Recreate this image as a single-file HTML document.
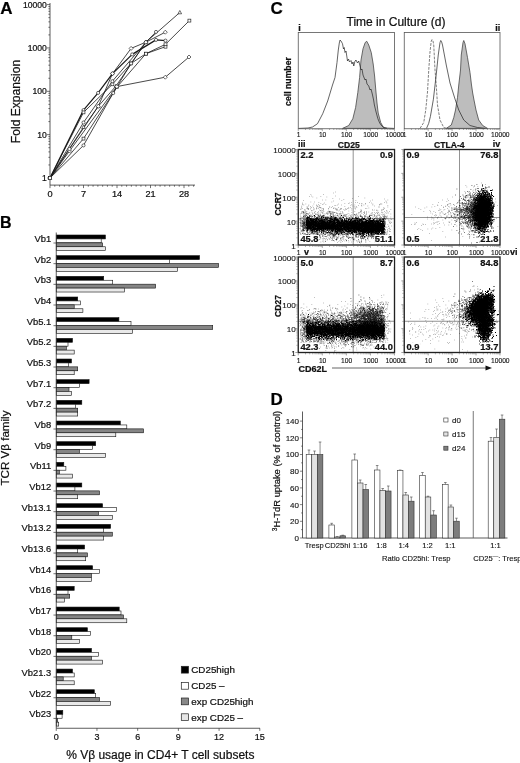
<!DOCTYPE html>
<html><head><meta charset="utf-8"><title>Figure</title>
<style>
html,body{margin:0;padding:0;background:#fff;}
body{width:520px;height:763px;overflow:hidden;font-family:"Liberation Sans",sans-serif;}
svg{display:block;font-family:"Liberation Sans",sans-serif;}
text{stroke:#111;stroke-width:0.22px;}
text.s{stroke-width:0.12px;}
#w{will-change:transform;width:520px;height:763px;}
</style></head><body><div id="w">
<svg width="520" height="763" viewBox="0 0 520 763">
<rect width="520" height="763" fill="#fff"/>
<g id="A">
<text x="0.3" y="14.4" font-size="17" font-weight="bold" fill="#000">A</text>
<line x1="50" y1="3" x2="50" y2="185.1" stroke="#333" stroke-width="0.8"/>
<line x1="50" y1="185.1" x2="195" y2="185.1" stroke="#333" stroke-width="0.8"/>
<path d="M47 178H50M48.4 164.95H50M48.4 157.32H50M48.4 151.9H50M48.4 147.7H50M48.4 144.27H50M48.4 141.36H50M48.4 138.85H50M48.4 136.63H50M47 134.65H50M48.4 121.6H50M48.4 113.97H50M48.4 108.55H50M48.4 104.35H50M48.4 100.92H50M48.4 98.01H50M48.4 95.5H50M48.4 93.28H50M47 91.3H50M48.4 78.25H50M48.4 70.62H50M48.4 65.2H50M48.4 61H50M48.4 57.57H50M48.4 54.66H50M48.4 52.15H50M48.4 49.93H50M47 47.95H50M48.4 34.9H50M48.4 27.27H50M48.4 21.85H50M48.4 17.65H50M48.4 14.22H50M48.4 11.31H50M48.4 8.8H50M48.4 6.58H50M47 4.6H50M50 185.1V188.1M54.79 185.1V186.7M59.57 185.1V186.7M64.36 185.1V186.7M69.14 185.1V186.7M73.93 185.1V186.7M78.72 185.1V186.7M83.5 185.1V188.1M88.29 185.1V186.7M93.07 185.1V186.7M97.86 185.1V186.7M102.65 185.1V186.7M107.43 185.1V186.7M112.22 185.1V186.7M117 185.1V188.1M121.79 185.1V186.7M126.58 185.1V186.7M131.36 185.1V186.7M136.15 185.1V186.7M140.93 185.1V186.7M145.72 185.1V186.7M150.51 185.1V188.1M155.29 185.1V186.7M160.08 185.1V186.7M164.86 185.1V186.7M169.65 185.1V186.7M174.44 185.1V186.7M179.22 185.1V186.7M184.01 185.1V188.1M188.79 185.1V186.7M193.58 185.1V186.7" stroke="#333" stroke-width="0.7" fill="none"/>
<text x="46.8" y="181.1" font-size="8.6" text-anchor="end" fill="#111">1</text>
<text x="46.8" y="137.75" font-size="8.6" text-anchor="end" fill="#111">10</text>
<text x="46.8" y="94.4" font-size="8.6" text-anchor="end" fill="#111">100</text>
<text x="46.8" y="51.05" font-size="8.6" text-anchor="end" fill="#111">1000</text>
<text x="46.8" y="7.7" font-size="8.6" text-anchor="end" fill="#111">10000</text>
<text x="50" y="196.9" font-size="9.2" text-anchor="middle" fill="#111">0</text>
<text x="83.5" y="196.9" font-size="9.2" text-anchor="middle" fill="#111">7</text>
<text x="117" y="196.9" font-size="9.2" text-anchor="middle" fill="#111">14</text>
<text x="150.51" y="196.9" font-size="9.2" text-anchor="middle" fill="#111">21</text>
<text x="184.01" y="196.9" font-size="9.2" text-anchor="middle" fill="#111">28</text>
<text x="20.3" y="101.5" font-size="12.1" text-anchor="middle" transform="rotate(-90 20.3 101.5)" fill="#111">Fold Expansion</text>
<path d="M50 178L83.5 110.1L98.1 92.9L112.5 73.6L132.2 54.4L156 39.9L165.5 40.6" stroke="#1a1a1a" stroke-width="1.25" fill="none" stroke-linejoin="round"/>
<path d="M50 178L83.5 112.4L112.4 84.3L131.1 63.4L145.9 53.7L165.5 46.7" stroke="#1a1a1a" stroke-width="0.8" fill="none" stroke-linejoin="round"/>
<path d="M50 178L83.5 122.5L112.4 81.2L145.9 42.2L156 31.9" stroke="#1a1a1a" stroke-width="0.8" fill="none" stroke-linejoin="round"/>
<path d="M50 178L83.5 127.2L98.3 106.3L116 86L145.9 42.2L179.8 12.5" stroke="#1a1a1a" stroke-width="0.8" fill="none" stroke-linejoin="round"/>
<path d="M50 178L83.5 138.6L117.2 86.8L145.9 53.7L165.5 44.3L189.4 20.6" stroke="#1a1a1a" stroke-width="0.8" fill="none" stroke-linejoin="round"/>
<path d="M50 178L83.5 145.4L113.2 93.1L131.1 63.4L145.9 42.2" stroke="#1a1a1a" stroke-width="0.8" fill="none" stroke-linejoin="round"/>
<path d="M50 178L69.5 151L116.8 86.6L165.3 77.2L189 57" stroke="#1a1a1a" stroke-width="0.8" fill="none" stroke-linejoin="round"/>
<path d="M50 178L69.5 149L98.3 106.3L112.5 73.6L131.1 48.4L145.9 42.2L165.3 32.2" stroke="#1a1a1a" stroke-width="0.8" fill="none" stroke-linejoin="round"/>
<circle cx="50" cy="178" r="1.55" fill="#fff" stroke="#1a1a1a" stroke-width="0.65"/>
<circle cx="83.5" cy="110.1" r="1.55" fill="#fff" stroke="#1a1a1a" stroke-width="0.65"/>
<circle cx="98.1" cy="92.9" r="1.55" fill="#fff" stroke="#1a1a1a" stroke-width="0.65"/>
<circle cx="112.5" cy="73.6" r="1.55" fill="#fff" stroke="#1a1a1a" stroke-width="0.65"/>
<circle cx="132.2" cy="54.4" r="1.55" fill="#fff" stroke="#1a1a1a" stroke-width="0.65"/>
<circle cx="156" cy="39.9" r="1.55" fill="#fff" stroke="#1a1a1a" stroke-width="0.65"/>
<circle cx="165.5" cy="40.6" r="1.55" fill="#fff" stroke="#1a1a1a" stroke-width="0.65"/>
<rect x="48.55" y="176.55" width="2.9" height="2.9" fill="#fff" stroke="#1a1a1a" stroke-width="0.65"/>
<rect x="82.05" y="110.95" width="2.9" height="2.9" fill="#fff" stroke="#1a1a1a" stroke-width="0.65"/>
<rect x="110.95" y="82.85" width="2.9" height="2.9" fill="#fff" stroke="#1a1a1a" stroke-width="0.65"/>
<rect x="129.65" y="61.95" width="2.9" height="2.9" fill="#fff" stroke="#1a1a1a" stroke-width="0.65"/>
<rect x="144.45" y="52.25" width="2.9" height="2.9" fill="#fff" stroke="#1a1a1a" stroke-width="0.65"/>
<rect x="164.05" y="45.25" width="2.9" height="2.9" fill="#fff" stroke="#1a1a1a" stroke-width="0.65"/>
<circle cx="50" cy="178" r="1.55" fill="#fff" stroke="#1a1a1a" stroke-width="0.65"/>
<circle cx="83.5" cy="122.5" r="1.55" fill="#fff" stroke="#1a1a1a" stroke-width="0.65"/>
<circle cx="112.4" cy="81.2" r="1.55" fill="#fff" stroke="#1a1a1a" stroke-width="0.65"/>
<circle cx="145.9" cy="42.2" r="1.55" fill="#fff" stroke="#1a1a1a" stroke-width="0.65"/>
<circle cx="156" cy="31.9" r="1.55" fill="#fff" stroke="#1a1a1a" stroke-width="0.65"/>
<path d="M50 176L51.8 179.3H48.2Z" fill="#fff" stroke="#1a1a1a" stroke-width="0.65"/>
<path d="M83.5 125.2L85.3 128.5H81.7Z" fill="#fff" stroke="#1a1a1a" stroke-width="0.65"/>
<path d="M98.3 104.3L100.1 107.6H96.5Z" fill="#fff" stroke="#1a1a1a" stroke-width="0.65"/>
<path d="M116 84L117.8 87.3H114.2Z" fill="#fff" stroke="#1a1a1a" stroke-width="0.65"/>
<path d="M145.9 40.2L147.7 43.5H144.1Z" fill="#fff" stroke="#1a1a1a" stroke-width="0.65"/>
<path d="M179.8 10.5L181.6 13.8H178Z" fill="#fff" stroke="#1a1a1a" stroke-width="0.65"/>
<rect x="48.55" y="176.55" width="2.9" height="2.9" fill="#fff" stroke="#1a1a1a" stroke-width="0.65"/>
<rect x="82.05" y="137.15" width="2.9" height="2.9" fill="#fff" stroke="#1a1a1a" stroke-width="0.65"/>
<rect x="115.75" y="85.35" width="2.9" height="2.9" fill="#fff" stroke="#1a1a1a" stroke-width="0.65"/>
<rect x="144.45" y="52.25" width="2.9" height="2.9" fill="#fff" stroke="#1a1a1a" stroke-width="0.65"/>
<rect x="164.05" y="42.85" width="2.9" height="2.9" fill="#fff" stroke="#1a1a1a" stroke-width="0.65"/>
<rect x="187.95" y="19.15" width="2.9" height="2.9" fill="#fff" stroke="#1a1a1a" stroke-width="0.65"/>
<circle cx="50" cy="178" r="1.55" fill="#fff" stroke="#1a1a1a" stroke-width="0.65"/>
<circle cx="83.5" cy="145.4" r="1.55" fill="#fff" stroke="#1a1a1a" stroke-width="0.65"/>
<circle cx="113.2" cy="93.1" r="1.55" fill="#fff" stroke="#1a1a1a" stroke-width="0.65"/>
<circle cx="131.1" cy="63.4" r="1.55" fill="#fff" stroke="#1a1a1a" stroke-width="0.65"/>
<circle cx="145.9" cy="42.2" r="1.55" fill="#fff" stroke="#1a1a1a" stroke-width="0.65"/>
<path d="M50 176L52 178L50 180L48 178Z" fill="#fff" stroke="#1a1a1a" stroke-width="0.65"/>
<path d="M69.5 149L71.5 151L69.5 153L67.5 151Z" fill="#fff" stroke="#1a1a1a" stroke-width="0.65"/>
<path d="M116.8 84.6L118.8 86.6L116.8 88.6L114.8 86.6Z" fill="#fff" stroke="#1a1a1a" stroke-width="0.65"/>
<path d="M165.3 75.2L167.3 77.2L165.3 79.2L163.3 77.2Z" fill="#fff" stroke="#1a1a1a" stroke-width="0.65"/>
<path d="M189 55L191 57L189 59L187 57Z" fill="#fff" stroke="#1a1a1a" stroke-width="0.65"/>
<path d="M50 176L52 178L50 180L48 178Z" fill="#fff" stroke="#1a1a1a" stroke-width="0.65"/>
<path d="M69.5 147L71.5 149L69.5 151L67.5 149Z" fill="#fff" stroke="#1a1a1a" stroke-width="0.65"/>
<path d="M98.3 104.3L100.3 106.3L98.3 108.3L96.3 106.3Z" fill="#fff" stroke="#1a1a1a" stroke-width="0.65"/>
<path d="M112.5 71.6L114.5 73.6L112.5 75.6L110.5 73.6Z" fill="#fff" stroke="#1a1a1a" stroke-width="0.65"/>
<path d="M131.1 46.4L133.1 48.4L131.1 50.4L129.1 48.4Z" fill="#fff" stroke="#1a1a1a" stroke-width="0.65"/>
<path d="M145.9 40.2L147.9 42.2L145.9 44.2L143.9 42.2Z" fill="#fff" stroke="#1a1a1a" stroke-width="0.65"/>
<path d="M165.3 30.2L167.3 32.2L165.3 34.2L163.3 32.2Z" fill="#fff" stroke="#1a1a1a" stroke-width="0.65"/>
</g>
<g id="B">
<text x="0" y="228" font-size="16" font-weight="bold" fill="#000">B</text>
<rect x="56.25" y="235" width="49.15" height="3.92" fill="#000" stroke="#111" stroke-width="0.6"/>
<rect x="56.25" y="238.92" width="44.95" height="3.92" fill="#fff" stroke="#111" stroke-width="0.6"/>
<rect x="56.25" y="242.84" width="46.35" height="3.92" fill="#858585" stroke="#111" stroke-width="0.6"/>
<rect x="56.25" y="246.76" width="49.15" height="3.92" fill="#e9e9e9" stroke="#111" stroke-width="0.6"/>
<line x1="53.45" y1="243" x2="56.25" y2="243" stroke="#333" stroke-width="0.7"/>
<text x="51.2" y="242" font-size="9.4" text-anchor="end" fill="#111">Vb1</text>
<rect x="56.25" y="255.67" width="143.25" height="3.92" fill="#000" stroke="#111" stroke-width="0.6"/>
<rect x="56.25" y="259.59" width="113.15" height="3.92" fill="#fff" stroke="#111" stroke-width="0.6"/>
<rect x="56.25" y="263.51" width="162.35" height="3.92" fill="#858585" stroke="#111" stroke-width="0.6"/>
<rect x="56.25" y="267.43" width="121.15" height="3.92" fill="#e9e9e9" stroke="#111" stroke-width="0.6"/>
<line x1="53.45" y1="263.67" x2="56.25" y2="263.67" stroke="#333" stroke-width="0.7"/>
<text x="51.2" y="262.67" font-size="9.4" text-anchor="end" fill="#111">Vb2</text>
<rect x="56.25" y="276.34" width="47.45" height="3.92" fill="#000" stroke="#111" stroke-width="0.6"/>
<rect x="56.25" y="280.26" width="56.45" height="3.92" fill="#fff" stroke="#111" stroke-width="0.6"/>
<rect x="56.25" y="284.18" width="99.35" height="3.92" fill="#858585" stroke="#111" stroke-width="0.6"/>
<rect x="56.25" y="288.1" width="68.15" height="3.92" fill="#e9e9e9" stroke="#111" stroke-width="0.6"/>
<line x1="53.45" y1="284.34" x2="56.25" y2="284.34" stroke="#333" stroke-width="0.7"/>
<text x="51.2" y="283.34" font-size="9.4" text-anchor="end" fill="#111">Vb3</text>
<rect x="56.25" y="297.01" width="21.45" height="3.92" fill="#000" stroke="#111" stroke-width="0.6"/>
<rect x="56.25" y="300.93" width="24.25" height="3.92" fill="#fff" stroke="#111" stroke-width="0.6"/>
<rect x="56.25" y="304.85" width="17.95" height="3.92" fill="#858585" stroke="#111" stroke-width="0.6"/>
<rect x="56.25" y="308.77" width="26.65" height="3.92" fill="#e9e9e9" stroke="#111" stroke-width="0.6"/>
<line x1="53.45" y1="305.01" x2="56.25" y2="305.01" stroke="#333" stroke-width="0.7"/>
<text x="51.2" y="304.01" font-size="9.4" text-anchor="end" fill="#111">Vb4</text>
<rect x="56.25" y="317.68" width="62.65" height="3.92" fill="#000" stroke="#111" stroke-width="0.6"/>
<rect x="56.25" y="321.6" width="74.75" height="3.92" fill="#fff" stroke="#111" stroke-width="0.6"/>
<rect x="56.25" y="325.52" width="156.45" height="3.92" fill="#858585" stroke="#111" stroke-width="0.6"/>
<rect x="56.25" y="329.44" width="76.15" height="3.92" fill="#e9e9e9" stroke="#111" stroke-width="0.6"/>
<line x1="53.45" y1="325.68" x2="56.25" y2="325.68" stroke="#333" stroke-width="0.7"/>
<text x="51.2" y="324.68" font-size="9.4" text-anchor="end" fill="#111">Vb5.1</text>
<rect x="56.25" y="338.35" width="16.25" height="3.92" fill="#000" stroke="#111" stroke-width="0.6"/>
<rect x="56.25" y="342.27" width="11.75" height="3.92" fill="#fff" stroke="#111" stroke-width="0.6"/>
<rect x="56.25" y="346.19" width="10.05" height="3.92" fill="#858585" stroke="#111" stroke-width="0.6"/>
<rect x="56.25" y="350.11" width="17.95" height="3.92" fill="#e9e9e9" stroke="#111" stroke-width="0.6"/>
<line x1="53.45" y1="346.35" x2="56.25" y2="346.35" stroke="#333" stroke-width="0.7"/>
<text x="51.2" y="345.35" font-size="9.4" text-anchor="end" fill="#111">Vb5.2</text>
<rect x="56.25" y="359.02" width="15.25" height="3.92" fill="#000" stroke="#111" stroke-width="0.6"/>
<rect x="56.25" y="362.94" width="12.05" height="3.92" fill="#fff" stroke="#111" stroke-width="0.6"/>
<rect x="56.25" y="366.86" width="21.45" height="3.92" fill="#858585" stroke="#111" stroke-width="0.6"/>
<rect x="56.25" y="370.78" width="17.95" height="3.92" fill="#e9e9e9" stroke="#111" stroke-width="0.6"/>
<line x1="53.45" y1="367.02" x2="56.25" y2="367.02" stroke="#333" stroke-width="0.7"/>
<text x="51.2" y="366.02" font-size="9.4" text-anchor="end" fill="#111">Vb5.3</text>
<rect x="56.25" y="379.69" width="32.85" height="3.92" fill="#000" stroke="#111" stroke-width="0.6"/>
<rect x="56.25" y="383.61" width="23.15" height="3.92" fill="#fff" stroke="#111" stroke-width="0.6"/>
<rect x="56.25" y="387.53" width="12.75" height="3.92" fill="#858585" stroke="#111" stroke-width="0.6"/>
<rect x="56.25" y="391.45" width="15.25" height="3.92" fill="#e9e9e9" stroke="#111" stroke-width="0.6"/>
<line x1="53.45" y1="387.69" x2="56.25" y2="387.69" stroke="#333" stroke-width="0.7"/>
<text x="51.2" y="386.69" font-size="9.4" text-anchor="end" fill="#111">Vb7.1</text>
<rect x="56.25" y="400.36" width="25.55" height="3.92" fill="#000" stroke="#111" stroke-width="0.6"/>
<rect x="56.25" y="404.28" width="19.05" height="3.92" fill="#fff" stroke="#111" stroke-width="0.6"/>
<rect x="56.25" y="408.2" width="21.45" height="3.92" fill="#858585" stroke="#111" stroke-width="0.6"/>
<rect x="56.25" y="412.12" width="21.45" height="3.92" fill="#e9e9e9" stroke="#111" stroke-width="0.6"/>
<line x1="53.45" y1="408.36" x2="56.25" y2="408.36" stroke="#333" stroke-width="0.7"/>
<text x="51.2" y="407.36" font-size="9.4" text-anchor="end" fill="#111">Vb7.2</text>
<rect x="56.25" y="421.03" width="64.05" height="3.92" fill="#000" stroke="#111" stroke-width="0.6"/>
<rect x="56.25" y="424.95" width="70.55" height="3.92" fill="#fff" stroke="#111" stroke-width="0.6"/>
<rect x="56.25" y="428.87" width="87.25" height="3.92" fill="#858585" stroke="#111" stroke-width="0.6"/>
<rect x="56.25" y="432.79" width="59.55" height="3.92" fill="#e9e9e9" stroke="#111" stroke-width="0.6"/>
<line x1="53.45" y1="429.03" x2="56.25" y2="429.03" stroke="#333" stroke-width="0.7"/>
<text x="51.2" y="428.03" font-size="9.4" text-anchor="end" fill="#111">Vb8</text>
<rect x="56.25" y="441.7" width="39.45" height="3.92" fill="#000" stroke="#111" stroke-width="0.6"/>
<rect x="56.25" y="445.62" width="36.35" height="3.92" fill="#fff" stroke="#111" stroke-width="0.6"/>
<rect x="56.25" y="449.54" width="23.15" height="3.92" fill="#858585" stroke="#111" stroke-width="0.6"/>
<rect x="56.25" y="453.46" width="49.15" height="3.92" fill="#e9e9e9" stroke="#111" stroke-width="0.6"/>
<line x1="53.45" y1="449.7" x2="56.25" y2="449.7" stroke="#333" stroke-width="0.7"/>
<text x="51.2" y="448.7" font-size="9.4" text-anchor="end" fill="#111">Vb9</text>
<rect x="56.25" y="462.37" width="7.55" height="3.92" fill="#000" stroke="#111" stroke-width="0.6"/>
<rect x="56.25" y="466.29" width="9.65" height="3.92" fill="#fff" stroke="#111" stroke-width="0.6"/>
<rect x="56.25" y="470.21" width="3.05" height="3.92" fill="#858585" stroke="#111" stroke-width="0.6"/>
<rect x="56.25" y="474.13" width="16.25" height="3.92" fill="#e9e9e9" stroke="#111" stroke-width="0.6"/>
<line x1="53.45" y1="470.37" x2="56.25" y2="470.37" stroke="#333" stroke-width="0.7"/>
<text x="51.2" y="469.37" font-size="9.4" text-anchor="end" fill="#111">Vb11</text>
<rect x="56.25" y="483.04" width="25.55" height="3.92" fill="#000" stroke="#111" stroke-width="0.6"/>
<rect x="56.25" y="486.96" width="18.65" height="3.92" fill="#fff" stroke="#111" stroke-width="0.6"/>
<rect x="56.25" y="490.88" width="43.25" height="3.92" fill="#858585" stroke="#111" stroke-width="0.6"/>
<rect x="56.25" y="494.8" width="21.45" height="3.92" fill="#e9e9e9" stroke="#111" stroke-width="0.6"/>
<line x1="53.45" y1="491.04" x2="56.25" y2="491.04" stroke="#333" stroke-width="0.7"/>
<text x="51.2" y="490.04" font-size="9.4" text-anchor="end" fill="#111">Vb12</text>
<rect x="56.25" y="503.71" width="46.35" height="3.92" fill="#000" stroke="#111" stroke-width="0.6"/>
<rect x="56.25" y="507.63" width="60.25" height="3.92" fill="#fff" stroke="#111" stroke-width="0.6"/>
<rect x="56.25" y="511.55" width="42.25" height="3.92" fill="#858585" stroke="#111" stroke-width="0.6"/>
<rect x="56.25" y="515.47" width="56.05" height="3.92" fill="#e9e9e9" stroke="#111" stroke-width="0.6"/>
<line x1="53.45" y1="511.71" x2="56.25" y2="511.71" stroke="#333" stroke-width="0.7"/>
<text x="51.2" y="510.71" font-size="9.4" text-anchor="end" fill="#111">Vb13.1</text>
<rect x="56.25" y="524.38" width="54.35" height="3.92" fill="#000" stroke="#111" stroke-width="0.6"/>
<rect x="56.25" y="528.3" width="47.45" height="3.92" fill="#fff" stroke="#111" stroke-width="0.6"/>
<rect x="56.25" y="532.22" width="56.05" height="3.92" fill="#858585" stroke="#111" stroke-width="0.6"/>
<rect x="56.25" y="536.14" width="47.45" height="3.92" fill="#e9e9e9" stroke="#111" stroke-width="0.6"/>
<line x1="53.45" y1="532.38" x2="56.25" y2="532.38" stroke="#333" stroke-width="0.7"/>
<text x="51.2" y="531.38" font-size="9.4" text-anchor="end" fill="#111">Vb13.2</text>
<rect x="56.25" y="545.05" width="28.35" height="3.92" fill="#000" stroke="#111" stroke-width="0.6"/>
<rect x="56.25" y="548.97" width="21.45" height="3.92" fill="#fff" stroke="#111" stroke-width="0.6"/>
<rect x="56.25" y="552.89" width="31.15" height="3.92" fill="#858585" stroke="#111" stroke-width="0.6"/>
<rect x="56.25" y="556.81" width="29.45" height="3.92" fill="#e9e9e9" stroke="#111" stroke-width="0.6"/>
<line x1="53.45" y1="553.05" x2="56.25" y2="553.05" stroke="#333" stroke-width="0.7"/>
<text x="51.2" y="552.05" font-size="9.4" text-anchor="end" fill="#111">Vb13.6</text>
<rect x="56.25" y="565.72" width="36.35" height="3.92" fill="#000" stroke="#111" stroke-width="0.6"/>
<rect x="56.25" y="569.64" width="43.25" height="3.92" fill="#fff" stroke="#111" stroke-width="0.6"/>
<rect x="56.25" y="573.56" width="35.25" height="3.92" fill="#858585" stroke="#111" stroke-width="0.6"/>
<rect x="56.25" y="577.48" width="35.25" height="3.92" fill="#e9e9e9" stroke="#111" stroke-width="0.6"/>
<line x1="53.45" y1="573.72" x2="56.25" y2="573.72" stroke="#333" stroke-width="0.7"/>
<text x="51.2" y="572.72" font-size="9.4" text-anchor="end" fill="#111">Vb14</text>
<rect x="56.25" y="586.39" width="17.95" height="3.92" fill="#000" stroke="#111" stroke-width="0.6"/>
<rect x="56.25" y="590.31" width="11.75" height="3.92" fill="#fff" stroke="#111" stroke-width="0.6"/>
<rect x="56.25" y="594.23" width="13.45" height="3.92" fill="#858585" stroke="#111" stroke-width="0.6"/>
<rect x="56.25" y="598.15" width="8.25" height="3.92" fill="#e9e9e9" stroke="#111" stroke-width="0.6"/>
<line x1="53.45" y1="594.39" x2="56.25" y2="594.39" stroke="#333" stroke-width="0.7"/>
<text x="51.2" y="593.39" font-size="9.4" text-anchor="end" fill="#111">Vb16</text>
<rect x="56.25" y="607.06" width="62.95" height="3.92" fill="#000" stroke="#111" stroke-width="0.6"/>
<rect x="56.25" y="610.98" width="64.75" height="3.92" fill="#fff" stroke="#111" stroke-width="0.6"/>
<rect x="56.25" y="614.9" width="67.15" height="3.92" fill="#858585" stroke="#111" stroke-width="0.6"/>
<rect x="56.25" y="618.82" width="70.55" height="3.92" fill="#e9e9e9" stroke="#111" stroke-width="0.6"/>
<line x1="53.45" y1="615.06" x2="56.25" y2="615.06" stroke="#333" stroke-width="0.7"/>
<text x="51.2" y="614.06" font-size="9.4" text-anchor="end" fill="#111">Vb17</text>
<rect x="56.25" y="627.73" width="31.15" height="3.92" fill="#000" stroke="#111" stroke-width="0.6"/>
<rect x="56.25" y="631.65" width="34.25" height="3.92" fill="#fff" stroke="#111" stroke-width="0.6"/>
<rect x="56.25" y="635.57" width="15.55" height="3.92" fill="#858585" stroke="#111" stroke-width="0.6"/>
<rect x="56.25" y="639.49" width="23.15" height="3.92" fill="#e9e9e9" stroke="#111" stroke-width="0.6"/>
<line x1="53.45" y1="635.73" x2="56.25" y2="635.73" stroke="#333" stroke-width="0.7"/>
<text x="51.2" y="634.73" font-size="9.4" text-anchor="end" fill="#111">Vb18</text>
<rect x="56.25" y="648.4" width="35.25" height="3.92" fill="#000" stroke="#111" stroke-width="0.6"/>
<rect x="56.25" y="652.32" width="42.25" height="3.92" fill="#fff" stroke="#111" stroke-width="0.6"/>
<rect x="56.25" y="656.24" width="35.25" height="3.92" fill="#858585" stroke="#111" stroke-width="0.6"/>
<rect x="56.25" y="660.16" width="46.35" height="3.92" fill="#e9e9e9" stroke="#111" stroke-width="0.6"/>
<line x1="53.45" y1="656.4" x2="56.25" y2="656.4" stroke="#333" stroke-width="0.7"/>
<text x="51.2" y="655.4" font-size="9.4" text-anchor="end" fill="#111">Vb20</text>
<rect x="56.25" y="669.07" width="16.25" height="3.92" fill="#000" stroke="#111" stroke-width="0.6"/>
<rect x="56.25" y="672.99" width="17.95" height="3.92" fill="#fff" stroke="#111" stroke-width="0.6"/>
<rect x="56.25" y="676.91" width="6.95" height="3.92" fill="#858585" stroke="#111" stroke-width="0.6"/>
<rect x="56.25" y="680.83" width="17.95" height="3.92" fill="#e9e9e9" stroke="#111" stroke-width="0.6"/>
<line x1="53.45" y1="677.07" x2="56.25" y2="677.07" stroke="#333" stroke-width="0.7"/>
<text x="51.2" y="676.07" font-size="9.4" text-anchor="end" fill="#111">Vb21.3</text>
<rect x="56.25" y="689.74" width="38.05" height="3.92" fill="#000" stroke="#111" stroke-width="0.6"/>
<rect x="56.25" y="693.66" width="39.45" height="3.92" fill="#fff" stroke="#111" stroke-width="0.6"/>
<rect x="56.25" y="697.58" width="43.25" height="3.92" fill="#858585" stroke="#111" stroke-width="0.6"/>
<rect x="56.25" y="701.5" width="54.35" height="3.92" fill="#e9e9e9" stroke="#111" stroke-width="0.6"/>
<line x1="53.45" y1="697.74" x2="56.25" y2="697.74" stroke="#333" stroke-width="0.7"/>
<text x="51.2" y="696.74" font-size="9.4" text-anchor="end" fill="#111">Vb22</text>
<rect x="56.25" y="710.41" width="6.55" height="3.92" fill="#000" stroke="#111" stroke-width="0.6"/>
<rect x="56.25" y="714.33" width="5.85" height="3.92" fill="#fff" stroke="#111" stroke-width="0.6"/>
<rect x="56.25" y="718.25" width="1.35" height="3.92" fill="#858585" stroke="#111" stroke-width="0.6"/>
<rect x="56.25" y="722.17" width="2.45" height="3.92" fill="#e9e9e9" stroke="#111" stroke-width="0.6"/>
<line x1="53.45" y1="718.41" x2="56.25" y2="718.41" stroke="#333" stroke-width="0.7"/>
<text x="51.2" y="717.41" font-size="9.4" text-anchor="end" fill="#111">Vb23</text>
<line x1="56.25" y1="232.5" x2="56.25" y2="728.25" stroke="#333" stroke-width="0.8"/>
<line x1="56.25" y1="728.25" x2="260" y2="728.25" stroke="#333" stroke-width="0.8"/>
<line x1="56.25" y1="728.25" x2="56.25" y2="730.85" stroke="#333" stroke-width="0.7"/>
<text x="56.25" y="740" font-size="9" text-anchor="middle" fill="#111">0</text>
<line x1="96.96" y1="728.25" x2="96.96" y2="730.85" stroke="#333" stroke-width="0.7"/>
<text x="96.96" y="740" font-size="9" text-anchor="middle" fill="#111">3</text>
<line x1="137.67" y1="728.25" x2="137.67" y2="730.85" stroke="#333" stroke-width="0.7"/>
<text x="137.67" y="740" font-size="9" text-anchor="middle" fill="#111">6</text>
<line x1="178.38" y1="728.25" x2="178.38" y2="730.85" stroke="#333" stroke-width="0.7"/>
<text x="178.38" y="740" font-size="9" text-anchor="middle" fill="#111">9</text>
<line x1="219.09" y1="728.25" x2="219.09" y2="730.85" stroke="#333" stroke-width="0.7"/>
<text x="219.09" y="740" font-size="9" text-anchor="middle" fill="#111">12</text>
<line x1="259.8" y1="728.25" x2="259.8" y2="730.85" stroke="#333" stroke-width="0.7"/>
<text x="259.8" y="740" font-size="9" text-anchor="middle" fill="#111">15</text>
<text x="160.3" y="758.7" font-size="12" text-anchor="middle" fill="#111">% Vβ usage in CD4+ T cell subsets</text>
<text x="9.2" y="448" font-size="11.6" text-anchor="middle" transform="rotate(-90 9.2 448)" fill="#111">TCR Vβ family</text>
<rect x="181.3" y="666.3" width="7.2" height="6.8" fill="#000" stroke="#222" stroke-width="0.7"/>
<text x="191.3" y="673.2" font-size="9.8" fill="#111">CD25high</text>
<rect x="181.3" y="682.4" width="7.2" height="6.8" fill="#fff" stroke="#222" stroke-width="0.7"/>
<text x="191.3" y="689.3" font-size="9.8" fill="#111">CD25 –</text>
<rect x="181.3" y="698" width="7.2" height="6.8" fill="#888" stroke="#222" stroke-width="0.7"/>
<text x="191.3" y="704.9" font-size="9.8" fill="#111">exp CD25high</text>
<rect x="181.3" y="713.8" width="7.2" height="6.8" fill="#e6e6e6" stroke="#222" stroke-width="0.7"/>
<text x="191.3" y="720.7" font-size="9.8" fill="#111">exp CD25 –</text>
</g>
<g id="C">
<text x="270.5" y="14.3" font-size="17" font-weight="bold" fill="#000">C</text>
<text x="396" y="26" font-size="12" text-anchor="middle" fill="#111">Time in Culture (d)</text>
<text x="298.2" y="31" font-size="9" font-weight="bold" fill="#111">i</text>
<text x="500.3" y="31" font-size="9" text-anchor="end" font-weight="bold" fill="#111">ii</text>
<text x="290.5" y="81.5" font-size="8.7" text-anchor="middle" font-weight="bold" transform="rotate(-90 290.5 81.5)" fill="#111">cell number</text>
<path d="M342.5 128.4L348.75 125.5L352.8 118.75L355.6 107.5L357.8 92.5L359.6 77.5L361 60L363 48.75L365.2 42.5L366.75 41.25L368.75 45L371.25 52.5L373.2 64L374.6 76L375.8 90L377 103L378.2 113L380.7 122.5L383.2 127L387 128.4Z" fill="#bdbdbd" stroke="#333" stroke-width="0.7"/>
<path d="M299 128.4L308 128L312.5 127L317.5 123.7L322.7 113.75L327.7 101L332.5 85L335 77.5L337 62.5L338.3 50L339.3 43L340 40L341 41L342.5 43.75L343.5 49L344.2 47.5L345 52.5L346 51L347.5 61L348.5 59L349.5 62L351 60.5L352 64L353 62L353.75 66L355 61L356 60L357.5 63L358.75 61L360 66L361 70L362 69L363 75L365 80L366 79L367 84L368.75 86L370 90L371 89L372.3 94L373.6 100L374.4 105L375.8 111L377.9 118.75L379.7 123L381.8 126L384.3 128L394 128.4" fill="none" stroke="#222" stroke-width="0.7"/>
<path d="M446.25 128.4L451.25 125L453.75 117.5L455.5 110L457.5 97.5L458.75 85L460.5 70L461.25 55L463 42.5L463.75 40.5L465 43.75L467.5 57.5L470 72.5L471.5 85L472.7 93L474 100L476 110L478.7 120L482.7 125.5L487.5 128.4Z" fill="#bdbdbd" stroke="#333" stroke-width="0.7"/>
<path d="M420 128.4L423.75 122.5L425.75 110L427.5 92L428.75 70L430 52L431.25 41L432 39.5L433 41L433.75 45L435 70L436.25 85L437.5 105L440 120L443.75 127.5L447 128.4" fill="none" stroke="#808080" stroke-width="1" stroke-dasharray="2.8 1.2"/>
<path d="M426.5 128.4L428.7 123.4L430.4 116.5L433.4 99.2L435.4 81.9L436.4 73L438.25 55L440 42.5L440.75 40.5L441.5 41.5L442.5 45L446.25 65L450 83L455 99L458.75 110L463.75 120L470 125.5L477.5 127.5L485 128.4" fill="none" stroke="#222" stroke-width="0.7"/>
<rect x="298.25" y="32.5" width="96.25" height="96.25" fill="none" stroke="#555" stroke-width="0.8"/>
<path d="M298.25 128.75v2.4M305.49 128.75v1.2M309.73 128.75v1.2M312.74 128.75v1.2M315.07 128.75v1.2M316.97 128.75v1.2M318.59 128.75v1.2M319.98 128.75v1.2M321.21 128.75v1.2M322.31 128.75v2.4M329.56 128.75v1.2M333.79 128.75v1.2M336.8 128.75v1.2M339.13 128.75v1.2M341.04 128.75v1.2M342.65 128.75v1.2M344.04 128.75v1.2M345.27 128.75v1.2M346.38 128.75v2.4M353.62 128.75v1.2M357.86 128.75v1.2M360.86 128.75v1.2M363.19 128.75v1.2M365.1 128.75v1.2M366.71 128.75v1.2M368.11 128.75v1.2M369.34 128.75v1.2M370.44 128.75v2.4M377.68 128.75v1.2M381.92 128.75v1.2M384.92 128.75v1.2M387.26 128.75v1.2M389.16 128.75v1.2M390.77 128.75v1.2M392.17 128.75v1.2M393.4 128.75v1.2M394.5 128.75v2.4" stroke="#555" stroke-width="0.5" fill="none"/>
<text x="298.55" y="137.4" font-size="6.7" class="s" text-anchor="middle" fill="#111">1</text>
<text x="322.61" y="137.4" font-size="6.7" class="s" text-anchor="middle" fill="#111">10</text>
<text x="346.68" y="137.4" font-size="6.7" class="s" text-anchor="middle" fill="#111">100</text>
<text x="370.74" y="137.4" font-size="6.7" class="s" text-anchor="middle" fill="#111">1000</text>
<text x="394.8" y="137.4" font-size="6.7" class="s" text-anchor="middle" fill="#111">10000</text>
<rect x="404.25" y="32.5" width="95.75" height="96.25" fill="none" stroke="#555" stroke-width="0.8"/>
<path d="M404.25 128.75v2.4M411.46 128.75v1.2M415.67 128.75v1.2M418.66 128.75v1.2M420.98 128.75v1.2M422.88 128.75v1.2M424.48 128.75v1.2M425.87 128.75v1.2M427.09 128.75v1.2M428.19 128.75v2.4M435.39 128.75v1.2M439.61 128.75v1.2M442.6 128.75v1.2M444.92 128.75v1.2M446.81 128.75v1.2M448.42 128.75v1.2M449.81 128.75v1.2M451.03 128.75v1.2M452.12 128.75v2.4M459.33 128.75v1.2M463.55 128.75v1.2M466.54 128.75v1.2M468.86 128.75v1.2M470.75 128.75v1.2M472.35 128.75v1.2M473.74 128.75v1.2M474.97 128.75v1.2M476.06 128.75v2.4M483.27 128.75v1.2M487.48 128.75v1.2M490.47 128.75v1.2M492.79 128.75v1.2M494.69 128.75v1.2M496.29 128.75v1.2M497.68 128.75v1.2M498.9 128.75v1.2M500 128.75v2.4" stroke="#555" stroke-width="0.5" fill="none"/>
<text x="404.55" y="137.4" font-size="6.7" class="s" text-anchor="middle" fill="#111">1</text>
<text x="428.49" y="137.4" font-size="6.7" class="s" text-anchor="middle" fill="#111">10</text>
<text x="452.43" y="137.4" font-size="6.7" class="s" text-anchor="middle" fill="#111">100</text>
<text x="476.36" y="137.4" font-size="6.7" class="s" text-anchor="middle" fill="#111">1000</text>
<text x="500.3" y="137.4" font-size="6.7" class="s" text-anchor="middle" fill="#111">10000</text>
<text x="298" y="147.3" font-size="9" font-weight="bold" fill="#111">iii</text>
<text x="348.8" y="147.5" font-size="8.6" text-anchor="middle" font-weight="bold" fill="#111">CD25</text>
<text x="449.3" y="147.5" font-size="8.6" text-anchor="middle" font-weight="bold" fill="#111">CTLA-4</text>
<text x="500.3" y="147.3" font-size="9" text-anchor="end" font-weight="bold" fill="#111">iv</text>
<line x1="353.2" y1="149.5" x2="353.2" y2="245" stroke="#777" stroke-width="0.8"/>
<line x1="298.25" y1="218.75" x2="394.5" y2="218.75" stroke="#777" stroke-width="0.8"/>
<line x1="459.5" y1="149.5" x2="459.5" y2="245" stroke="#777" stroke-width="0.8"/>
<line x1="404.25" y1="217.5" x2="500" y2="217.5" stroke="#777" stroke-width="0.8"/>
<line x1="353.2" y1="257" x2="353.2" y2="352.5" stroke="#777" stroke-width="0.8"/>
<line x1="298.25" y1="321.25" x2="394.5" y2="321.25" stroke="#777" stroke-width="0.8"/>
<line x1="459.5" y1="257" x2="459.5" y2="352.5" stroke="#777" stroke-width="0.8"/>
<line x1="404.25" y1="321.25" x2="500" y2="321.25" stroke="#777" stroke-width="0.8"/>
<path d="M328.5 211.5h0.7M306.5 208.5h0.7M347 217h0.7M344.5 216.5h0.7M303.5 216h0.7M308 217.5h0.7M337.5 217h0.7M319.5 215h0.7M355 208h0.7M335 215h0.7M386 202h0.7M325.5 214h0.7M312.5 213.5h0.7M372 214h0.7M316 208h0.7M333 212.5h0.7M348 216h0.7M318 218h0.7M360 212h0.7M351.5 215.5h0.7M340 214h0.7M361.5 204h0.7M321.5 209h0.7M377 214h0.7M364 213h0.7M310.5 194.5h0.7M337 219h0.7M343 214h0.7M303.5 211.5h0.7M350.5 205.5h0.7M377 213.5h0.7M352.5 206h0.7M351 202.5h0.7M383 214.5h0.7M341.5 217.5h0.7M361.5 216.5h0.7M357 202.5h0.7M325 218.5h0.7M334 218h0.7M340.5 217.5h0.7M315 216.5h0.7M367.5 217h0.7M311.5 219h0.7M376.5 210h0.7M307 208h0.7M377.5 215.5h0.7M336.5 213.5h0.7M331.5 202h0.7M313.5 204h0.7M315.5 218.5h0.7M342.5 212.5h0.7M352 219h0.7M337 218h0.7M332.5 198.5h0.7M361 210h0.7M345.5 209h0.7M305 210h0.7M379 215.5h0.7M370 201h0.7M334.5 215.5h0.7M356 216.5h0.7M305.5 213.5h0.7M314.5 216.5h0.7M330 219h0.7M313.5 219h0.7M309 217.5h0.7M377 217.5h0.7M354 215h0.7M330.5 213.5h0.7M332 206.5h0.7M387.5 207h0.7M341 215h0.7M309 218.5h0.7M330 217.5h0.7M314 202h0.7M302 208.5h0.7M313 215.5h0.7M348 208h0.7M386 217h0.7M376 216.5h0.7M332.5 212.5h0.7M314.5 217.5h0.7M368.5 208h0.7M329 216h0.7M386.5 203h0.7M375 213.5h0.7M365 203.5h0.7M320 210.5h0.7M302.5 218h0.7M302.5 217.5h0.7M361 212h0.7M384 199h0.7M387 212h0.7M384 215h0.7M320 214h0.7M317.5 215.5h0.7M379 207h0.7M374 206h0.7M370.5 217.5h0.7M307.5 208.5h0.7M369 202.5h0.7M366 213.5h0.7M369.5 218h0.7M329.5 211.5h0.7M335 196h0.7M335.5 205.5h0.7M315 214.5h0.7M311 207.5h0.7M371 203h0.7M313 207.5h0.7M358 196.5h0.7M331 214.5h0.7M301.5 217.5h0.7M385.5 212.5h0.7M382 210h0.7M338 207.5h0.7M318.5 207h0.7M322 217h0.7M351.5 212.5h0.7M323 215h0.7M380 216.5h0.7M331 207.5h0.7M379.5 216h0.7M337 210h0.7M347 214h0.7M346 209.5h0.7M316 218h0.7M300.5 217.5h0.7M341.5 213.5h0.7M364 211.5h0.7M345.5 216h0.7M349 218h0.7M349.5 215h0.7M322 216.5h0.7M344.5 203.5h0.7M349.5 218h0.7M339 199h0.7M354 208h0.7M361 218.5h0.7M340 209h0.7M383 217h0.7M361.5 203.5h0.7M323 204h0.7M349 203h0.7M312 213h0.7M310.5 215.5h0.7M321 218h0.7M306.5 211.5h0.7M379 205h0.7M313.5 216h0.7M312.5 206h0.7M377.5 213h0.7M384 217.5h0.7M335 192h0.7M373.5 217h0.7M314 209h0.7M330 214.5h0.7M317 213h0.7M301.5 206h0.7M349 217.5h0.7M329 218.5h0.7M355 215.5h0.7M386.5 218.5h0.7M369.5 215h0.7M323.5 218.5h0.7M303.5 217.5h0.7M311.5 212h0.7M337 205h0.7M323 210h0.7M313 209h0.7M361.5 213.5h0.7M308 206h0.7M337.5 214h0.7M306.5 207h0.7M370.5 214h0.7M307.5 217h0.7M340 213h0.7M381.5 209.5h0.7M323.5 211.5h0.7M321 211h0.7M309.5 217.5h0.7M318 216.5h0.7M327.5 214h0.7M325.5 204.5h0.7M344 215.5h0.7M301.5 211.5h0.7M322 204.5h0.7M348.5 217.5h0.7M316.5 198h0.7M309.5 215.5h0.7M372 209.5h0.7M373.5 214.5h0.7M334.5 205.5h0.7M330 212h0.7M356 206.5h0.7M335.5 217.5h0.7M311.5 216.5h0.7M306 218.5h0.7M314.5 212h0.7M307.5 209h0.7M359 203.5h0.7M340.5 211.5h0.7M314 212.5h0.7M384.5 216.5h0.7M385 217h0.7M327 218.5h0.7M333.5 218.5h0.7M342 213h0.7M344.5 219h0.7M300.5 218.5h0.7M320.5 218h0.7M351.5 204.5h0.7M358 216.5h0.7M363 212.5h0.7M328.5 213h0.7M386.5 210.5h0.7M356.5 207.5h0.7M304 209.5h0.7M355 202.5h0.7M364.5 217h0.7M346 214.5h0.7M344.5 210.5h0.7M372.5 205h0.7M351.5 208.5h0.7M361 210.5h0.7M320 214.5h0.7M331.5 218h0.7M309 213h0.7M355 209h0.7M355 214.5h0.7M300.5 209.5h0.7M370 219h0.7M347 208.5h0.7M358 205.5h0.7M322 213h0.7M306.5 217.5h0.7M318 204.5h0.7M365 208.5h0.7M333.5 217.5h0.7M354.5 205h0.7M356.5 214.5h0.7M322.5 216.5h0.7M365.5 215h0.7M301 208h0.7M305.5 217.5h0.7M361 205.5h0.7M359.5 216h0.7M341 208.5h0.7M341 205h0.7M317.5 206h0.7M386 217.5h0.7M340.5 218.5h0.7M323.5 217h0.7M318.5 213h0.7M351 217h0.7M312.5 197h0.7M311.5 215.5h0.7M372 200h0.7M362 218h0.7M320.5 210.5h0.7M302 213h0.7M300.5 209h0.7M326.5 218.5h0.7M312.5 214.5h0.7M374 212.5h0.7M300 219h0.7M310.5 202h0.7M381.5 214.5h0.7M325.5 200h0.7M333 193h0.7M352 198.5h0.7M331.5 212.5h0.7M304 216h0.7M309 215.5h0.7M382.5 212.5h0.7M322 218h0.7M316.5 208.5h0.7M333 201h0.7M371.5 214h0.7M355.5 200.5h0.7M348.5 208h0.7M363.5 205h0.7M339.5 214.5h0.7M366 214.5h0.7M304.5 213h0.7M381.5 212h0.7M330 211.5h0.7M326 217.5h0.7M323 194.5h0.7M357.5 215.5h0.7M334.5 208h0.7M314.5 216h0.7M379.5 214h0.7M343.5 215.5h0.7M387.5 200h0.7M339.5 215h0.7M308 214.5h0.7M330 213.5h0.7M322.5 215.5h0.7M350 207.5h0.7M336.5 209.5h0.7M336.5 210.5h0.7M305.5 215h0.7M311 196h0.7M344.5 206.5h0.7M319 206h0.7M324 219h0.7M339 210h0.7M384 208.5h0.7M302 204h0.7M303 214h0.7M341.5 200.5h0.7M351.5 210h0.7M381.5 219h0.7M372.5 204h0.7M322 200h0.7M309.5 213h0.7M360 210h0.7M383 216.5h0.7M367.5 206h0.7M340 216.5h0.7M369 218h0.7M320.5 207.5h0.7M326.5 212.5h0.7M361.5 206h0.7M310 209h0.7M351.5 214.5h0.7M334 217h0.7M301 207h0.7M326.5 197h0.7M356.5 213.5h0.7M378 212.5h0.7M321.5 218h0.7M384.5 217h0.7M302 211.5h0.7M344 214.5h0.7M322.5 210.5h0.7M358.5 213h0.7M303 216h0.7M329.5 207h0.7M317.5 212.5h0.7M370 218.5h0.7M318 208.5h0.7M320.5 203.5h0.7M319.5 218.5h0.7M384 211.5h0.7M343.5 216.5h0.7M336.5 213h0.7M358.5 214h0.7M334.5 217.5h0.7M318.5 214h0.7M304.5 218h0.7M305.5 204h0.7M378 207h0.7M364.5 198h0.7M316.5 205.5h0.7M303 213h0.7M358.5 212.5h0.7M329 213h0.7M315 211.5h0.7M331 219h0.7M384 202.5h0.7M318.5 202.5h0.7M331.5 211.5h0.7M338 204h0.7M304.5 210.5h0.7M381 217.5h0.7M317 206.5h0.7M302.5 204.5h0.7M336 213h0.7M303.5 205h0.7M303 200.5h0.7M322.5 211h0.7M366 212.5h0.7M324 214h0.7M384.5 214h0.7M363 214.5h0.7M328 219h0.7M366.5 218h0.7M380.5 204.5h0.7M302 203h0.7M320.5 196.5h0.7M384 215.5h0.7M334 219h0.7M343.5 209.5h0.7M381.5 212.5h0.7M365 204h0.7M372.5 217h0.7M329 207h0.7M328 209h0.7M307 207h0.7M317.5 219h0.7M305.5 212h0.7M303 211.5h0.7M386.5 216.5h0.7M377.5 212h0.7M307.5 218.5h0.7M308.5 205h0.7M339.5 219h0.7M320.5 208h0.7M359.5 212.5h0.7M366 211.5h0.7M310.5 208h0.7M374 216h0.7M333 208h0.7M365 217h0.7M321.5 212.5h0.7M313.5 210h0.7M328.5 211h0.7M335 208.5h0.7M320.5 218.5h0.7M309 196.5h0.7M342 211.5h0.7M380.5 203.5h0.7M303.5 218h0.7M316.5 214.5h0.7M385.5 201h0.7M333 208.5h0.7M376 212.5h0.7M368.5 217h0.7M383 209.5h0.7M354.5 211.5h0.7M319 215.5h0.7M318 215.5h0.7M322.5 208.5h0.7M318 211.5h0.7M301 212.5h0.7M316.5 207h0.7M327.5 214.5h0.7M348 203.5h0.7M305.5 211.5h0.7M348.5 213.5h0.7M356 214.5h0.7M361 216h0.7M336 217.5h0.7M327.5 211.5h0.7M336.5 215.5h0.7M376 210.5h0.7M364 218.5h0.7M379.5 218h0.7M337.5 215h0.7M377.5 210.5h0.7M340.5 218h0.7M356.5 215.5h0.7M355 217h0.7M332.5 214h0.7M325 219h0.7M346 215h0.7M343 217h0.7M371 213h0.7M311 218h0.7M383 209h0.7M304.5 217.5h0.7M381.5 204h0.7M354.5 206.5h0.7M372.5 210.5h0.7M319.5 205.5h0.7M335.5 209.5h0.7M316 205h0.7M319 210h0.7M334 212.5h0.7M311 218.5h0.7M379 204.5h0.7M303.5 213h0.7M374 210h0.7M348.5 211h0.7M355 216h0.7M337.5 213.5h0.7M338.5 211h0.7M320.5 212h0.7M367 217h0.7M316 209h0.7M341.5 215.5h0.7M338 216h0.7M308 209h0.7M303.5 215h0.7M368.5 212h0.7M345 209h0.7M333.5 215.5h0.7M383.5 207.5h0.7M387.5 205.5h0.7M364.5 216.5h0.7M386.5 213.5h0.7M343.5 199.5h0.7M314.5 213.5h0.7M369.5 216h0.7M331 217.5h0.7M366.5 208.5h0.7M324 203h0.7M372 212.5h0.7M381 210.5h0.7M318.5 218h0.7M328 208.5h0.7M303 217h0.7M382.5 214h0.7M360 214.5h0.7M369 215.5h0.7M310 206.5h0.7M331.5 216.5h0.7M377 240h0.7M377.5 235.5h0.7M309 240.5h0.7M334.5 233.5h0.7M370 234.5h0.7M331.5 233.5h0.7M315.5 239h0.7M365.5 242.5h0.7M322.5 236h0.7M356.5 240.5h0.7M358.5 233.5h0.7M327.5 234.5h0.7M313 233h0.7M354 239h0.7M379 235.5h0.7M311.5 234h0.7M302 241h0.7M300 234.5h0.7M331.5 235h0.7M319.5 239.5h0.7M318 236.5h0.7M355 236h0.7M382.5 233.5h0.7M321.5 234.5h0.7M356 235h0.7M376.5 234h0.7M323.5 238.5h0.7M301 237.5h0.7M331 238.5h0.7M364.5 237.5h0.7M322 234.5h0.7M347 234h0.7M335.5 233h0.7M368.5 235h0.7M312.5 237h0.7M317.5 238h0.7M356.5 237h0.7M371.5 235h0.7M326.5 237h0.7M304.5 240.5h0.7M363 239h0.7M300.5 238h0.7M341 240.5h0.7M365.5 237h0.7M309.5 234h0.7M320.5 238h0.7M366 234h0.7M361 238h0.7M323.5 240h0.7M348.5 242h0.7M346 237h0.7M323.5 242h0.7M377.5 237.5h0.7M321 233.5h0.7M365.5 241.5h0.7M329 236h0.7M377.5 235h0.7M380 236.5h0.7M355.5 236h0.7M386 240.5h0.7M341.5 237.5h0.7M375.5 240h0.7M338.5 234h0.7M327 240h0.7M318.5 234.5h0.7M380 234.5h0.7M312.5 235.5h0.7M381.5 233.5h0.7M330.5 234h0.7M303.5 234h0.7M361 238.5h0.7M365 239.5h0.7M306 237.5h0.7M372 236h0.7M372 234.5h0.7M376.5 234.5h0.7M380.5 235.5h0.7M318 234h0.7M310 243.5h0.7M371.5 235.5h0.7M356 236.5h0.7M325.5 240h0.7M318 238.5h0.7M328 234h0.7M322.5 233.5h0.7M325 234h0.7M328 238h0.7M354.5 233.5h0.7M302.5 238h0.7M368 236h0.7M330.5 235h0.7M319 239.5h0.7M376 241.5h0.7M315 238.5h0.7M300 236h0.7M386 242h0.7M300.5 239.5h0.7M370 233.5h0.7M316 238h0.7M373 233h0.7M323 237h0.7M319 234.5h0.7M361.5 235.5h0.7M356 233h0.7M307 235h0.7M369.5 241.5h0.7M355.5 236.5h0.7M334.5 237.5h0.7M378.5 243h0.7M302 239h0.7M333.5 236h0.7M340.5 235.5h0.7M347 233.5h0.7M357 242h0.7M330.5 234.5h0.7M374 236h0.7M358.5 233h0.7M338.5 236.5h0.7M368 235.5h0.7M340.5 234.5h0.7M378 233.5h0.7M326.5 236.5h0.7M362 235h0.7M313.5 235.5h0.7M322 236h0.7M314 239h0.7M329 238.5h0.7M309 235.5h0.7M334 233.5h0.7M386.5 235.5h0.7M338.5 241.5h0.7M317.5 234.5h0.7M318 235h0.7M334 238.5h0.7M369.5 234h0.7M361 241h0.7M341 233h0.7M312.5 237.5h0.7M365 236.5h0.7M380 239.5h0.7M366 236h0.7M337 234h0.7M377.5 241.5h0.7M368 236.5h0.7M360 243h0.7M356.5 237.5h0.7M355.5 234.5h0.7M308.5 241.5h0.7M363 237.5h0.7M355.5 233h0.7M340 239h0.7M354.5 240h0.7M382 237.5h0.7M316 238.5h0.7M334 241h0.7M343 234.5h0.7M348 233h0.7M314 235.5h0.7M309 239h0.7M363 236h0.7M345 239.5h0.7M346 241h0.7M336 236.5h0.7M360 234h0.7M334.5 233h0.7M386.5 236h0.7M331.5 237h0.7M335 234.5h0.7M301 238h0.7M361.5 236h0.7M331 233.5h0.7M365 237h0.7M382.5 237h0.7M370.5 233.5h0.7M368.5 236h0.7M371 237h0.7M349.5 237.5h0.7M320 238h0.7M356 234h0.7M372 235.5h0.7M326 238.5h0.7M348 240.5h0.7M331 240.5h0.7M375 233.5h0.7M322.5 238.5h0.7M337.5 233h0.7M363.5 233.5h0.7M324.5 233h0.7M342 237.5h0.7M337.5 238h0.7M332 239h0.7M381.5 234h0.7M373 234.5h0.7M379.5 233.5h0.7M373 236h0.7M355.5 234h0.7M384 233h0.7M357.5 233h0.7M320.5 234h0.7M313.5 238h0.7M379.5 234h0.7M378.5 236h0.7M353.5 234.5h0.7M378.5 241h0.7M369.5 235h0.7M361 236h0.7M346.5 233.5h0.7M377.5 239h0.7M349 233.5h0.7M343.5 239h0.7M312.5 235h0.7M343 240h0.7M376 233h0.7M300.5 236.5h0.7M349.5 238h0.7M358.5 236h0.7M337 237.5h0.7M384.5 240h0.7M302.5 239.5h0.7M382 238.5h0.7M329 239.5h0.7M342.5 234h0.7M379 241.5h0.7M355 235h0.7M330 236.5h0.7M342 237h0.7M346 233.5h0.7M338.5 237h0.7M337 242.5h0.7M326 236.5h0.7M373 238.5h0.7M324 236.5h0.7M344.5 241h0.7M369.5 234.5h0.7M329 235h0.7M351.5 237h0.7M356 233.5h0.7M363.5 234.5h0.7M378 234.5h0.7M326.5 233.5h0.7M300.5 237.5h0.7M358 236h0.7M354.5 239h0.7M352.5 239h0.7M360 235h0.7M340.5 241h0.7M367 236h0.7M303.5 235h0.7M368 240h0.7M332.5 237h0.7M372.5 234.5h0.7M322.5 240h0.7M338 235.5h0.7M356.5 234.5h0.7M350 233.5h0.7M303.5 240.5h0.7M350.5 240h0.7M381 234h0.7M342 239h0.7M336.5 239.5h0.7M318.5 237.5h0.7M313.5 233.5h0.7M360 233h0.7M310.5 235.5h0.7M376.5 233.5h0.7M311.5 241.5h0.7M321.5 234h0.7M364.5 233.5h0.7M368 234.5h0.7M363 238.5h0.7M307.5 240h0.7M382 239h0.7M322.5 241.5h0.7M301 235h0.7M301.5 239h0.7M307 241h0.7M327.5 233.5h0.7M376 236.5h0.7M343 238h0.7M350.5 235h0.7M338.5 234.5h0.7M370 236h0.7M332 238h0.7M337 239h0.7M334 236h0.7M385.5 235h0.7M362 235.5h0.7M353.5 237.5h0.7M386 236.5h0.7M327 239.5h0.7M337.5 237h0.7M360.5 236.5h0.7M353 241h0.7M325 239h0.7M300 233.5h0.7M351.5 238.5h0.7M372 234h0.7M373.5 234h0.7M371.5 238h0.7M324 238.5h0.7M375 236h0.7M380.5 241h0.7M330.5 239h0.7M370 236.5h0.7M317.5 233h0.7M353.5 235.5h0.7M322.5 233h0.7M340.5 242.5h0.7M307.5 236.5h0.7M320.5 242h0.7M351 242h0.7M346 240h0.7M342 236h0.7M317 235h0.7M316 234.5h0.7M335.5 236h0.7M304 233.5h0.7M387.5 235h0.7M355.5 235h0.7M369.5 237h0.7M345.5 234.5h0.7M387 233h0.7M376 240h0.7M323 233.5h0.7M367.5 239h0.7M372 237h0.7M317.5 234h0.7M304.5 235h0.7M349 237h0.7M383.5 237.5h0.7M380 240h0.7M335 236h0.7M310.5 237h0.7M349.5 234h0.7M356.5 241h0.7M334.5 235h0.7M339.5 240.5h0.7M319.5 237h0.7M331 234h0.7M379.5 241.5h0.7M304 239h0.7M369 235h0.7M386.5 240.5h0.7M305 238.5h0.7M382.5 240.5h0.7M359.5 235h0.7M366.5 240h0.7M309.5 235h0.7M311 237h0.7M342.5 235h0.7M312.5 236.5h0.7M359.5 241.5h0.7M317 233.5h0.7M303 236.5h0.7M382 234.5h0.7M376.5 235.5h0.7M339.5 235h0.7M308.5 242.5h0.7M355.5 237.5h0.7M340 238.5h0.7M342 241.5h0.7M355.5 235.5h0.7M305 236h0.7M323.5 235.5h0.7M324 234.5h0.7M374 234.5h0.7M343 236h0.7M328 235h0.7M386 234.5h0.7M305 239.5h0.7M318.5 238h0.7M342 234h0.7M317.5 237h0.7M308.5 236h0.7M364 237h0.7M371 234.5h0.7M300 235.5h0.7M373 236.5h0.7M338.5 233.5h0.7M380.5 234.5h0.7M312 240h0.7M316 234h0.7M317.5 241.5h0.7M307 239.5h0.7M343.5 237h0.7M301.5 226h0.7M306 230.5h0.7M307 221h0.7M299.5 222.5h0.7M307 219h0.7M307.5 232.5h0.7M304 235h0.7M304 225h0.7M307.5 223.5h0.7M307.5 227h0.7M302.5 226.5h0.7M305 228h0.7M304 223.5h0.7M300 222h0.7M307.5 215h0.7M302 223h0.7M306.5 219h0.7M299.5 232.5h0.7M304 215h0.7M304 218h0.7M308.5 224.5h0.7M300 227h0.7M301.5 224.5h0.7M300 223h0.7M306 224.5h0.7M305 225h0.7M305 216.5h0.7M300 222.5h0.7M304 220h0.7M300 224h0.7M303 228.5h0.7M307.5 229h0.7M300.5 216.5h0.7M300.5 220.5h0.7M307.5 228.5h0.7M303 222h0.7M307.5 219h0.7M308.5 223h0.7M307 222h0.7M302.5 227h0.7M303.5 233h0.7M308 223h0.7M307 225h0.7M304 222.5h0.7M308.5 227.5h0.7M303 222.5h0.7M305.5 220h0.7M299.5 228.5h0.7M303.5 223h0.7M300.5 224h0.7M308.5 226h0.7M305.5 212.5h0.7M307 232h0.7M305.5 223.5h0.7M301.5 231.5h0.7M304.5 230h0.7M301.5 221h0.7M304 213h0.7M302 229h0.7M302 222.5h0.7M305 222h0.7M308.5 220h0.7M303.5 223.5h0.7M304.5 225.5h0.7M300.5 226h0.7M302 220.5h0.7M301.5 226.5h0.7M300 215h0.7M305 221.5h0.7M304.5 222h0.7M306 221.5h0.7M303.5 222h0.7M302 224h0.7M304 227.5h0.7M303 223.5h0.7M302.5 223.5h0.7M307.5 224.5h0.7M304 230.5h0.7M302 228h0.7M306.5 223.5h0.7M300.5 233h0.7M303.5 228h0.7M299.5 220h0.7M306.5 227.5h0.7M300 226h0.7M306.5 236.5h0.7M300.5 221.5h0.7M306 228h0.7M305 229.5h0.7M304 216.5h0.7M304 215.5h0.7M300.5 213.5h0.7M305 224h0.7M307 229h0.7M303 219h0.7M303.5 216.5h0.7M302 226h0.7M303 219.5h0.7M307 227.5h0.7M303.5 219h0.7M301 223h0.7M305 226.5h0.7M305 233.5h0.7M302 230h0.7M307.5 230.5h0.7M301 213.5h0.7M303.5 224.5h0.7M306.5 224h0.7M304 224h0.7M306 220.5h0.7M305 227h0.7M302.5 231h0.7M304.5 221.5h0.7M300 220.5h0.7M304.5 227.5h0.7M304.5 233.5h0.7M303.5 212h0.7M302.5 212h0.7M304.5 225h0.7M302 221h0.7M309 227h0.7M300 218.5h0.7M308 220.5h0.7M308 221.5h0.7M302 225.5h0.7M304 221h0.7M301 224h0.7M305.5 220.5h0.7M309 221h0.7M305.5 229h0.7M307 225.5h0.7M302 223.5h0.7M307.5 217.5h0.7M301 220h0.7M304 220.5h0.7M305.5 222.5h0.7M304.5 230.5h0.7M303 224h0.7M300 228.5h0.7M300 231h0.7M307 229.5h0.7M305 224.5h0.7M306.5 220.5h0.7M308 226.5h0.7M305 221h0.7M303.5 221h0.7M308.5 226.5h0.7M308.5 230.5h0.7M303 223h0.7M306 225h0.7M308 228h0.7M302.5 229h0.7M302 236.5h0.7M304.5 228.5h0.7M303 228h0.7M303 226.5h0.7M307.5 225h0.7M302.5 224h0.7M302 227.5h0.7M301.5 231h0.7M302.5 225.5h0.7M300.5 223.5h0.7M301.5 222h0.7M307.5 228h0.7M307 226.5h0.7M303 227.5h0.7M300.5 229.5h0.7M306 223.5h0.7M305 234.5h0.7M301 231h0.7M304.5 228h0.7M305.5 219h0.7M301 226.5h0.7M300 219.5h0.7M304 222h0.7M301.5 225.5h0.7M300.5 223h0.7M303 220h0.7M308 225.5h0.7M307.5 214h0.7M305.5 221h0.7M305.5 228h0.7M306 224h0.7M302.5 233.5h0.7M305.5 225h0.7M308 226h0.7M300.5 225.5h0.7M301 230.5h0.7M301.5 220.5h0.7M307.5 223h0.7M301.5 223h0.7M300 225h0.7M306.5 230.5h0.7M389 229h0.7M384.5 220.5h0.7M390.5 209.5h0.7M389 234.5h0.7M389 231.5h0.7M387 216h0.7M384.5 223.5h0.7M387.5 218h0.7M390.5 235.5h0.7M384.5 235.5h0.7M389 228h0.7M388 220h0.7M391 219.5h0.7M385.5 218.5h0.7M384.5 221h0.7M385.5 232.5h0.7M386 234h0.7M388.5 235.5h0.7M385.5 226.5h0.7M387 235.5h0.7M390.5 222h0.7M390 231.5h0.7M385 219.5h0.7M389.5 223h0.7M388 226.5h0.7M388.5 221h0.7M388 213h0.7M390 229.5h0.7M385 224h0.7M385.5 233.5h0.7M384.5 225h0.7M389 231h0.7M387 231.5h0.7M387.5 230.5h0.7M386.5 227.5h0.7M384 228.5h0.7M391 226h0.7M389 222.5h0.7M391 222.5h0.7M387.5 224.5h0.7M387 229.5h0.7M384 235.5h0.7M390.5 219h0.7M390.5 217h0.7M388.5 226h0.7M385 232h0.7M386 211h0.7M385.5 216h0.7M390.5 214h0.7M385 229.5h0.7M389 211.5h0.7M386.5 232h0.7M386 239.5h0.7M390 223.5h0.7M385.5 236h0.7M388.5 228.5h0.7M389.5 221h0.7" stroke="#000" stroke-width="0.7" stroke-opacity="0.5" fill="none"/>
<path d="M343 223.5h0.8M327 226h0.8M350 234.5h0.8M315.5 229.5h0.8M339 229h0.8M305.5 224.5h0.8M338.5 229.5h0.8M302 233.5h0.8M372 233.5h0.8M337.5 218.5h0.8M325.5 222.5h0.8M337 220.5h0.8M330 218.5h0.8M370.5 230.5h0.8M377 230h0.8M339 230.5h0.8M349 224.5h0.8M309 228.5h0.8M329 211.5h0.8M377.5 231.5h0.8M374 242h0.8M353.5 224.5h0.8M369.5 235.5h0.8M352.5 230h0.8M326.5 213.5h0.8M342 220.5h0.8M355.5 225.5h0.8M375.5 232.5h0.8M304.5 228.5h0.8M339 234h0.8M309 222.5h0.8M350 222h0.8M336.5 219h0.8M335 225h0.8M311.5 230.5h0.8M347.5 237.5h0.8M311.5 228h0.8M310 222h0.8M346 226.5h0.8M348 233h0.8M321 223.5h0.8M344.5 225.5h0.8M351 232h0.8M308 228h0.8M338.5 231h0.8M361.5 222h0.8M365 240h0.8M362 238.5h0.8M310.5 228h0.8M316 220.5h0.8M381.5 219h0.8M313.5 222h0.8M366.5 231.5h0.8M333 227.5h0.8M303.5 222h0.8M327 224h0.8M360.5 216.5h0.8M353.5 232h0.8M374.5 216h0.8M374.5 223h0.8M316 225.5h0.8M365.5 222h0.8M358.5 228.5h0.8M333 223.5h0.8M363 236h0.8M305.5 222.5h0.8M352 232.5h0.8M368.5 231.5h0.8M311.5 233h0.8M323 222h0.8M318 215.5h0.8M350.5 230.5h0.8M368.5 228h0.8M317.5 221.5h0.8M359 225.5h0.8M333.5 233.5h0.8M346.5 235.5h0.8M359 232h0.8M303 212.5h0.8M330.5 230h0.8M374.5 233h0.8M368.5 231h0.8M370 228.5h0.8M358.5 222h0.8M315 229.5h0.8M372 218.5h0.8M352.5 234h0.8M308.5 223.5h0.8M376 231h0.8M351 230h0.8M332 227h0.8M341 221.5h0.8M331.5 223.5h0.8M302.5 220.5h0.8M303.5 222.5h0.8M340 228h0.8M314 225.5h0.8M357.5 226.5h0.8M343.5 231h0.8M324 219.5h0.8M381.5 225h0.8M384.5 235h0.8M366 229h0.8M374.5 229h0.8M354.5 219h0.8M332 224h0.8M374.5 237.5h0.8M380 226h0.8M365.5 223h0.8M363.5 219.5h0.8M331 225.5h0.8M347.5 225h0.8M330 227h0.8M329 232.5h0.8M332.5 225.5h0.8M322 226.5h0.8M313.5 230.5h0.8M302.5 229.5h0.8M339 222h0.8M349 225.5h0.8M307.5 228.5h0.8M327 222.5h0.8M348 235h0.8M380 221h0.8M350.5 237.5h0.8M308.5 228.5h0.8M384 234.5h0.8M331.5 227h0.8M374 222h0.8M307.5 213.5h0.8M325 227h0.8M323.5 229h0.8M324 226.5h0.8M360.5 228.5h0.8M318.5 231h0.8M352 232h0.8M318.5 219.5h0.8M363 234.5h0.8M369 231h0.8M317.5 214.5h0.8M355 224.5h0.8M378.5 229h0.8M364 232h0.8M356 220h0.8M330 231h0.8M307 224h0.8M354 228h0.8M323.5 226h0.8M340.5 239h0.8M349 228h0.8M384 235.5h0.8M362 230h0.8M329.5 229h0.8M314 227.5h0.8M365.5 236h0.8M337 232h0.8M346.5 220.5h0.8M356.5 223.5h0.8M352 222.5h0.8M323.5 234h0.8M361 228h0.8M327.5 216.5h0.8M366 233.5h0.8M325 225h0.8M345.5 229.5h0.8M303 224h0.8M341.5 221h0.8M332 218h0.8M384 229.5h0.8M309.5 234.5h0.8M304.5 226.5h0.8M343.5 228h0.8M348 232.5h0.8M332.5 238h0.8M314.5 229.5h0.8M378.5 236h0.8M315.5 235h0.8M322 227.5h0.8M383.5 220h0.8M330.5 226h0.8M368.5 222.5h0.8M377 229h0.8M311 225h0.8M355.5 225h0.8M335.5 227.5h0.8M336 238h0.8M354 220.5h0.8M320.5 225.5h0.8M338 230.5h0.8M321 228.5h0.8M355.5 236h0.8M327 230h0.8M349.5 226.5h0.8M315 233h0.8M324 217.5h0.8M364.5 229.5h0.8M329.5 222h0.8M342.5 229h0.8M358.5 225h0.8M351.5 220h0.8M375.5 230h0.8M319.5 229.5h0.8M366.5 224h0.8M373.5 232.5h0.8M384.5 238h0.8M326.5 228.5h0.8M383 228.5h0.8M303 228h0.8M363 225.5h0.8M310 229.5h0.8M309.5 232.5h0.8M330 234h0.8M375 223.5h0.8M383.5 232h0.8M367.5 228.5h0.8M359 233.5h0.8M321 227.5h0.8M337.5 227.5h0.8M384 228.5h0.8M328.5 228h0.8M342.5 224.5h0.8M313.5 222.5h0.8M359 228.5h0.8M314.5 225h0.8M311.5 219h0.8M331.5 213.5h0.8M331 226.5h0.8M320 237h0.8M362.5 225h0.8M324.5 228h0.8M307.5 229h0.8M305.5 219.5h0.8M348 226.5h0.8M332 234.5h0.8M356 227.5h0.8M347 218.5h0.8M383.5 225.5h0.8M374.5 226.5h0.8M328.5 220.5h0.8M334 225.5h0.8M336 239h0.8M302.5 241h0.8M352.5 230.5h0.8M352.5 225h0.8M333.5 226.5h0.8M311.5 229h0.8M372 230h0.8M306 213.5h0.8M359.5 223.5h0.8M347.5 234h0.8M328 226.5h0.8M364 227.5h0.8M373 220h0.8M384.5 227.5h0.8M321.5 219.5h0.8M333.5 219.5h0.8M361 222h0.8M353 231h0.8M358 223.5h0.8M347 234h0.8M320.5 222.5h0.8M377.5 225h0.8M341.5 225.5h0.8M341.5 220h0.8M320.5 234h0.8M346 236.5h0.8M345.5 216.5h0.8M322 224h0.8M316.5 228.5h0.8M355 221.5h0.8M370.5 236.5h0.8M305.5 218h0.8M333.5 231.5h0.8M312 216.5h0.8M315 225.5h0.8M331.5 229h0.8M368.5 221.5h0.8M309.5 224.5h0.8M335 235h0.8M339.5 226.5h0.8M341.5 229.5h0.8M314.5 216.5h0.8M358.5 222.5h0.8M321.5 231h0.8M333 223h0.8M303.5 230h0.8M318.5 224h0.8M317 225h0.8M361.5 226.5h0.8M322 230.5h0.8M371 234.5h0.8M373.5 232h0.8M318.5 217h0.8M353.5 231.5h0.8M333 232h0.8M332.5 228h0.8M361 225.5h0.8M356 232.5h0.8M369.5 224h0.8M350 231h0.8M379 233h0.8M361 241h0.8M308 221h0.8M365 222.5h0.8M343 231.5h0.8M377 228h0.8M351 225.5h0.8M340.5 216h0.8M336.5 229h0.8M341.5 231h0.8M343 222.5h0.8M344.5 230.5h0.8M363.5 220h0.8M335.5 234.5h0.8M348 229h0.8M366 227.5h0.8M320.5 223h0.8M308.5 226.5h0.8M309.5 223h0.8M364.5 225.5h0.8M358.5 226.5h0.8M359.5 227.5h0.8M336.5 209h0.8M370 217.5h0.8M374.5 231h0.8M345 230.5h0.8M324 225.5h0.8M328 225.5h0.8M348 238h0.8M344.5 225h0.8M327.5 227h0.8M374 231h0.8M323.5 215.5h0.8M319 232.5h0.8M333 228.5h0.8M340.5 219h0.8M332.5 226.5h0.8M348 238.5h0.8M306 222.5h0.8M336 232.5h0.8M349 225h0.8M368 231.5h0.8M326 223.5h0.8M351 217h0.8M339.5 232h0.8M375 225.5h0.8M307 218h0.8M306 228.5h0.8M373.5 234.5h0.8M317 229h0.8M378.5 218.5h0.8M343.5 223h0.8M358 225h0.8M319.5 221.5h0.8M371.5 235h0.8M319 235.5h0.8M310.5 233.5h0.8M381 233.5h0.8M336.5 224h0.8M377 224h0.8M359 228h0.8M359.5 228.5h0.8M305.5 227.5h0.8M321.5 222h0.8M350.5 224h0.8M315 232h0.8M377.5 223h0.8M314.5 235h0.8M368.5 233h0.8M304.5 224.5h0.8M333.5 223.5h0.8M347.5 223.5h0.8M310 216.5h0.8M337.5 228.5h0.8M358.5 235h0.8M312 232.5h0.8M378.5 241h0.8M345.5 226.5h0.8M326 220.5h0.8M343 234h0.8M373.5 231h0.8M351.5 224.5h0.8M313.5 225h0.8M324.5 234.5h0.8M321 219h0.8M378.5 235.5h0.8M382.5 229.5h0.8M330.5 234h0.8M363.5 228.5h0.8M317 226.5h0.8M308 220.5h0.8M348.5 232.5h0.8M367.5 231.5h0.8M351.5 225.5h0.8M344.5 227h0.8M310 223.5h0.8M350 224.5h0.8M331.5 220.5h0.8M315.5 231.5h0.8M316 230.5h0.8M372 226h0.8M374.5 224.5h0.8M310 225.5h0.8M375 232.5h0.8M346.5 231h0.8M312 222h0.8M346.5 227.5h0.8M344 224h0.8M335.5 229h0.8M319 228.5h0.8M374.5 230.5h0.8M343.5 227.5h0.8M380.5 227.5h0.8M342.5 228.5h0.8M359 220h0.8M321 226h0.8M324 222.5h0.8M304.5 220h0.8M326 230h0.8M376 234h0.8M321.5 229.5h0.8M351.5 228.5h0.8M307 216.5h0.8M322.5 213h0.8M305.5 216h0.8M353.5 223.5h0.8M330.5 216.5h0.8M369.5 215.5h0.8M380 223h0.8M309.5 228.5h0.8M322.5 225h0.8M314.5 217h0.8M330.5 228.5h0.8M320 228.5h0.8M367.5 224.5h0.8M342 217h0.8M377.5 228h0.8M364.5 225h0.8M354 224h0.8M372 228h0.8M361.5 225h0.8M331 233.5h0.8M358 239.5h0.8M364 234.5h0.8M380 236h0.8M377 227.5h0.8M368.5 217h0.8M367 231.5h0.8M374.5 223.5h0.8M346 240.5h0.8M380.5 239h0.8M367.5 237h0.8M323 228h0.8M318.5 222h0.8M340 227h0.8M377.5 234.5h0.8M359 226h0.8M367 222h0.8M368 222h0.8M370.5 215.5h0.8M335.5 233h0.8M371.5 232h0.8M330 217.5h0.8M368 221.5h0.8M302.5 224h0.8M311 225.5h0.8M369.5 221h0.8M340 230h0.8M330 227.5h0.8M372 232.5h0.8M353.5 226.5h0.8M360 219.5h0.8M369 230.5h0.8M312 225h0.8M370.5 226h0.8M317.5 223.5h0.8M332 240h0.8M320.5 231.5h0.8M376 223h0.8M334.5 212.5h0.8M344 226.5h0.8M384 232h0.8M315.5 235.5h0.8M346 230h0.8M380.5 228h0.8M339.5 228h0.8M331 222h0.8M310.5 215h0.8M344.5 223h0.8M333.5 237h0.8M357.5 222h0.8M308.5 221h0.8M381.5 223.5h0.8M332 222h0.8M333 219.5h0.8M345.5 221h0.8M343.5 215.5h0.8M332 228h0.8M371.5 227.5h0.8M358.5 221.5h0.8M376 226.5h0.8M305 216h0.8M329 235h0.8M376 238h0.8M314 219h0.8M306 221.5h0.8M334.5 226h0.8M325.5 218h0.8M365.5 225.5h0.8M337 233h0.8M383 222h0.8M358 219h0.8M333.5 235h0.8M359.5 225h0.8M325 230h0.8M370.5 234h0.8M368 225.5h0.8M345 229h0.8M316 233.5h0.8M328 230.5h0.8M334 228h0.8M382.5 231.5h0.8M327.5 225h0.8M380.5 229.5h0.8M334 232h0.8M382 227.5h0.8M339.5 230.5h0.8M366.5 220.5h0.8M328 231.5h0.8M341 234h0.8M348.5 222.5h0.8M325 217.5h0.8M332 232h0.8M326 222.5h0.8M354.5 226.5h0.8M305.5 235h0.8M370.5 223h0.8M324 226h0.8M347.5 229h0.8M369 222.5h0.8M311 222.5h0.8M382.5 235.5h0.8M354.5 223.5h0.8M334.5 217h0.8M380 227.5h0.8M334.5 221h0.8M369 225.5h0.8M346 218.5h0.8M377 226.5h0.8M313 224.5h0.8M336.5 228h0.8M343.5 231.5h0.8M350 220h0.8M335.5 222.5h0.8M372 225.5h0.8M367.5 229h0.8M357.5 224.5h0.8M364.5 215.5h0.8M376.5 227.5h0.8M363.5 231h0.8M375 220.5h0.8M313 223h0.8M353 218.5h0.8M325 233h0.8M324.5 227h0.8M310 229h0.8M358 237h0.8M332 224.5h0.8M360 237h0.8M329 230.5h0.8M302.5 223h0.8M325 223.5h0.8M307 218.5h0.8M369 230h0.8M305.5 226.5h0.8M320.5 223.5h0.8M354 224.5h0.8M349 231h0.8M320 227h0.8M371.5 224h0.8M369 226h0.8M366.5 227h0.8M304.5 219.5h0.8M307 225h0.8M354.5 226h0.8M335 219h0.8M374 225.5h0.8M384.5 233h0.8M329.5 212.5h0.8M384 234h0.8M313 228h0.8M339.5 223h0.8M339.5 218.5h0.8M330.5 228h0.8M325.5 231h0.8M318 225h0.8M338.5 219.5h0.8M318.5 224.5h0.8M348.5 222h0.8M364 213h0.8M380.5 236h0.8M361.5 223h0.8M307 225.5h0.8M373.5 228.5h0.8M362 224h0.8M331.5 223h0.8M315.5 214h0.8M327.5 213h0.8M376.5 232.5h0.8M369 225h0.8M311 226h0.8M315 226.5h0.8M384 222h0.8M377.5 229.5h0.8M370 221.5h0.8M312.5 231h0.8M344 231h0.8M319.5 225.5h0.8M377.5 229h0.8M361 242h0.8M338.5 221h0.8M363 219.5h0.8M372 234.5h0.8M313 229.5h0.8M350.5 227h0.8M333.5 236.5h0.8M367 228h0.8M340.5 238h0.8M346.5 230h0.8M308 222h0.8M375.5 234.5h0.8M342 224h0.8M322 223h0.8M377 226h0.8M351 228.5h0.8M312.5 227.5h0.8M350.5 232.5h0.8M355 225.5h0.8M307.5 219.5h0.8M362 233h0.8M335 228.5h0.8M358 226h0.8M356 223h0.8M359.5 224h0.8M377.5 228.5h0.8M351.5 230.5h0.8M321 218h0.8M370.5 233.5h0.8M354.5 227h0.8M310 224h0.8M306 223.5h0.8M322 229.5h0.8M358 225.5h0.8M379 220h0.8M324 216h0.8M310.5 226.5h0.8M383 227h0.8M369 224h0.8M315.5 223h0.8M367.5 227h0.8M376 228h0.8M372.5 227.5h0.8M348 229.5h0.8M353.5 221h0.8M351.5 227.5h0.8M306.5 223h0.8M347.5 225.5h0.8M302.5 230.5h0.8M364 237.5h0.8M369.5 229h0.8M340 232.5h0.8M319 231.5h0.8M337.5 238h0.8M347.5 236.5h0.8M331.5 233.5h0.8M372.5 232.5h0.8M372.5 232h0.8M327 229h0.8M365.5 232h0.8M383 234h0.8M366 229.5h0.8M311.5 225.5h0.8M359.5 221.5h0.8M340 222.5h0.8M336 220h0.8M378 222.5h0.8M363 231h0.8M371.5 215.5h0.8M361.5 235.5h0.8M372.5 229h0.8M338 229h0.8M380 225.5h0.8M338.5 225h0.8M327 222h0.8M331 225h0.8M339 228.5h0.8M383.5 220.5h0.8M365.5 216.5h0.8M371.5 237h0.8M325 225.5h0.8M321 226.5h0.8M375.5 232h0.8M366 225h0.8M366.5 235h0.8M346 220.5h0.8M310.5 227.5h0.8M354 222.5h0.8M332.5 212h0.8M315.5 222h0.8M346 222.5h0.8M380 222.5h0.8M336 233.5h0.8M382.5 223.5h0.8M309.5 226.5h0.8M377 232.5h0.8M303 224.5h0.8M384 237h0.8M316.5 217.5h0.8M359.5 230.5h0.8M323.5 221.5h0.8M304.5 224h0.8M323.5 222.5h0.8M382 223.5h0.8M356.5 221h0.8M351.5 225h0.8M307.5 221h0.8M307.5 230.5h0.8M314 226h0.8M311.5 210.5h0.8M359 227.5h0.8M324.5 226.5h0.8M310.5 222h0.8M327 219h0.8M339 231h0.8M362.5 238h0.8M330.5 233.5h0.8M371 238h0.8M321 228h0.8M373 230.5h0.8M325 218h0.8M303 229.5h0.8M315 237h0.8M356.5 220h0.8M317 221.5h0.8M314 238.5h0.8M334 235.5h0.8M356 223.5h0.8M307.5 223.5h0.8M303 227h0.8M382 225.5h0.8M332 225.5h0.8M323 221.5h0.8M322.5 227h0.8M333.5 222h0.8M365.5 228h0.8M320 229.5h0.8M334 221h0.8M341 232.5h0.8M374 235.5h0.8M371.5 230h0.8M321.5 231.5h0.8M311.5 226.5h0.8M340 226h0.8M312 223h0.8M342 228.5h0.8M338.5 230h0.8M312 230.5h0.8M341 228.5h0.8M379.5 226h0.8M320.5 225h0.8M364 217h0.8M373 238h0.8M345.5 235h0.8M322 231h0.8M319.5 235.5h0.8M309 224h0.8M362.5 233h0.8M328.5 229h0.8M319 223h0.8M312 221h0.8M383.5 224.5h0.8M303 225.5h0.8M356 226h0.8M341 226.5h0.8M363.5 223.5h0.8M343.5 225.5h0.8M352 225h0.8M368.5 225h0.8M380.5 227h0.8M332.5 215h0.8M377 229.5h0.8M377 231h0.8M305 227h0.8M338.5 228.5h0.8M364 230h0.8M350.5 232h0.8M303 229h0.8M341.5 225h0.8M344.5 233h0.8M384.5 226h0.8M353.5 229h0.8M319 236h0.8M385 224h0.8M382 229h0.8M328.5 222h0.8M357.5 230h0.8M304 223h0.8M370.5 230h0.8M302 221.5h0.8M339.5 223.5h0.8M348.5 226h0.8M312 228.5h0.8M313.5 224.5h0.8M306.5 219.5h0.8M339.5 233h0.8M373.5 222.5h0.8M381.5 226.5h0.8M336 239.5h0.8M306.5 227.5h0.8M303.5 224h0.8M337 215.5h0.8M356 224.5h0.8M322 225.5h0.8M356.5 218.5h0.8M376.5 222.5h0.8M382 228.5h0.8M376.5 230h0.8M349.5 230.5h0.8M323 233.5h0.8M321.5 221h0.8M358 232h0.8M308 225h0.8M341 218.5h0.8M358 227.5h0.8M341.5 226h0.8M317 218h0.8M381.5 229h0.8M337.5 222.5h0.8M381.5 229.5h0.8M382 233.5h0.8M376.5 229h0.8M332 235h0.8M357 227.5h0.8M320 225.5h0.8M313.5 227h0.8M335.5 224.5h0.8M350.5 228h0.8M380 223.5h0.8M360.5 224.5h0.8M303.5 231h0.8M358 230h0.8M382 232.5h0.8M365.5 231.5h0.8M354.5 220h0.8M360.5 231h0.8M365.5 226.5h0.8M327 225.5h0.8M352 237.5h0.8M372.5 233h0.8M318.5 220.5h0.8M303 216.5h0.8M324.5 224h0.8M308 228.5h0.8M360 227.5h0.8M302.5 225.5h0.8M361 231.5h0.8M384 231h0.8M379.5 228h0.8M382.5 231h0.8M345.5 230.5h0.8M306.5 228h0.8M309.5 227h0.8M354 225.5h0.8M367.5 223.5h0.8M362.5 223.5h0.8M317.5 231h0.8M379 226h0.8M315 225h0.8M359.5 220.5h0.8M321 231.5h0.8M368 228.5h0.8M350.5 224.5h0.8M318 223h0.8M367.5 217.5h0.8M321 232.5h0.8M349 231.5h0.8M313.5 228h0.8M311 232.5h0.8M337 230.5h0.8M346.5 226.5h0.8M362 226h0.8M359.5 235h0.8M353 230h0.8M328 224h0.8M357 227h0.8M321 229h0.8M366 231.5h0.8M381.5 220h0.8M362 232h0.8M306.5 223.5h0.8M344.5 234h0.8M375 238.5h0.8M340.5 227.5h0.8M344 229.5h0.8M346 233.5h0.8M366.5 229h0.8M334 227.5h0.8M342 226.5h0.8M328.5 217.5h0.8M366 228.5h0.8M333 214h0.8M379.5 232h0.8M355 231h0.8M325 241.5h0.8M312.5 218h0.8M327 227.5h0.8M307.5 225.5h0.8M338.5 217h0.8M309 223.5h0.8M382 229.5h0.8M313 235h0.8M311 228.5h0.8M346 228h0.8M371 229.5h0.8M365.5 230.5h0.8M337.5 225h0.8M322 228h0.8M363.5 230h0.8M376 233h0.8M381.5 224.5h0.8M352 225.5h0.8M361.5 233.5h0.8M363 230h0.8M381.5 230.5h0.8M311 227.5h0.8M322.5 221h0.8M323 209h0.8M314.5 229h0.8M373 226h0.8M364 230.5h0.8M370 233h0.8M373.5 227h0.8M365.5 227h0.8M352.5 238h0.8M329 218h0.8M372.5 229.5h0.8M332.5 222h0.8M311 230h0.8M321 230.5h0.8M355 224h0.8M375.5 228h0.8M378.5 223.5h0.8M368.5 236.5h0.8M364.5 227h0.8M369.5 227.5h0.8M333.5 234.5h0.8M330 231.5h0.8M372.5 236.5h0.8M375 236h0.8M374 226h0.8M347.5 222h0.8M367 229h0.8M367 230h0.8M330.5 223.5h0.8M322.5 230h0.8M304 228h0.8M368 228h0.8M307.5 227.5h0.8M363.5 229.5h0.8M335.5 232h0.8M368.5 232h0.8M354.5 225.5h0.8M376.5 216h0.8M363 229.5h0.8M328 231h0.8M311 220h0.8M336.5 232.5h0.8M319.5 220h0.8M332 217h0.8M360 238h0.8M312.5 226.5h0.8M351 226h0.8M338 225h0.8M309.5 219.5h0.8M345.5 231h0.8M331.5 217h0.8M320 215.5h0.8M375.5 233.5h0.8M333.5 226h0.8M361 230.5h0.8M327 224.5h0.8M329.5 225.5h0.8M347.5 223h0.8M343.5 225h0.8M385 219h0.8M317 222h0.8M377.5 219h0.8M374 224.5h0.8M332 229.5h0.8M304 223.5h0.8M343.5 236.5h0.8M381.5 221h0.8M314 222.5h0.8M354.5 229h0.8M352 221.5h0.8M323.5 225h0.8M344.5 232.5h0.8M341 227h0.8M330 226.5h0.8M361.5 227h0.8M345 230h0.8M377 234.5h0.8M319 218h0.8M364 222.5h0.8M361 226h0.8M371.5 223.5h0.8M379 240.5h0.8M309 234.5h0.8M358 231.5h0.8M314 218h0.8M385 230h0.8M318.5 221.5h0.8M315.5 219h0.8M315.5 226h0.8M318 228h0.8M328 222.5h0.8M338.5 233h0.8M341 229h0.8M314 232.5h0.8M382.5 232h0.8M331 231h0.8M359.5 224.5h0.8M373.5 229.5h0.8M349.5 237.5h0.8M362.5 227.5h0.8M331.5 217.5h0.8M335.5 217h0.8M338 224h0.8M357 234h0.8M363 230.5h0.8M332.5 225h0.8M358 220h0.8M330 232.5h0.8M335.5 224h0.8M317 234.5h0.8M368.5 235.5h0.8M304 222.5h0.8M343 232.5h0.8M332 230.5h0.8M346 223.5h0.8M379 224h0.8M329.5 221h0.8M334 218.5h0.8M323.5 219.5h0.8M333 222h0.8M378 231.5h0.8M346.5 226h0.8M370 232.5h0.8M315.5 225h0.8M318 224.5h0.8M307 226.5h0.8M321 223h0.8M307 224.5h0.8M362 236.5h0.8M378.5 225.5h0.8M309.5 230.5h0.8M364 231h0.8M309.5 221h0.8M374.5 228h0.8M383 220.5h0.8M305 228h0.8M304 226h0.8M315.5 223.5h0.8M317 219h0.8M382.5 222.5h0.8M334.5 225.5h0.8M323 227.5h0.8M384.5 243h0.8M360.5 229h0.8M314.5 228.5h0.8M331 226h0.8M346 224.5h0.8M358.5 233h0.8M350 216h0.8M352 230.5h0.8M330 215.5h0.8M373.5 236h0.8M378 225h0.8M316.5 224.5h0.8M334 226h0.8M368.5 227h0.8M367 227h0.8M368 227.5h0.8M336.5 223h0.8M362.5 221h0.8M336 240h0.8M379 224.5h0.8M353 224.5h0.8M324.5 231h0.8M377 230.5h0.8M370 218h0.8M384 226h0.8M365 223h0.8M324 223.5h0.8M373 225.5h0.8M309 238h0.8M379 228h0.8M365 224h0.8M349.5 233h0.8M379.5 236h0.8M310.5 230.5h0.8M325 234.5h0.8M338.5 234h0.8M362.5 227h0.8M356 236h0.8M320 226h0.8M356.5 226h0.8M378.5 233h0.8M380.5 234h0.8M369 228h0.8M373.5 221.5h0.8M335.5 232.5h0.8M312 223.5h0.8M364 232.5h0.8M306.5 232h0.8M384 219h0.8M369.5 230.5h0.8M305 223h0.8M372.5 228h0.8M341 228h0.8M379.5 223h0.8M317.5 232.5h0.8M312 233h0.8M317.5 220.5h0.8M315.5 225.5h0.8M379 218h0.8M377.5 230h0.8M353 239h0.8M382.5 229h0.8M346 219h0.8M373 225h0.8M378 228.5h0.8M369 223.5h0.8M321.5 217.5h0.8M340.5 233h0.8M378.5 215h0.8M315.5 222.5h0.8M335.5 220h0.8M316 229.5h0.8M324 221h0.8M365 232.5h0.8M351 233h0.8M332.5 236h0.8M381.5 231h0.8M350.5 226.5h0.8M382 222.5h0.8M304.5 226h0.8M325.5 228.5h0.8M354 214.5h0.8M359 222h0.8M332 233.5h0.8M347 224h0.8M373.5 225h0.8M352 222h0.8M382.5 227h0.8M307.5 232.5h0.8M319 226h0.8M344 234.5h0.8M357.5 234.5h0.8M359 242.5h0.8M358.5 219.5h0.8M361 229h0.8M337.5 226.5h0.8M382.5 225h0.8M302.5 232h0.8M303 226h0.8M371 231h0.8M310.5 229.5h0.8M375 226h0.8M345 220h0.8M335.5 239.5h0.8M383.5 232.5h0.8M314.5 221h0.8M332 219h0.8M384.5 216.5h0.8M384.5 222h0.8M315.5 220h0.8M362.5 222h0.8M376.5 226h0.8M314.5 228h0.8M351 228h0.8M343.5 223.5h0.8M349.5 221.5h0.8M347 224.5h0.8M303.5 230.5h0.8M321.5 228h0.8M365 228h0.8M322 236h0.8M309.5 220h0.8M365.5 229h0.8M371.5 236h0.8M339.5 213.5h0.8M352 226.5h0.8M317 227.5h0.8M329.5 227h0.8M309.5 222h0.8M327.5 221.5h0.8M315 224h0.8M327.5 220.5h0.8M360.5 238h0.8M337.5 227h0.8M312 227h0.8M372.5 225.5h0.8M307 220h0.8M310.5 225h0.8M363.5 226h0.8M316 219h0.8M357.5 219.5h0.8M377 232h0.8M335 226.5h0.8M318.5 233h0.8M384.5 232.5h0.8M330 225h0.8M315 220h0.8M308 209h0.8M310.5 219h0.8M318 225.5h0.8M357.5 217h0.8M326 226h0.8M379.5 230.5h0.8M313.5 219.5h0.8M342 232.5h0.8M360 233.5h0.8M350 228.5h0.8M306.5 228.5h0.8M350.5 226h0.8M359.5 222h0.8M383 223.5h0.8M338.5 229h0.8M374.5 225h0.8M361.5 231.5h0.8M357.5 230.5h0.8M302.5 230h0.8M384.5 223h0.8M367 238.5h0.8M374 215h0.8M355.5 219h0.8M380.5 224.5h0.8M345 225h0.8M342 223.5h0.8M344.5 231h0.8M351 227.5h0.8M344 219.5h0.8M317.5 229.5h0.8M346 225h0.8M360.5 236.5h0.8M367 223h0.8M379 227.5h0.8M344.5 223.5h0.8M335.5 229.5h0.8M361 230h0.8M362.5 221.5h0.8M319.5 220.5h0.8M327.5 227.5h0.8M332 226.5h0.8M319 216.5h0.8M321.5 227.5h0.8M307 221h0.8M357.5 237h0.8M363 233.5h0.8M342.5 223.5h0.8M342.5 230h0.8M361 236h0.8M374 221h0.8M338.5 222h0.8M383 230.5h0.8M317 228h0.8M378.5 231.5h0.8M373 222.5h0.8M376 237.5h0.8M337.5 230h0.8M333 235h0.8M335 223h0.8M351.5 227h0.8M334.5 227.5h0.8M365 227.5h0.8M329.5 222.5h0.8M317.5 218.5h0.8M303.5 221.5h0.8M326.5 219h0.8M321.5 216h0.8M350.5 222.5h0.8M329 221.5h0.8M344.5 220.5h0.8M312 226.5h0.8M336.5 231h0.8M332 228.5h0.8M384 226.5h0.8M322 228.5h0.8M350.5 223.5h0.8M333.5 236h0.8M369.5 230h0.8M384 221.5h0.8M306.5 222.5h0.8M354 229.5h0.8M334 220.5h0.8M364.5 230h0.8M340.5 226.5h0.8M319.5 228h0.8M309.5 225.5h0.8M332.5 220h0.8M326 228.5h0.8M360.5 211.5h0.8M316 224h0.8M344.5 221h0.8M373.5 228h0.8M330 222.5h0.8M353 222.5h0.8M381.5 226h0.8M356.5 229h0.8M372 232h0.8M330 214h0.8M332 233h0.8M335.5 230.5h0.8M339 223h0.8M367.5 229.5h0.8M340 229h0.8M363 222.5h0.8M304.5 228h0.8M358.5 241h0.8M358 221h0.8M318.5 226h0.8M316.5 220.5h0.8M323.5 219h0.8M355.5 232h0.8M316 231.5h0.8M344.5 224h0.8M313 232h0.8M342 224.5h0.8M327.5 224h0.8M366.5 225h0.8M349.5 228h0.8M371 233.5h0.8M349 227h0.8M339 221h0.8M311 218h0.8M353 239.5h0.8M382.5 230.5h0.8M362.5 226h0.8M316.5 236.5h0.8M370.5 226.5h0.8M376 227.5h0.8M338.5 230.5h0.8M330 237.5h0.8M304 224h0.8M308 227h0.8M326.5 228h0.8M325 236.5h0.8M325.5 229.5h0.8M379 231h0.8M321 217.5h0.8M309.5 231.5h0.8M353 223.5h0.8M373.5 233h0.8M340.5 233.5h0.8M367 224h0.8M325.5 225.5h0.8M322.5 215.5h0.8M320 228h0.8M381 223.5h0.8M304 225.5h0.8M374.5 218.5h0.8M331.5 227.5h0.8M363 232.5h0.8M356.5 221.5h0.8M378 221.5h0.8M318.5 225h0.8M369.5 222.5h0.8M342 234.5h0.8M333.5 222.5h0.8M338.5 224.5h0.8M302 226.5h0.8M371 223.5h0.8M348 220.5h0.8M312.5 221h0.8M366.5 224.5h0.8M367.5 238h0.8M358.5 229.5h0.8M358 221.5h0.8M381 229h0.8M336 228.5h0.8M344.5 229h0.8M334 228.5h0.8M350 229.5h0.8M318 219h0.8M338.5 227.5h0.8M344 227h0.8M379 227h0.8M318.5 235h0.8M349.5 229h0.8M346.5 228.5h0.8M327.5 235.5h0.8M362.5 228h0.8M356 234.5h0.8M333 224h0.8M355.5 227.5h0.8M359.5 231h0.8M363 233h0.8M310.5 231.5h0.8M306 215.5h0.8M322.5 229.5h0.8M309 227.5h0.8M342.5 226.5h0.8M340.5 231h0.8M311.5 216.5h0.8M320.5 230.5h0.8M360 230.5h0.8M319.5 207.5h0.8M305 225.5h0.8M379.5 222h0.8M380.5 230h0.8M371 224h0.8M335.5 227h0.8M376 221h0.8M348.5 231.5h0.8M340.5 222.5h0.8M348.5 225h0.8M374 232.5h0.8M375 230.5h0.8M383 236h0.8M354.5 227.5h0.8M372 224.5h0.8M327 226.5h0.8M361 226.5h0.8M355.5 223h0.8M356.5 226.5h0.8M338.5 225.5h0.8M329 222h0.8M312.5 222.5h0.8M357.5 225h0.8M347.5 227.5h0.8M362.5 224.5h0.8M307.5 226.5h0.8M362 227h0.8M332.5 228.5h0.8M327 230.5h0.8M321 230h0.8M382.5 224.5h0.8M371 235h0.8M334.5 226.5h0.8M311 221h0.8M305.5 214.5h0.8M319 229.5h0.8M338.5 227h0.8M345 215h0.8M376.5 233.5h0.8M322 220.5h0.8M361 239h0.8M311 230.5h0.8M333 225h0.8M312.5 224.5h0.8M314.5 225.5h0.8M320.5 228h0.8M318 227h0.8M345 233.5h0.8M336.5 234h0.8M323 226.5h0.8M306 236h0.8M363.5 238.5h0.8M336 234h0.8M359.5 219.5h0.8M325 221h0.8M343 229h0.8M325.5 231.5h0.8M350.5 225.5h0.8M355.5 231.5h0.8M321 219.5h0.8M333 216h0.8M324.5 232h0.8M383.5 241.5h0.8M380.5 217.5h0.8M319 218.5h0.8M385 222h0.8M348.5 218.5h0.8M308.5 227.5h0.8M323.5 223h0.8M353 229h0.8M361 233h0.8M341.5 224.5h0.8M356 226.5h0.8M318 224h0.8M333 230h0.8M360 226.5h0.8M335.5 218h0.8M349.5 223h0.8M381 227.5h0.8M382 231h0.8M340.5 209h0.8M371.5 228h0.8M361.5 236.5h0.8M380 233.5h0.8M367.5 222.5h0.8M332.5 227h0.8M368.5 233.5h0.8M357.5 218h0.8M319.5 231.5h0.8M330 228.5h0.8M361.5 229h0.8M320.5 228.5h0.8M372.5 223.5h0.8M303 230.5h0.8M338 225.5h0.8M333 240.5h0.8M323 228.5h0.8M361 227.5h0.8M382.5 216h0.8M375.5 240h0.8M312.5 226h0.8" stroke="#000" stroke-width="0.8" stroke-opacity="0.8" fill="none"/>
<path d="M318 224.5h1.0M321 228h1.0M350.5 223h1.0M377.5 224h1.0M350 228.5h1.0M314 223h1.0M360.5 223.5h1.0M378.5 223.5h1.0M340.5 225.5h1.0M314.5 222h1.0M368.5 224h1.0M379.5 227h1.0M340.5 224h1.0M364 229.5h1.0M307.5 226h1.0M338 220h1.0M366.5 229.5h1.0M324.5 222h1.0M356 226.5h1.0M331 227.5h1.0M368 227.5h1.0M339 226h1.0M360 228.5h1.0M358 224.5h1.0M372.5 224h1.0M344 225h1.0M314 226h1.0M315 220.5h1.0M373.5 227h1.0M374 226h1.0M327.5 228h1.0M325 219h1.0M335.5 225.5h1.0M331.5 221h1.0M378 230.5h1.0M362 222.5h1.0M362.5 227.5h1.0M354.5 223.5h1.0M307 225h1.0M366 223h1.0M324.5 220.5h1.0M323.5 220.5h1.0M331 224.5h1.0M380 229.5h1.0M346 225h1.0M333 227h1.0M366 230h1.0M307.5 217h1.0M318.5 225h1.0M337 226.5h1.0M366.5 228.5h1.0M360.5 228.5h1.0M315.5 223h1.0M369.5 226.5h1.0M323 225.5h1.0M306 222h1.0M369.5 221.5h1.0M355 229h1.0M370.5 226.5h1.0M330.5 222.5h1.0M350 220.5h1.0M325.5 229h1.0M375 231.5h1.0M360 230.5h1.0M365.5 230.5h1.0M313.5 225h1.0M358 228.5h1.0M373 231.5h1.0M313 227h1.0M312.5 221h1.0M337.5 220h1.0M308.5 224.5h1.0M361.5 232h1.0M347 228h1.0M328.5 227.5h1.0M363.5 225.5h1.0M373 229h1.0M343 232h1.0M341 222h1.0M373 226.5h1.0M345 227h1.0M318 228.5h1.0M335.5 225h1.0M375 230h1.0M363.5 229.5h1.0M357 223.5h1.0M376.5 230h1.0M363.5 230.5h1.0M373.5 224.5h1.0M377.5 222h1.0M335 226.5h1.0M342.5 231h1.0M321 224.5h1.0M382 226h1.0M335 219.5h1.0M379 224h1.0M378 228.5h1.0M351 229h1.0M333 225h1.0M319.5 221.5h1.0M339 223.5h1.0M330.5 217h1.0M349.5 229h1.0M359 231h1.0M375 227.5h1.0M347.5 222.5h1.0M361 222h1.0M335.5 226.5h1.0M311 222h1.0M356.5 229.5h1.0M308.5 225.5h1.0M354.5 224h1.0M370 228h1.0M361.5 223h1.0M368.5 225h1.0M360.5 231h1.0M347.5 225h1.0M314 225.5h1.0M307 230.5h1.0M373.5 226.5h1.0M324 222.5h1.0M329 222h1.0M350.5 230.5h1.0M382.5 227.5h1.0M368 223.5h1.0M365.5 225.5h1.0M322 220h1.0M363.5 226.5h1.0M361.5 226h1.0M365 231h1.0M340.5 224.5h1.0M347.5 224h1.0M365 229h1.0M313.5 224h1.0M319.5 220.5h1.0M315 225.5h1.0M325.5 226h1.0M327 227.5h1.0M364 225.5h1.0M349.5 233.5h1.0M307 222h1.0M350.5 229h1.0M308 224h1.0M375.5 227.5h1.0M365 227.5h1.0M320 222h1.0M329.5 223.5h1.0M366 222.5h1.0M367.5 232.5h1.0M343 230h1.0M382 233h1.0M308.5 221.5h1.0M324.5 226.5h1.0M344.5 223h1.0M321 217h1.0M320.5 229h1.0M309 225.5h1.0M371.5 227h1.0M354.5 224.5h1.0M316 225h1.0M378 223.5h1.0M337 221h1.0M375 233.5h1.0M348.5 230.5h1.0M366 230.5h1.0M372 226.5h1.0M366.5 224.5h1.0M338 230h1.0M309.5 220h1.0M342.5 229.5h1.0M329.5 228.5h1.0M312 225h1.0M358.5 234h1.0M364.5 225h1.0M354 229h1.0M352 224.5h1.0M374.5 225.5h1.0M383 227h1.0M378.5 224h1.0M349.5 230h1.0M306.5 234.5h1.0M314 228.5h1.0M371 231.5h1.0M344 227h1.0M317.5 225h1.0M374 225.5h1.0M326.5 220.5h1.0M350 227h1.0M345.5 228h1.0M307.5 224h1.0M366 227h1.0M377.5 230.5h1.0M362.5 223h1.0M329.5 226h1.0M352 230h1.0M319 227.5h1.0M353.5 226.5h1.0M362 228h1.0M356 222h1.0M377.5 226.5h1.0M357 221h1.0M368.5 223.5h1.0M339.5 227h1.0M334 222.5h1.0M372 232h1.0M336.5 226h1.0M352 226h1.0M373.5 227.5h1.0M328 224.5h1.0M375 228h1.0M324.5 223h1.0M342.5 220.5h1.0M324 229h1.0M315 220h1.0M382.5 225.5h1.0M310.5 225h1.0M311.5 222.5h1.0M375 224h1.0M360 224.5h1.0M325.5 225h1.0M323.5 223.5h1.0M350.5 220.5h1.0M320 227h1.0M331.5 228h1.0M365.5 223h1.0M355.5 228.5h1.0M363 225.5h1.0M329.5 228h1.0M325.5 223h1.0M327.5 226.5h1.0M340 227.5h1.0M372 228.5h1.0M331.5 225.5h1.0M343 222.5h1.0M366 220h1.0M325.5 228h1.0M346.5 224h1.0M316.5 226.5h1.0M334 221.5h1.0M370.5 224.5h1.0M379.5 226.5h1.0M311.5 221h1.0M322.5 222h1.0M325.5 224h1.0M360 221h1.0M373 227.5h1.0M326 227h1.0M339.5 222h1.0M382 226.5h1.0M382 228h1.0M363 224h1.0M375 228.5h1.0M368.5 228h1.0M356 225.5h1.0M312.5 227h1.0M309.5 223h1.0M340 227h1.0M359 223h1.0M371 225.5h1.0M319.5 221h1.0M349 225.5h1.0M375.5 232.5h1.0M317 225h1.0M329 223.5h1.0M362 221h1.0M363.5 224h1.0M364 227.5h1.0M336 222.5h1.0M365 223h1.0M373 233h1.0M365.5 227.5h1.0M313.5 223h1.0M376.5 225.5h1.0M367.5 221h1.0M369 222h1.0M335 228.5h1.0M341.5 230.5h1.0M332.5 220h1.0M374.5 226.5h1.0M359.5 229.5h1.0M349 222h1.0M327 226h1.0M360.5 227h1.0M369 226.5h1.0M349 222.5h1.0M313 226.5h1.0M368.5 227.5h1.0M307 224h1.0M353 225h1.0M318 229h1.0M337 222.5h1.0M327.5 226h1.0M329.5 220.5h1.0M343.5 221.5h1.0M349.5 218h1.0M306.5 223h1.0M361.5 227.5h1.0M332 224h1.0M370 231h1.0M367.5 230h1.0M331 227h1.0M382.5 224h1.0M349.5 224.5h1.0M333 229.5h1.0M380 227.5h1.0M315.5 223.5h1.0M316 230.5h1.0M380.5 226.5h1.0M367.5 227.5h1.0M347 224h1.0M352.5 222.5h1.0M342 222h1.0M309 223h1.0M372.5 225.5h1.0M372 225h1.0M327 225h1.0M376.5 227h1.0M333 230h1.0M332 229h1.0M331.5 229h1.0M351.5 233.5h1.0M311 223.5h1.0M342.5 217.5h1.0M347.5 234h1.0M374.5 226h1.0M349.5 219.5h1.0M379.5 223.5h1.0M326 228h1.0M379 227.5h1.0M334.5 225.5h1.0M360 225.5h1.0M341.5 225.5h1.0M327.5 223.5h1.0M382 224h1.0M369.5 226h1.0M347.5 230h1.0M337.5 222.5h1.0M363 226h1.0M326 223.5h1.0M373 227h1.0M364.5 227h1.0M362 227.5h1.0M351.5 226.5h1.0M371.5 227.5h1.0M382.5 230.5h1.0M330.5 227h1.0M360.5 229h1.0M378 229.5h1.0M341 229.5h1.0M358 229.5h1.0M342.5 222h1.0M353 227.5h1.0M348.5 229h1.0M383 226h1.0M355 228h1.0M325 228h1.0M379 227h1.0M356.5 227h1.0M376 225.5h1.0M363.5 230h1.0M378 228h1.0M309 224.5h1.0M308 223h1.0M372.5 225h1.0M380.5 224h1.0M326.5 222.5h1.0M306.5 221.5h1.0M329 220.5h1.0M314.5 221h1.0M336.5 222.5h1.0M383 229h1.0M377 226.5h1.0M308.5 222.5h1.0M358 225.5h1.0M377.5 229.5h1.0M307.5 223.5h1.0M364 227h1.0M352.5 231h1.0M370.5 230h1.0M324 227h1.0M306 226h1.0M338 227h1.0M382.5 223h1.0M378 231.5h1.0M323.5 227.5h1.0M332.5 228.5h1.0M316 226h1.0M344.5 220.5h1.0M332 224.5h1.0M363.5 228.5h1.0M371.5 225h1.0M350.5 225h1.0M365 221.5h1.0M353.5 225h1.0M354 220.5h1.0M350 225.5h1.0M373 228.5h1.0M367 230.5h1.0M310.5 221h1.0M376.5 226h1.0M355.5 227h1.0M306 221.5h1.0M378.5 227.5h1.0M306.5 222.5h1.0M306 225.5h1.0M325 222.5h1.0M372.5 229.5h1.0M341.5 232.5h1.0M369.5 229.5h1.0M375.5 225h1.0M358 230h1.0M354 226.5h1.0M371 227h1.0M368.5 224.5h1.0M333 229h1.0M370.5 222h1.0M378.5 223h1.0M324 223h1.0M314 225h1.0M355.5 229.5h1.0M322.5 220.5h1.0M319 225.5h1.0M333 226.5h1.0M370.5 231h1.0M369 224.5h1.0M351.5 222h1.0M336.5 232h1.0M348 231h1.0M347.5 225.5h1.0M355.5 231.5h1.0M323 224h1.0M340 226h1.0M361 224h1.0M339 224h1.0M383.5 218h1.0M326.5 217.5h1.0M340.5 226h1.0M308 221.5h1.0M314 224h1.0M360 227.5h1.0M345 224.5h1.0M307.5 225.5h1.0M381 225.5h1.0M334.5 219h1.0M340 231h1.0M380.5 222h1.0M358.5 230h1.0M365 226.5h1.0M356 223h1.0M377 226h1.0M323.5 231.5h1.0M343.5 227.5h1.0M372 222h1.0M361 229h1.0M315 221h1.0M342.5 230h1.0M343 228h1.0M359.5 223h1.0M314.5 225h1.0M377.5 222.5h1.0M372.5 226.5h1.0M371.5 225.5h1.0M356 226h1.0M341.5 229h1.0M347.5 229.5h1.0M370.5 235h1.0M311.5 220h1.0M341 225.5h1.0M316.5 218h1.0M341.5 226h1.0M363 235.5h1.0M307 228.5h1.0M339 228.5h1.0M323.5 225h1.0M371 220.5h1.0M333.5 230.5h1.0M308.5 223h1.0M351 225.5h1.0M331.5 224.5h1.0M363.5 226h1.0M381 231.5h1.0M372 221.5h1.0M342.5 224.5h1.0M360 234.5h1.0M326.5 225.5h1.0M373 220.5h1.0M353.5 226h1.0M368 232h1.0M348.5 230h1.0M324.5 224h1.0M372.5 223h1.0M382.5 229h1.0M320 223h1.0M377 224h1.0M352.5 226h1.0M342 225h1.0M323.5 222h1.0M376 227h1.0M371.5 229.5h1.0M332 221.5h1.0M357.5 230.5h1.0M359 228h1.0M372 224h1.0M377 224.5h1.0M342 225.5h1.0M364.5 228h1.0M354.5 219h1.0M352 227h1.0M351.5 228h1.0M382 232h1.0M362.5 219.5h1.0M342 224.5h1.0M377.5 223.5h1.0M347 223h1.0M354 229.5h1.0M320 227.5h1.0M317.5 229h1.0M356 227.5h1.0M375.5 224h1.0M378.5 231.5h1.0M319.5 227h1.0M348 223h1.0M357.5 226.5h1.0M341.5 221h1.0M375 222.5h1.0M311 225h1.0M381.5 227.5h1.0M312.5 222h1.0M373.5 231.5h1.0M354 227.5h1.0M357.5 228h1.0M316 229h1.0M344 225.5h1.0M366.5 227.5h1.0M368.5 222.5h1.0M326.5 222h1.0M348 227h1.0M338 223.5h1.0M312 223h1.0M348.5 222.5h1.0M311.5 223h1.0M344.5 222h1.0M323.5 221h1.0M376 233h1.0M327.5 227.5h1.0M312 226.5h1.0M380 225.5h1.0M373.5 230.5h1.0M311.5 219.5h1.0M356 222.5h1.0M375 225h1.0M342.5 227h1.0M311 228.5h1.0M369.5 218.5h1.0M370 231.5h1.0M348.5 224h1.0M368.5 225.5h1.0M332 223.5h1.0M372.5 224.5h1.0M331 232h1.0M334 229h1.0M341.5 223h1.0M368 233.5h1.0M316.5 227.5h1.0M309.5 226h1.0M338.5 227.5h1.0M339.5 222.5h1.0M328 227.5h1.0M364 224h1.0M378 224.5h1.0M347.5 227h1.0M361.5 225h1.0M369.5 227.5h1.0M317 226.5h1.0M351 227.5h1.0M339 221h1.0M357 228.5h1.0M379.5 228.5h1.0M370.5 220.5h1.0M335 223h1.0M367.5 225h1.0M380 223.5h1.0M374 227h1.0M316 224h1.0M361.5 224h1.0M315.5 224h1.0M327.5 229h1.0M322 222h1.0M312 223.5h1.0M346.5 226.5h1.0M329.5 227h1.0M324 226h1.0M361 226.5h1.0M314.5 227.5h1.0M349 225h1.0M333 228h1.0M371 233.5h1.0M352.5 226.5h1.0M370 226h1.0M367.5 224h1.0M383 223.5h1.0M378 226h1.0M373 223.5h1.0M323 228.5h1.0M323 227h1.0M326.5 232.5h1.0M358.5 227.5h1.0M336.5 222h1.0M356.5 226.5h1.0M307 223.5h1.0M313.5 230h1.0M378 227h1.0M338 220.5h1.0M360.5 219.5h1.0M365 225.5h1.0M313 225.5h1.0M374 229h1.0M368.5 231.5h1.0M362.5 229.5h1.0M362.5 224.5h1.0M336.5 231.5h1.0M323.5 224h1.0M357.5 223.5h1.0M380.5 231h1.0M311 228h1.0M382.5 226.5h1.0M319.5 228.5h1.0M376 227.5h1.0M314.5 229h1.0M360.5 225.5h1.0M361.5 224.5h1.0M311 219h1.0M328 228h1.0M363.5 223.5h1.0M327.5 222.5h1.0M347 228.5h1.0M319 226h1.0M372 229h1.0M334.5 233h1.0M362.5 228.5h1.0M312.5 226.5h1.0M333 217h1.0M369 232.5h1.0M350 222.5h1.0M319 225h1.0M353.5 228h1.0M365.5 227h1.0M355 225h1.0M362 223.5h1.0M317 224.5h1.0M355 225.5h1.0M369.5 224h1.0M351.5 226h1.0M322 227h1.0M374 225h1.0M327 232.5h1.0M369 223h1.0M358 226h1.0M376.5 232h1.0M374.5 229.5h1.0M361 227h1.0M371 226h1.0M368 220h1.0M345.5 225.5h1.0M371.5 233h1.0M359.5 222h1.0M306.5 222h1.0M381 226h1.0M326 225.5h1.0M308.5 226h1.0M326 219h1.0M335 229h1.0M364.5 229h1.0M314 224.5h1.0M361 224.5h1.0M376 222h1.0M351 225h1.0M331 226.5h1.0M368.5 230h1.0M363.5 227h1.0M368 221h1.0M330.5 229.5h1.0M336 225h1.0M326 224h1.0M330.5 228h1.0M374.5 231h1.0M362 235h1.0M355 223h1.0M327 226.5h1.0M337 221.5h1.0M375 226h1.0M381.5 231h1.0M373 229.5h1.0M311 224.5h1.0M368 230h1.0M381 230.5h1.0M374 221h1.0M323 225h1.0M313.5 223.5h1.0M317.5 223.5h1.0M343 223.5h1.0M373.5 225h1.0M310.5 220.5h1.0M366.5 223.5h1.0M364.5 224.5h1.0M327.5 225h1.0M346.5 226h1.0M362 222h1.0M345.5 228.5h1.0M367 224h1.0M344 228.5h1.0M383.5 224h1.0M378 221.5h1.0M342 231h1.0M355.5 226h1.0M321.5 225h1.0M319.5 228h1.0M338 229h1.0M359 232h1.0M364.5 227.5h1.0M329 224.5h1.0M365 226h1.0M381.5 229h1.0M320 220h1.0M309 226h1.0M319.5 225.5h1.0M367 228.5h1.0M370.5 223h1.0M368 228h1.0M362 227h1.0M372 229.5h1.0M309 228.5h1.0M354.5 223h1.0M306.5 220.5h1.0M375.5 222.5h1.0M348.5 226h1.0M332 225.5h1.0M364 229h1.0M341.5 228.5h1.0M363.5 229h1.0M380 226h1.0M337.5 228h1.0M357.5 221.5h1.0M316.5 222.5h1.0M351 226.5h1.0M360.5 227.5h1.0M357.5 221h1.0M355.5 226.5h1.0M313 229h1.0M369 222.5h1.0M374.5 221.5h1.0M315 224h1.0M323 226.5h1.0M361 219h1.0M339 222.5h1.0M378.5 230.5h1.0M376.5 224h1.0M369 227h1.0M348.5 227h1.0M381.5 225h1.0M340 224h1.0M335.5 228h1.0M345 227.5h1.0M335.5 220.5h1.0M321.5 227h1.0M319.5 225h1.0M379.5 222.5h1.0M379 223h1.0M370.5 222.5h1.0M377.5 229h1.0M353 228h1.0M381 231h1.0M369.5 225h1.0M338.5 222.5h1.0M375.5 230h1.0M330 229h1.0M309.5 222.5h1.0M348 228.5h1.0M383 235h1.0M347 223.5h1.0M321.5 219.5h1.0M377.5 227.5h1.0M316.5 224.5h1.0M310.5 224.5h1.0M307 221h1.0M332 228.5h1.0M332.5 227.5h1.0M344 220.5h1.0M368 227h1.0M344 232.5h1.0M337.5 223.5h1.0M314 222.5h1.0M367.5 228h1.0M332 231h1.0M307.5 222h1.0M314 230h1.0M374.5 227h1.0M343.5 224.5h1.0M316 220.5h1.0M380.5 223.5h1.0M322 226.5h1.0M366 224.5h1.0M380.5 225.5h1.0M364 226.5h1.0M371 230.5h1.0M352 225h1.0M368 232.5h1.0M378.5 231h1.0M364 225h1.0M367.5 223h1.0M315.5 224.5h1.0M374 229.5h1.0M364 223.5h1.0M366.5 225h1.0M331.5 220h1.0M361.5 227h1.0M317 218.5h1.0M339.5 223h1.0M310.5 223.5h1.0M336.5 220.5h1.0M379.5 227.5h1.0M346.5 225.5h1.0M347.5 221h1.0M359 220.5h1.0M315 221.5h1.0M367.5 233h1.0M364.5 221h1.0M350 223.5h1.0M363 230h1.0M359 223.5h1.0M343.5 228.5h1.0M327 221.5h1.0M318 227.5h1.0M345 225h1.0M336 226h1.0M313 221.5h1.0M308 222.5h1.0M332 227h1.0M327 228.5h1.0M359.5 226.5h1.0M312.5 220h1.0M372 225.5h1.0M372.5 223.5h1.0M341 224h1.0M359.5 228h1.0M310 226.5h1.0M328.5 224h1.0M335 227h1.0M358.5 227h1.0M374 228.5h1.0M316.5 221.5h1.0M338.5 228.5h1.0M374.5 230h1.0M379.5 224h1.0M366.5 226h1.0M363 226.5h1.0M354 223.5h1.0M381 232h1.0M323 222h1.0M330 226.5h1.0M382 229h1.0M338.5 223h1.0M377 221.5h1.0M347 229.5h1.0M368.5 229.5h1.0M358 230.5h1.0M343 227h1.0M343 222h1.0M363 223.5h1.0M335 230h1.0M335 230.5h1.0M335.5 223.5h1.0M339.5 229.5h1.0M383.5 224.5h1.0M372 227.5h1.0M334 225.5h1.0M341.5 219.5h1.0M350.5 226.5h1.0M352.5 223h1.0M363.5 225h1.0M366.5 224h1.0M375.5 227h1.0M356 228.5h1.0M382.5 225h1.0M334.5 228h1.0M338 234.5h1.0M335.5 219h1.0M323 227.5h1.0M340.5 222h1.0M360.5 229.5h1.0M320.5 223.5h1.0M351 219.5h1.0M354 231.5h1.0M357.5 224h1.0M350.5 223.5h1.0M316 223.5h1.0M379 226.5h1.0M355.5 229h1.0M379.5 228h1.0M381 228.5h1.0M363 229h1.0M364.5 223h1.0M357 224.5h1.0M337 224.5h1.0M358.5 229.5h1.0M332.5 223.5h1.0M333.5 226.5h1.0M320.5 224h1.0M379.5 225h1.0M375 229.5h1.0M367.5 224.5h1.0M329.5 231h1.0M310 218.5h1.0M362 226h1.0M326.5 224h1.0M378.5 226.5h1.0M344 229h1.0M342.5 228.5h1.0M338 227.5h1.0M325.5 219.5h1.0M348 231.5h1.0M369.5 229h1.0M354.5 229h1.0M318.5 225.5h1.0M371.5 228h1.0M348 225.5h1.0M347 226h1.0M373.5 229.5h1.0M374 231h1.0M311.5 228.5h1.0M364.5 219.5h1.0M375.5 223.5h1.0M372 228h1.0M369.5 228.5h1.0M378 222h1.0M359.5 233h1.0M338.5 233h1.0M367 225.5h1.0M339.5 231.5h1.0M349 228.5h1.0M359.5 225h1.0M362 221.5h1.0M378.5 228.5h1.0M314 215.5h1.0M363 231.5h1.0M375 223h1.0M368 222.5h1.0M354.5 231.5h1.0M383.5 229.5h1.0M329.5 229h1.0M327.5 217.5h1.0M329.5 225h1.0M362 232.5h1.0M364 224.5h1.0M309.5 223.5h1.0M356 225h1.0M336 228h1.0M340.5 221h1.0M382.5 226h1.0M365.5 230h1.0M356.5 220h1.0M382 221.5h1.0M378.5 228h1.0M312.5 223.5h1.0M319 222h1.0M317 229h1.0M322.5 228h1.0M314.5 223h1.0M351 227h1.0M354 223h1.0M310 230h1.0M346 227.5h1.0M328.5 226.5h1.0M370 227h1.0M321.5 227.5h1.0M346.5 227h1.0M345 230h1.0M368 226h1.0M364 236.5h1.0M337.5 229h1.0M342 223.5h1.0M319.5 217h1.0M308 217.5h1.0M342 226.5h1.0M352.5 225h1.0M349.5 228h1.0M359.5 225.5h1.0M351 233h1.0M374.5 224.5h1.0M351.5 228.5h1.0M338.5 226.5h1.0M378.5 227h1.0M336.5 221h1.0M312.5 223h1.0M352 223h1.0M370.5 221h1.0M381 232.5h1.0M327.5 224.5h1.0M346.5 231h1.0M337.5 221.5h1.0M340.5 228.5h1.0M321 225.5h1.0M363.5 233h1.0M361 228h1.0M333.5 225.5h1.0M364 230h1.0M310.5 222.5h1.0M336 224.5h1.0M370.5 226h1.0M357.5 225h1.0M337.5 227.5h1.0M364.5 223.5h1.0M331 219h1.0M318.5 222h1.0M359.5 221h1.0M314.5 225.5h1.0M327 227h1.0M361 225.5h1.0M368.5 227h1.0M361.5 225.5h1.0M341.5 227h1.0M357.5 223h1.0M317.5 224.5h1.0M342 228.5h1.0M319.5 224h1.0M334 228h1.0M357 224h1.0M366 229h1.0M311.5 226h1.0M309 223.5h1.0M338.5 224h1.0M326.5 223h1.0M336.5 228.5h1.0M377.5 230h1.0M373 226h1.0M348 224h1.0M377 231h1.0M332.5 224h1.0M378 229h1.0M357.5 228.5h1.0M365 222.5h1.0M366 235.5h1.0M371 221h1.0M376 232h1.0M339.5 232h1.0M370.5 228.5h1.0M342 229h1.0M325.5 225.5h1.0M333.5 228h1.0M362.5 228h1.0M368 225h1.0M367.5 226h1.0M308.5 226.5h1.0M327.5 227h1.0M308 219h1.0M370 224.5h1.0M333.5 223.5h1.0M358 226.5h1.0M316 223h1.0M352.5 224h1.0M360.5 220h1.0M340 229.5h1.0M374.5 225h1.0M363 231h1.0M361.5 231.5h1.0M345.5 230.5h1.0M317 223h1.0M365 230h1.0M344 226h1.0M381 225h1.0M328 225.5h1.0M327 230h1.0M342.5 229h1.0M349 229h1.0M380.5 226h1.0M361.5 222h1.0M377.5 220.5h1.0M363.5 224.5h1.0M369 227.5h1.0M382 230.5h1.0M348 223.5h1.0M338.5 229.5h1.0M349 221.5h1.0M362 224.5h1.0M307 226.5h1.0M309 216h1.0M332.5 225.5h1.0M362 223h1.0M351 222.5h1.0M378 227.5h1.0M352 232h1.0M330 225h1.0M355 226.5h1.0M334.5 220.5h1.0M362.5 230.5h1.0M322.5 222.5h1.0M359.5 224.5h1.0M358.5 233h1.0M339.5 224h1.0M383 228h1.0M374.5 227.5h1.0M307.5 229.5h1.0M337.5 225.5h1.0M378.5 229h1.0M329 223h1.0M334.5 227.5h1.0M369.5 227h1.0M316 225.5h1.0M348.5 225.5h1.0M353 224h1.0M317 227h1.0M365 231.5h1.0M341 228.5h1.0M334.5 229h1.0M364.5 221.5h1.0M313.5 226h1.0M358 221h1.0M330 228h1.0M326 224.5h1.0M316 222.5h1.0M327 224h1.0M333.5 218.5h1.0M323 222.5h1.0M353 224.5h1.0M363.5 227.5h1.0M348.5 221h1.0M353 221.5h1.0M315 228.5h1.0M370 225h1.0M367.5 219h1.0M366 228.5h1.0M308 226.5h1.0M346 226h1.0M361.5 229h1.0M336.5 224.5h1.0M350 230.5h1.0M376.5 226.5h1.0M313 219h1.0M313 228.5h1.0M381.5 228.5h1.0M377 233.5h1.0M327.5 223h1.0M377 223h1.0M350.5 229.5h1.0M375.5 224.5h1.0M364.5 230h1.0M380.5 220h1.0M378.5 222.5h1.0M369.5 232h1.0M371 229h1.0M321 224h1.0M366 226.5h1.0M348 230.5h1.0M369 219.5h1.0M381.5 224h1.0M348 229.5h1.0M354 230.5h1.0M313.5 219.5h1.0M331.5 221.5h1.0M380 224.5h1.0M356.5 225h1.0M358.5 222.5h1.0M333.5 228.5h1.0M329 227.5h1.0M338.5 221.5h1.0M337 225h1.0M369 223.5h1.0M320.5 224.5h1.0M313 227.5h1.0M370.5 227h1.0M354.5 222.5h1.0M367.5 229.5h1.0M326.5 228h1.0M334.5 234.5h1.0M315 226.5h1.0M360 228h1.0M358.5 229h1.0M312.5 224h1.0M306.5 219.5h1.0M313.5 220h1.0M306 220.5h1.0M363 228.5h1.0M351.5 222.5h1.0M383.5 218.5h1.0M339.5 221.5h1.0M374.5 230.5h1.0M377.5 228h1.0M337 220h1.0M373.5 233h1.0M366 229.5h1.0M378 225h1.0M361.5 229.5h1.0M351 226h1.0M373 228h1.0M329 226.5h1.0M376 230h1.0M345.5 225h1.0M333 235h1.0M376.5 225h1.0M357 220h1.0M368 229.5h1.0M334 226.5h1.0M374 236h1.0M369.5 220.5h1.0M364 223h1.0M366.5 227h1.0M344 223.5h1.0M307 224.5h1.0M363.5 222.5h1.0M347 227h1.0M312.5 225h1.0M359.5 227h1.0M366.5 230h1.0M332.5 224.5h1.0M355.5 232h1.0M372 222.5h1.0M365.5 231.5h1.0M350 224h1.0M359 222.5h1.0M356.5 229h1.0M349 226h1.0M327.5 225.5h1.0M352 221.5h1.0M333.5 224.5h1.0M354.5 225h1.0M324.5 228.5h1.0M352.5 224.5h1.0M322.5 226.5h1.0M382.5 220.5h1.0M362 231h1.0M337 227.5h1.0M312 226h1.0M348 224.5h1.0M362 229h1.0M340 228h1.0M375 222h1.0M347 225h1.0M306.5 224h1.0M360 224h1.0M325 226.5h1.0M347 231.5h1.0M357.5 227h1.0M364 226h1.0M313 223.5h1.0M346 231h1.0M320.5 222h1.0M369 229.5h1.0M318 230h1.0M331.5 222.5h1.0M348 227.5h1.0M369 225.5h1.0M344.5 230h1.0M325 224.5h1.0M327.5 219h1.0M368.5 228.5h1.0M376 228h1.0M320.5 226.5h1.0M374.5 228h1.0M314.5 231.5h1.0M322 225h1.0M366.5 231h1.0M381.5 224.5h1.0M368 224h1.0M352.5 225.5h1.0M330 221.5h1.0M337 232.5h1.0M339.5 224.5h1.0M367 226h1.0M337.5 224h1.0M309 227.5h1.0M375 231h1.0M363 225h1.0M349.5 228.5h1.0M323 226h1.0M336.5 225.5h1.0M377 229.5h1.0M339.5 225.5h1.0M328.5 223h1.0M317 224h1.0M339 223h1.0M335 217.5h1.0M343.5 226h1.0M344.5 227.5h1.0M312 221.5h1.0M327 229.5h1.0M345.5 231h1.0M320 225h1.0M382 223h1.0M367 222.5h1.0M326 226.5h1.0M371.5 226h1.0M324.5 229h1.0M368 231h1.0M342 230.5h1.0M311 222.5h1.0M333 227.5h1.0M373.5 221h1.0M368 225.5h1.0M365.5 224.5h1.0M367 228h1.0M358.5 225h1.0M341 222.5h1.0M363.5 222h1.0M363 227h1.0M310 228h1.0M354 224h1.0M355.5 231h1.0M351 231h1.0M314.5 228.5h1.0M357.5 230h1.0M336 219.5h1.0M340 225.5h1.0M321.5 223h1.0M321 222.5h1.0M317 228h1.0M372.5 236h1.0M373.5 230h1.0M350 222h1.0M361.5 228.5h1.0M375.5 226.5h1.0M340.5 225h1.0M325 221h1.0M329 219h1.0M355 220.5h1.0M321 232.5h1.0M324.5 227h1.0M321 229.5h1.0M365 224.5h1.0M380 226.5h1.0M377 232h1.0M335.5 227.5h1.0M363 232h1.0M374 228h1.0M381.5 226.5h1.0M308.5 228h1.0M366.5 233h1.0M322.5 224.5h1.0M320.5 221h1.0M369 228h1.0M370 223.5h1.0M334 225h1.0M332 223h1.0M326 229h1.0M328 224h1.0M351.5 227.5h1.0M358 231.5h1.0M368.5 226.5h1.0M326 226h1.0M359 229.5h1.0M357.5 227.5h1.0M358.5 223.5h1.0M371 222h1.0M314.5 223.5h1.0M370 230.5h1.0M375.5 228.5h1.0M351 232h1.0M315 226h1.0M315 224.5h1.0M350 231h1.0M383.5 225h1.0M343.5 228h1.0M348.5 222h1.0M372 230.5h1.0M346.5 228.5h1.0M373.5 223.5h1.0M321.5 224h1.0M354.5 230h1.0M310.5 223h1.0M307.5 220.5h1.0M360 229h1.0M372.5 231h1.0M365 228.5h1.0M361 226h1.0M350.5 226h1.0M340.5 226.5h1.0M359.5 224h1.0M377 227h1.0M337.5 231.5h1.0M329.5 227.5h1.0M367.5 226.5h1.0M355.5 233h1.0M329 228.5h1.0M340 220h1.0M370 220h1.0M372.5 228h1.0M357 225h1.0M361 231.5h1.0M331 228h1.0M318.5 227h1.0M383.5 226h1.0M363 219.5h1.0M322 226h1.0M323.5 226.5h1.0M324.5 225h1.0M306.5 224.5h1.0M310 227.5h1.0M329.5 222.5h1.0M339 227h1.0M317 225.5h1.0M345.5 220.5h1.0M366.5 226.5h1.0M365 223.5h1.0M323.5 223h1.0M324.5 228h1.0M362 230h1.0M324.5 224.5h1.0M379 221h1.0M334 218h1.0M353.5 225.5h1.0M321 228.5h1.0M346.5 222.5h1.0M374.5 223.5h1.0M348.5 229.5h1.0M314.5 227h1.0M312 222h1.0M327 223h1.0M324 221.5h1.0M327.5 229.5h1.0M318 219.5h1.0M357 229.5h1.0M377 229h1.0M350.5 227h1.0M375.5 229h1.0M307 229.5h1.0M380 228h1.0M358.5 228.5h1.0M359 227h1.0M325.5 217h1.0M356 232.5h1.0M329 233h1.0M364.5 222.5h1.0M332 227.5h1.0M352 228h1.0M360.5 226.5h1.0M384 226.5h1.0M365 225h1.0M376.5 229h1.0M348 229h1.0M311.5 224.5h1.0M319 229h1.0M321.5 226h1.0M371 226.5h1.0M321.5 223.5h1.0M322 225.5h1.0M339 225.5h1.0M319 228h1.0M372.5 226h1.0M377 228.5h1.0M369 225h1.0M357 222.5h1.0M367.5 231.5h1.0M320.5 226h1.0M344 228h1.0M338.5 231h1.0M328.5 221h1.0M307 227h1.0M374 230h1.0M370.5 225h1.0M347 224.5h1.0M307 220h1.0M343.5 221h1.0M310 222h1.0M323 230h1.0M361 230.5h1.0M319 224.5h1.0M341.5 233h1.0M356 231h1.0M330.5 220.5h1.0M330.5 227.5h1.0M307.5 234h1.0M313.5 233.5h1.0M379 225.5h1.0M344.5 226h1.0M322 223h1.0M334 227h1.0M380.5 234h1.0M330.5 224h1.0M361 220h1.0M371 228.5h1.0M319.5 229h1.0M312 227h1.0M326.5 221.5h1.0M349.5 227.5h1.0M359.5 229h1.0M321 217.5h1.0M308.5 223.5h1.0M333 224.5h1.0M310 223.5h1.0M353 226.5h1.0M342 224h1.0M371.5 231h1.0M316 228.5h1.0M365.5 224h1.0M376.5 223.5h1.0M359.5 223.5h1.0M314.5 226h1.0M323 233h1.0M361 225h1.0M383 229.5h1.0M369.5 223.5h1.0M326 227.5h1.0M308 224.5h1.0M336 220h1.0M365.5 226h1.0M364.5 226h1.0M322.5 232h1.0M328 221h1.0M311.5 224h1.0M365.5 222.5h1.0M367 232.5h1.0M312 219h1.0M355.5 217.5h1.0M316 228h1.0M355.5 223.5h1.0M369 228.5h1.0M369 216.5h1.0M335.5 231.5h1.0M324.5 222.5h1.0M367 225h1.0M342.5 223h1.0M352 218.5h1.0M351.5 225h1.0M329 225h1.0M339 229.5h1.0M373 220h1.0M346.5 221h1.0M333 223.5h1.0M340.5 223.5h1.0M354.5 228h1.0M321 220.5h1.0M357.5 225.5h1.0M378 226.5h1.0M341 215.5h1.0M373 232h1.0M366 233h1.0M306.5 225.5h1.0M324.5 226h1.0M332 231.5h1.0M361.5 223.5h1.0M326.5 223.5h1.0M314 222h1.0M306.5 229.5h1.0M330.5 223h1.0M374.5 232.5h1.0M332.5 228h1.0M308.5 221h1.0M321 222h1.0M371.5 232.5h1.0M369.5 225.5h1.0M353 225.5h1.0M309 226.5h1.0M374 224.5h1.0M342.5 223.5h1.0M363 219h1.0M365.5 231h1.0M360 223.5h1.0M368 228.5h1.0M365.5 226.5h1.0M365.5 234h1.0M371 223h1.0M351 230h1.0M320 229.5h1.0M337 228.5h1.0M379.5 226h1.0M371 227.5h1.0M365.5 221.5h1.0M379 226h1.0M318 223h1.0M307.5 218h1.0M343 224h1.0M365 224h1.0M357 220.5h1.0M350 226h1.0M362 237h1.0M323 216h1.0M360 227h1.0M326 228.5h1.0M330.5 229h1.0M329.5 225.5h1.0M361 223.5h1.0M307.5 227.5h1.0M372 223.5h1.0M364.5 224h1.0M322.5 221.5h1.0M383.5 222.5h1.0M347 221.5h1.0M379 225h1.0M347.5 226.5h1.0M365.5 221h1.0M358 225h1.0M318 227h1.0M337 223.5h1.0M318.5 221h1.0M349.5 222.5h1.0M333.5 221.5h1.0M371.5 230h1.0M369.5 224.5h1.0M329 224h1.0M327 224.5h1.0M368 226.5h1.0M349 231.5h1.0M362.5 234.5h1.0M311.5 225h1.0M370.5 227.5h1.0M326.5 219h1.0M352 229h1.0M311 223h1.0M369.5 228h1.0M349.5 225h1.0M368.5 231h1.0M323.5 219.5h1.0M352 222h1.0M350.5 222h1.0M320.5 225.5h1.0M351.5 219h1.0M310.5 226.5h1.0M318.5 224h1.0M311.5 227h1.0M367 230h1.0M356 223.5h1.0M370.5 228h1.0M359 230.5h1.0M356.5 225.5h1.0M338 225h1.0M350.5 220h1.0M342 219.5h1.0M329 230h1.0M362.5 225.5h1.0M372.5 227.5h1.0M366.5 231.5h1.0M339 226.5h1.0M315 223.5h1.0M318.5 224.5h1.0M349.5 224h1.0M349 224h1.0M359 228.5h1.0M350.5 225.5h1.0M351.5 225.5h1.0M321.5 228.5h1.0M329 227h1.0M348 225h1.0M344.5 224.5h1.0M383.5 230h1.0M358 228h1.0M344 224.5h1.0M370.5 232h1.0M366.5 222h1.0M366.5 223h1.0M307 227.5h1.0M361 223h1.0M369 229h1.0M360.5 222.5h1.0M357 226h1.0M364.5 230.5h1.0M314.5 229.5h1.0M333 225.5h1.0M369.5 222.5h1.0M313 222.5h1.0M364 228h1.0M382.5 227h1.0M325.5 227h1.0M369 232h1.0M355.5 227.5h1.0M306.5 226h1.0M379.5 230.5h1.0M354 226h1.0M329 226h1.0M324.5 225.5h1.0M362.5 226h1.0M355 231h1.0M370.5 230.5h1.0M330 226h1.0M362 229.5h1.0M329.5 224.5h1.0M339.5 229h1.0M360 231.5h1.0M362.5 229h1.0M381 223.5h1.0M359 219h1.0M329 221h1.0M376 231.5h1.0M383 225.5h1.0M307.5 227h1.0M333.5 220.5h1.0M373.5 228h1.0M317.5 228h1.0M360 226h1.0M335.5 223h1.0M361 229.5h1.0M352 224h1.0M346.5 225h1.0M350.5 222.5h1.0M366 223.5h1.0M311.5 229.5h1.0M355 227.5h1.0M369.5 222h1.0M354 225.5h1.0M330.5 226.5h1.0M361.5 226.5h1.0M328 226.5h1.0M336 230h1.0M334 223.5h1.0M365.5 225h1.0M318 225h1.0M330 220.5h1.0M322 222.5h1.0M340 222.5h1.0M316 218.5h1.0M352.5 221.5h1.0M381 227.5h1.0M308.5 227.5h1.0M309 228h1.0M317.5 226h1.0M371.5 228.5h1.0M378.5 230h1.0M307.5 229h1.0M330.5 218.5h1.0M357 222h1.0M380.5 227h1.0M366.5 225.5h1.0M342 220.5h1.0M379 224.5h1.0M333.5 222h1.0M317 226h1.0M358 227h1.0M322 224h1.0M379 232.5h1.0M375 226.5h1.0M310 227h1.0M333.5 230h1.0M380.5 228.5h1.0M383 233h1.0M381.5 233h1.0M370 226.5h1.0M356.5 232h1.0M359 226.5h1.0M341 232h1.0M366 226h1.0M368 221.5h1.0M374 230.5h1.0M364 228.5h1.0M357.5 229.5h1.0M311.5 230.5h1.0M324 228h1.0M347.5 228h1.0M326.5 228.5h1.0M334.5 218.5h1.0M331.5 225h1.0M306.5 225h1.0M372.5 222.5h1.0M337.5 230h1.0M337.5 233h1.0M339 230h1.0M327.5 232.5h1.0M342.5 225h1.0M358 229h1.0M352 227.5h1.0M343 217.5h1.0M316.5 229.5h1.0M370 221h1.0M332 230.5h1.0M376 226.5h1.0M358.5 226h1.0M355.5 230h1.0M357.5 222h1.0M380.5 230h1.0M317.5 226.5h1.0M354.5 221.5h1.0M313.5 220.5h1.0M365 227h1.0M313.5 227.5h1.0M352 232.5h1.0M325.5 232h1.0M317.5 227.5h1.0M321 223h1.0M328.5 224.5h1.0M371 229.5h1.0M341.5 220h1.0M380 227h1.0M313 229.5h1.0M346.5 227.5h1.0M338.5 223.5h1.0M380.5 228h1.0M383.5 227h1.0M379 229h1.0M323 223h1.0M322.5 223h1.0M314.5 221.5h1.0M373.5 229h1.0M374 221.5h1.0M306 223.5h1.0M348 219.5h1.0M323.5 220h1.0M340 223.5h1.0M365 228h1.0M320.5 228.5h1.0M331.5 230h1.0M357.5 232h1.0M376.5 227.5h1.0M349 227h1.0M347.5 226h1.0M376.5 228.5h1.0M339.5 228.5h1.0M381.5 221.5h1.0M335.5 226h1.0M378.5 220h1.0M340.5 228h1.0M348 230h1.0M322.5 230.5h1.0M344 223h1.0M371 230h1.0M343.5 226.5h1.0M308 223.5h1.0M347.5 222h1.0M365 222h1.0M312 229.5h1.0M329.5 232.5h1.0M317.5 224h1.0M308 227h1.0M345 221.5h1.0M380 219h1.0M373 222h1.0M345 224h1.0M368.5 226h1.0M380 230h1.0M325 228.5h1.0M364.5 226.5h1.0M341 221h1.0M353.5 224.5h1.0M376.5 222h1.0M380 230.5h1.0M338.5 231.5h1.0M363 222h1.0M310.5 219.5h1.0M325.5 226.5h1.0M350.5 228h1.0M315 225h1.0M318.5 223.5h1.0M355 228.5h1.0M339 224.5h1.0M333 220.5h1.0M344 219.5h1.0M375 223.5h1.0M319 224h1.0M309.5 220.5h1.0M363 224.5h1.0M325 223.5h1.0M315 227h1.0M308.5 227h1.0M346 218h1.0M337 231h1.0M345.5 230h1.0M307 218.5h1.0M321.5 225.5h1.0M367 223.5h1.0M327 222.5h1.0M336.5 225h1.0M341 226.5h1.0M362 225h1.0M316.5 225.5h1.0M353 229.5h1.0M339.5 226.5h1.0M334 223h1.0M378.5 232.5h1.0M311 221.5h1.0M341.5 231h1.0M306 218h1.0M308.5 229h1.0M376 225h1.0M349.5 226h1.0M346 223h1.0M367.5 229h1.0M381.5 234h1.0M378 223h1.0M334 226h1.0M352 225.5h1.0M308 222h1.0M330 219h1.0M352.5 230h1.0M370 225.5h1.0M328.5 228h1.0M331 225h1.0M370.5 233h1.0M316 230h1.0M307.5 228.5h1.0M381.5 229.5h1.0M334.5 226h1.0M311 225.5h1.0M353.5 223.5h1.0M320 219h1.0M321.5 219h1.0M354.5 227.5h1.0M382.5 230h1.0M322.5 227.5h1.0M349 223.5h1.0M321 225h1.0M348.5 220h1.0M364.5 225.5h1.0M382 231.5h1.0M335 228h1.0M346.5 224.5h1.0M334.5 224h1.0M311 220.5h1.0M362.5 225h1.0M306.5 223.5h1.0M362.5 224h1.0M372 231.5h1.0M308.5 222h1.0M375 227h1.0M345.5 229.5h1.0M355 223.5h1.0M345.5 224.5h1.0M347.5 227.5h1.0M358.5 230.5h1.0M349.5 223.5h1.0M321 229h1.0M373 224.5h1.0M306 222.5h1.0M316.5 223h1.0M331 216.5h1.0M357 228h1.0M377 227.5h1.0M370.5 229h1.0M351.5 221.5h1.0M331 221.5h1.0M338.5 225.5h1.0M307 225.5h1.0M334.5 227h1.0M346 225.5h1.0M351 228.5h1.0M321 226.5h1.0M371.5 224h1.0M370 228.5h1.0M341 229h1.0M364.5 231h1.0M363.5 228h1.0M361.5 231h1.0M320.5 225h1.0M315.5 221.5h1.0M359 229h1.0M345.5 224h1.0M372.5 227h1.0M370 229.5h1.0M320.5 227.5h1.0M367 226.5h1.0M354 232.5h1.0M372 226h1.0M373 219.5h1.0M361.5 230h1.0M368.5 232h1.0M321.5 221h1.0M333 222h1.0M379 230h1.0M350 230h1.0M364 222h1.0M340.5 229h1.0M358 218h1.0M351 223.5h1.0M357.5 224.5h1.0M381 228h1.0M382.5 228.5h1.0M357.5 226h1.0M334 224h1.0M344.5 223.5h1.0M349 224.5h1.0M337.5 227h1.0M317 232h1.0M364 218.5h1.0M378 225.5h1.0M315.5 222h1.0M315.5 231h1.0M375 225.5h1.0M362 230.5h1.0M335.5 229h1.0M356 229.5h1.0M313 219.5h1.0M310 220.5h1.0M365 229.5h1.0M346 220h1.0M339 229h1.0M375.5 229.5h1.0M306 228h1.0M307.5 223h1.0M318 222h1.0M307 231h1.0M324.5 223.5h1.0M309.5 221.5h1.0M314.5 226.5h1.0M352 228.5h1.0M381.5 225.5h1.0M375.5 228h1.0M373.5 224h1.0M327 229h1.0M354.5 226.5h1.0M313.5 228h1.0M339.5 217.5h1.0M371.5 223.5h1.0M343.5 225h1.0M332.5 227h1.0M326.5 233h1.0M336 229.5h1.0M335 223.5h1.0M375.5 225.5h1.0M374.5 229h1.0M319 223.5h1.0M306 224h1.0M339.5 223.5h1.0M331.5 230.5h1.0M361.5 220.5h1.0M309.5 227h1.0M330.5 223.5h1.0M351.5 224h1.0M332 219.5h1.0M354.5 228.5h1.0M314.5 228h1.0M379 230.5h1.0M318.5 228.5h1.0M366 221.5h1.0M353 226h1.0M334.5 222h1.0M378 232h1.0M319 223h1.0M310 226h1.0M349 232h1.0M380 221h1.0M342.5 226.5h1.0M339.5 227.5h1.0M344 222h1.0M338 228h1.0M343.5 229h1.0M318.5 228h1.0M382 219h1.0M347.5 228.5h1.0M357.5 229h1.0M357 227h1.0M365.5 229.5h1.0M324 225.5h1.0M332.5 226.5h1.0M339.5 225h1.0M316 222h1.0M380 224h1.0M319.5 222h1.0M346 224h1.0M359 226h1.0M322 224.5h1.0M365.5 228h1.0M340 225h1.0M370.5 229.5h1.0M308.5 224h1.0M383.5 232h1.0M335 229.5h1.0M353.5 223h1.0M339.5 218.5h1.0M379.5 231.5h1.0M337 226h1.0M379 229.5h1.0M314 229.5h1.0M338.5 228h1.0M371.5 224.5h1.0M315.5 225h1.0M354.5 230.5h1.0M377.5 224.5h1.0M373.5 222.5h1.0M348.5 223.5h1.0M343.5 227h1.0M308 221h1.0M328.5 229.5h1.0M318 222.5h1.0M319 230.5h1.0M347.5 230.5h1.0M365.5 229h1.0M323 221.5h1.0M374.5 221h1.0M362 224h1.0M340 229h1.0M351.5 233h1.0M383.5 233h1.0M343.5 225.5h1.0M313.5 222h1.0M382.5 232.5h1.0M317 229.5h1.0M356.5 228h1.0M340.5 222.5h1.0M329 225.5h1.0M342.5 224h1.0M354.5 232.5h1.0M338 226h1.0M375 224.5h1.0M363 230.5h1.0M367.5 222.5h1.0M308 226h1.0M374 226.5h1.0M316.5 217.5h1.0M309.5 227.5h1.0M308.5 228.5h1.0M312.5 230.5h1.0M355 230h1.0M379 220h1.0M382 227h1.0M310 228.5h1.0M356 227h1.0M353.5 230.5h1.0M349 223h1.0M372 223h1.0M322.5 223.5h1.0M371.5 229h1.0M308 225.5h1.0M321.5 216.5h1.0M360.5 221h1.0M349.5 225.5h1.0M307 229h1.0M382.5 231.5h1.0M345 229h1.0M363.5 218.5h1.0M318.5 220.5h1.0M366 224h1.0M366.5 228h1.0M331.5 223h1.0M309 227h1.0M342 221.5h1.0M308 225h1.0M351.5 221h1.0M381 226.5h1.0M382 225h1.0M373.5 226h1.0M364.5 229.5h1.0M367 229h1.0M328.5 223.5h1.0M350.5 227.5h1.0M374 219h1.0M316 219.5h1.0M377.5 227h1.0M341.5 225h1.0M353.5 227h1.0M368 230.5h1.0M326.5 219.5h1.0M374.5 224h1.0M378.5 234.5h1.0M378.5 220.5h1.0M340.5 230.5h1.0M339.5 230h1.0M310.5 228h1.0M364 231h1.0M370.5 225.5h1.0M351 223h1.0M321.5 222h1.0M336 231.5h1.0M379 231h1.0M314 219.5h1.0M366 228h1.0M334 224.5h1.0M352 218h1.0M337 224h1.0M367.5 222h1.0M377 230h1.0M355.5 220.5h1.0M342 226h1.0M344.5 227h1.0M346.5 234.5h1.0M332 225h1.0M380.5 225h1.0M357 227.5h1.0M311 221h1.0M344.5 222.5h1.0M324 219.5h1.0M323.5 226h1.0M354 221h1.0M356.5 230.5h1.0M311 231h1.0M314 231h1.0M380 228.5h1.0M316 226.5h1.0M373 225.5h1.0M334 228.5h1.0M353.5 222h1.0M309.5 224.5h1.0M335.5 220h1.0M315 228h1.0M346.5 229h1.0M347.5 223.5h1.0M372 220.5h1.0M365.5 222h1.0M323.5 231h1.0M369.5 230h1.0M336 221h1.0M338 225.5h1.0M358.5 223h1.0M351.5 223.5h1.0M369.5 221h1.0M313.5 227h1.0M341.5 224h1.0M315 222.5h1.0M346 221.5h1.0M351.5 229h1.0M348 226h1.0M374 233h1.0M349.5 223h1.0M364 230.5h1.0M321 227h1.0M348.5 228h1.0M334.5 221.5h1.0M330.5 225.5h1.0M323.5 225.5h1.0M307 226h1.0M311 224h1.0M313 224.5h1.0M378.5 225.5h1.0M364.5 228.5h1.0M346.5 223.5h1.0M316.5 226h1.0M357.5 231h1.0M341.5 221.5h1.0M328.5 228.5h1.0M328 225h1.0M359 227.5h1.0M356.5 224.5h1.0M347 222h1.0M359 225.5h1.0M354.5 225.5h1.0M351 224h1.0M347 227.5h1.0M356 228h1.0M359 224h1.0M370 220.5h1.0M320.5 227h1.0M382 224.5h1.0M368 229h1.0M320 223.5h1.0M309.5 229.5h1.0M359 224.5h1.0M381 224.5h1.0M372.5 220h1.0M320.5 223h1.0M345 223h1.0M382 230h1.0M312 230h1.0M368.5 229h1.0M378 231h1.0M363 229.5h1.0M307 217.5h1.0M333 222.5h1.0M312 232h1.0M328 223h1.0M346.5 232h1.0M331 230h1.0M341 233.5h1.0M337 230h1.0M348.5 227.5h1.0M345 226.5h1.0M373 225h1.0M380.5 231.5h1.0M377.5 225h1.0M315 229.5h1.0M350.5 230h1.0M379 228h1.0M309 221.5h1.0M307 222.5h1.0M373.5 228.5h1.0M368 234.5h1.0M328.5 227h1.0M382 232.5h1.0M337 229h1.0M371 232h1.0M356.5 227.5h1.0M370 224h1.0M356 224h1.0M346 230h1.0M309.5 225.5h1.0M328 220.5h1.0M330 222.5h1.0M343 225.5h1.0M358.5 224h1.0M383 231h1.0M329.5 221.5h1.0M323 224.5h1.0M380 233.5h1.0M378 233h1.0M383.5 229h1.0M371 223.5h1.0M331 222h1.0M356 229h1.0M370.5 224h1.0M317.5 225.5h1.0M368.5 223h1.0M368.5 222h1.0M317 234h1.0M360 219.5h1.0M362.5 222.5h1.0M334.5 226.5h1.0M376.5 224.5h1.0M344 227.5h1.0M355.5 218h1.0M383 228.5h1.0M361 222.5h1.0M383 221.5h1.0M347 229h1.0M322.5 221h1.0M312 227.5h1.0M356 218.5h1.0M357 226.5h1.0M353 229h1.0M355.5 225h1.0M363.5 223h1.0M366 225.5h1.0M322.5 228.5h1.0M313 220.5h1.0M376 226h1.0M360.5 230h1.0M345.5 226h1.0M371 224.5h1.0M365 219.5h1.0M335.5 221h1.0M344.5 221h1.0M330.5 225h1.0M321.5 230.5h1.0M336 218h1.0M317 228.5h1.0M351.5 224.5h1.0M361.5 219.5h1.0M311.5 226.5h1.0M354 222h1.0M377.5 223h1.0M326.5 227h1.0M346 227h1.0M379 231.5h1.0M348 221h1.0M373 222.5h1.0M313.5 221h1.0M350 221.5h1.0M326.5 225h1.0M359.5 228.5h1.0M344.5 225h1.0M313.5 221.5h1.0M362 225.5h1.0M372.5 230h1.0M336.5 233.5h1.0M306.5 218.5h1.0M341.5 224.5h1.0M359.5 233.5h1.0M325.5 228.5h1.0M328 226h1.0M330 221h1.0M315.5 220h1.0M355.5 230.5h1.0M341 227.5h1.0M331.5 219h1.0M366 220.5h1.0M322 221.5h1.0M314 221.5h1.0M376.5 229.5h1.0M320 228h1.0M336.5 227h1.0M346 229h1.0M319 228.5h1.0M330 227.5h1.0M318 226h1.0M373.5 221.5h1.0M380 229h1.0M353 223.5h1.0M353.5 228.5h1.0M325.5 224.5h1.0M365 221h1.0M353.5 221.5h1.0M337.5 220.5h1.0M323.5 230.5h1.0M350.5 224.5h1.0M310 222.5h1.0M377 225.5h1.0M318.5 229h1.0M328 228.5h1.0M317 221.5h1.0M328.5 225h1.0M341 221.5h1.0M367.5 227h1.0M333.5 224h1.0M310 224.5h1.0M376.5 230.5h1.0M336.5 229h1.0M372.5 229h1.0M323 223.5h1.0M378 230h1.0M359.5 227.5h1.0M355 221h1.0M325 227.5h1.0M383.5 231.5h1.0M315.5 226h1.0M324 224.5h1.0M337 219.5h1.0M312 220.5h1.0M333 226h1.0M343 224.5h1.0M373 230h1.0M367.5 231h1.0M372 221h1.0M364 232.5h1.0M314 229h1.0M327 228h1.0M330.5 222h1.0M355.5 228h1.0M308.5 219h1.0M360 225h1.0M331.5 224h1.0M378 233.5h1.0M382.5 229.5h1.0M369.5 223h1.0M353 231.5h1.0M372 231h1.0M353 221h1.0M312.5 231.5h1.0M351.5 223h1.0M315.5 221h1.0M344 229.5h1.0M370 221.5h1.0M351 222h1.0M357 218.5h1.0M324 222h1.0M376 221.5h1.0M347 226.5h1.0M328.5 222.5h1.0M329 229h1.0M307.5 219.5h1.0M334 220.5h1.0M351 220h1.0M322 227.5h1.0M334 219.5h1.0M361 228.5h1.0M332.5 222.5h1.0M366 225h1.0M353.5 229.5h1.0M349.5 222h1.0M333.5 222.5h1.0M369 220h1.0M309 222.5h1.0M321.5 222.5h1.0M376.5 221h1.0M311.5 227.5h1.0M338.5 230.5h1.0M379.5 219.5h1.0M358.5 221h1.0M370 218.5h1.0M324 225h1.0M346 221h1.0M340.5 231.5h1.0M338 223h1.0M355 226h1.0M334 221h1.0M383.5 228.5h1.0M330.5 228.5h1.0M341 220.5h1.0M310.5 222h1.0M312.5 220.5h1.0M331.5 223.5h1.0M372.5 228.5h1.0M314.5 222.5h1.0M364.5 231.5h1.0M309 222h1.0M323 228h1.0M348 226.5h1.0M345.5 227.5h1.0M378 224h1.0M369 221h1.0M323 229.5h1.0M306 231h1.0M345 228h1.0M319 230h1.0M328 232h1.0M338 221.5h1.0M355.5 224.5h1.0M323 229h1.0M342 221h1.0M347.5 220h1.0M307 223h1.0M344 224h1.0M357.5 222.5h1.0M360.5 230.5h1.0M352 222.5h1.0M323.5 227h1.0M324.5 227.5h1.0M377.5 233.5h1.0M319 227h1.0M362.5 232.5h1.0M367 227.5h1.0M318.5 223h1.0M358 227.5h1.0M368.5 230.5h1.0M306 224.5h1.0M315.5 227h1.0M337 230.5h1.0M349 227.5h1.0M313.5 224.5h1.0M339.5 226h1.0M320 226h1.0M309 219h1.0M370.5 232.5h1.0M356 224.5h1.0M376.5 220.5h1.0M381 221.5h1.0M377 223.5h1.0M335 227.5h1.0M331 230.5h1.0M313.5 225.5h1.0M325 222h1.0M338.5 230h1.0M312 231h1.0M317.5 230h1.0M358.5 225.5h1.0M376.5 231.5h1.0M381.5 226h1.0M329 228h1.0M325 223h1.0M359.5 220h1.0M366 227.5h1.0M337.5 226.5h1.0M319 221.5h1.0M376 229.5h1.0M317.5 219.5h1.0M311.5 233h1.0M360.5 225h1.0M316 232h1.0M310 219.5h1.0M342 230h1.0M355 222.5h1.0M380.5 220.5h1.0M318.5 220h1.0M330.5 220h1.0M378.5 225h1.0M353.5 219h1.0M330 224h1.0M376 228.5h1.0M317 220h1.0M377 225h1.0M354 228.5h1.0M312.5 219.5h1.0M319.5 223h1.0M309.5 224h1.0M338.5 226h1.0M344 219h1.0M344.5 221.5h1.0M357.5 234h1.0M381 224h1.0M314.5 231h1.0M374.5 236.5h1.0M371.5 231.5h1.0M359 220h1.0M354.5 226h1.0M308 220.5h1.0M331.5 229.5h1.0M330.5 219.5h1.0M380.5 224.5h1.0M379.5 229h1.0M320 226.5h1.0M369 226h1.0M345.5 226.5h1.0M310.5 220h1.0M358.5 221.5h1.0M376.5 219h1.0M320 220.5h1.0M311.5 230h1.0M317.5 229.5h1.0M336 229h1.0M352.5 227.5h1.0M337 225.5h1.0M353.5 231h1.0M361 227.5h1.0M371.5 226.5h1.0M345.5 223h1.0M359 234h1.0M338.5 229h1.0M317 230.5h1.0M345.5 227h1.0M349.5 227h1.0M325 225.5h1.0M317.5 221h1.0M367 229.5h1.0M362 233.5h1.0M341.5 228h1.0M341 223.5h1.0M382.5 224.5h1.0M345 223.5h1.0M338.5 224.5h1.0M309 224h1.0M355 218h1.0M375.5 218h1.0M307.5 224.5h1.0M346.5 222h1.0M348 228h1.0M365.5 232.5h1.0M366.5 222.5h1.0M378 234h1.0M361.5 222.5h1.0M325.5 227.5h1.0M322 220.5h1.0M313 224h1.0M337.5 223h1.0M339 230.5h1.0M325 229.5h1.0M356.5 228.5h1.0M333 221h1.0M323 231h1.0M317.5 217h1.0M370.5 221.5h1.0M354.5 232h1.0M309 217h1.0M376 221h1.0M317.5 227h1.0M307.5 221h1.0M371 232.5h1.0M317 222h1.0M375.5 226h1.0M369 231.5h1.0M361 231h1.0M367 220.5h1.0M378.5 224.5h1.0M350 228h1.0M329.5 219h1.0M376 224h1.0M327.5 228.5h1.0M384 225.5h1.0M382 222h1.0M353.5 232h1.0M371.5 223h1.0M375.5 231.5h1.0M364 231.5h1.0M344 222.5h1.0M373.5 222h1.0M367.5 225.5h1.0M375.5 221h1.0M361 221h1.0M382 227.5h1.0M342.5 222.5h1.0M360.5 228h1.0M352.5 222h1.0M363 233h1.0M345.5 231.5h1.0M316.5 218.5h1.0M342 223h1.0M315.5 218.5h1.0M329.5 224h1.0M372 224.5h1.0M352.5 223.5h1.0M338 222h1.0M317 227.5h1.0M352.5 234.5h1.0M367 224.5h1.0M381 227h1.0M345.5 221.5h1.0M335 218.5h1.0M350 231.5h1.0M337.5 229.5h1.0M332.5 225h1.0M376.5 228h1.0M344 220h1.0M353 228.5h1.0M362.5 226.5h1.0M376.5 220h1.0M321.5 218h1.0M334.5 229.5h1.0M332.5 229.5h1.0M361.5 230.5h1.0M319.5 224.5h1.0M362.5 218.5h1.0M341.5 230h1.0M355.5 219.5h1.0M354 228h1.0M339.5 220h1.0M322 228.5h1.0M322 221h1.0M335 231.5h1.0M366.5 233.5h1.0M313 225h1.0M371.5 222.5h1.0M370 223h1.0M311.5 222h1.0M315 219h1.0M312 229h1.0M360.5 234.5h1.0M330 225.5h1.0M331 228.5h1.0M355 221.5h1.0M380 221.5h1.0M311 230h1.0M355 224h1.0M334.5 232h1.0M309 218h1.0M344.5 224h1.0M346 230.5h1.0M356.5 224h1.0M332.5 221h1.0M327.5 220.5h1.0M376.5 231h1.0M342 227h1.0M336 226.5h1.0M376 223.5h1.0M333 223h1.0M325 218h1.0M306.5 227.5h1.0M340.5 227h1.0M373.5 234.5h1.0M375 230.5h1.0M322.5 226h1.0M382.5 219.5h1.0M310 225.5h1.0M334.5 224.5h1.0M310.5 225.5h1.0M363.5 219h1.0M327.5 218h1.0M352.5 220.5h1.0M347 232h1.0M321.5 221.5h1.0M360.5 220.5h1.0M383 230h1.0M380.5 229.5h1.0M366 231h1.0M312.5 222.5h1.0M375.5 221.5h1.0M352 226.5h1.0M381.5 230.5h1.0M374 224h1.0M350.5 224h1.0M380.5 229h1.0M351 224.5h1.0M348.5 219.5h1.0M362.5 221h1.0M332 226.5h1.0M341 226h1.0M356.5 234.5h1.0M315.5 226.5h1.0M344 226.5h1.0M316.5 222h1.0M372.5 230.5h1.0M382 222.5h1.0M365 232.5h1.0M377 222.5h1.0M355 227h1.0M334.5 231h1.0M346 228h1.0M335.5 227h1.0M316.5 223.5h1.0M352 231h1.0M310.5 227h1.0M351 232.5h1.0M360.5 233h1.0M344.5 228.5h1.0M371 231h1.0M313 220h1.0M310 220h1.0M362 231.5h1.0M318 226.5h1.0M330.5 219h1.0M315.5 225.5h1.0M319 220h1.0M336 233.5h1.0M346.5 228h1.0M352 234h1.0M330.5 226h1.0M377.5 228.5h1.0M336.5 230h1.0M320.5 221.5h1.0M346.5 221.5h1.0M328 227h1.0M383.5 223.5h1.0M349 230.5h1.0M335.5 222.5h1.0M318 223.5h1.0M326 222h1.0M336.5 229.5h1.0M378.5 222h1.0M335.5 228.5h1.0M335 224h1.0M329 222.5h1.0M336.5 228h1.0M383 219.5h1.0M346.5 223h1.0M363 234h1.0M325 224h1.0M311.5 223.5h1.0M326.5 230.5h1.0M371 234h1.0M380.5 235.5h1.0M319 226.5h1.0M337.5 228.5h1.0M335.5 229.5h1.0M308.5 225h1.0M318 224h1.0M367.5 228.5h1.0M374.5 222.5h1.0M356.5 221h1.0M360 232h1.0M331 225.5h1.0M381.5 227h1.0M352 223.5h1.0M370 230h1.0M371 225h1.0M322.5 224h1.0M313 228h1.0M356.5 226h1.0M370 222h1.0M360 216h1.0M361.5 233.5h1.0M324.5 229.5h1.0M352.5 228.5h1.0M358 224h1.0M373 223h1.0M307.5 225h1.0M373.5 225.5h1.0M364 234h1.0M371 221.5h1.0M340 230h1.0M338 224h1.0M343.5 223.5h1.0M322.5 229.5h1.0M343 227.5h1.0M312 224.5h1.0M375.5 230.5h1.0M362 218h1.0M353 222h1.0M322 223.5h1.0M324 228.5h1.0M346 222.5h1.0M358.5 222h1.0M373 230.5h1.0M345 229.5h1.0M363 222.5h1.0M325 229h1.0M383 227.5h1.0M371 233h1.0M368.5 218.5h1.0M323 217.5h1.0M380 225h1.0M335 225.5h1.0M336.5 227.5h1.0M345 226h1.0M361.5 217h1.0M354 225h1.0M343 226h1.0M320 225.5h1.0" stroke="#000" stroke-width="1.0" fill="none"/>
<path d="M328.5 318h0.7M383.5 312.5h0.7M340 318.5h0.7M382.5 309h0.7M320.5 315h0.7M355.5 303.5h0.7M309.5 313h0.7M360 308h0.7M354.5 312.5h0.7M329.5 319h0.7M320.5 320h0.7M323 317.5h0.7M315.5 314.5h0.7M303.5 308.5h0.7M304 321h0.7M325.5 315h0.7M314.5 319h0.7M337.5 318h0.7M356 310.5h0.7M312 322h0.7M303.5 321.5h0.7M316.5 320h0.7M384 306h0.7M362 315h0.7M350 311.5h0.7M378 313.5h0.7M323 303h0.7M337.5 304.5h0.7M353 310h0.7M381 302h0.7M302 310.5h0.7M332.5 307.5h0.7M320 321.5h0.7M350 304.5h0.7M333.5 318.5h0.7M322 316h0.7M343.5 311h0.7M352.5 315.5h0.7M366 305h0.7M315 318h0.7M373 314h0.7M353 312h0.7M309.5 316.5h0.7M363 305h0.7M329 319h0.7M320 317h0.7M355.5 317.5h0.7M367.5 307h0.7M378 315h0.7M364 310.5h0.7M383.5 312h0.7M347 317h0.7M341.5 314h0.7M375 315h0.7M341.5 307h0.7M341.5 313h0.7M347 315h0.7M313 312h0.7M347 308h0.7M362.5 316h0.7M381 303h0.7M313 313h0.7M339 318h0.7M300 314.5h0.7M352 317.5h0.7M315 320.5h0.7M320 320h0.7M365.5 309.5h0.7M353.5 313h0.7M340.5 316h0.7M330.5 315h0.7M365.5 312h0.7M349 310h0.7M368.5 313h0.7M341.5 317h0.7M359.5 312.5h0.7M320 318h0.7M361 300.5h0.7M356.5 315.5h0.7M326 312h0.7M319 319h0.7M302.5 319h0.7M358.5 314h0.7M355.5 313h0.7M377.5 313h0.7M367 313.5h0.7M348 316h0.7M331 319.5h0.7M307 319.5h0.7M339.5 312.5h0.7M330.5 319.5h0.7M350.5 301.5h0.7M340.5 317h0.7M354 309h0.7M322.5 310.5h0.7M311 318h0.7M352 311h0.7M361.5 311.5h0.7M381.5 297.5h0.7M373 310h0.7M314 319.5h0.7M346.5 308h0.7M339.5 315h0.7M335.5 315.5h0.7M318 318h0.7M385.5 304.5h0.7M345 301.5h0.7M308.5 317.5h0.7M337 308.5h0.7M367 316.5h0.7M335.5 313.5h0.7M352.5 318.5h0.7M302.5 317.5h0.7M315 311.5h0.7M327 310.5h0.7M340 312h0.7M321 316h0.7M303.5 304h0.7M373 309h0.7M354 313h0.7M343.5 314.5h0.7M387 304.5h0.7M341.5 312h0.7M365.5 308h0.7M383.5 295h0.7M359 305.5h0.7M301 314h0.7M321.5 311h0.7M324.5 312h0.7M361 306.5h0.7M345 312.5h0.7M370.5 310.5h0.7M320.5 315.5h0.7M330 308h0.7M300.5 308h0.7M355 316.5h0.7M333 316.5h0.7M337.5 320h0.7M360.5 312h0.7M304.5 318h0.7M312.5 316.5h0.7M346.5 316h0.7M324.5 316.5h0.7M368 308.5h0.7M361.5 310h0.7M372 310.5h0.7M345 309.5h0.7M329.5 318h0.7M309 321h0.7M309 309.5h0.7M382.5 304.5h0.7M360 313h0.7M348.5 317h0.7M329.5 306h0.7M314 317h0.7M345 316.5h0.7M330.5 319h0.7M344.5 306h0.7M301 319.5h0.7M368 314.5h0.7M371.5 309.5h0.7M303 318h0.7M365.5 316h0.7M364.5 313.5h0.7M313.5 309h0.7M313.5 318h0.7M382 307.5h0.7M324.5 312.5h0.7M375 312h0.7M318 319.5h0.7M383 310.5h0.7M365.5 310h0.7M351.5 319h0.7M331.5 313.5h0.7M305.5 313h0.7M309 310h0.7M314 297.5h0.7M337.5 313h0.7M360.5 313.5h0.7M364 314.5h0.7M385.5 309h0.7M357 316h0.7M349.5 313h0.7M301.5 317.5h0.7M357.5 312.5h0.7M349 314h0.7M362.5 314.5h0.7M318 315h0.7M380.5 309h0.7M303 319.5h0.7M344 319h0.7M308 318h0.7M355 308.5h0.7M305 316h0.7M347.5 314.5h0.7M381.5 312.5h0.7M374 314h0.7M331 311h0.7M310 320h0.7M378.5 312.5h0.7M365 304h0.7M347 311.5h0.7M360.5 301h0.7M324 316h0.7M332.5 314.5h0.7M358.5 312.5h0.7M323.5 314h0.7M371.5 309h0.7M323 314.5h0.7M368 316h0.7M337.5 309.5h0.7M353 311h0.7M364.5 315h0.7M371 313.5h0.7M345 319h0.7M367 316h0.7M330 309.5h0.7M346.5 316.5h0.7M358.5 316.5h0.7M302.5 314h0.7M343 319h0.7M374.5 313h0.7M342 310h0.7M359.5 314.5h0.7M338.5 315.5h0.7M314.5 314.5h0.7M350 316h0.7M377.5 308h0.7M304.5 318.5h0.7M341.5 313.5h0.7M361 310.5h0.7M347.5 318h0.7M365 302h0.7M318 316.5h0.7M308 316h0.7M351 309.5h0.7M360 315h0.7M328 318.5h0.7M302.5 320.5h0.7M366 310h0.7M330.5 316h0.7M312 314.5h0.7M356 314h0.7M387 309h0.7M341 301.5h0.7M337 316.5h0.7M350 317.5h0.7M362.5 303.5h0.7M381 295.5h0.7M349.5 310.5h0.7M328.5 315h0.7M363.5 308.5h0.7M335.5 318h0.7M366.5 307h0.7M383.5 307.5h0.7M359.5 317.5h0.7M364 311h0.7M376.5 313h0.7M381.5 308.5h0.7M334 314.5h0.7M341 316.5h0.7M374 302.5h0.7M375 306.5h0.7M306.5 307h0.7M319.5 311.5h0.7M370.5 311.5h0.7M315 312h0.7M378 309h0.7M302.5 316h0.7M317 315.5h0.7M382.5 312h0.7M317.5 320.5h0.7M359 310h0.7M300.5 315.5h0.7M326 316h0.7M357 315h0.7M307 317h0.7M357 306h0.7M386 303h0.7M319.5 320.5h0.7M366.5 314h0.7M317 311.5h0.7M372 315h0.7M333.5 314h0.7M327.5 320.5h0.7M369 313.5h0.7M343.5 312.5h0.7M334 317.5h0.7M331.5 317.5h0.7M323.5 321h0.7M342 319.5h0.7M340.5 319h0.7M340 318h0.7M377.5 314.5h0.7M317 319.5h0.7M338.5 313h0.7M368 313h0.7M358.5 302h0.7M377.5 300h0.7M319 317h0.7M383 303h0.7M342.5 314.5h0.7M352 314.5h0.7M359 309h0.7M318 313.5h0.7M308.5 320.5h0.7M316 316.5h0.7M340 313.5h0.7M382 307h0.7M354 312h0.7M369.5 306h0.7M341.5 318.5h0.7M308 322h0.7M325.5 319h0.7M317 315h0.7M350.5 311h0.7M301 320.5h0.7M311.5 304.5h0.7M333.5 320h0.7M366 311h0.7M370.5 315h0.7M340 317.5h0.7M301 318.5h0.7M327 306.5h0.7M336 316.5h0.7M310 321h0.7M369.5 310.5h0.7M354.5 317h0.7M318 309h0.7M301.5 317h0.7M322.5 313h0.7M337 315.5h0.7M355 311h0.7M338 315.5h0.7M388 302.5h0.7M336.5 320h0.7M335 308h0.7M316 319.5h0.7M358 315h0.7M345.5 318h0.7M351.5 314h0.7M336.5 320.5h0.7M327 320.5h0.7M310.5 317h0.7M322 319.5h0.7M308 320.5h0.7M361 303.5h0.7M332.5 319h0.7M384 307h0.7M370 309.5h0.7M349 319h0.7M376 313.5h0.7M382 310.5h0.7M352 305.5h0.7M313 322h0.7M351.5 311.5h0.7M336 310h0.7M343.5 319.5h0.7M331.5 313h0.7M361 311.5h0.7M361 304.5h0.7M376.5 312.5h0.7M304.5 321h0.7M376.5 309.5h0.7M313.5 315.5h0.7M304 315.5h0.7M360.5 314h0.7M320 319h0.7M319 321.5h0.7M302.5 312.5h0.7M357.5 312h0.7M322 319h0.7M310 315.5h0.7M309.5 320.5h0.7M385 302h0.7M376 311h0.7M341.5 319.5h0.7M369.5 302h0.7M337 312h0.7M334 312.5h0.7M383 304.5h0.7M373 312.5h0.7M311 315h0.7M328.5 318.5h0.7M308 317.5h0.7M300.5 321h0.7M380.5 313h0.7M353.5 317.5h0.7M377 307.5h0.7M312 313.5h0.7M347 317.5h0.7M374.5 315.5h0.7M314.5 312.5h0.7M343.5 316.5h0.7M348.5 317.5h0.7M365 315.5h0.7M356.5 317.5h0.7M373.5 314.5h0.7M366 315h0.7M302 320h0.7M306 314h0.7M330 320.5h0.7M332 308.5h0.7M300 322h0.7M325.5 321h0.7M313.5 313.5h0.7M309 319h0.7M302 313.5h0.7M331.5 312.5h0.7M382 314h0.7M386 308.5h0.7M378 314h0.7M304 318h0.7M367 310.5h0.7M333 314h0.7M341 313h0.7M343 309h0.7M337 316h0.7M312.5 319.5h0.7M355.5 310.5h0.7M375 310h0.7M361 308.5h0.7M301.5 311h0.7M337.5 318.5h0.7M373.5 314h0.7M356.5 310.5h0.7M329 305.5h0.7M372.5 314h0.7M381 306.5h0.7M315 321h0.7M377 303.5h0.7M351 317h0.7M363 313.5h0.7M345.5 319.5h0.7M323 320.5h0.7M329.5 305h0.7M328 315.5h0.7M361.5 308h0.7M354.5 315h0.7M357.5 316.5h0.7M346 319h0.7M327 310h0.7M341 319h0.7M351.5 301h0.7M362 312.5h0.7M356 315h0.7M306.5 320.5h0.7M355 315.5h0.7M323.5 315.5h0.7M322 318h0.7M327 319h0.7M386.5 302h0.7M352.5 307.5h0.7M365.5 315h0.7M325.5 314.5h0.7M324 310h0.7M317 313.5h0.7M339.5 318h0.7M382 304.5h0.7M380 302.5h0.7M381.5 309h0.7M302 312.5h0.7M303 316h0.7M301.5 307.5h0.7M324.5 313h0.7M387.5 304h0.7M341 312.5h0.7M311.5 313h0.7M342.5 316h0.7M303 322h0.7M382 302h0.7M359.5 309h0.7M355 308h0.7M332 316h0.7M370 315h0.7M307 317.5h0.7M312.5 313.5h0.7M387 307h0.7M304 319.5h0.7M361 312.5h0.7M349 318h0.7M342 317h0.7M332 313.5h0.7M350 312.5h0.7M333.5 319h0.7M322.5 317.5h0.7M347.5 304h0.7M330 310.5h0.7M387.5 305h0.7M303.5 314.5h0.7M303 319h0.7M311.5 320.5h0.7M345.5 341h0.7M333.5 340.5h0.7M354 343h0.7M366.5 343h0.7M330.5 338.5h0.7M356 348h0.7M311.5 338.5h0.7M369.5 340h0.7M360.5 341.5h0.7M322 341.5h0.7M382 344h0.7M326.5 339h0.7M309.5 342.5h0.7M382 342h0.7M333.5 345h0.7M302.5 340h0.7M304.5 339.5h0.7M313 341.5h0.7M350 340.5h0.7M331 339.5h0.7M301 339.5h0.7M369.5 339.5h0.7M306.5 349.5h0.7M375 342.5h0.7M345 346.5h0.7M305.5 338h0.7M320 347h0.7M368 344.5h0.7M300 339.5h0.7M310.5 348.5h0.7M374.5 340.5h0.7M364.5 349h0.7M317 341.5h0.7M357 342.5h0.7M336 338.5h0.7M367 340.5h0.7M381 348.5h0.7M325.5 348h0.7M346 339.5h0.7M305 340.5h0.7M313.5 342h0.7M357.5 339h0.7M385 338.5h0.7M345.5 342.5h0.7M357.5 338h0.7M344.5 344h0.7M312.5 339h0.7M357.5 341h0.7M381 347h0.7M351 343h0.7M336 347h0.7M370 339h0.7M346.5 341.5h0.7M315.5 340h0.7M347 341h0.7M306.5 341h0.7M353 339h0.7M302 340.5h0.7M331.5 343h0.7M344.5 340.5h0.7M339 340.5h0.7M363 347.5h0.7M334.5 346.5h0.7M356 342.5h0.7M311.5 339.5h0.7M325.5 338h0.7M383 341h0.7M350.5 339.5h0.7M354 339h0.7M360 346h0.7M324.5 338h0.7M324 340.5h0.7M328.5 340.5h0.7M358.5 339.5h0.7M371 343h0.7M318.5 339.5h0.7M370 340h0.7M329 341h0.7M370.5 341h0.7M306 338.5h0.7M377 348.5h0.7M346.5 339.5h0.7M305 341h0.7M353 346.5h0.7M342.5 340h0.7M323 343h0.7M327.5 343.5h0.7M317.5 342.5h0.7M330.5 340h0.7M344 341.5h0.7M313.5 343.5h0.7M371.5 339.5h0.7M312 339.5h0.7M327 348.5h0.7M305.5 338.5h0.7M304.5 346.5h0.7M327.5 342h0.7M342.5 342h0.7M361.5 339.5h0.7M384.5 338.5h0.7M332 343.5h0.7M310 338h0.7M375.5 338h0.7M351.5 347h0.7M338.5 340h0.7M342.5 347.5h0.7M386.5 338h0.7M369 342.5h0.7M374 339h0.7M339.5 342.5h0.7M322 338.5h0.7M366 340.5h0.7M319 344h0.7M319 339.5h0.7M352.5 347h0.7M367.5 345h0.7M343.5 341h0.7M349.5 341h0.7M320.5 343.5h0.7M378.5 342.5h0.7M308 339.5h0.7M369 339h0.7M346.5 340h0.7M360 340.5h0.7M367 339.5h0.7M332 340h0.7M331.5 340.5h0.7M341.5 340h0.7M344.5 345.5h0.7M361.5 345.5h0.7M305 343.5h0.7M376.5 339.5h0.7M321.5 343h0.7M308 344.5h0.7M365 347.5h0.7M341 348.5h0.7M367.5 345.5h0.7M304 345h0.7M328 346h0.7M333 339.5h0.7M331 339h0.7M383.5 338.5h0.7M332.5 343h0.7M374.5 339.5h0.7M367 342.5h0.7M351.5 339h0.7M342 342h0.7M338.5 341.5h0.7M310.5 342.5h0.7M311 339.5h0.7M356 344h0.7M341 342h0.7M328.5 338h0.7M370 341h0.7M356.5 339h0.7M352 345h0.7M300.5 338h0.7M307.5 345.5h0.7M323 342h0.7M357.5 340.5h0.7M347 338.5h0.7M373.5 338h0.7M330 343.5h0.7M331.5 342h0.7M305 338h0.7M351 341h0.7M355.5 339h0.7M350.5 338h0.7M320 343h0.7M303 342h0.7M385.5 342.5h0.7M338 343.5h0.7M365.5 341.5h0.7M341.5 345h0.7M312.5 343h0.7M320.5 343h0.7M343.5 348h0.7M318.5 338.5h0.7M383 346h0.7M356.5 350h0.7M350.5 339h0.7M336 339.5h0.7M349.5 349.5h0.7M387 339h0.7M348.5 340.5h0.7M362 341h0.7M379 338.5h0.7M317.5 341h0.7M337.5 341.5h0.7M316 340h0.7M379 341h0.7M334 348.5h0.7M359 341h0.7M350 339h0.7M306 338h0.7M318 341h0.7M346 345h0.7M314 341.5h0.7M369 338.5h0.7M335 343.5h0.7M347 338h0.7M351.5 339.5h0.7M380 338.5h0.7M380.5 344.5h0.7M364.5 344h0.7M340.5 338.5h0.7M306.5 343h0.7M372 338.5h0.7M345.5 342h0.7M359 341.5h0.7M362.5 348h0.7M350 343.5h0.7M385 342.5h0.7M343.5 343h0.7M379.5 341h0.7M363 344.5h0.7M306.5 338.5h0.7M324 343h0.7M301 344h0.7M301 343.5h0.7M304 344h0.7M361.5 343h0.7M361 342h0.7M326.5 338.5h0.7M343.5 341.5h0.7M347 342.5h0.7M369.5 342h0.7M348 340h0.7M336 340h0.7M353 340h0.7M370.5 339.5h0.7M380 340.5h0.7M318.5 341h0.7M355 341h0.7M386 338h0.7M335.5 350.5h0.7M368.5 343.5h0.7M373.5 340.5h0.7M375 340h0.7M358 344.5h0.7M309 342h0.7M343.5 339.5h0.7M345 341.5h0.7M332 340.5h0.7M383.5 340.5h0.7M374.5 338.5h0.7M340.5 339h0.7M323.5 343.5h0.7M336 344.5h0.7M375.5 343h0.7M325.5 350.5h0.7M300 342.5h0.7M341 340.5h0.7M308.5 343h0.7M382 341.5h0.7M311 338.5h0.7M341.5 338h0.7M358 342h0.7M365.5 340h0.7M382.5 343h0.7M314.5 343.5h0.7M307 340h0.7M387.5 338.5h0.7M381 345h0.7M300 338.5h0.7M384 344.5h0.7M365 338.5h0.7M375.5 339h0.7M333 341.5h0.7M354.5 339.5h0.7M382 339.5h0.7M318.5 340h0.7M364.5 340.5h0.7M382 346.5h0.7M366 341h0.7M318.5 339h0.7M347.5 340h0.7M362.5 340.5h0.7M314 345h0.7M306.5 345h0.7M331 346.5h0.7M372.5 341h0.7M306.5 339h0.7M358.5 339h0.7M323.5 345h0.7M367.5 341.5h0.7M340 344h0.7M301 340.5h0.7M379.5 342h0.7M354.5 342h0.7M351.5 338.5h0.7M368.5 343h0.7M343.5 338.5h0.7M369 346h0.7M352 342.5h0.7M353.5 347h0.7M332.5 342h0.7M360.5 340h0.7M313 338.5h0.7M347 340h0.7M344.5 341h0.7M338.5 346h0.7M376.5 338.5h0.7M346.5 342h0.7M360 343.5h0.7M321 341h0.7M380 341.5h0.7M332.5 338.5h0.7M364 343h0.7M308.5 339.5h0.7M332.5 346h0.7M319.5 342.5h0.7M321 339h0.7M357.5 343h0.7M312 344h0.7M332 342h0.7M338.5 341h0.7M362.5 339h0.7M388 345h0.7M366.5 344.5h0.7M366.5 348.5h0.7M351 344.5h0.7M358.5 340.5h0.7M380 345.5h0.7M313.5 343h0.7M370 340.5h0.7M301.5 341.5h0.7M302.5 341h0.7M349.5 338.5h0.7M370.5 349h0.7M318.5 350h0.7M385 345h0.7M332 347.5h0.7M327 343.5h0.7M334 348h0.7M306 339h0.7M351.5 343h0.7M317 339h0.7M339.5 340h0.7M364 339.5h0.7M342.5 341h0.7M357 341.5h0.7M318.5 341.5h0.7M305 342h0.7M322.5 340h0.7M320.5 339h0.7M315.5 341.5h0.7M332.5 340h0.7M365 341.5h0.7M314 338.5h0.7M323.5 341.5h0.7M368 341h0.7M300.5 343h0.7M343 341.5h0.7M333 338h0.7M360 341.5h0.7M348.5 338h0.7M308 350.5h0.7M309.5 342h0.7M325.5 342h0.7M309.5 341h0.7M383 342.5h0.7M374.5 339h0.7M310.5 340h0.7M369 339.5h0.7M331.5 348h0.7M327.5 347h0.7M315.5 339h0.7M303 338h0.7M352 341.5h0.7M328.5 339h0.7M352.5 344.5h0.7M358.5 344h0.7M305.5 342h0.7M340 343.5h0.7M354 343.5h0.7M370.5 340h0.7M380 342.5h0.7M329 348h0.7M372 340h0.7M356 341h0.7M315 349.5h0.7M386.5 339h0.7M348 338h0.7M316 340.5h0.7M347 343.5h0.7M324 345.5h0.7M361 345h0.7M373.5 347h0.7M344 342.5h0.7M356.5 340.5h0.7M313.5 344h0.7M340 343h0.7M300 324.5h0.7M308.5 334h0.7M307.5 329.5h0.7M308.5 328.5h0.7M306 335.5h0.7M308 330.5h0.7M303 324.5h0.7M308.5 327h0.7M302.5 333.5h0.7M307.5 325.5h0.7M307 325h0.7M304.5 323.5h0.7M302.5 328h0.7M301 330.5h0.7M305 331h0.7M305 318.5h0.7M303 327h0.7M304 327h0.7M308 331.5h0.7M306 321.5h0.7M308.5 325h0.7M301 342.5h0.7M305 327.5h0.7M307 327h0.7M300 332h0.7M305.5 332.5h0.7M308.5 327.5h0.7M303.5 327.5h0.7M306.5 337h0.7M304 332h0.7M305.5 323h0.7M300.5 334.5h0.7M300 334h0.7M308 332.5h0.7M309 329.5h0.7M307 334h0.7M309 335h0.7M302.5 326h0.7M307.5 328h0.7M300.5 333.5h0.7M301.5 335h0.7M309 331h0.7M301.5 337.5h0.7M301.5 320h0.7M302.5 336h0.7M300.5 330.5h0.7M302.5 341.5h0.7M306 337.5h0.7M306.5 318.5h0.7M300 315h0.7M303.5 324h0.7M305.5 327.5h0.7M302 323h0.7M306.5 324.5h0.7M304.5 328.5h0.7M300 321.5h0.7M301.5 336h0.7M301.5 323h0.7M309 327.5h0.7M307.5 326h0.7M303 320.5h0.7M302 326h0.7M300.5 325h0.7M305.5 345h0.7M300.5 319.5h0.7M308.5 322h0.7M301 328.5h0.7M300 315.5h0.7M304 327.5h0.7M304.5 317h0.7M306 326h0.7M304.5 329.5h0.7M307.5 331h0.7M305.5 321h0.7M306.5 329h0.7M301 319h0.7M308 328.5h0.7M305.5 332h0.7M307 321.5h0.7M306 335h0.7M304 320.5h0.7M303.5 323h0.7M303.5 325h0.7M306 332h0.7M300.5 325.5h0.7M301 327h0.7M305 326h0.7M300.5 329h0.7M306.5 323.5h0.7M302.5 321.5h0.7M302 334.5h0.7M300.5 331.5h0.7M304 328h0.7M301 343h0.7M308.5 323h0.7M301.5 321h0.7M306 322h0.7M303 333.5h0.7M307 335.5h0.7M301.5 325h0.7M304 334h0.7M304 317h0.7M308.5 338h0.7M299.5 323.5h0.7M301.5 333h0.7M307.5 340.5h0.7M304 333.5h0.7M302 335.5h0.7M307.5 330.5h0.7M301.5 315h0.7M308.5 333h0.7M307 330h0.7M300.5 318h0.7M309 337h0.7M300.5 323h0.7M306.5 331.5h0.7M305 336h0.7M302.5 324.5h0.7M299.5 319.5h0.7M302 319h0.7M304.5 338.5h0.7M307 331h0.7M300.5 335.5h0.7M305 333h0.7M300 330h0.7M301 332.5h0.7M306 327.5h0.7M306.5 326.5h0.7M304 337.5h0.7M308.5 332.5h0.7M304 333h0.7M306 330.5h0.7M306.5 335.5h0.7M304 329.5h0.7M303.5 330.5h0.7M304 328.5h0.7M300 329.5h0.7M304.5 333h0.7M304 332.5h0.7M305.5 326.5h0.7M306 320.5h0.7M301.5 323.5h0.7M301 330h0.7M309 330h0.7M301.5 329.5h0.7M308 329h0.7M306.5 341.5h0.7M304 331h0.7M301.5 335.5h0.7M302.5 323h0.7M302.5 330.5h0.7M303.5 325.5h0.7M306.5 336.5h0.7M304.5 329h0.7M305.5 335.5h0.7M303.5 319.5h0.7M299.5 326h0.7M300 330.5h0.7M300.5 334h0.7M305 335h0.7M307.5 327.5h0.7M307 329.5h0.7M299.5 339h0.7M307.5 318h0.7M305.5 322h0.7M308 321.5h0.7M304.5 322h0.7M303.5 328h0.7M305.5 329.5h0.7M308.5 330.5h0.7M304 334.5h0.7M300.5 319h0.7M307.5 324h0.7M303 332h0.7M304 326h0.7M303.5 328.5h0.7M306 341.5h0.7M300.5 336.5h0.7M306.5 328.5h0.7M306 322.5h0.7M305 327h0.7M306.5 333.5h0.7M306 340h0.7M302.5 319.5h0.7M307.5 326.5h0.7M307.5 327h0.7M308.5 336h0.7M306.5 330.5h0.7M308.5 332h0.7M305 330h0.7M301.5 342.5h0.7M303.5 323.5h0.7M303.5 343.5h0.7M307.5 315.5h0.7M300.5 322.5h0.7M300.5 332.5h0.7M305 328.5h0.7M305 326.5h0.7M300 325h0.7M385.5 323.5h0.7M388.5 329h0.7M387.5 333h0.7M386.5 325h0.7M385 334.5h0.7M389.5 321h0.7M384 338h0.7M387.5 314.5h0.7M385.5 304h0.7M385.5 312.5h0.7M387.5 340.5h0.7M384 323.5h0.7M385 319h0.7M386 328h0.7M388 323.5h0.7M389.5 313.5h0.7M385 327h0.7M388.5 329.5h0.7M390.5 329h0.7M387.5 333.5h0.7M385 330h0.7M389 321h0.7M385 335h0.7M387 326h0.7M387 319h0.7M387.5 323.5h0.7M388 333h0.7M390 332h0.7M387 325.5h0.7M388.5 325.5h0.7M384.5 312.5h0.7M387.5 342.5h0.7M386 327.5h0.7M387 316.5h0.7M385.5 325.5h0.7M387.5 330.5h0.7M387 317h0.7M388 326h0.7M386 331h0.7M386 336h0.7M384 317h0.7M386.5 321.5h0.7M385 341h0.7M385 309.5h0.7M389.5 331h0.7M390 323h0.7M389 313.5h0.7M386.5 327.5h0.7M386.5 317.5h0.7M386 310h0.7M385 312.5h0.7M385.5 326.5h0.7M384.5 333h0.7M388.5 328.5h0.7M388.5 331.5h0.7M385 323.5h0.7M388.5 320.5h0.7M384 321h0.7M388 316h0.7M386 324.5h0.7" stroke="#000" stroke-width="0.7" stroke-opacity="0.5" fill="none"/>
<path d="M348.5 319.5h0.8M312.5 324h0.8M342 330h0.8M359.5 325h0.8M382.5 333h0.8M364.5 330.5h0.8M347 316h0.8M327.5 325.5h0.8M348 344.5h0.8M333 319h0.8M341.5 335h0.8M360 334h0.8M312 325.5h0.8M354.5 319h0.8M336.5 336.5h0.8M366.5 338h0.8M359.5 327h0.8M376 325h0.8M359 331h0.8M377 328h0.8M334 340h0.8M354.5 331h0.8M305 325h0.8M381 336h0.8M326 348h0.8M315.5 332h0.8M369 336h0.8M353 331.5h0.8M350.5 334h0.8M326 328h0.8M348 333.5h0.8M360 338.5h0.8M334.5 327.5h0.8M344 334.5h0.8M339 332.5h0.8M366.5 330h0.8M381 332h0.8M339 335.5h0.8M334 328.5h0.8M384 328.5h0.8M384.5 319.5h0.8M342.5 323h0.8M320 331h0.8M304.5 325h0.8M381 328.5h0.8M367.5 326h0.8M328 327h0.8M374.5 325h0.8M338.5 320.5h0.8M306.5 325.5h0.8M342.5 325.5h0.8M353.5 328h0.8M341.5 330.5h0.8M348.5 324h0.8M332 328.5h0.8M338.5 332.5h0.8M313.5 331.5h0.8M365 340.5h0.8M377 330.5h0.8M307 321.5h0.8M307.5 321h0.8M371.5 312.5h0.8M331.5 335.5h0.8M373 330h0.8M366 338.5h0.8M345 332.5h0.8M322.5 318.5h0.8M357 328h0.8M324 318.5h0.8M307 317.5h0.8M364.5 331.5h0.8M378.5 332h0.8M328 321h0.8M346 333h0.8M318 324.5h0.8M376 339h0.8M383 325h0.8M369 320.5h0.8M347.5 322h0.8M374.5 327.5h0.8M360 340.5h0.8M336 331h0.8M375 329h0.8M360.5 333.5h0.8M329 321.5h0.8M337 324.5h0.8M329 332h0.8M336.5 330.5h0.8M377 331.5h0.8M374 333.5h0.8M344.5 330h0.8M337.5 330.5h0.8M328 320.5h0.8M351.5 326h0.8M310 319h0.8M384 325h0.8M332 331.5h0.8M312 333.5h0.8M317 343.5h0.8M377.5 330h0.8M377.5 323.5h0.8M307.5 310.5h0.8M327.5 338h0.8M372.5 318.5h0.8M379.5 325.5h0.8M369.5 329h0.8M333.5 339h0.8M353.5 330h0.8M322 323h0.8M314.5 341.5h0.8M371.5 345h0.8M314.5 331h0.8M355 330.5h0.8M365.5 323h0.8M324.5 328h0.8M321.5 326.5h0.8M374.5 328h0.8M366 316h0.8M376 338h0.8M348.5 337h0.8M328 330.5h0.8M368 317.5h0.8M321 323h0.8M323 329h0.8M346.5 335h0.8M340 338.5h0.8M354 326.5h0.8M325.5 328.5h0.8M352 327h0.8M384 339h0.8M324.5 337.5h0.8M330 323.5h0.8M379.5 333h0.8M339.5 326.5h0.8M379.5 330.5h0.8M344.5 333.5h0.8M329.5 328h0.8M348 338.5h0.8M371 320h0.8M307.5 320h0.8M363 329h0.8M316 319h0.8M302.5 334h0.8M339.5 314h0.8M384.5 333h0.8M364 317h0.8M361 320h0.8M309 326h0.8M317 328.5h0.8M365 331.5h0.8M360 327h0.8M364 338.5h0.8M363 326h0.8M352.5 331.5h0.8M336.5 328h0.8M331 345h0.8M327.5 326.5h0.8M316.5 323.5h0.8M383 326.5h0.8M360 329.5h0.8M346.5 322h0.8M350 327.5h0.8M336 320h0.8M317.5 330h0.8M356.5 340h0.8M353.5 331.5h0.8M373 326h0.8M332 315.5h0.8M331.5 341h0.8M323 339.5h0.8M341 325.5h0.8M355.5 333h0.8M346 332h0.8M366.5 344h0.8M373.5 320h0.8M373 324h0.8M311.5 320h0.8M356.5 332.5h0.8M312 322.5h0.8M319 339.5h0.8M326 320h0.8M316.5 327.5h0.8M325 321.5h0.8M377 334.5h0.8M382 336.5h0.8M310.5 326h0.8M353 327h0.8M308.5 320h0.8M365.5 325.5h0.8M334.5 338.5h0.8M355.5 339.5h0.8M357.5 312.5h0.8M347 328.5h0.8M322 317.5h0.8M341 330.5h0.8M338 326h0.8M332.5 333.5h0.8M331 325.5h0.8M302.5 319.5h0.8M331.5 339.5h0.8M324 328.5h0.8M372.5 322.5h0.8M367.5 320h0.8M351 327.5h0.8M308 316.5h0.8M358.5 331.5h0.8M333.5 324h0.8M373.5 333h0.8M343.5 326.5h0.8M342.5 324.5h0.8M334 326h0.8M373 329.5h0.8M382.5 342.5h0.8M308.5 333h0.8M341.5 338h0.8M324.5 328.5h0.8M350.5 327.5h0.8M380 324.5h0.8M340.5 334.5h0.8M344 336.5h0.8M326 329.5h0.8M325.5 327.5h0.8M352.5 329.5h0.8M365 330h0.8M314 331h0.8M337.5 335h0.8M342 339h0.8M303 334h0.8M355 325h0.8M323.5 325h0.8M378.5 328h0.8M311 323h0.8M365.5 331.5h0.8M359.5 331.5h0.8M349.5 327.5h0.8M330 325.5h0.8M383.5 326.5h0.8M328.5 322h0.8M310 329h0.8M324 338h0.8M360.5 328h0.8M305.5 329h0.8M304.5 322.5h0.8M348 317h0.8M366 324.5h0.8M321 327h0.8M332.5 316.5h0.8M371.5 323.5h0.8M335 331h0.8M350.5 323h0.8M359 325h0.8M360.5 318h0.8M323 335.5h0.8M371.5 319.5h0.8M325 323.5h0.8M372 332.5h0.8M345.5 319h0.8M332.5 318h0.8M345.5 322.5h0.8M344.5 329h0.8M351 336.5h0.8M331.5 333h0.8M318.5 322h0.8M359 316.5h0.8M371.5 331.5h0.8M321 335h0.8M308 326.5h0.8M371.5 325h0.8M344 315.5h0.8M328.5 333.5h0.8M374.5 326h0.8M369.5 318.5h0.8M344 321h0.8M316.5 336.5h0.8M362.5 341h0.8M380 338.5h0.8M326.5 323h0.8M381 337.5h0.8M342 320.5h0.8M311 331h0.8M373 321.5h0.8M371 319.5h0.8M312.5 325.5h0.8M316.5 339h0.8M348 322.5h0.8M308.5 328h0.8M349.5 337.5h0.8M374 336h0.8M313.5 323h0.8M351.5 321h0.8M327 329h0.8M366 345h0.8M310.5 330h0.8M338 335h0.8M312.5 337h0.8M328 322h0.8M334.5 331h0.8M322.5 333h0.8M375.5 326h0.8M376.5 328h0.8M328.5 340h0.8M364 331h0.8M368 339.5h0.8M316 338.5h0.8M354 339.5h0.8M356 318.5h0.8M350 327h0.8M378.5 328.5h0.8M364.5 321.5h0.8M358.5 328h0.8M349.5 339h0.8M316.5 320.5h0.8M345 325h0.8M370 324h0.8M316 314.5h0.8M374 329h0.8M337.5 328h0.8M375 325.5h0.8M307 344.5h0.8M370 338h0.8M344 327.5h0.8M346.5 324h0.8M362.5 332.5h0.8M335.5 326.5h0.8M384.5 327h0.8M382.5 326.5h0.8M347.5 340h0.8M366 333h0.8M341 341h0.8M353 327.5h0.8M344.5 327h0.8M362 332.5h0.8M346 334.5h0.8M318.5 329.5h0.8M341 323h0.8M348.5 335h0.8M302 339h0.8M315 330h0.8M361.5 318.5h0.8M376 324.5h0.8M319 316.5h0.8M380.5 327h0.8M368 322h0.8M313.5 318.5h0.8M375 327.5h0.8M368 321h0.8M341.5 330h0.8M308.5 327.5h0.8M359 320h0.8M328.5 328.5h0.8M358 336.5h0.8M366.5 328h0.8M335.5 320h0.8M371.5 330h0.8M330.5 340h0.8M375 332h0.8M379.5 326h0.8M308 332h0.8M323 323h0.8M337.5 326.5h0.8M359.5 322h0.8M315.5 330h0.8M371.5 337h0.8M378 321h0.8M344.5 335.5h0.8M368.5 311.5h0.8M348 326h0.8M312 331.5h0.8M306 327.5h0.8M332.5 323h0.8M309.5 320.5h0.8M353.5 325.5h0.8M351 318h0.8M330 331.5h0.8M313 330h0.8M341.5 323h0.8M358 321.5h0.8M331 332h0.8M370.5 337h0.8M333 337h0.8M311 341.5h0.8M356.5 322.5h0.8M376 333h0.8M319.5 334.5h0.8M371.5 314h0.8M384 329h0.8M328.5 325.5h0.8M309.5 326.5h0.8M336 336h0.8M377 339h0.8M345.5 325.5h0.8M374 330.5h0.8M375.5 329.5h0.8M346 335h0.8M347.5 320.5h0.8M333.5 328h0.8M346 311.5h0.8M321.5 323.5h0.8M371 332h0.8M330 322h0.8M378 323h0.8M328.5 318.5h0.8M381 321.5h0.8M306 330h0.8M359 322.5h0.8M312.5 320.5h0.8M339.5 327h0.8M304.5 329h0.8M345.5 336.5h0.8M320.5 335h0.8M368.5 325.5h0.8M331.5 334.5h0.8M362.5 317h0.8M328 320h0.8M377 331h0.8M370.5 342h0.8M360.5 329h0.8M329.5 331.5h0.8M339.5 333.5h0.8M358.5 327.5h0.8M338 346h0.8M321.5 339h0.8M311.5 330h0.8M352.5 330h0.8M303 328h0.8M327 323.5h0.8M372 336h0.8M383.5 338h0.8M370.5 327.5h0.8M371.5 332.5h0.8M308 322h0.8M370 335.5h0.8M351 322.5h0.8M360.5 328.5h0.8M362.5 331.5h0.8M365.5 321.5h0.8M334.5 334h0.8M306 336.5h0.8M314.5 335h0.8M380.5 328.5h0.8M382 321.5h0.8M379 341h0.8M369 326.5h0.8M358.5 336h0.8M361 335h0.8M362 324.5h0.8M307 332h0.8M361.5 324h0.8M303.5 322h0.8M342.5 333h0.8M345 342h0.8M333.5 327.5h0.8M361 341h0.8M346 328h0.8M341.5 324h0.8M340.5 324.5h0.8M312 335.5h0.8M349.5 323h0.8M367 321.5h0.8M372.5 323.5h0.8M332.5 322.5h0.8M330.5 331h0.8M314 327.5h0.8M333.5 332.5h0.8M382 338h0.8M358.5 320.5h0.8M343.5 327h0.8M319.5 322.5h0.8M318 337.5h0.8M358.5 330h0.8M317.5 321.5h0.8M313.5 325h0.8M313 330.5h0.8M326.5 313h0.8M351 320.5h0.8M345.5 331.5h0.8M316 333h0.8M345 321.5h0.8M328 322.5h0.8M355 314h0.8M370.5 331h0.8M363 336h0.8M365.5 326h0.8M356 331h0.8M376.5 330h0.8M380 326.5h0.8M319.5 330h0.8M370.5 321h0.8M360.5 337h0.8M326 332.5h0.8M324 331h0.8M322 318h0.8M324 329.5h0.8M368.5 327.5h0.8M337.5 328.5h0.8M304.5 328h0.8M381 320.5h0.8M306 329.5h0.8M375 318.5h0.8M332.5 338h0.8M375 316.5h0.8M307 330.5h0.8M374.5 315h0.8M362 332h0.8M314 336h0.8M304 319.5h0.8M374.5 324h0.8M308 333h0.8M363.5 321.5h0.8M325.5 317.5h0.8M330 329.5h0.8M308 338.5h0.8M384.5 320h0.8M309.5 327.5h0.8M365.5 322h0.8M316.5 343h0.8M369.5 309.5h0.8M366.5 340.5h0.8M372 326h0.8M362 326.5h0.8M320 327.5h0.8M307.5 336h0.8M304.5 330h0.8M360 344.5h0.8M366 334.5h0.8M336.5 326h0.8M382 325h0.8M350.5 328h0.8M324 331.5h0.8M322.5 324.5h0.8M326.5 323.5h0.8M336 321.5h0.8M366 314h0.8M313.5 331h0.8M305 327h0.8M361 325h0.8M366 330.5h0.8M314 340h0.8M345 321h0.8M308.5 330h0.8M361.5 316h0.8M305 337h0.8M327 333.5h0.8M312 322h0.8M374.5 334h0.8M345 335.5h0.8M346 328.5h0.8M342 333.5h0.8M306.5 322.5h0.8M366.5 325h0.8M381 322.5h0.8M364 323.5h0.8M313.5 328h0.8M364 326h0.8M303 314.5h0.8M356 326.5h0.8M333.5 329h0.8M379 331.5h0.8M351 343h0.8M363.5 318h0.8M339.5 337.5h0.8M318.5 323h0.8M338 320.5h0.8M322.5 325h0.8M366 325.5h0.8M314 328h0.8M353 320.5h0.8M374 321h0.8M352.5 333.5h0.8M374.5 346.5h0.8M376 325.5h0.8M356 325.5h0.8M333 326.5h0.8M319 329h0.8M333 336.5h0.8M308.5 322.5h0.8M354.5 336.5h0.8M354 324h0.8M380.5 321.5h0.8M379.5 329.5h0.8M366 322h0.8M315.5 329h0.8M360 333.5h0.8M368.5 323.5h0.8M380 330.5h0.8M318 340h0.8M381 325h0.8M325 329.5h0.8M326.5 336.5h0.8M309.5 328h0.8M322 329.5h0.8M319.5 319h0.8M329 324.5h0.8M315.5 317.5h0.8M371.5 327h0.8M333.5 336h0.8M370.5 326.5h0.8M340 337h0.8M345 324h0.8M339 315.5h0.8M316.5 334h0.8M328.5 326h0.8M330 324h0.8M311.5 323h0.8M323.5 332.5h0.8M302 338h0.8M351 335h0.8M376.5 343.5h0.8M367.5 339.5h0.8M331 322.5h0.8M350.5 333h0.8M331.5 332h0.8M343 315h0.8M327 327h0.8M367.5 325h0.8M359.5 319.5h0.8M373.5 331.5h0.8M307.5 319.5h0.8M310 330h0.8M317 329.5h0.8M334.5 320.5h0.8M358.5 320h0.8M373.5 337.5h0.8M315 326.5h0.8M372.5 321.5h0.8M334 337.5h0.8M383 334.5h0.8M357.5 338h0.8M371 326h0.8M345 345h0.8M309 333h0.8M310.5 315h0.8M359.5 333.5h0.8M368 321.5h0.8M313 326.5h0.8M375.5 321.5h0.8M322.5 334.5h0.8M323 328.5h0.8M339 324.5h0.8M356 322.5h0.8M379 340h0.8M375 324.5h0.8M381.5 333.5h0.8M332 330h0.8M351.5 322h0.8M374 319.5h0.8M364.5 324h0.8M351.5 328h0.8M318.5 333.5h0.8M365.5 316.5h0.8M305.5 331h0.8M383.5 332h0.8M373 334h0.8M351 319h0.8M364.5 313.5h0.8M359.5 333h0.8M334.5 329h0.8M342 338h0.8M325 338h0.8M380.5 340h0.8M329 331.5h0.8M355.5 328.5h0.8M353.5 317h0.8M358 334.5h0.8M357.5 322h0.8M338.5 329h0.8M308 334h0.8M382 330h0.8M370.5 320.5h0.8M383 339.5h0.8M335 328.5h0.8M341 332.5h0.8M361.5 332h0.8M368 336h0.8M341 331h0.8M321 339.5h0.8M347.5 329h0.8M373.5 336h0.8M318 324h0.8M320 331.5h0.8M322 329h0.8M322 327.5h0.8M310.5 334h0.8M328 314h0.8M335.5 322.5h0.8M314.5 331.5h0.8M321 332h0.8M367.5 335.5h0.8M326 323h0.8M333 326h0.8M367 328.5h0.8M331 328.5h0.8M349 313.5h0.8M323 333h0.8M346 326.5h0.8M353 340h0.8M327 322.5h0.8M302.5 321.5h0.8M321.5 335h0.8M357 329h0.8M338.5 334.5h0.8M333.5 326.5h0.8M360 330h0.8M375.5 335.5h0.8M354.5 315.5h0.8M361 328.5h0.8M346.5 327h0.8M343.5 325.5h0.8M327.5 324.5h0.8M309.5 328.5h0.8M353.5 331h0.8M315.5 337.5h0.8M303 328.5h0.8M364.5 317h0.8M348 339.5h0.8M332 330.5h0.8M345 329h0.8M309.5 322.5h0.8M348 333h0.8M352 337.5h0.8M350.5 329h0.8M340.5 332.5h0.8M370 345h0.8M360.5 336h0.8M371 331.5h0.8M319 321.5h0.8M308 321.5h0.8M375.5 321h0.8M350 328h0.8M333 341.5h0.8M377.5 335h0.8M331 319.5h0.8M360 342.5h0.8M317 334.5h0.8M346.5 324.5h0.8M333.5 325.5h0.8M328 329.5h0.8M347 320h0.8M320.5 334.5h0.8M344.5 328h0.8M326 340.5h0.8M368.5 322h0.8M377 333h0.8M307.5 330.5h0.8M312 328h0.8M311.5 319h0.8M372 328.5h0.8M344.5 332h0.8M302.5 332.5h0.8M332.5 322h0.8M329.5 324.5h0.8M343 336.5h0.8M346 320h0.8M338.5 337h0.8M308.5 321h0.8M317.5 335h0.8M355 325.5h0.8M343 344h0.8M381 331.5h0.8M320.5 324.5h0.8M367 333h0.8M326.5 335h0.8M330 317h0.8M320.5 314.5h0.8M309 320.5h0.8M321.5 328.5h0.8M383.5 329.5h0.8M370.5 333.5h0.8M314.5 328h0.8M305 323.5h0.8M319.5 322h0.8M319.5 340h0.8M344 344h0.8M353.5 332.5h0.8M319 348.5h0.8M348 328.5h0.8M367 332h0.8M351.5 328.5h0.8M345.5 344.5h0.8M382 330.5h0.8M331.5 326h0.8M357 336.5h0.8M372.5 332.5h0.8M334.5 330.5h0.8M319 328.5h0.8M327 322h0.8M328.5 321.5h0.8M362 345.5h0.8M340.5 337.5h0.8M320 329.5h0.8M368.5 328.5h0.8M372.5 324h0.8M317 327.5h0.8M356.5 324h0.8M316 324h0.8M317.5 327h0.8M337 325.5h0.8M364.5 327.5h0.8M303 317.5h0.8M330.5 320.5h0.8M309 334h0.8M351 346.5h0.8M338.5 326h0.8M337 331h0.8M334 322.5h0.8M366 337.5h0.8M302 335.5h0.8M369.5 323h0.8M363.5 329h0.8M312.5 325h0.8M344.5 328.5h0.8M367.5 332h0.8M312.5 345.5h0.8M381 328h0.8M346.5 322.5h0.8M345.5 320h0.8M361 337h0.8M365.5 321h0.8M308 340.5h0.8M329.5 322.5h0.8M309.5 323h0.8M365.5 332h0.8M318 319.5h0.8M369.5 324h0.8M345 316h0.8M343.5 318.5h0.8M329 331h0.8M316 325h0.8M318 329h0.8M368.5 341.5h0.8M358.5 330.5h0.8M317 320h0.8M314 336.5h0.8M319 318h0.8M382 322h0.8M365.5 318h0.8M329.5 324h0.8M315.5 331.5h0.8M349.5 319.5h0.8M328 338h0.8M311 336.5h0.8M383 330.5h0.8M375.5 322h0.8M304 318.5h0.8M366.5 324.5h0.8M304.5 326h0.8M359 336h0.8M304.5 332h0.8M354.5 345.5h0.8M365.5 332.5h0.8M306.5 346h0.8M370.5 329.5h0.8M367 316h0.8M363.5 330h0.8M370.5 328h0.8M341 331.5h0.8M351 336h0.8M320.5 324h0.8M304.5 336.5h0.8M302.5 343.5h0.8M356 336h0.8M374 325.5h0.8M353.5 323h0.8M307 332.5h0.8M319.5 338.5h0.8M302 326.5h0.8M352 329.5h0.8M328.5 325h0.8M378 326h0.8M338 315h0.8M306 320h0.8M317 328h0.8M310.5 322h0.8M307 338h0.8M339 326h0.8M311 326.5h0.8M383.5 329h0.8M383.5 325h0.8M339 333h0.8M334.5 342h0.8M321.5 310h0.8M322.5 326h0.8M351.5 327h0.8M310.5 328h0.8M327.5 329h0.8M310 317.5h0.8M344 324.5h0.8M349.5 324.5h0.8M359.5 326h0.8M348.5 333h0.8M313 325h0.8M347 322.5h0.8M358.5 334h0.8M311 337h0.8M359.5 331h0.8M351 325h0.8M313.5 327.5h0.8M330 325h0.8M326 316h0.8M358.5 321h0.8M344.5 335h0.8M319.5 329h0.8M323.5 322h0.8M334.5 316h0.8M366 329.5h0.8M352 339h0.8M346 329.5h0.8M334.5 325.5h0.8M361.5 327h0.8M333 325.5h0.8M304.5 326.5h0.8M378 328.5h0.8M354 330h0.8M315 321h0.8M371 334h0.8M383 321.5h0.8M371 339h0.8M307.5 340.5h0.8M351.5 322.5h0.8M309.5 333h0.8M347 330.5h0.8M321.5 320h0.8M362 340.5h0.8M378.5 333.5h0.8M316 325.5h0.8M349.5 330h0.8M333 324.5h0.8M308.5 331h0.8M339 323h0.8M361 335.5h0.8M330 331h0.8M375.5 338h0.8M347.5 333h0.8M322 337.5h0.8M330.5 315h0.8M383 318.5h0.8M336 324h0.8M320 338.5h0.8M340 331h0.8M340 315.5h0.8M317.5 331.5h0.8M372.5 322h0.8M334.5 328.5h0.8M322 326.5h0.8M340.5 322.5h0.8M335 325h0.8M345 317.5h0.8M325.5 329.5h0.8M367 331h0.8M332.5 340.5h0.8M323 338h0.8M313 318h0.8M340 317h0.8M311 328h0.8M368.5 335h0.8M369.5 328.5h0.8M369 327.5h0.8M329 342.5h0.8M348 323.5h0.8M321 322h0.8M334 351h0.8M362.5 325.5h0.8M349 336h0.8M308.5 324h0.8M362 321.5h0.8M327.5 332.5h0.8M374.5 330h0.8M328 323.5h0.8M323.5 329.5h0.8M357.5 327.5h0.8M381.5 322.5h0.8M330.5 339.5h0.8M329.5 326.5h0.8M303 336.5h0.8M376.5 318.5h0.8M329 326.5h0.8M384.5 328h0.8M372.5 340h0.8M324.5 333.5h0.8M373 318.5h0.8M318 311.5h0.8M377 324h0.8M327.5 330h0.8M321.5 329h0.8M327 313.5h0.8M352.5 314h0.8M322 331.5h0.8M354 321h0.8M367 318.5h0.8M368 335h0.8M321 334.5h0.8M340.5 339.5h0.8M327 336h0.8M352 324.5h0.8M349.5 317.5h0.8M312.5 324.5h0.8M353 342.5h0.8M381.5 319.5h0.8M308 332.5h0.8M307.5 322.5h0.8M315.5 309h0.8M318.5 325h0.8M328.5 329.5h0.8M383 320h0.8M325.5 324.5h0.8M338.5 315h0.8M339.5 332h0.8M364 334h0.8M370 314.5h0.8M368 334.5h0.8M367 324.5h0.8M362 333.5h0.8M314.5 333h0.8M371 333.5h0.8M352.5 328h0.8M303 322h0.8M355.5 328h0.8M337 331.5h0.8M328 333h0.8M379 325.5h0.8M307 317h0.8M320.5 339h0.8M371.5 338h0.8M361 329h0.8M306 339.5h0.8M357 318h0.8M341.5 326.5h0.8M332.5 321.5h0.8M304 321h0.8M349.5 335h0.8M306 322.5h0.8M384.5 335.5h0.8M365.5 329.5h0.8M384.5 316.5h0.8M372 332h0.8M349.5 328h0.8M378.5 322.5h0.8M306 325.5h0.8M379 327.5h0.8M375 321.5h0.8M337.5 318h0.8M302.5 330h0.8M309 322h0.8M366.5 329h0.8M376.5 339h0.8M374.5 331h0.8M325.5 319h0.8M383.5 330h0.8M354 318h0.8M305.5 331.5h0.8M316.5 328h0.8M323.5 335h0.8M318.5 314.5h0.8M313.5 343h0.8M328 318.5h0.8M312.5 320h0.8M329.5 326h0.8M381.5 320.5h0.8M362 321h0.8M340 329h0.8M349 319.5h0.8M311 328.5h0.8M344 339h0.8M326 329h0.8M345.5 318.5h0.8M350 333h0.8M349 336.5h0.8M353 332.5h0.8M341.5 316h0.8M320.5 322.5h0.8M307.5 344h0.8M335.5 323.5h0.8M323 324h0.8M318 322.5h0.8M341.5 339h0.8M310.5 323.5h0.8M313 317h0.8M342 328h0.8M322.5 318h0.8M313 340h0.8M329.5 333h0.8M345.5 327h0.8M361 330.5h0.8M309.5 323.5h0.8M344 332.5h0.8M345.5 332h0.8M315 331h0.8M317 313.5h0.8M365 330.5h0.8M324 322.5h0.8M353 333h0.8M308 329h0.8M380 325.5h0.8M330.5 339h0.8M313.5 322.5h0.8M303.5 322.5h0.8M331.5 329h0.8M315 333h0.8M384.5 324h0.8M313.5 326.5h0.8M350 338h0.8M369 336.5h0.8M372 335.5h0.8M325.5 330h0.8M317.5 332.5h0.8M363.5 317h0.8M303 329h0.8M350.5 335.5h0.8M370.5 336h0.8M340.5 318h0.8M354 325.5h0.8M366 333.5h0.8M322.5 329.5h0.8M338 324h0.8M325 332h0.8M309 337h0.8M312 330h0.8M377 333.5h0.8M376 343.5h0.8M362.5 334h0.8M384 331h0.8M363 321.5h0.8M370.5 321.5h0.8M384 330h0.8M343.5 336.5h0.8M347.5 321h0.8M384.5 336.5h0.8M302.5 322.5h0.8M307 327h0.8M346 341h0.8M339.5 321h0.8M319.5 331.5h0.8M356 324h0.8M320.5 332.5h0.8M330 324.5h0.8M345.5 323.5h0.8M380.5 322.5h0.8M373 322h0.8M340.5 332h0.8M375.5 322.5h0.8M331 341.5h0.8M326 325.5h0.8M349.5 325h0.8M317.5 317.5h0.8M305.5 327h0.8M331 328h0.8M361 341.5h0.8M324 327h0.8M306.5 326.5h0.8M359 322h0.8M322.5 329h0.8M350 333.5h0.8M311 326h0.8M354 333h0.8M307 331h0.8M308.5 328.5h0.8M378.5 324h0.8M326.5 322h0.8M363.5 337.5h0.8M365 328.5h0.8M316 339h0.8M369 334.5h0.8M383.5 331.5h0.8M363.5 317.5h0.8M382 323.5h0.8M356 335h0.8M321.5 343h0.8M383.5 333.5h0.8M310 341h0.8M315 329.5h0.8M304.5 335h0.8M315 324h0.8M309 325h0.8M317 333.5h0.8M350 322h0.8M332 326.5h0.8M327.5 327h0.8M320 314h0.8M306.5 334h0.8M326 346.5h0.8M313.5 330h0.8M325.5 334.5h0.8M351.5 318.5h0.8M368 338h0.8M338 331.5h0.8M382.5 338.5h0.8M342 334.5h0.8M355.5 334.5h0.8M328.5 337h0.8M367 335.5h0.8M349 327h0.8M315 319.5h0.8M334.5 333.5h0.8M303.5 331h0.8M384 327h0.8M312 336h0.8M304 343h0.8M330 343.5h0.8M326 340h0.8M382.5 324h0.8M324 325h0.8M311.5 328.5h0.8M378 339h0.8M352 333h0.8M353 326h0.8M352 327.5h0.8M326.5 333.5h0.8M303.5 323h0.8M379 321h0.8M310.5 321.5h0.8M343.5 336h0.8M346.5 336h0.8M346.5 327.5h0.8M361 336.5h0.8M374.5 338h0.8M324 322h0.8M304 332h0.8M331 323h0.8M367 327h0.8M349 323.5h0.8M351 313h0.8M326 334.5h0.8M355 332h0.8M346 327h0.8M335.5 308.5h0.8M358.5 335.5h0.8M317.5 342h0.8M309 324h0.8M384.5 335h0.8M343 319h0.8M357.5 327h0.8M383.5 317.5h0.8M315.5 341h0.8M379 326h0.8M345 334.5h0.8M355 307h0.8M328.5 319.5h0.8M309 338.5h0.8M333.5 326h0.8M321 330h0.8M356.5 322h0.8M338.5 326.5h0.8M355.5 330h0.8M372.5 334h0.8M313 333.5h0.8M379.5 332h0.8M355 324h0.8M336 331.5h0.8M361 331h0.8M318.5 327h0.8M339 332h0.8M332.5 324h0.8M314 332.5h0.8M327.5 337.5h0.8M332.5 333h0.8M353 330h0.8M381.5 323.5h0.8M376.5 323h0.8M329.5 330h0.8M345 327h0.8M334 334h0.8M368 328.5h0.8M317.5 343h0.8M378 320.5h0.8M340.5 327.5h0.8M364.5 328h0.8M352.5 332.5h0.8M376.5 322h0.8M366.5 321.5h0.8M327 340.5h0.8M336 330h0.8M304 336h0.8M347.5 329.5h0.8M360 331h0.8M349 324h0.8M374 327.5h0.8M303.5 334.5h0.8M322.5 332.5h0.8M335.5 343h0.8M320.5 320h0.8M319.5 325.5h0.8M310 333.5h0.8M359.5 334.5h0.8M311 332.5h0.8M371 326.5h0.8M362 331.5h0.8M320 327h0.8M325 335h0.8M342 332h0.8M351 333h0.8M339 336h0.8M357 334.5h0.8M354.5 321h0.8M329 332.5h0.8M376.5 318h0.8M359 331.5h0.8M361.5 334.5h0.8M380.5 329h0.8M322 324h0.8M357 327.5h0.8M373 334.5h0.8M383 336h0.8M346.5 319.5h0.8M349 332.5h0.8M318.5 334h0.8M343.5 324h0.8M381 324h0.8M305.5 318.5h0.8M378.5 327h0.8M339 329h0.8M384 321.5h0.8M337.5 334h0.8M382.5 329.5h0.8M321 320h0.8M318.5 326h0.8M328.5 343.5h0.8M366.5 336h0.8M342.5 321.5h0.8M369 338h0.8M360.5 324h0.8M370.5 335h0.8M365.5 330h0.8M369 328.5h0.8M365 334h0.8M339 331h0.8M369.5 316.5h0.8M314 330.5h0.8M367 334.5h0.8M310 331h0.8M319 327h0.8M330.5 334h0.8M319.5 327h0.8M316 327.5h0.8M313 327h0.8M380 324h0.8M362.5 322.5h0.8M376.5 340.5h0.8M307.5 333.5h0.8M377.5 313h0.8M384.5 321h0.8M333 332.5h0.8M357 331.5h0.8M368 332.5h0.8M307 328.5h0.8M341.5 316.5h0.8M337 324h0.8M313 318.5h0.8M370 312h0.8M347.5 336h0.8M333.5 318h0.8M326.5 339h0.8M346.5 325.5h0.8M357.5 339.5h0.8M348.5 331.5h0.8M366 332.5h0.8M317.5 335.5h0.8M367.5 330h0.8M319 332.5h0.8M340.5 328.5h0.8M377 335h0.8M330 332h0.8M378.5 329h0.8M303 330h0.8M351.5 330.5h0.8M362.5 329h0.8M331.5 323h0.8M382.5 327h0.8M305.5 319h0.8M331 329h0.8M311.5 331h0.8M349 333.5h0.8M310 329.5h0.8M356.5 314.5h0.8M348 324.5h0.8M358 341.5h0.8M373.5 323.5h0.8M360 321h0.8M319.5 312h0.8M364.5 323h0.8M309 319.5h0.8M333 317h0.8M361.5 344.5h0.8M319 321h0.8M351.5 334h0.8M320.5 319h0.8M372 328h0.8M339 331.5h0.8M370.5 326h0.8M339.5 323.5h0.8M363 322h0.8M314.5 319h0.8M311 327h0.8M343.5 328.5h0.8M376 326.5h0.8M363 345.5h0.8M312.5 335h0.8M313.5 341h0.8M342 318h0.8M328.5 326.5h0.8M369 333.5h0.8M332.5 320h0.8M356 340h0.8M358 322.5h0.8M381.5 325h0.8M315 317.5h0.8M302.5 340h0.8M360 316.5h0.8M380 331.5h0.8M310 335.5h0.8M352 340.5h0.8M324 330h0.8M362 336h0.8M338 337.5h0.8M356 326h0.8M374.5 316.5h0.8M376 320h0.8M339.5 312.5h0.8M347 339h0.8M318.5 335.5h0.8M362 328h0.8M330 338h0.8M310 318h0.8M304.5 317.5h0.8M370 319.5h0.8M331.5 329.5h0.8M364.5 325.5h0.8M312 327h0.8M351 334.5h0.8M306.5 331.5h0.8M323.5 312h0.8M345.5 336h0.8M322.5 319h0.8M368.5 336h0.8M375.5 333.5h0.8M306 333h0.8M381.5 341.5h0.8M354.5 330h0.8M382.5 337h0.8M321 332.5h0.8M355 328h0.8M304.5 329.5h0.8M306.5 325h0.8M318 328.5h0.8M354 328.5h0.8M338.5 321.5h0.8M307.5 316.5h0.8M346.5 337h0.8M324.5 312h0.8M323.5 334.5h0.8M342.5 326.5h0.8M310.5 338h0.8M334.5 334.5h0.8M310 338.5h0.8M323.5 334h0.8M332 321h0.8M319 331h0.8M329.5 342.5h0.8M336 340h0.8M325 322h0.8M374 322h0.8M346.5 323.5h0.8M309.5 330h0.8M342 324.5h0.8M359 314.5h0.8M381.5 326h0.8M365 333h0.8M329.5 342h0.8M304 328.5h0.8M375 328h0.8M356.5 328.5h0.8M326 333h0.8M372 323h0.8M350 316h0.8M377 326.5h0.8M352 342.5h0.8M324 337h0.8M347 326.5h0.8M383.5 328h0.8M310 337.5h0.8M356.5 320.5h0.8M372 326.5h0.8M337 327h0.8M348 318.5h0.8M380 321.5h0.8M364.5 330h0.8M314.5 308.5h0.8M302 327.5h0.8M341.5 333h0.8M304.5 323.5h0.8M323 327.5h0.8M333 324h0.8M357 321h0.8M320.5 326.5h0.8M326 337.5h0.8M303 322.5h0.8M378 332.5h0.8M315.5 325h0.8M349 332h0.8M356 321.5h0.8M336.5 316.5h0.8M342.5 337.5h0.8M333 322h0.8M347.5 316h0.8M304 321.5h0.8M342.5 320h0.8M325.5 331h0.8M344 322h0.8M321.5 325h0.8M324.5 332.5h0.8M354 318.5h0.8M323 325h0.8M337.5 324h0.8M334.5 328h0.8M360 338h0.8M322.5 327.5h0.8M343 328h0.8M329.5 338.5h0.8M316 318.5h0.8M356.5 329.5h0.8M374.5 329h0.8M356 328h0.8M365.5 331h0.8M364 330h0.8M315 325.5h0.8M381 318.5h0.8M362.5 330.5h0.8M381 333h0.8M326 345.5h0.8M368 339h0.8M321.5 332h0.8M368.5 316h0.8M337.5 327h0.8M319.5 331h0.8M338 336h0.8M384 336h0.8M320 310.5h0.8M308.5 316.5h0.8M369 337h0.8M337.5 322.5h0.8M380.5 337.5h0.8M303 342h0.8M307.5 324.5h0.8M359 327.5h0.8M331 333.5h0.8M351 326h0.8M335 321.5h0.8M361 327.5h0.8M329.5 335h0.8M304 330h0.8M327.5 333h0.8M326.5 318h0.8M336.5 325h0.8M355 331h0.8M379 318h0.8M372.5 342.5h0.8M336.5 331.5h0.8M305 336h0.8M368.5 329.5h0.8M336 327h0.8M319 338.5h0.8M311 339.5h0.8M309 336.5h0.8M304.5 321h0.8M313.5 317.5h0.8M309.5 331h0.8M306.5 332h0.8M382.5 329h0.8M367.5 329.5h0.8M326.5 317h0.8M315 333.5h0.8M306 325h0.8M346 340h0.8M334.5 319.5h0.8M329 340h0.8M348 329h0.8M362 328.5h0.8M320 332.5h0.8M377.5 333.5h0.8M383.5 327h0.8M360 322.5h0.8M352.5 322h0.8M349.5 334h0.8M315.5 335h0.8M381.5 330.5h0.8M307.5 329.5h0.8M384 325.5h0.8M353.5 324.5h0.8M320 321.5h0.8M316.5 325h0.8M335.5 319h0.8M334 313.5h0.8M347.5 341h0.8M362 327h0.8M370 325.5h0.8M340.5 331h0.8M323.5 324.5h0.8M327 325h0.8M357.5 337.5h0.8M354 338h0.8M361 321.5h0.8M316 327h0.8M353.5 335h0.8M317 335h0.8M317 317h0.8M378.5 337h0.8M315.5 323h0.8M318 321.5h0.8M323.5 339.5h0.8M324 332.5h0.8M354.5 337.5h0.8M379.5 334h0.8M308 327h0.8M355.5 327.5h0.8M359.5 330.5h0.8M333 330.5h0.8M359.5 325.5h0.8M303.5 319.5h0.8M334 333.5h0.8M374 324.5h0.8M375.5 319h0.8M381.5 311h0.8M367 322.5h0.8M375 314.5h0.8M381 327h0.8M376 320.5h0.8M362 307h0.8M380.5 314h0.8M365.5 316h0.8M371.5 323h0.8M375 312h0.8M361 337.5h0.8M371 313h0.8M381.5 312.5h0.8M368.5 326.5h0.8M376 330.5h0.8M365 318.5h0.8M383.5 322h0.8M371 312.5h0.8M379 332h0.8M374.5 329.5h0.8M375.5 314h0.8M377 315.5h0.8M373.5 327.5h0.8M372.5 320h0.8M361 315.5h0.8M371.5 309.5h0.8M378 324h0.8M373 314.5h0.8M362.5 313.5h0.8M372.5 316.5h0.8M359 319h0.8M364 310.5h0.8M369 318.5h0.8M375 309h0.8M371 323h0.8M364.5 318.5h0.8M370.5 322.5h0.8M357 315.5h0.8M371 321h0.8M377.5 306.5h0.8M369 315h0.8M368 313h0.8M373.5 324h0.8M367 322h0.8M380.5 319h0.8M383.5 323.5h0.8M364.5 320.5h0.8M364 320h0.8M380.5 311h0.8M378 306h0.8M363.5 323h0.8M368 330h0.8M373 308.5h0.8M366 315h0.8M361 317.5h0.8M374.5 313h0.8M370 307h0.8M360.5 321.5h0.8M363 323h0.8M368 316h0.8M381.5 310.5h0.8M363.5 328h0.8M377 322.5h0.8M367 314.5h0.8M366 320h0.8M358.5 332h0.8M371.5 318.5h0.8M369 316h0.8M376.5 314h0.8M375.5 316h0.8M379 333.5h0.8M370.5 316h0.8M371.5 310.5h0.8M373 316.5h0.8M383 304h0.8M374.5 315.5h0.8M372.5 333.5h0.8M362.5 320.5h0.8M356.5 320h0.8M376 314h0.8M378.5 324.5h0.8M371 320.5h0.8M373.5 318h0.8M357 322.5h0.8M371.5 311h0.8M357.5 315.5h0.8M360.5 297h0.8M373.5 317.5h0.8M375.5 325h0.8M369.5 325h0.8M357.5 309h0.8M379.5 309.5h0.8M371.5 313.5h0.8M370 329.5h0.8M370 311h0.8M369 331h0.8M379.5 310.5h0.8M376.5 310.5h0.8M359.5 319h0.8M360.5 319h0.8M366 319.5h0.8M364.5 312h0.8M380.5 316h0.8M363.5 309.5h0.8M357 322h0.8M380 312h0.8M370.5 325.5h0.8M374 323h0.8M360.5 313.5h0.8M372 312h0.8M365 328h0.8M361 313h0.8M381.5 317h0.8M361.5 323.5h0.8M380 311.5h0.8M364 313h0.8M382.5 307.5h0.8M360.5 320h0.8M364.5 321h0.8M380.5 315.5h0.8M383.5 324h0.8M350.5 315.5h0.8M356.5 315h0.8M377 314h0.8M355.5 315.5h0.8M363 308h0.8M377 312.5h0.8M375.5 316.5h0.8M374.5 322h0.8M354 322h0.8M372 325.5h0.8M376 332h0.8M366.5 315.5h0.8M377.5 318h0.8M376.5 316.5h0.8M378.5 325h0.8M377 315h0.8M379 322.5h0.8M376 316h0.8M382 314h0.8M377 323.5h0.8M376 327h0.8M380.5 320.5h0.8M378.5 320.5h0.8M367 315h0.8M366.5 332h0.8M368.5 319h0.8M367.5 313h0.8M376.5 338.5h0.8M360 323h0.8M351 317.5h0.8M372.5 319.5h0.8M366.5 316h0.8M366 313h0.8M377.5 330.5h0.8M362.5 310.5h0.8M380 313.5h0.8M380 312.5h0.8M363.5 313h0.8M367.5 306.5h0.8M363 314h0.8M368.5 319.5h0.8M376 318h0.8M371.5 313h0.8M366 314.5h0.8M374.5 322.5h0.8M363 314.5h0.8M372.5 323h0.8M381 316.5h0.8M379 311h0.8M373.5 323h0.8M370 321.5h0.8M366.5 308h0.8M365 321h0.8M366.5 311.5h0.8M376.5 331.5h0.8M364 312h0.8M369.5 327h0.8M369 317h0.8M380.5 324.5h0.8M367.5 323.5h0.8M370.5 317.5h0.8M377 324.5h0.8M375.5 312h0.8M369.5 324.5h0.8M382.5 318h0.8M375 317.5h0.8M369.5 321h0.8M380 321h0.8M359.5 313h0.8M377 329.5h0.8M370.5 311.5h0.8M375.5 330h0.8M366.5 318.5h0.8M363 309.5h0.8M363 321h0.8M372 315h0.8M367.5 316h0.8M375.5 317.5h0.8M370 321h0.8M365 324h0.8M372.5 317.5h0.8M376.5 315.5h0.8M373 312.5h0.8M374 313h0.8M374 317.5h0.8M353.5 319h0.8M364 317.5h0.8M370.5 324.5h0.8M376 315.5h0.8M379.5 307h0.8M361.5 314.5h0.8M369.5 327.5h0.8M373.5 313.5h0.8M370 320h0.8M362 326h0.8M372 319h0.8M360.5 324.5h0.8M381.5 329h0.8M368 333h0.8M373 325.5h0.8M370 320.5h0.8M374.5 325.5h0.8M376.5 326h0.8M376.5 309.5h0.8M379 314h0.8M359 320.5h0.8M378 325h0.8M374.5 314.5h0.8M375 309.5h0.8M374.5 321h0.8M366.5 322h0.8M371 304.5h0.8M381.5 315.5h0.8M373.5 316.5h0.8M374.5 318.5h0.8M379.5 318.5h0.8M382.5 316.5h0.8M373.5 311h0.8M372 308.5h0.8M364 308.5h0.8M375.5 323h0.8M370 316.5h0.8M376.5 329h0.8M378.5 315h0.8M369 315.5h0.8M354.5 311h0.8M359 314h0.8M370 330h0.8M372.5 326h0.8M367.5 325.5h0.8M350.5 325h0.8M369 313.5h0.8M369 329h0.8M373 326.5h0.8M361 319.5h0.8M368.5 308.5h0.8M359.5 323.5h0.8M359 301.5h0.8M363.5 307h0.8M374.5 318h0.8M378 314.5h0.8M363.5 308.5h0.8M361.5 315.5h0.8M368.5 306h0.8M364.5 311h0.8M376 319.5h0.8M375.5 317h0.8M355.5 323h0.8M373 319h0.8M372 316h0.8M361.5 309h0.8M368.5 318.5h0.8M369 324h0.8M375.5 327h0.8M373.5 319h0.8M380.5 323h0.8M360.5 327h0.8M369.5 313h0.8M367.5 313.5h0.8M370.5 313h0.8M362.5 315.5h0.8M378 319.5h0.8M372 322h0.8M374.5 317h0.8M354 315h0.8M371.5 328.5h0.8M374.5 305h0.8M373.5 321h0.8M372 319.5h0.8M358.5 311.5h0.8M373.5 308.5h0.8M357.5 314.5h0.8M356 321h0.8M368 319.5h0.8M356.5 338h0.8M360 319h0.8M378 317h0.8M361.5 329h0.8M379 308h0.8M369 309.5h0.8M368 320h0.8M360.5 309.5h0.8M361.5 322h0.8M368 315h0.8M376.5 313h0.8M369.5 317.5h0.8M372 330.5h0.8M361.5 318h0.8M377 337.5h0.8M374.5 327h0.8M376 317.5h0.8M372 311.5h0.8M362.5 313h0.8M380.5 314.5h0.8M356 311.5h0.8M355.5 313h0.8M360 325h0.8M372 325h0.8M368.5 318h0.8M363.5 298h0.8M372 321.5h0.8M361 323.5h0.8M380.5 320h0.8M365.5 313h0.8M365.5 312.5h0.8M360 311h0.8M358.5 314h0.8M370 318.5h0.8M360.5 325.5h0.8M377.5 311h0.8M372.5 313.5h0.8M384 318h0.8M380 316h0.8M364.5 322h0.8M367 309.5h0.8M370 333.5h0.8M373.5 313h0.8M370 317.5h0.8M356.5 321h0.8M364.5 318h0.8M372 310h0.8M359.5 318h0.8M367.5 331.5h0.8M370 323.5h0.8M374.5 323h0.8M369.5 315.5h0.8M377.5 321h0.8M366.5 327h0.8M373.5 309.5h0.8M375.5 329h0.8M365 324.5h0.8M362.5 316h0.8M381 318h0.8M363.5 315.5h0.8M377 325h0.8M379.5 303h0.8M358.5 315h0.8M379 312.5h0.8M358.5 295h0.8M357.5 325.5h0.8M377.5 323h0.8M369.5 317h0.8M372.5 309h0.8M378 315.5h0.8M375.5 326.5h0.8M371 322h0.8M367.5 312.5h0.8M364 319h0.8M376 321.5h0.8M376.5 324h0.8M362 323h0.8M373 310.5h0.8M365.5 319.5h0.8M364.5 312.5h0.8M380 323h0.8M369.5 318h0.8M375 318h0.8M363.5 324.5h0.8M374 307.5h0.8M354 309.5h0.8M361 322.5h0.8M369 320h0.8M368.5 306.5h0.8M361.5 317h0.8M377 310h0.8M374 308.5h0.8M357.5 315h0.8M375.5 314.5h0.8M363.5 312.5h0.8M364.5 310.5h0.8M374 319h0.8M364 321.5h0.8M376 321h0.8M372.5 338h0.8M360 328.5h0.8M367 312.5h0.8M370 310h0.8M369 322h0.8M354.5 322h0.8M367.5 317.5h0.8M375 313.5h0.8M359 333h0.8M358 321h0.8M372 317h0.8M363.5 316h0.8M378 319h0.8M378.5 327.5h0.8M371.5 315h0.8M350.5 298.5h0.8M380 333h0.8M375 327h0.8M380 319h0.8M371 330h0.8M374 323.5h0.8M356 319.5h0.8M367.5 321h0.8M376 312h0.8M360 324h0.8M356.5 325.5h0.8M376.5 327.5h0.8M368.5 320h0.8M364 327h0.8M362 316h0.8M355.5 317h0.8M365 319h0.8M356.5 317h0.8M370 312.5h0.8M367 320h0.8M367 324h0.8M361 316.5h0.8M356.5 321.5h0.8M367.5 318.5h0.8M371.5 318h0.8M374.5 317.5h0.8M378 322.5h0.8M370.5 306h0.8M359 313h0.8M377 321.5h0.8M370.5 309.5h0.8M373.5 322.5h0.8M373 316h0.8M371.5 300.5h0.8M377 323h0.8M372.5 313h0.8M372.5 316h0.8M371.5 325.5h0.8M375.5 318.5h0.8M375.5 315.5h0.8M371.5 321.5h0.8M369.5 320h0.8M364.5 319.5h0.8M372.5 327h0.8M363.5 327h0.8M374.5 314h0.8M371 317.5h0.8M381 320h0.8M374.5 312h0.8M380.5 318h0.8M379.5 316h0.8M366.5 323.5h0.8M376 319h0.8M359 325.5h0.8M377.5 309h0.8M359 317.5h0.8M375 320h0.8M360 320.5h0.8M369.5 314.5h0.8M364.5 324.5h0.8M373 319.5h0.8M360.5 326h0.8M377.5 315.5h0.8M376 314.5h0.8M374 316h0.8M361 324h0.8M369.5 330.5h0.8M346 313h0.8M364.5 311.5h0.8M364.5 314.5h0.8M370 304h0.8M353.5 315.5h0.8M379 322h0.8M366.5 315h0.8M368.5 316.5h0.8M382 327h0.8M369.5 307.5h0.8M368 311h0.8M360 315h0.8M370.5 319h0.8M381 323h0.8M373.5 318.5h0.8M360 308h0.8M376.5 324.5h0.8M372 302h0.8M365 317h0.8M363.5 318.5h0.8M372.5 333h0.8M371 310.5h0.8M374 322.5h0.8M380 320h0.8M378 326.5h0.8M372.5 328h0.8M378.5 317h0.8M369 323.5h0.8M365 312h0.8M368 314.5h0.8M363 317.5h0.8M367.5 320.5h0.8M376.5 319.5h0.8M379.5 322h0.8M375 317h0.8M378 321.5h0.8M355.5 317.5h0.8M370 325h0.8M368.5 310h0.8M374 327h0.8M367.5 323h0.8M370 322h0.8M363.5 314.5h0.8M373.5 314h0.8M372 317.5h0.8M362 312h0.8M372.5 320.5h0.8M357.5 317h0.8M372 324.5h0.8M378.5 311h0.8M369 302.5h0.8M382 319.5h0.8M374.5 321.5h0.8M374 335.5h0.8M371.5 314.5h0.8M369.5 308.5h0.8M381.5 310h0.8M366.5 310h0.8M358.5 313.5h0.8M353.5 314.5h0.8M378 320h0.8M377.5 315h0.8M379 325h0.8M363 319.5h0.8M379.5 324.5h0.8M381.5 319h0.8M382 312.5h0.8M357 324h0.8M369 328h0.8M381 326h0.8M369 308.5h0.8M382.5 328.5h0.8M373 320h0.8M381.5 320h0.8M355.5 318.5h0.8M376.5 313.5h0.8M377 325.5h0.8M368.5 303.5h0.8M365.5 319h0.8M376.5 316h0.8M369.5 336.5h0.8M376 324h0.8M375 322.5h0.8M372 314.5h0.8M356 333.5h0.8M379 318.5h0.8M373.5 330.5h0.8M359.5 316h0.8M357.5 304h0.8M370.5 320h0.8M362 316.5h0.8M370 315h0.8M371.5 319h0.8M377 304.5h0.8M364.5 323.5h0.8M365 325h0.8M372.5 337h0.8M379 315h0.8M374 321.5h0.8M372.5 308.5h0.8M378.5 316h0.8M369 307h0.8M374 315.5h0.8M357.5 320.5h0.8M377 327.5h0.8M372.5 325h0.8M365 314.5h0.8M354.5 327.5h0.8M354.5 316.5h0.8M359 319.5h0.8M369.5 319h0.8M364.5 326.5h0.8M378 327.5h0.8M353.5 312h0.8M376 311h0.8M366.5 319h0.8M373 310h0.8M381 322h0.8M371.5 315.5h0.8M360 310.5h0.8M367 327.5h0.8M364.5 308h0.8M362.5 326.5h0.8M382 315.5h0.8M372 320h0.8M354 314h0.8M374 320.5h0.8M355 323.5h0.8M375 311.5h0.8M370 322.5h0.8M360.5 322.5h0.8M380 332h0.8M383 315.5h0.8M362.5 318.5h0.8M367 315.5h0.8M382.5 320.5h0.8M371 322.5h0.8M370 326.5h0.8M362.5 315h0.8M367.5 318h0.8M373 317.5h0.8M367 314h0.8M383 320.5h0.8M361 318h0.8M368 317h0.8M375.5 328h0.8M357.5 336h0.8M363 318.5h0.8M373.5 315.5h0.8M365.5 322.5h0.8M380.5 313h0.8M381.5 312h0.8M381 325.5h0.8M380 317.5h0.8M354 316.5h0.8M382.5 313h0.8M376.5 312.5h0.8M376 323h0.8M375.5 313.5h0.8M362 310.5h0.8M367 323.5h0.8M366 318.5h0.8M360.5 320.5h0.8M373.5 326.5h0.8M365 315.5h0.8M356.5 325h0.8M351 319.5h0.8M363 316h0.8M375.5 327.5h0.8M363 309h0.8M369 323h0.8M352.5 317.5h0.8M381 308h0.8M360.5 307.5h0.8M364 337h0.8M356 315h0.8M379.5 327.5h0.8M375.5 309.5h0.8M362.5 321h0.8M361.5 316.5h0.8M355.5 308h0.8M368 327.5h0.8M372 323.5h0.8M362.5 309h0.8M362.5 316.5h0.8M357.5 312h0.8M379 324h0.8M377.5 324.5h0.8M380.5 319.5h0.8M382.5 308h0.8M378.5 322h0.8M380 304.5h0.8M367.5 316.5h0.8M383.5 319h0.8M382 318h0.8M355.5 316h0.8M377.5 324h0.8M365 320h0.8M378.5 317.5h0.8M379.5 328h0.8M364 321h0.8M359 308.5h0.8M380 310.5h0.8M350.5 313h0.8M377.5 322h0.8M372.5 314.5h0.8M377 305h0.8M383 309h0.8M374 318.5h0.8M383 318h0.8M347.5 326.5h0.8M367 328h0.8M377.5 320h0.8M373 311.5h0.8M367.5 315h0.8M381 321h0.8M379.5 317h0.8M372 321h0.8M373.5 304.5h0.8M378 309h0.8M369.5 313.5h0.8M369.5 299h0.8M375.5 320.5h0.8M377 328.5h0.8M356.5 316.5h0.8M377 322h0.8M362 318h0.8M377 308.5h0.8M368.5 321.5h0.8M379.5 315.5h0.8M369.5 326h0.8M365.5 313.5h0.8M380 332.5h0.8M373.5 325.5h0.8M363.5 320.5h0.8M379.5 314h0.8M350 319.5h0.8M375 323.5h0.8M366.5 319.5h0.8M371 328.5h0.8M377 317h0.8M376.5 321.5h0.8M372.5 311.5h0.8M376 328.5h0.8M373.5 316h0.8M377 312h0.8M380.5 311.5h0.8M377.5 320.5h0.8M364 322h0.8M376 310h0.8M354.5 317.5h0.8M374.5 320h0.8M371 325.5h0.8M376.5 320h0.8M356.5 331h0.8M372 327.5h0.8M351.5 312.5h0.8M375 311h0.8M377 313.5h0.8M359 321.5h0.8M377.5 306h0.8M357.5 322.5h0.8M379.5 321.5h0.8M378 329h0.8M378.5 323h0.8M366 323.5h0.8M374.5 320.5h0.8M375.5 319.5h0.8M372 309.5h0.8M369 313h0.8M371 313.5h0.8M384 316h0.8M364 324h0.8M377.5 319.5h0.8M380.5 322h0.8M381.5 328.5h0.8M371.5 334h0.8M369 309h0.8M362 309h0.8M372.5 314h0.8M370.5 323h0.8M360.5 306h0.8M366.5 306h0.8M357.5 317.5h0.8M370.5 319.5h0.8M371 316h0.8M369.5 325.5h0.8M371.5 308h0.8M353.5 313.5h0.8M357 320.5h0.8M370.5 315h0.8M359.5 320.5h0.8M378 316.5h0.8M375 321h0.8M371.5 322.5h0.8M384 311h0.8M382.5 312.5h0.8M368 325h0.8M381 310.5h0.8M356 316.5h0.8M382 311.5h0.8M374.5 330.5h0.8M365 312.5h0.8M359.5 317.5h0.8M368 329.5h0.8M350.5 326h0.8M375.5 325.5h0.8M378.5 314h0.8M367 316.5h0.8M369.5 312h0.8M360.5 312.5h0.8M362.5 323h0.8M377 306.5h0.8M368.5 313.5h0.8M369.5 304.5h0.8M367 312h0.8M358 310.5h0.8M360.5 299.5h0.8M364 315.5h0.8M374 312h0.8M364.5 320h0.8M376 323.5h0.8M369 321h0.8M358 325.5h0.8M367 303.5h0.8M371.5 321h0.8M368 326h0.8M364.5 317.5h0.8M365 323h0.8M381.5 318.5h0.8M366.5 311h0.8M364 310h0.8M381 319.5h0.8M374 324h0.8M366 321.5h0.8M352 310h0.8M363 315.5h0.8M372 307h0.8M373 327.5h0.8M369 314h0.8M358 327h0.8M368 312h0.8M354.5 313.5h0.8M370 315.5h0.8M379.5 328.5h0.8M363.5 322.5h0.8M376.5 320.5h0.8M365 316h0.8M381.5 318h0.8M370.5 317h0.8M360.5 314.5h0.8M363.5 333h0.8M370 316h0.8M377 311.5h0.8M360.5 312h0.8M380 315.5h0.8M370.5 314h0.8M373.5 315h0.8M370.5 310h0.8M371.5 322h0.8M380.5 317h0.8M371.5 317.5h0.8M372.5 310.5h0.8M370 323h0.8M365.5 304h0.8M379 311.5h0.8M370 328h0.8M377 321h0.8M369.5 328h0.8M379 320h0.8M380 309h0.8M364 316h0.8M373 315h0.8M375 333h0.8M366 316.5h0.8M363 323.5h0.8M360.5 325h0.8M376.5 312h0.8M368.5 317.5h0.8M366.5 320h0.8M377.5 329h0.8M377.5 312h0.8M358 322h0.8M376 332.5h0.8M372 324h0.8M363 307.5h0.8M369 314.5h0.8M359 321h0.8M375 320.5h0.8M378.5 311.5h0.8M368 332h0.8M369.5 314h0.8M357.5 332h0.8M357.5 313.5h0.8M355.5 325h0.8M370 319h0.8M363.5 324h0.8M381 315.5h0.8M356 315.5h0.8M379.5 321h0.8M360.5 332h0.8M375.5 311.5h0.8M374.5 316h0.8M360 311.5h0.8M362 311h0.8M367.5 312h0.8M366.5 326h0.8M383.5 315.5h0.8M376.5 325.5h0.8M373 322.5h0.8M381 316h0.8M362.5 320h0.8M363.5 326h0.8M369.5 319.5h0.8M367.5 324.5h0.8M363 317h0.8M371 324.5h0.8M375.5 331.5h0.8M369.5 321.5h0.8M381.5 307h0.8M356.5 314h0.8M363 308.5h0.8M374.5 319h0.8M368 308.5h0.8M383 308.5h0.8M377.5 318.5h0.8M367 317.5h0.8M368 319h0.8M365.5 320.5h0.8M364.5 310h0.8M379 312h0.8M373 330.5h0.8M368.5 331h0.8M364 318.5h0.8M369 311.5h0.8M366.5 320.5h0.8M377.5 308h0.8M360.5 308.5h0.8M378.5 326.5h0.8M368 318.5h0.8M370.5 318.5h0.8M369.5 329.5h0.8M372.5 326.5h0.8M362.5 319.5h0.8M370.5 313.5h0.8M358 318h0.8M369.5 308h0.8M361.5 307.5h0.8M364.5 301h0.8M355 318h0.8M380 308h0.8M361 318.5h0.8M370.5 310.5h0.8M372.5 332h0.8M360.5 314h0.8M363 311h0.8M364 319.5h0.8M350.5 315h0.8M383 316h0.8M379 313h0.8M351 315h0.8M364 313.5h0.8M369.5 311h0.8M366.5 327.5h0.8M365 315h0.8M367.5 327h0.8M374 307h0.8M369.5 330h0.8M360.5 318.5h0.8M357 317.5h0.8M372 330h0.8M367.5 310h0.8M360 325.5h0.8M377.5 316.5h0.8M371.5 333.5h0.8M360 318h0.8M363.5 316.5h0.8M361 329.5h0.8M367.5 321.5h0.8M374 335h0.8M369 325.5h0.8M378 334.5h0.8M360.5 336.5h0.8M378.5 306h0.8M368 314h0.8M368.5 331.5h0.8M357 305.5h0.8M379 321.5h0.8M358 317h0.8M373.5 327h0.8M364 333.5h0.8M368.5 312h0.8M367.5 307h0.8M362 315h0.8M369.5 320.5h0.8M358.5 310h0.8M377 313h0.8M373.5 328h0.8M373 313h0.8M377.5 312.5h0.8M375 323h0.8M364 314.5h0.8M372.5 310h0.8M365 319.5h0.8M380 325h0.8M361 312h0.8M373.5 312h0.8M360 312.5h0.8M369 297.5h0.8M359 329.5h0.8M359 330h0.8M359.5 316.5h0.8M379.5 318h0.8M382.5 319h0.8" stroke="#000" stroke-width="0.8" stroke-opacity="0.8" fill="none"/>
<path d="M373.5 328.5h1.0M372.5 327h1.0M341 333h1.0M375.5 336h1.0M351.5 331h1.0M353.5 337h1.0M374.5 324h1.0M365.5 332h1.0M380 326h1.0M361 332h1.0M355.5 329.5h1.0M357 329h1.0M346 335.5h1.0M341 323.5h1.0M337 332h1.0M326.5 326h1.0M380 333.5h1.0M356.5 332.5h1.0M364.5 330h1.0M368.5 330h1.0M359 328.5h1.0M349.5 330h1.0M350 329.5h1.0M383 333.5h1.0M360 330h1.0M332.5 338h1.0M372 331.5h1.0M315 327h1.0M337.5 328h1.0M378 331.5h1.0M363.5 326h1.0M357 331.5h1.0M376 333h1.0M359 327h1.0M369 334.5h1.0M364.5 335h1.0M330.5 330.5h1.0M381 325.5h1.0M357 330.5h1.0M363 332h1.0M375.5 334h1.0M378 335.5h1.0M308.5 328.5h1.0M315.5 328.5h1.0M368.5 336.5h1.0M345.5 328h1.0M348.5 320h1.0M318.5 327.5h1.0M308.5 333.5h1.0M372 324h1.0M316 330.5h1.0M361.5 332.5h1.0M320 334.5h1.0M362.5 329h1.0M364.5 337h1.0M367.5 334h1.0M342.5 339h1.0M370 335.5h1.0M327 331h1.0M375 333.5h1.0M370.5 331.5h1.0M307 334.5h1.0M323.5 330.5h1.0M314.5 325.5h1.0M329 330.5h1.0M365 331.5h1.0M348 327h1.0M374 326.5h1.0M338 329.5h1.0M369 330h1.0M330 330.5h1.0M360 326h1.0M316.5 332h1.0M363 334.5h1.0M324.5 327.5h1.0M332.5 332.5h1.0M355 335h1.0M378 329h1.0M343.5 328.5h1.0M344 334.5h1.0M341 325h1.0M364 326.5h1.0M311 335h1.0M372.5 326.5h1.0M346.5 324.5h1.0M316.5 326.5h1.0M376.5 326h1.0M378.5 333h1.0M324 335h1.0M320 327h1.0M371 325.5h1.0M359.5 327.5h1.0M370.5 329h1.0M369.5 325.5h1.0M369 329h1.0M367.5 332h1.0M312.5 329.5h1.0M313 324h1.0M331 330.5h1.0M322 330.5h1.0M362 333h1.0M314 328h1.0M309.5 339h1.0M350.5 328.5h1.0M382.5 335h1.0M329.5 328.5h1.0M321 334h1.0M356.5 330.5h1.0M309 331.5h1.0M362 330.5h1.0M373.5 326h1.0M320.5 332.5h1.0M375.5 338h1.0M336 335h1.0M378.5 331.5h1.0M367.5 325.5h1.0M333.5 331h1.0M347 334.5h1.0M359.5 328.5h1.0M357.5 326h1.0M353.5 333h1.0M323.5 336.5h1.0M328 334h1.0M378 326.5h1.0M331.5 331.5h1.0M366 329.5h1.0M329.5 332.5h1.0M359.5 321h1.0M325 330h1.0M312.5 328.5h1.0M373.5 331.5h1.0M326 326h1.0M315.5 333h1.0M356.5 332h1.0M324 324.5h1.0M371 334h1.0M358.5 333.5h1.0M368 326.5h1.0M342.5 330h1.0M324 327h1.0M348.5 332.5h1.0M343 337h1.0M345 334.5h1.0M369.5 333h1.0M329.5 326h1.0M369 331.5h1.0M312 329h1.0M380.5 330.5h1.0M354.5 331h1.0M356 336h1.0M363.5 334h1.0M327.5 329h1.0M371.5 327.5h1.0M339.5 333h1.0M330 333.5h1.0M332.5 326.5h1.0M323 339h1.0M370 326h1.0M337 330h1.0M340.5 333h1.0M370 328h1.0M319.5 333h1.0M308 329h1.0M330 327.5h1.0M321 326h1.0M347.5 322.5h1.0M313 325.5h1.0M367 326.5h1.0M352 338h1.0M379 334h1.0M332 334h1.0M329 337h1.0M343.5 331.5h1.0M369.5 327h1.0M308 328.5h1.0M374.5 331.5h1.0M380.5 328.5h1.0M334 326h1.0M380.5 323h1.0M323 335h1.0M310.5 336h1.0M378.5 332h1.0M330 331.5h1.0M362.5 324.5h1.0M360.5 327.5h1.0M326.5 330.5h1.0M366.5 326h1.0M376.5 330.5h1.0M360 334h1.0M324 335.5h1.0M344 329.5h1.0M375 334h1.0M349.5 334.5h1.0M327 329.5h1.0M345.5 332.5h1.0M311.5 330.5h1.0M327.5 327.5h1.0M348 332h1.0M360 328.5h1.0M354 326h1.0M381.5 330h1.0M345.5 336.5h1.0M373 325h1.0M359 329.5h1.0M380 330h1.0M348 328.5h1.0M338.5 329h1.0M353.5 329h1.0M362 331.5h1.0M347 329.5h1.0M350 332h1.0M383 330h1.0M354.5 330h1.0M373 334h1.0M310 330h1.0M332 331.5h1.0M319 334h1.0M344 338.5h1.0M370 330h1.0M313 333.5h1.0M324.5 327h1.0M344.5 338h1.0M346 331h1.0M354.5 335.5h1.0M308.5 329h1.0M318 333h1.0M373 329h1.0M325.5 329h1.0M370.5 330.5h1.0M365.5 338.5h1.0M310 329h1.0M360.5 331.5h1.0M313 326.5h1.0M325 329h1.0M377 328.5h1.0M362 331h1.0M370.5 326h1.0M378.5 328h1.0M374 329.5h1.0M361.5 332h1.0M366.5 332.5h1.0M347 328.5h1.0M351.5 332h1.0M366 325.5h1.0M319 327.5h1.0M374 324.5h1.0M374.5 325.5h1.0M375.5 327.5h1.0M313.5 327h1.0M337 329.5h1.0M332 332h1.0M355 330h1.0M358 331.5h1.0M341.5 329h1.0M378 334.5h1.0M376 332h1.0M324.5 331h1.0M369.5 324.5h1.0M315 338h1.0M365 323.5h1.0M311 326.5h1.0M339.5 335.5h1.0M317.5 330.5h1.0M314 333h1.0M369 328h1.0M323.5 331.5h1.0M357.5 328h1.0M315 329h1.0M367 332.5h1.0M337.5 332.5h1.0M366.5 328h1.0M349 330h1.0M317.5 333.5h1.0M345 327.5h1.0M364.5 330.5h1.0M370 335h1.0M366.5 330h1.0M368.5 331h1.0M352.5 330h1.0M372.5 326h1.0M355.5 336h1.0M323.5 334.5h1.0M376 332.5h1.0M364 329.5h1.0M358.5 328.5h1.0M338.5 320h1.0M358.5 329h1.0M310 325h1.0M357 333.5h1.0M367 333.5h1.0M341 328h1.0M338 326h1.0M329 330h1.0M321 329h1.0M356.5 325h1.0M361 337h1.0M367 329.5h1.0M365.5 330h1.0M343 330.5h1.0M331.5 327h1.0M372.5 332.5h1.0M371 328h1.0M362.5 332.5h1.0M330.5 324h1.0M359.5 327h1.0M348 340h1.0M357.5 331h1.0M354 328.5h1.0M325.5 331.5h1.0M331 329h1.0M326 330.5h1.0M349 328h1.0M373.5 336h1.0M307 332h1.0M371.5 334h1.0M313 327h1.0M344 330h1.0M333.5 329h1.0M344 330.5h1.0M356 328.5h1.0M337.5 333h1.0M356.5 329h1.0M361.5 328.5h1.0M371.5 330h1.0M355 335.5h1.0M319 330h1.0M335.5 324.5h1.0M374 335h1.0M372 333.5h1.0M379 332.5h1.0M336.5 330.5h1.0M306.5 325.5h1.0M319.5 329.5h1.0M380.5 332h1.0M310.5 334.5h1.0M316.5 332.5h1.0M371 325h1.0M371.5 337h1.0M328 334.5h1.0M315.5 329h1.0M351.5 331.5h1.0M382 328h1.0M315 332.5h1.0M334 331h1.0M314 331.5h1.0M310.5 327h1.0M372 329.5h1.0M356.5 327h1.0M363.5 330h1.0M368.5 334.5h1.0M341.5 331.5h1.0M343.5 324h1.0M312 328h1.0M334.5 325.5h1.0M364.5 328h1.0M377 325.5h1.0M361.5 324.5h1.0M344 329h1.0M352 332h1.0M356 323.5h1.0M355.5 327.5h1.0M350 330.5h1.0M350 334h1.0M343.5 328h1.0M318.5 335.5h1.0M382 331h1.0M309.5 331.5h1.0M363 328.5h1.0M306 328h1.0M347 331h1.0M337 335h1.0M378 331h1.0M370 328.5h1.0M327 331.5h1.0M343.5 320.5h1.0M382 333.5h1.0M346.5 334.5h1.0M378.5 332.5h1.0M380 328h1.0M371 335.5h1.0M365.5 324.5h1.0M380.5 330h1.0M369.5 331.5h1.0M308 326h1.0M359.5 329h1.0M371.5 326h1.0M362 328h1.0M366 327.5h1.0M333 334h1.0M323.5 325h1.0M375 331h1.0M333 329h1.0M310 333.5h1.0M377 331.5h1.0M352 321.5h1.0M375 329.5h1.0M377.5 333.5h1.0M337.5 335.5h1.0M381.5 333h1.0M366.5 322.5h1.0M337 326h1.0M318.5 326h1.0M349 331.5h1.0M343.5 326.5h1.0M375 330h1.0M378.5 328.5h1.0M360.5 328h1.0M372 326h1.0M353.5 332h1.0M319.5 328h1.0M372 336h1.0M308.5 330h1.0M343 328.5h1.0M306.5 328.5h1.0M368 336h1.0M382 333h1.0M371.5 328h1.0M350.5 330.5h1.0M375 324h1.0M379 318.5h1.0M321 333.5h1.0M332.5 327.5h1.0M374.5 342.5h1.0M318 324.5h1.0M373.5 323.5h1.0M357.5 325.5h1.0M330.5 329.5h1.0M343 327h1.0M363 335h1.0M366 333.5h1.0M333 330.5h1.0M374 339h1.0M363.5 331h1.0M337 333h1.0M342.5 332h1.0M322 328h1.0M361.5 331h1.0M327 328h1.0M362.5 334h1.0M370 329h1.0M368 329h1.0M345 328.5h1.0M346.5 329.5h1.0M362 335.5h1.0M358 336h1.0M330.5 332h1.0M372.5 334.5h1.0M320.5 334h1.0M365 334h1.0M345 340.5h1.0M366.5 331.5h1.0M352.5 326.5h1.0M379 328h1.0M356.5 330h1.0M381 332h1.0M316 330h1.0M370.5 324.5h1.0M354 335h1.0M374 327h1.0M339.5 329h1.0M328 333.5h1.0M314 329h1.0M366.5 330.5h1.0M381.5 322.5h1.0M347.5 331h1.0M347 326.5h1.0M359 336.5h1.0M309 327h1.0M312.5 331.5h1.0M348.5 336.5h1.0M339.5 332h1.0M338.5 328.5h1.0M352.5 332h1.0M380 335.5h1.0M332 319h1.0M380 325h1.0M364.5 331h1.0M369.5 324h1.0M335 332h1.0M362 329h1.0M348.5 330h1.0M309.5 333h1.0M309.5 334h1.0M347.5 328h1.0M319 329.5h1.0M361 326h1.0M346 326.5h1.0M335 329h1.0M338.5 330h1.0M356.5 328.5h1.0M363.5 336h1.0M319.5 327.5h1.0M383 328h1.0M375.5 333h1.0M359 331h1.0M347 332h1.0M353 327.5h1.0M332 332.5h1.0M333.5 322h1.0M360 335h1.0M369 333h1.0M349.5 328h1.0M373 335h1.0M342.5 334h1.0M307 333h1.0M365 329h1.0M339 333h1.0M346 327h1.0M366 334.5h1.0M355.5 329h1.0M337 328.5h1.0M376 339.5h1.0M372.5 334h1.0M335 331h1.0M330.5 328.5h1.0M345 329h1.0M374.5 324.5h1.0M361 326.5h1.0M366 336h1.0M354.5 329h1.0M354 330h1.0M382.5 327h1.0M332 330.5h1.0M362.5 328h1.0M363.5 330.5h1.0M335 334h1.0M308 333.5h1.0M323 328h1.0M381 333h1.0M330 328h1.0M352.5 333.5h1.0M344.5 326.5h1.0M342.5 332.5h1.0M345.5 328.5h1.0M377.5 328h1.0M345 325h1.0M380 335h1.0M339 333.5h1.0M369 332.5h1.0M308 330h1.0M350 325h1.0M372.5 333h1.0M368 329.5h1.0M354 331.5h1.0M356.5 328h1.0M368 333h1.0M365 328h1.0M381.5 334.5h1.0M346.5 329h1.0M383 335.5h1.0M353.5 324.5h1.0M356 330.5h1.0M358.5 332h1.0M365.5 330.5h1.0M354 325h1.0M313.5 331h1.0M342 335h1.0M374.5 330.5h1.0M313.5 336.5h1.0M380.5 326h1.0M332.5 333h1.0M352 336.5h1.0M372 324.5h1.0M371.5 335.5h1.0M335 326.5h1.0M364.5 323h1.0M323.5 333h1.0M379 323.5h1.0M310.5 329.5h1.0M368.5 322.5h1.0M326.5 331.5h1.0M348.5 331h1.0M313 328h1.0M377 333.5h1.0M326.5 329.5h1.0M341 332.5h1.0M311 331h1.0M333.5 326h1.0M363 326.5h1.0M339.5 334h1.0M328.5 328.5h1.0M356 330h1.0M357.5 327h1.0M314.5 332.5h1.0M318 332h1.0M342 326h1.0M365.5 329.5h1.0M315.5 332.5h1.0M367.5 327.5h1.0M377.5 325.5h1.0M334.5 320.5h1.0M327 333h1.0M364 334h1.0M377.5 332.5h1.0M339.5 326.5h1.0M381 331.5h1.0M321.5 335.5h1.0M326.5 328.5h1.0M342 328.5h1.0M369.5 334h1.0M319.5 327h1.0M350.5 321.5h1.0M310.5 326.5h1.0M306.5 332.5h1.0M307 323.5h1.0M318 327.5h1.0M336.5 332.5h1.0M380 326.5h1.0M379.5 337.5h1.0M366.5 334h1.0M346 332.5h1.0M357.5 329h1.0M356.5 335h1.0M306.5 326h1.0M372 332.5h1.0M356 332h1.0M337 326.5h1.0M368 333.5h1.0M332 329.5h1.0M308 327h1.0M371 338.5h1.0M375.5 329h1.0M374 328.5h1.0M335.5 329.5h1.0M328.5 322h1.0M312 332h1.0M335 335h1.0M381 336.5h1.0M309.5 326.5h1.0M349.5 322h1.0M377.5 315h1.0M327.5 339h1.0M383 332h1.0M359 332.5h1.0M349.5 329h1.0M333.5 333h1.0M356.5 337.5h1.0M368 334h1.0M335 326h1.0M372 334.5h1.0M378.5 325h1.0M360.5 331h1.0M369.5 329h1.0M307.5 339h1.0M358 331h1.0M377.5 330.5h1.0M383 327h1.0M357 330h1.0M367 335h1.0M334.5 326h1.0M383.5 333.5h1.0M361 331h1.0M367.5 326.5h1.0M379.5 320h1.0M335.5 330h1.0M355.5 331h1.0M314.5 326.5h1.0M312 325h1.0M355.5 328.5h1.0M306.5 321.5h1.0M352.5 335h1.0M372.5 332h1.0M317.5 326h1.0M364.5 328.5h1.0M351 334h1.0M341.5 327h1.0M370 333h1.0M380 337.5h1.0M354 329.5h1.0M329 327h1.0M336 329h1.0M349 329.5h1.0M358 334.5h1.0M347.5 336h1.0M368.5 327.5h1.0M319 337h1.0M328.5 334h1.0M316 329.5h1.0M367.5 329.5h1.0M306.5 330.5h1.0M367.5 337.5h1.0M322 334h1.0M361.5 327.5h1.0M369.5 335h1.0M355 324.5h1.0M375.5 332.5h1.0M353 334.5h1.0M373.5 329.5h1.0M371.5 333h1.0M375 332.5h1.0M340 325h1.0M340.5 328.5h1.0M342.5 329h1.0M323.5 329h1.0M358.5 331.5h1.0M374 331h1.0M359.5 334.5h1.0M374 332.5h1.0M382 326.5h1.0M375.5 335h1.0M328.5 325h1.0M324.5 334h1.0M329.5 327.5h1.0M379 337.5h1.0M357 332h1.0M359 327.5h1.0M375.5 331h1.0M370.5 329.5h1.0M306.5 328h1.0M371.5 334.5h1.0M382 327.5h1.0M338 327.5h1.0M378.5 337h1.0M376.5 334h1.0M365 325h1.0M358 328.5h1.0M373.5 334h1.0M347.5 337h1.0M317 331h1.0M361.5 334h1.0M374 333h1.0M345.5 333h1.0M349 334.5h1.0M346.5 327h1.0M356.5 324.5h1.0M377 332h1.0M368.5 328h1.0M357 334h1.0M352 329.5h1.0M336 328.5h1.0M365.5 331.5h1.0M381 331h1.0M361 333.5h1.0M322.5 324.5h1.0M332 325h1.0M359 325.5h1.0M343 329.5h1.0M350 329h1.0M317.5 327h1.0M359.5 333.5h1.0M371.5 336.5h1.0M359 329h1.0M336.5 326h1.0M379 327.5h1.0M382.5 328.5h1.0M337.5 329.5h1.0M330.5 331.5h1.0M326.5 327.5h1.0M369 338.5h1.0M353 333.5h1.0M336 325h1.0M309.5 339.5h1.0M313.5 329.5h1.0M362.5 333h1.0M367.5 322.5h1.0M352 339.5h1.0M321.5 327.5h1.0M318.5 331h1.0M331 334h1.0M312 328.5h1.0M376.5 327h1.0M373.5 325.5h1.0M365 330.5h1.0M344.5 330h1.0M341.5 328h1.0M353 332h1.0M377.5 326.5h1.0M355.5 328h1.0M360.5 329h1.0M379 338h1.0M376 334.5h1.0M368.5 337h1.0M360.5 328.5h1.0M363 330h1.0M368.5 326.5h1.0M354 333h1.0M349 323.5h1.0M365.5 321.5h1.0M370.5 328h1.0M358.5 335.5h1.0M367.5 327h1.0M379.5 335h1.0M363 323.5h1.0M345 335.5h1.0M311.5 324h1.0M327.5 325.5h1.0M314 327h1.0M367.5 335h1.0M362.5 325.5h1.0M350.5 333.5h1.0M338.5 329.5h1.0M335 330h1.0M362.5 327h1.0M347.5 327.5h1.0M353 331.5h1.0M320 334h1.0M367 329h1.0M341 334h1.0M311 333h1.0M322.5 329.5h1.0M363 329.5h1.0M349.5 338.5h1.0M339.5 329.5h1.0M326.5 332.5h1.0M332.5 324.5h1.0M339 327h1.0M354.5 326h1.0M359 331.5h1.0M309 325h1.0M353.5 330h1.0M353 321.5h1.0M369.5 332.5h1.0M336 331h1.0M353.5 328.5h1.0M377 331h1.0M338 324.5h1.0M319 339.5h1.0M354 327.5h1.0M317.5 334.5h1.0M309.5 328h1.0M326 335.5h1.0M326 328h1.0M379 337h1.0M377 330.5h1.0M336.5 320.5h1.0M383 329.5h1.0M335.5 327.5h1.0M347.5 334h1.0M314 325h1.0M381 329h1.0M359 337h1.0M360.5 333h1.0M370.5 333h1.0M350 336.5h1.0M339 328h1.0M334.5 327.5h1.0M320.5 330.5h1.0M329.5 335h1.0M332.5 330.5h1.0M383.5 322.5h1.0M313.5 332h1.0M361.5 335h1.0M332 331h1.0M350 333.5h1.0M340.5 334h1.0M366 331h1.0M339.5 330h1.0M360 332.5h1.0M358.5 331h1.0M367 331h1.0M378 329.5h1.0M310.5 328.5h1.0M362.5 330h1.0M315.5 331.5h1.0M345.5 334.5h1.0M378 332.5h1.0M363.5 334.5h1.0M381 329.5h1.0M333.5 327.5h1.0M355.5 332.5h1.0M367.5 331.5h1.0M381.5 327h1.0M311.5 334h1.0M306.5 329.5h1.0M372.5 325h1.0M341.5 336.5h1.0M326 331.5h1.0M316 335h1.0M352.5 329.5h1.0M340.5 322.5h1.0M379 334.5h1.0M370 324.5h1.0M317.5 341h1.0M365 330h1.0M366.5 323h1.0M358 328h1.0M353.5 327h1.0M374 328h1.0M358 325h1.0M373.5 324.5h1.0M317.5 331.5h1.0M349.5 323h1.0M345.5 329.5h1.0M342 333h1.0M341 335h1.0M332.5 331.5h1.0M380 336h1.0M359 324.5h1.0M351 338.5h1.0M371 324h1.0M362 340h1.0M362.5 331.5h1.0M383.5 331h1.0M377.5 335.5h1.0M317 329h1.0M348.5 323.5h1.0M370 332.5h1.0M380.5 335h1.0M367 330h1.0M311 332h1.0M361.5 333h1.0M377 332.5h1.0M336 324h1.0M361 335h1.0M349 330.5h1.0M333.5 326.5h1.0M337.5 336.5h1.0M326 329.5h1.0M382.5 333.5h1.0M328 330.5h1.0M354.5 329.5h1.0M383.5 328h1.0M364.5 331.5h1.0M309 326h1.0M331.5 335h1.0M331.5 330.5h1.0M379 331.5h1.0M307 329h1.0M315.5 327.5h1.0M341.5 332h1.0M376.5 334.5h1.0M350 326h1.0M361.5 326.5h1.0M319.5 336.5h1.0M348 328h1.0M328 338h1.0M333.5 334h1.0M346.5 330.5h1.0M320 330.5h1.0M376 325h1.0M351.5 333h1.0M326.5 333h1.0M364 324h1.0M357.5 336h1.0M372 328.5h1.0M313.5 319.5h1.0M380.5 335.5h1.0M362 332h1.0M344.5 329.5h1.0M362 330h1.0M334.5 329h1.0M379.5 330h1.0M362 327.5h1.0M336.5 331.5h1.0M348 325h1.0M348.5 328h1.0M345.5 334h1.0M372.5 330.5h1.0M371 328.5h1.0M337.5 325.5h1.0M364 328.5h1.0M363 330.5h1.0M316.5 331h1.0M341.5 330h1.0M329.5 333h1.0M362.5 327.5h1.0M340 330.5h1.0M319 325h1.0M355 330.5h1.0M363 333.5h1.0M314 326h1.0M327.5 328h1.0M312 333.5h1.0M365.5 335h1.0M355.5 335h1.0M306.5 331.5h1.0M341.5 328.5h1.0M306 332h1.0M308 331.5h1.0M376.5 331h1.0M354 327h1.0M380.5 328h1.0M346 321h1.0M355 332h1.0M333.5 331.5h1.0M379.5 327h1.0M348.5 334h1.0M354.5 330.5h1.0M361.5 331.5h1.0M354.5 333h1.0M306.5 333h1.0M313 332.5h1.0M309 328.5h1.0M349.5 325h1.0M384 330h1.0M377.5 333h1.0M357.5 329.5h1.0M351.5 326h1.0M364 335h1.0M318 329.5h1.0M351.5 329.5h1.0M375.5 329.5h1.0M336 330.5h1.0M317.5 328.5h1.0M355.5 333h1.0M319.5 326h1.0M317.5 327.5h1.0M358.5 330h1.0M309 331h1.0M363.5 326.5h1.0M356 329.5h1.0M371 333.5h1.0M368 332h1.0M357 327.5h1.0M350 324.5h1.0M373 335.5h1.0M340 328.5h1.0M348.5 329h1.0M353 326h1.0M383 326h1.0M350.5 331h1.0M382 329.5h1.0M360.5 323.5h1.0M334 327.5h1.0M369.5 330h1.0M380 328.5h1.0M313 332h1.0M359 326h1.0M341 335.5h1.0M353.5 333.5h1.0M354 324h1.0M359 328h1.0M358.5 328h1.0M353 332.5h1.0M382.5 336.5h1.0M364 330h1.0M378.5 335h1.0M377.5 329.5h1.0M321.5 330h1.0M372.5 329h1.0M375 335h1.0M342.5 324h1.0M362 328.5h1.0M335 328.5h1.0M360.5 327h1.0M368.5 327h1.0M368 324.5h1.0M310.5 331h1.0M307.5 335h1.0M368.5 329h1.0M324 326.5h1.0M340 325.5h1.0M313.5 328h1.0M356 329h1.0M321.5 320.5h1.0M308.5 332h1.0M377 327h1.0M372.5 322.5h1.0M342 327.5h1.0M346 330h1.0M370 329.5h1.0M343.5 332h1.0M319.5 330.5h1.0M345.5 330.5h1.0M323 329.5h1.0M380 332.5h1.0M313.5 336h1.0M351.5 328h1.0M348.5 333h1.0M380 329.5h1.0M379 324h1.0M372.5 331.5h1.0M355 328h1.0M344 328.5h1.0M375.5 323.5h1.0M367.5 322h1.0M346.5 325.5h1.0M311.5 328h1.0M382 332h1.0M365 322.5h1.0M328.5 330.5h1.0M327.5 329.5h1.0M323 331h1.0M338.5 328h1.0M367 336h1.0M372 327.5h1.0M377.5 323h1.0M358 327.5h1.0M327.5 327h1.0M306.5 332h1.0M371.5 330.5h1.0M372.5 328.5h1.0M308 328h1.0M332 327h1.0M371.5 335h1.0M361 327h1.0M346.5 334h1.0M364.5 332h1.0M368 331.5h1.0M380 334h1.0M363 331h1.0M344 332.5h1.0M309.5 329.5h1.0M327 324.5h1.0M361 328h1.0M352 326h1.0M376 331.5h1.0M349.5 327h1.0M358.5 329.5h1.0M328.5 327.5h1.0M354.5 323h1.0M346 327.5h1.0M379.5 324h1.0M362 325.5h1.0M352.5 331.5h1.0M332 330h1.0M337.5 324.5h1.0M343.5 339.5h1.0M366 327h1.0M380.5 326.5h1.0M326.5 335h1.0M344 337.5h1.0M357 331h1.0M367 331.5h1.0M377.5 329h1.0M373 331h1.0M346 334.5h1.0M353 329.5h1.0M363.5 329h1.0M313.5 329h1.0M322 326h1.0M315.5 327h1.0M375.5 332h1.0M364 330.5h1.0M353 330h1.0M322 329h1.0M351.5 323.5h1.0M346 328.5h1.0M366 326h1.0M311 323.5h1.0M332.5 334h1.0M321.5 331.5h1.0M315 331.5h1.0M320.5 329.5h1.0M374.5 327.5h1.0M336 332h1.0M379.5 329.5h1.0M372 326.5h1.0M338.5 335h1.0M345.5 335h1.0M357.5 333.5h1.0M321 329.5h1.0M353.5 331h1.0M379.5 333.5h1.0M383.5 332h1.0M332 333.5h1.0M360.5 332h1.0M371.5 329h1.0M364.5 326.5h1.0M369.5 331h1.0M352 333h1.0M374 326h1.0M364 331h1.0M379.5 331h1.0M370.5 332h1.0M357 328h1.0M356 332.5h1.0M308.5 330.5h1.0M360 336h1.0M315 328h1.0M320 332h1.0M335.5 327h1.0M322 331.5h1.0M311.5 331.5h1.0M380 327.5h1.0M310 332.5h1.0M350.5 327h1.0M308.5 331h1.0M347 323h1.0M366 332.5h1.0M322 324h1.0M361.5 330.5h1.0M323.5 328.5h1.0M335.5 326.5h1.0M333 328.5h1.0M375.5 326h1.0M337.5 331h1.0M338.5 325.5h1.0M324 328.5h1.0M379 335.5h1.0M329.5 334h1.0M369 329.5h1.0M313.5 334h1.0M375 323h1.0M348.5 336h1.0M367.5 333h1.0M343 335.5h1.0M367 337h1.0M323 332.5h1.0M373 334.5h1.0M363 326h1.0M372.5 330h1.0M383 335h1.0M367.5 328.5h1.0M357 335h1.0M365.5 329h1.0M330 329h1.0M333.5 336h1.0M330 330h1.0M340.5 326h1.0M370.5 330h1.0M328 330h1.0M330.5 327h1.0M372 330h1.0M323.5 323.5h1.0M371.5 324h1.0M331.5 334.5h1.0M373.5 333.5h1.0M348.5 330.5h1.0M374 335.5h1.0M375.5 327h1.0M309.5 332h1.0M361.5 323h1.0M371 333h1.0M317 324h1.0M367.5 330h1.0M383 332.5h1.0M352 334.5h1.0M381 330.5h1.0M353 327h1.0M355 323.5h1.0M316.5 321h1.0M377.5 327.5h1.0M370 338h1.0M340 326.5h1.0M306.5 334h1.0M325.5 328.5h1.0M372.5 337.5h1.0M370.5 326.5h1.0M360 332h1.0M378 328.5h1.0M309.5 325h1.0M343.5 333.5h1.0M309 333h1.0M343.5 335h1.0M347.5 329.5h1.0M325 326.5h1.0M333.5 328h1.0M334 325h1.0M344.5 332h1.0M336.5 334h1.0M342.5 331h1.0M369 326h1.0M359.5 332h1.0M329 328.5h1.0M331 332h1.0M362 337h1.0M358.5 335h1.0M308.5 333h1.0M367 332h1.0M308 314.5h1.0M349.5 331.5h1.0M330.5 334h1.0M354 323.5h1.0M317.5 323.5h1.0M355 332.5h1.0M341 328.5h1.0M314.5 327h1.0M366.5 331h1.0M345 333h1.0M362 324h1.0M345.5 333.5h1.0M321.5 330.5h1.0M378.5 330.5h1.0M314 323h1.0M359.5 336h1.0M348.5 332h1.0M375.5 331.5h1.0M340.5 334.5h1.0M378 334h1.0M372.5 331h1.0M371.5 325.5h1.0M380.5 333.5h1.0M339.5 327.5h1.0M328.5 338.5h1.0M353 324.5h1.0M351 334.5h1.0M360.5 330h1.0M361.5 326h1.0M364.5 325.5h1.0M345 332h1.0M334 328h1.0M321 327.5h1.0M334.5 334h1.0M349.5 332h1.0M317 332h1.0M376.5 331.5h1.0M373 330.5h1.0M359.5 328h1.0M369.5 327.5h1.0M308 329.5h1.0M317 320h1.0M371 335h1.0M373.5 332h1.0M343 332.5h1.0M308.5 325.5h1.0M307.5 327h1.0M329.5 330.5h1.0M335 330.5h1.0M312.5 336.5h1.0M334 332h1.0M352.5 323.5h1.0M309.5 328.5h1.0M376.5 332.5h1.0M373.5 333h1.0M326.5 336h1.0M376 333.5h1.0M375 328.5h1.0M316 332.5h1.0M350 331h1.0M363.5 327.5h1.0M379.5 329h1.0M315.5 331h1.0M381 336h1.0M373.5 339.5h1.0M369 330.5h1.0M360 338h1.0M363 328h1.0M312 331h1.0M365.5 328.5h1.0M376 342h1.0M369 337h1.0M372.5 333.5h1.0M343 333.5h1.0M359 330.5h1.0M368.5 331.5h1.0M307 329.5h1.0M331.5 329h1.0M326.5 339.5h1.0M327.5 321.5h1.0M368 327.5h1.0M364 327.5h1.0M377 329.5h1.0M334.5 327h1.0M369.5 329.5h1.0M361 331.5h1.0M360 336.5h1.0M328.5 335h1.0M336 339.5h1.0M335 328h1.0M356.5 331.5h1.0M314.5 336h1.0M343.5 325.5h1.0M338.5 337h1.0M360 333.5h1.0M347.5 324h1.0M323 339.5h1.0M379 329h1.0M382.5 332.5h1.0M365.5 332.5h1.0M364.5 332.5h1.0M378.5 335.5h1.0M357.5 332h1.0M370 330.5h1.0M364.5 327h1.0M324 334h1.0M329 332.5h1.0M364.5 329.5h1.0M338.5 332h1.0M363.5 331.5h1.0M356 334h1.0M314.5 335h1.0M351 330h1.0M320.5 335.5h1.0M314.5 325h1.0M380.5 332.5h1.0M368.5 328.5h1.0M377 329h1.0M316 327h1.0M357.5 337.5h1.0M343 333h1.0M318 326h1.0M382 329h1.0M365 323h1.0M334.5 331.5h1.0M315 329.5h1.0M316 332h1.0M341.5 335.5h1.0M353 323h1.0M361.5 329.5h1.0M351.5 330h1.0M332.5 321.5h1.0M326.5 328h1.0M307 327.5h1.0M311 328h1.0M372 333h1.0M371 322h1.0M322.5 332h1.0M356 325.5h1.0M369 323h1.0M380.5 327h1.0M368 330h1.0M351.5 325.5h1.0M338 333h1.0M340.5 335.5h1.0M374 334.5h1.0M355.5 334.5h1.0M315 334h1.0M371 329.5h1.0M323.5 334h1.0M375 329h1.0M336.5 329.5h1.0M372 328h1.0M367 328h1.0M338 328.5h1.0M331 335h1.0M377.5 327h1.0M334.5 325h1.0M364 333.5h1.0M383 338h1.0M345 327h1.0M347.5 333h1.0M323.5 326h1.0M345.5 331.5h1.0M358 329.5h1.0M329 328h1.0M350 337.5h1.0M330 333h1.0M365 333h1.0M347.5 334.5h1.0M330 332.5h1.0M376 324.5h1.0M340 329h1.0M327 338.5h1.0M361 330.5h1.0M342 333.5h1.0M378 335h1.0M325 329.5h1.0M311.5 334.5h1.0M328 336.5h1.0M325.5 330h1.0M367 324.5h1.0M323.5 329.5h1.0M311.5 329h1.0M366 325h1.0M335 323h1.0M320 324h1.0M321 337h1.0M339 328.5h1.0M367 321h1.0M361.5 335.5h1.0M376.5 337.5h1.0M331 338h1.0M359.5 334h1.0M334.5 335.5h1.0M377.5 331h1.0M321 336.5h1.0M360 329.5h1.0M357 336h1.0M345 324h1.0M343.5 330.5h1.0M349 329h1.0M376 329.5h1.0M322 329.5h1.0M320 327.5h1.0M381 334h1.0M316.5 330h1.0M365.5 331h1.0M342 334h1.0M379 333h1.0M342 325.5h1.0M358.5 326h1.0M335 333h1.0M366.5 328.5h1.0M384 325h1.0M380.5 325.5h1.0M329 331h1.0M354.5 326.5h1.0M314.5 331.5h1.0M382.5 328h1.0M366 330h1.0M353 329h1.0M381.5 333.5h1.0M375 335.5h1.0M311 324h1.0M322.5 336h1.0M344 326.5h1.0M375 328h1.0M347 333.5h1.0M319.5 325h1.0M372 329h1.0M372.5 327.5h1.0M320.5 328.5h1.0M362 329.5h1.0M366 335.5h1.0M376.5 328.5h1.0M318.5 328.5h1.0M316.5 327.5h1.0M357 337.5h1.0M309 327.5h1.0M347 335.5h1.0M359 332h1.0M329 333.5h1.0M379 331h1.0M306.5 335.5h1.0M373 329.5h1.0M312.5 333.5h1.0M314.5 327.5h1.0M310.5 326h1.0M355.5 327h1.0M367.5 338h1.0M379.5 325h1.0M342 332h1.0M382.5 326.5h1.0M369 327h1.0M316.5 323h1.0M375 332h1.0M342 329.5h1.0M351.5 335h1.0M316 333.5h1.0M319 331.5h1.0M324.5 324h1.0M322.5 334h1.0M337 323h1.0M320.5 341h1.0M366.5 327.5h1.0M359.5 336.5h1.0M357.5 333h1.0M356.5 327.5h1.0M320.5 331.5h1.0M379 338.5h1.0M362.5 322h1.0M376 328.5h1.0M317 335.5h1.0M327 335h1.0M319.5 329h1.0M343 330h1.0M321 334.5h1.0M317 334h1.0M325.5 334.5h1.0M372 335.5h1.0M365 331h1.0M366 331.5h1.0M332.5 332h1.0M310.5 327.5h1.0M327 332.5h1.0M366.5 329h1.0M347.5 331.5h1.0M311.5 332.5h1.0M343.5 333h1.0M375 330.5h1.0M342.5 333.5h1.0M308.5 334h1.0M345 333.5h1.0M340.5 331.5h1.0M319.5 333.5h1.0M325 338h1.0M314.5 328.5h1.0M365.5 333h1.0M335.5 329h1.0M360 326.5h1.0M379 330h1.0M380 331.5h1.0M367 326h1.0M342 337h1.0M338 332.5h1.0M336 327.5h1.0M381.5 335h1.0M345.5 332h1.0M354.5 331.5h1.0M377.5 323.5h1.0M355 321.5h1.0M307 328.5h1.0M339 332h1.0M352 332.5h1.0M361.5 328h1.0M369.5 334.5h1.0M320 336.5h1.0M357 334.5h1.0M360 328h1.0M344.5 331.5h1.0M358 332.5h1.0M335.5 335.5h1.0M332.5 337.5h1.0M331 326.5h1.0M376 334h1.0M346 333.5h1.0M320.5 333h1.0M320 325h1.0M383 326.5h1.0M372 331h1.0M333 331h1.0M319.5 328.5h1.0M365 332.5h1.0M351.5 329h1.0M368 338h1.0M373 326h1.0M367.5 335.5h1.0M372.5 336.5h1.0M334 330h1.0M340 338.5h1.0M379.5 328h1.0M314.5 329.5h1.0M329.5 325h1.0M348 332.5h1.0M358 327h1.0M328.5 327h1.0M316 328.5h1.0M346.5 328.5h1.0M342.5 330.5h1.0M381.5 320h1.0M314.5 332h1.0M344.5 327.5h1.0M360 329h1.0M308 335.5h1.0M376.5 329h1.0M331.5 334h1.0M322.5 327.5h1.0M333.5 333.5h1.0M318.5 322.5h1.0M364 333h1.0M369.5 335.5h1.0M379.5 330.5h1.0M314 334h1.0M383 333h1.0M325 334.5h1.0M383 329h1.0M335.5 333.5h1.0M341 329.5h1.0M337 327h1.0M311 329h1.0M322.5 332.5h1.0M345 335h1.0M316.5 329h1.0M310 331.5h1.0M355 329.5h1.0M372.5 335h1.0M346.5 320.5h1.0M374 323h1.0M374.5 326.5h1.0M323 335.5h1.0M346 322h1.0M328 332h1.0M364 324.5h1.0M379.5 338h1.0M338 330.5h1.0M338.5 333h1.0M375.5 325h1.0M363.5 328h1.0M378 332h1.0M353.5 338h1.0M312.5 332.5h1.0M372.5 335.5h1.0M311.5 331h1.0M311 329.5h1.0M332 326h1.0M312.5 336h1.0M355.5 321h1.0M370.5 327.5h1.0M308 323h1.0M377 327.5h1.0M371 336h1.0M363.5 332.5h1.0M340.5 332h1.0M307 335.5h1.0M364.5 334.5h1.0M337.5 327.5h1.0M331.5 328.5h1.0M368 325.5h1.0M376.5 333.5h1.0M347 324h1.0M314 331h1.0M326 336.5h1.0M382.5 329h1.0M352 328h1.0M368.5 335h1.0M375.5 326.5h1.0M383 337h1.0M355.5 335.5h1.0M358.5 330.5h1.0M360 333h1.0M315 331h1.0M327 328.5h1.0M368.5 324h1.0M335 333.5h1.0M342.5 338h1.0M327.5 334h1.0M363.5 324h1.0M310.5 332.5h1.0M367.5 328h1.0M333.5 327h1.0M379.5 332h1.0M330.5 335.5h1.0M310 330.5h1.0M367.5 336.5h1.0M369.5 332h1.0M362 332.5h1.0M309.5 337.5h1.0M365.5 326h1.0M346 320h1.0M355 336.5h1.0M308 324h1.0M363.5 332h1.0M379 335h1.0M314 333.5h1.0M317 333.5h1.0M344 332h1.0M374.5 319.5h1.0M379.5 336h1.0M363 329h1.0M371 329h1.0M313.5 338.5h1.0M346 339h1.0M328.5 331.5h1.0M348.5 325.5h1.0M337 334h1.0M337 325.5h1.0M321.5 327h1.0M316.5 328h1.0M317.5 332.5h1.0M315 324.5h1.0M358.5 333h1.0M376.5 332h1.0M314.5 331h1.0M312 325.5h1.0M360.5 333.5h1.0M329.5 322h1.0M380.5 331h1.0M364 335.5h1.0M364.5 334h1.0M358 330h1.0M349 335h1.0M346 334h1.0M310.5 334h1.0M374.5 331h1.0M382 338.5h1.0M327 330.5h1.0M376.5 328h1.0M344.5 337h1.0M381.5 324h1.0M373 330h1.0M332.5 323h1.0M350 327.5h1.0M374.5 330h1.0M330 326h1.0M379 330.5h1.0M306.5 324.5h1.0M331 337.5h1.0M375.5 328h1.0M335 331.5h1.0M377.5 330h1.0M336.5 327h1.0M358 334h1.0M319 328.5h1.0M314 332.5h1.0M328 331.5h1.0M354.5 327h1.0M373 332h1.0M373 333h1.0M317 326.5h1.0M345 336h1.0M349.5 331h1.0M381.5 328h1.0M374.5 336.5h1.0M323 331.5h1.0M350 331.5h1.0M383.5 334.5h1.0M364.5 337.5h1.0M320.5 330h1.0M357.5 331.5h1.0M342.5 334.5h1.0M331.5 333h1.0M360 324h1.0M383 324h1.0M333 333.5h1.0M359.5 330.5h1.0M357 328.5h1.0M367 333h1.0M380 331h1.0M351 329.5h1.0M325.5 328h1.0M326.5 326.5h1.0M374.5 334h1.0M339 329.5h1.0M321.5 338h1.0M332.5 335.5h1.0M344.5 323.5h1.0M382 322h1.0M355 331h1.0M383 327.5h1.0M322 331h1.0M353.5 328h1.0M362.5 332h1.0M365 328.5h1.0M375 336.5h1.0M312.5 329h1.0M308 326.5h1.0M373.5 335.5h1.0M382.5 334.5h1.0M345.5 320.5h1.0M359 322h1.0M329 327.5h1.0M371.5 338h1.0M311 334.5h1.0M316 331.5h1.0M312.5 330.5h1.0M382.5 331h1.0M383.5 336.5h1.0M366 322h1.0M318 326.5h1.0M357.5 332.5h1.0M344.5 328h1.0M367 336.5h1.0M376.5 336h1.0M371 326.5h1.0M382.5 339h1.0M347 331.5h1.0M366 333h1.0M313.5 330h1.0M310.5 329h1.0M320.5 327h1.0M365.5 327.5h1.0M363.5 324.5h1.0M352 326.5h1.0M336 334.5h1.0M306.5 325h1.0M353 338h1.0M373.5 327h1.0M372 322.5h1.0M348 331h1.0M356 333h1.0M335.5 337h1.0M330.5 330h1.0M363 336.5h1.0M359 340.5h1.0M325.5 336h1.0M380 332h1.0M352.5 335.5h1.0M332.5 331h1.0M342.5 335h1.0M353 331h1.0M336.5 321.5h1.0M363.5 328.5h1.0M351.5 326.5h1.0M317.5 337.5h1.0M358 326.5h1.0M340 330h1.0M331 329.5h1.0M329.5 333.5h1.0M325.5 327.5h1.0M341 331h1.0M315.5 326h1.0M365.5 336.5h1.0M360.5 322.5h1.0M375 327.5h1.0M337.5 323.5h1.0M381 326.5h1.0M345.5 326h1.0M366.5 333h1.0M363 335.5h1.0M345.5 325h1.0M351 333h1.0M383 324.5h1.0M318.5 327h1.0M375.5 333.5h1.0M365 332h1.0M323.5 328h1.0M361 337.5h1.0M373.5 337.5h1.0M338.5 330.5h1.0M380 323.5h1.0M371.5 331h1.0M329.5 329h1.0M311.5 325.5h1.0M373 333.5h1.0M358 335h1.0M317.5 329.5h1.0M367 325h1.0M323.5 332.5h1.0M312.5 327h1.0M377.5 339.5h1.0M347.5 329h1.0M356.5 326h1.0M352 331.5h1.0M336.5 333.5h1.0M324.5 332.5h1.0M362.5 330.5h1.0M354 328h1.0M306.5 329h1.0M371 331.5h1.0M328 323.5h1.0M384 331h1.0M373.5 323h1.0M329.5 328h1.0M334.5 329.5h1.0M363 333h1.0M352 330h1.0M363.5 325.5h1.0M338 325h1.0M342 330h1.0M312 335h1.0M364 322h1.0M373.5 325h1.0M324 326h1.0M353.5 325h1.0M308.5 328h1.0M336 329.5h1.0M364.5 327.5h1.0M369 336.5h1.0M342 329h1.0M364.5 336h1.0M321 332.5h1.0M371.5 332.5h1.0M343.5 330h1.0M377.5 326h1.0M311 333.5h1.0M316.5 322h1.0M322 332h1.0M323 329h1.0M345 326.5h1.0M340 332h1.0M362.5 324h1.0M313.5 325.5h1.0M361 332.5h1.0M366.5 338.5h1.0M368.5 324.5h1.0M383.5 330h1.0M307 334h1.0M358 333h1.0M345 336.5h1.0M374.5 329h1.0M347 329h1.0M357.5 330.5h1.0M360.5 321h1.0M347.5 333.5h1.0M370 331h1.0M353.5 332.5h1.0M317.5 331h1.0M337 332.5h1.0M375.5 328.5h1.0M369.5 337.5h1.0M333 325.5h1.0M375 327h1.0M367 328.5h1.0M356.5 325.5h1.0M369 325.5h1.0M338 335h1.0M381 333.5h1.0M363 325.5h1.0M316.5 333.5h1.0M351 328h1.0M374 330h1.0M378.5 334h1.0M347 327h1.0M320 319h1.0M332 326.5h1.0M324 327.5h1.0M359 335h1.0M333 331.5h1.0M318 322h1.0M343.5 324.5h1.0M366 332h1.0M340.5 330.5h1.0M319 324.5h1.0M338.5 333.5h1.0M361.5 330h1.0M378 321h1.0M318 330.5h1.0M383 330.5h1.0M340 328h1.0M383 331.5h1.0M380.5 329h1.0M365 324h1.0M329 329h1.0M343.5 329h1.0M354 334.5h1.0M376.5 335h1.0M344.5 327h1.0M378 330.5h1.0M360 330.5h1.0M357.5 328.5h1.0M375 331.5h1.0M309.5 338h1.0M372.5 336h1.0M375.5 338.5h1.0M366.5 335.5h1.0M371 327h1.0M366 328.5h1.0M332.5 326h1.0M354 325.5h1.0M362.5 334.5h1.0M317 329.5h1.0M360 331.5h1.0M377.5 331.5h1.0M325 333.5h1.0M313 330.5h1.0M381 335.5h1.0M336 337.5h1.0M328.5 336.5h1.0M379.5 333h1.0M380 324.5h1.0M325 328.5h1.0M338.5 332.5h1.0M321.5 332.5h1.0M335 327.5h1.0M369 331h1.0M355 327.5h1.0M331 328.5h1.0M327.5 333h1.0M337.5 328.5h1.0M311.5 329.5h1.0M310 323.5h1.0M314.5 328h1.0M338 333.5h1.0M311 337.5h1.0M383 328.5h1.0M351 331h1.0M307 326.5h1.0M337 336.5h1.0M378 333h1.0M342.5 329.5h1.0M373.5 330.5h1.0M367 330.5h1.0M373 321h1.0M324 331h1.0M360.5 325.5h1.0M363.5 323h1.0M318 328h1.0M339 325h1.0M342.5 325.5h1.0M311.5 332h1.0M368.5 323.5h1.0M367.5 332.5h1.0M333.5 328.5h1.0M324.5 329h1.0M373.5 330h1.0M368.5 329.5h1.0M322.5 327h1.0M310.5 323h1.0M339 323.5h1.0M324 329.5h1.0M325 333h1.0M314 336.5h1.0M312 323h1.0M331 325.5h1.0M368 325h1.0M373.5 328h1.0M369 334h1.0M348 330.5h1.0M316 322.5h1.0M363.5 333h1.0M364.5 333h1.0M348.5 324.5h1.0M377.5 318.5h1.0M318 328.5h1.0M336 336h1.0M333 325h1.0M321.5 334h1.0M369 327.5h1.0M331 315.5h1.0M367.5 329h1.0M333 327h1.0M368 334.5h1.0M355.5 338h1.0M328.5 329.5h1.0M325 335.5h1.0M307 322.5h1.0M362 334h1.0M374 334h1.0M315 326h1.0M344.5 331h1.0M330.5 332.5h1.0M364 332.5h1.0M362.5 331h1.0M333 328h1.0M330.5 331h1.0M326.5 337h1.0M337.5 325h1.0M341.5 327.5h1.0M370 327h1.0M370.5 331h1.0M338.5 324.5h1.0M326 335h1.0M380.5 323.5h1.0M323 328.5h1.0M314 327.5h1.0M379.5 327.5h1.0M364 329h1.0M346 333h1.0M326.5 322.5h1.0M370.5 316.5h1.0M352 325h1.0M351 329h1.0M347 330h1.0M373.5 320h1.0M310 326h1.0M376 330.5h1.0M324.5 322.5h1.0M347 327.5h1.0M379.5 326h1.0M383 325h1.0M335.5 323.5h1.0M368.5 332.5h1.0M316 337.5h1.0M382.5 325.5h1.0M324.5 335.5h1.0M312.5 325.5h1.0M383 325.5h1.0M345 329.5h1.0M337 325h1.0M332 335h1.0M324.5 325h1.0M358 326h1.0M372 325.5h1.0M334 329h1.0M350.5 329h1.0M306.5 330h1.0M354.5 332h1.0M324.5 335h1.0M348.5 326h1.0M347 328h1.0M322 328.5h1.0M340.5 336h1.0M361.5 327h1.0M371 323h1.0M311 327.5h1.0M338 327h1.0M367.5 331h1.0M322.5 331h1.0M309 324.5h1.0M328.5 324h1.0M339 332.5h1.0M375.5 330h1.0M349 336.5h1.0M359.5 335h1.0M371 331h1.0M334 339h1.0M359 330h1.0M363 327h1.0M317 331.5h1.0M324 333.5h1.0M361 330h1.0M314 328.5h1.0M362 333.5h1.0M326.5 330h1.0M317.5 329h1.0M342.5 327h1.0M381.5 329.5h1.0M320.5 333.5h1.0M352 328.5h1.0M354.5 333.5h1.0M324.5 333.5h1.0M369.5 328.5h1.0M318.5 332.5h1.0M307.5 332h1.0M375 333h1.0M314 335h1.0M315.5 330.5h1.0M354 330.5h1.0M342 335.5h1.0M374.5 329.5h1.0M321.5 333.5h1.0M320.5 327.5h1.0M313 333h1.0M352.5 333h1.0M341 336.5h1.0M359.5 332.5h1.0M374 332h1.0M319.5 332h1.0M310 325.5h1.0M367 322.5h1.0M376 327.5h1.0M358 332h1.0M368 330.5h1.0M368.5 333.5h1.0M321 332h1.0M380.5 331.5h1.0M376 336.5h1.0M314 332h1.0M331.5 330h1.0M321.5 329h1.0M343 326.5h1.0M333.5 332.5h1.0M338 337h1.0M348 334.5h1.0M374 338.5h1.0M378.5 323h1.0M358.5 325h1.0M361.5 337.5h1.0M325 327.5h1.0M334.5 333.5h1.0M356 328h1.0M366.5 327h1.0M372.5 317h1.0M353 336h1.0M322.5 330h1.0M380.5 333h1.0M360.5 326h1.0M346 332h1.0M361 333h1.0M371 330.5h1.0M360.5 340h1.0M318 333.5h1.0M380 333h1.0M355 331.5h1.0M347 325h1.0M341 331.5h1.0M328.5 332h1.0M342 323.5h1.0M322.5 328.5h1.0M345 331h1.0M324 331.5h1.0M318 337.5h1.0M346 335h1.0M338.5 327.5h1.0M362 335h1.0M343.5 323h1.0M362.5 337.5h1.0M312 324h1.0M358 342h1.0M329 332h1.0M377 335.5h1.0M366 330.5h1.0M381 327.5h1.0M316 335.5h1.0M354.5 336h1.0M321 335.5h1.0M366.5 332h1.0M349.5 335h1.0M331.5 331h1.0M315.5 335h1.0M375 322.5h1.0M379.5 331.5h1.0M326 329h1.0M347 335h1.0M317 327h1.0M374.5 335h1.0M316 323h1.0M369.5 322h1.0M317 328.5h1.0M350.5 331.5h1.0M370.5 333.5h1.0M322.5 326.5h1.0M366 329h1.0M353 337.5h1.0M329.5 329.5h1.0M336 333h1.0M339 329h1.0M320 329h1.0M341.5 331h1.0M357 329.5h1.0M339.5 331h1.0M380.5 334h1.0M338.5 335.5h1.0M307.5 334h1.0M374 325.5h1.0M362 334.5h1.0M324 328h1.0M384 328.5h1.0M337.5 331.5h1.0M365.5 326.5h1.0M363 327.5h1.0M312.5 325h1.0M346 330.5h1.0M357.5 326.5h1.0M316.5 331.5h1.0M331.5 335.5h1.0M316.5 329.5h1.0M343.5 332.5h1.0M307.5 330.5h1.0M344.5 325.5h1.0M355 337h1.0M382.5 324h1.0M353.5 331.5h1.0M376.5 336.5h1.0M376 325.5h1.0M315 333.5h1.0M319 326.5h1.0M308 327.5h1.0M374 321.5h1.0M373 326.5h1.0M315.5 329.5h1.0M365.5 335.5h1.0M310 328.5h1.0M369.5 323h1.0M360.5 321.5h1.0M355.5 322.5h1.0M312.5 334h1.0M328.5 329h1.0M357 325h1.0M310 323h1.0M375 326.5h1.0M373 331.5h1.0M378 336.5h1.0M335 332.5h1.0M372.5 325.5h1.0M353 333h1.0M359.5 330h1.0M352.5 336.5h1.0M350 328.5h1.0M368.5 339h1.0M355.5 332h1.0M310 331h1.0M321 327h1.0M325.5 322.5h1.0M322 325.5h1.0M310 334.5h1.0M329.5 325.5h1.0M362.5 318.5h1.0M317.5 332h1.0M375 325.5h1.0M365 327h1.0M382.5 325h1.0M327.5 332h1.0M324.5 331.5h1.0M362 327h1.0M326.5 332h1.0M342 325h1.0M370 342h1.0M370.5 332.5h1.0M312.5 327.5h1.0M310.5 335.5h1.0M343.5 334h1.0M353 336.5h1.0M318.5 334h1.0M312 330h1.0M330 338.5h1.0M334 333h1.0M341 327h1.0M366.5 336h1.0M328 324.5h1.0M368 331h1.0M342.5 323h1.0M359.5 331h1.0M323 334.5h1.0M349.5 336h1.0M360.5 332.5h1.0M364 332h1.0M333.5 335h1.0M365.5 333.5h1.0M382.5 330.5h1.0M342 328h1.0M363 332.5h1.0M322.5 321h1.0M378.5 326.5h1.0M314 330.5h1.0M315 322.5h1.0M328 328h1.0M320 333h1.0M350.5 332h1.0M324.5 339h1.0M345.5 329h1.0M349.5 324.5h1.0M368 328h1.0M332.5 336h1.0M350.5 337.5h1.0M341.5 333h1.0M366.5 325h1.0M340 329.5h1.0M320 326.5h1.0M316 329h1.0M349.5 329.5h1.0M373 327.5h1.0M383.5 324.5h1.0M346 322.5h1.0M366 324h1.0M336.5 329h1.0M359 326.5h1.0M376 330h1.0M355 333h1.0M374 330.5h1.0M332.5 335h1.0M340.5 327h1.0M372 337h1.0M328.5 334.5h1.0M309.5 335h1.0M331.5 333.5h1.0M351 324.5h1.0M336.5 324h1.0M310.5 328h1.0M333 335h1.0M323.5 330h1.0M339 324h1.0M316.5 335h1.0M349.5 326h1.0M342.5 326h1.0M316.5 322.5h1.0M382 335.5h1.0M366.5 329.5h1.0M365.5 338h1.0M377.5 334.5h1.0M381.5 326h1.0M347.5 324.5h1.0M329 333h1.0M379.5 328.5h1.0M355 333.5h1.0M381.5 329h1.0M366 338.5h1.0M350 339.5h1.0M328.5 326h1.0M377 328h1.0M318.5 338.5h1.0M324.5 328h1.0M338 330h1.0M355.5 326.5h1.0M366.5 326.5h1.0M356 326h1.0M367 335.5h1.0M314 329.5h1.0M331 327.5h1.0M333.5 330h1.0M376 328h1.0M356.5 334.5h1.0M347.5 332.5h1.0M372.5 329.5h1.0M372.5 328h1.0M362.5 329.5h1.0M318.5 326.5h1.0M310.5 330.5h1.0M338 323h1.0M374 324h1.0M324 325.5h1.0M322 324.5h1.0M334.5 330.5h1.0M382.5 320h1.0M349.5 332.5h1.0M331 333h1.0M325 331.5h1.0M329.5 331h1.0M352.5 323h1.0M365 326h1.0M352 330.5h1.0M343 332h1.0M356 335.5h1.0M361 329.5h1.0M320 332.5h1.0M350.5 329.5h1.0M354 336h1.0M334 334.5h1.0M323 336.5h1.0M353.5 335.5h1.0M318.5 329h1.0M358.5 323.5h1.0M315 327.5h1.0M352.5 332.5h1.0M328.5 328h1.0M315 328.5h1.0M350.5 333h1.0M335.5 322h1.0M374.5 339.5h1.0M355.5 330h1.0M353 328.5h1.0M312.5 322h1.0M349 327.5h1.0M368.5 332h1.0M342 331.5h1.0M320 333.5h1.0M336.5 333h1.0M324.5 330h1.0M352.5 327h1.0M315.5 323.5h1.0M381.5 326.5h1.0M320.5 328h1.0M337 330.5h1.0M376.5 329.5h1.0M350 336h1.0M362.5 326.5h1.0M355 338h1.0M312 329.5h1.0M329.5 332h1.0M330.5 334.5h1.0M318 323h1.0M377 334h1.0M321.5 337.5h1.0M372.5 338.5h1.0M342 331h1.0M321.5 334.5h1.0M370.5 336.5h1.0M365 335.5h1.0M328.5 325.5h1.0M377 334.5h1.0M334.5 328h1.0M325 326h1.0M367.5 334.5h1.0M347.5 335.5h1.0M380 330.5h1.0M319.5 332.5h1.0M382.5 335.5h1.0M316 327.5h1.0M354.5 332.5h1.0M338.5 324h1.0M322.5 330.5h1.0M308 338h1.0M381 338h1.0M322.5 333.5h1.0M338 326.5h1.0M371.5 322h1.0M327.5 331h1.0M370 321.5h1.0M340 337h1.0M349 333h1.0M359 334.5h1.0M326 328.5h1.0M318.5 336.5h1.0M325 328h1.0M338 332h1.0M359.5 337.5h1.0M326 327h1.0M356.5 334h1.0M310 327.5h1.0M370 331.5h1.0M341 322h1.0M359 334h1.0M329 329.5h1.0M314.5 319h1.0M313.5 330.5h1.0M344 328h1.0M376 337h1.0M342.5 323.5h1.0M378 330h1.0M362.5 326h1.0M367 334.5h1.0M363.5 327h1.0M322 337h1.0M330 331h1.0M307 337.5h1.0M315 330h1.0M325.5 334h1.0M380.5 329.5h1.0M381.5 330.5h1.0M339.5 333.5h1.0M348 329h1.0M318 330h1.0M355 325.5h1.0M365.5 327h1.0M376.5 330h1.0M307.5 328h1.0M335 323.5h1.0M306 326h1.0M307 338h1.0M310 335.5h1.0M320 328.5h1.0M313 327.5h1.0M369 328.5h1.0M333 332.5h1.0M327 324h1.0M307.5 326h1.0M306.5 327h1.0M351 325.5h1.0M341 321h1.0M346.5 333.5h1.0M358.5 327h1.0M307.5 320.5h1.0M327 325.5h1.0M370 327.5h1.0M367.5 326h1.0M349.5 334h1.0M383.5 325.5h1.0M322.5 335h1.0M373 338h1.0M362 337.5h1.0M348 326.5h1.0M366 326.5h1.0M365.5 325.5h1.0M316 333h1.0M360.5 330.5h1.0M346.5 330h1.0M334.5 330h1.0M336 325.5h1.0M370.5 325.5h1.0M366.5 325.5h1.0M307 330.5h1.0M349 323h1.0M315.5 326.5h1.0M336 326.5h1.0M351.5 322.5h1.0M344.5 335h1.0M321.5 331h1.0M369 333.5h1.0M371.5 323.5h1.0M359.5 338h1.0M338 334.5h1.0M353.5 330.5h1.0M374 337.5h1.0M343 325h1.0M377.5 332h1.0M308 332h1.0M317.5 328h1.0M345.5 331h1.0M352.5 327.5h1.0M312.5 328h1.0M337 334.5h1.0M321 330h1.0M325.5 337.5h1.0M378 327h1.0M337.5 330h1.0M313.5 323h1.0M318 331.5h1.0M351.5 328.5h1.0M348 326h1.0M307.5 337.5h1.0M383.5 337h1.0M326 331h1.0M316 328h1.0M341 330h1.0M319 330.5h1.0M361.5 333.5h1.0M357 336.5h1.0M343.5 331h1.0M378.5 336h1.0M357.5 323.5h1.0M364.5 329h1.0M314.5 334h1.0M344.5 328.5h1.0M357.5 330h1.0M327.5 336h1.0M381 337h1.0M382 330.5h1.0M340 327.5h1.0M356 327h1.0M363 339.5h1.0M330 325.5h1.0M340.5 330h1.0M325.5 335h1.0M328 331h1.0M327.5 330h1.0M380.5 324h1.0M364 326h1.0M308.5 335h1.0M368 324h1.0M365.5 328h1.0M375.5 336.5h1.0M319 331h1.0M309 332.5h1.0M332 329h1.0M321.5 333h1.0M328.5 333h1.0M368 328.5h1.0M343 331h1.0M384 328h1.0M361.5 339h1.0M381.5 332.5h1.0M377 326.5h1.0M332.5 333.5h1.0M374.5 334.5h1.0M383.5 336h1.0M319.5 331h1.0M369.5 326h1.0M330.5 327.5h1.0M364.5 326h1.0M307.5 331h1.0M328.5 332.5h1.0M350 327h1.0M340 332.5h1.0M332.5 329.5h1.0M326 338h1.0M318 338.5h1.0M314 334.5h1.0M370.5 335h1.0M336.5 325h1.0M330 336h1.0M362 326h1.0M311 330h1.0M341 330.5h1.0M350 335h1.0M378.5 331h1.0M351 332h1.0M354.5 327.5h1.0M309.5 332.5h1.0M376.5 327.5h1.0M361.5 329h1.0M361 324h1.0M306 330h1.0M347 338h1.0M317 332.5h1.0M342 327h1.0M381.5 332h1.0M366.5 324h1.0M307.5 331.5h1.0M336 336.5h1.0M327 334h1.0M327.5 334.5h1.0M378.5 329.5h1.0M361 334.5h1.0M315 324h1.0M377 330h1.0M348.5 337h1.0M352 333.5h1.0M374.5 332h1.0M332.5 336.5h1.0M333.5 329.5h1.0M358.5 332.5h1.0M349.5 325.5h1.0M371 337h1.0M346 328h1.0M369 323.5h1.0M306 336.5h1.0M345 330h1.0M342.5 324.5h1.0M345 332.5h1.0M337 329h1.0M330.5 333h1.0M365 329.5h1.0M328 329.5h1.0M322.5 329h1.0M341.5 323.5h1.0M367 323.5h1.0M362.5 339h1.0M339.5 328.5h1.0M321 328.5h1.0M359.5 324.5h1.0M321 323.5h1.0M377 325h1.0M338.5 331h1.0M370.5 334.5h1.0M363.5 325h1.0M368 326h1.0M348 333.5h1.0M342.5 331.5h1.0M357.5 324.5h1.0M329.5 336h1.0M337.5 329h1.0M330 332h1.0M312 332.5h1.0M347 325.5h1.0M319 327h1.0M346 329.5h1.0M324.5 336h1.0M362.5 340h1.0M378.5 330h1.0M369.5 333.5h1.0M367.5 330.5h1.0M327 330h1.0M333.5 323h1.0M318.5 328h1.0M324.5 330.5h1.0M322 326.5h1.0M341.5 330.5h1.0M324 324h1.0M323.5 336h1.0M339.5 335h1.0M326.5 334h1.0M307 331.5h1.0M352.5 328.5h1.0M381 332.5h1.0M308 323.5h1.0M349.5 328.5h1.0M341.5 337h1.0M359.5 329.5h1.0M373 328h1.0M335 334.5h1.0M355 334h1.0M321.5 322.5h1.0M355 327h1.0M306 327h1.0M371 330h1.0M351.5 337h1.0M347.5 339.5h1.0M335.5 328h1.0M352.5 328h1.0M371.5 332h1.0M375.5 337.5h1.0M374 338h1.0M373.5 327.5h1.0M367.5 333.5h1.0M373 337h1.0M338.5 326h1.0M332.5 325h1.0M365 337h1.0M322 327h1.0M325.5 321h1.0M338 325.5h1.0M321 328h1.0M318.5 330.5h1.0M341.5 334h1.0M319 337.5h1.0M345 331.5h1.0M328.5 333.5h1.0M366.5 333.5h1.0M313.5 333h1.0M309 329.5h1.0M309 334h1.0M378 336h1.0M382.5 331.5h1.0M375.5 337h1.0M339 330h1.0M373 327h1.0M352.5 322h1.0M334 327h1.0M330.5 325h1.0M336.5 330h1.0M317.5 334h1.0M311 331.5h1.0M362.5 340.5h1.0M368 327h1.0M373.5 332.5h1.0M333 326.5h1.0M337 333.5h1.0M309 325.5h1.0M329 335.5h1.0M310 329.5h1.0M307 324.5h1.0M369.5 326.5h1.0M325.5 332h1.0M333.5 324.5h1.0M361 325.5h1.0M322 333h1.0M332.5 323.5h1.0M360 327h1.0M373.5 321.5h1.0M352 320h1.0M357.5 325h1.0M324.5 333h1.0M312 326h1.0M330 321h1.0M338 334h1.0M346.5 326h1.0M306 328.5h1.0M342.5 327.5h1.0M369.5 330.5h1.0M313 325h1.0M358.5 334.5h1.0M373.5 334.5h1.0M365 339.5h1.0M320 331.5h1.0M352.5 330.5h1.0M336 331.5h1.0M320 328h1.0M352 325.5h1.0M327.5 332.5h1.0M334 323h1.0M367 327h1.0M332.5 337h1.0M374 337h1.0M331.5 338h1.0M346.5 326.5h1.0M312 330.5h1.0M357.5 335.5h1.0M377 333h1.0M338.5 327h1.0M324 332h1.0M333 321.5h1.0M351.5 333.5h1.0M318 338h1.0M380.5 319.5h1.0M319 333h1.0M383.5 338h1.0M338.5 334h1.0M336 324.5h1.0M358 320h1.0M335.5 338h1.0M348 335.5h1.0M335 329.5h1.0M353 334h1.0M355.5 325.5h1.0M339.5 326h1.0M360.5 329.5h1.0M336 326h1.0M335.5 333h1.0M336.5 334.5h1.0M339 326h1.0M320.5 332h1.0M362 321.5h1.0M381 326h1.0M310 336h1.0M349.5 327.5h1.0M374.5 327h1.0M326 327.5h1.0M362.5 325h1.0M383.5 325h1.0M373.5 329h1.0M307.5 330h1.0M379.5 339.5h1.0M341 333.5h1.0M375.5 339.5h1.0M351 327h1.0M352.5 337.5h1.0M312.5 324h1.0M339 334h1.0M357 332.5h1.0M364 327h1.0M375.5 330.5h1.0M333 334.5h1.0M312 326.5h1.0M376 322.5h1.0M340 333.5h1.0M320.5 329h1.0M310.5 336.5h1.0M381.5 325.5h1.0M354 331h1.0M356 324h1.0M349 334h1.0M320.5 334.5h1.0M359.5 325h1.0M353.5 329.5h1.0M346.5 335.5h1.0M375 339h1.0M358 335.5h1.0M370 332h1.0M370 326.5h1.0M335 327h1.0M308 336.5h1.0M356.5 326.5h1.0M325.5 325h1.0M324.5 325.5h1.0M341.5 333.5h1.0M311 334h1.0M360 327.5h1.0M373 332.5h1.0M340.5 326.5h1.0M383.5 326h1.0M344.5 329h1.0M346.5 327.5h1.0M374 331.5h1.0M380.5 327.5h1.0M312 336.5h1.0M343.5 326h1.0M370.5 334h1.0M382 334.5h1.0M371.5 337.5h1.0M373 336.5h1.0M319 328h1.0M363.5 322.5h1.0M309 334.5h1.0M353.5 321h1.0M309.5 325.5h1.0M314.5 329h1.0M318.5 333.5h1.0M326 332.5h1.0M334.5 328.5h1.0M356.5 333.5h1.0M315.5 333.5h1.0M323.5 335h1.0M330.5 321h1.0M325 330.5h1.0M312 331.5h1.0M377.5 334h1.0M352.5 336h1.0M376 338.5h1.0M343 336h1.0M382 331.5h1.0M309.5 330.5h1.0M306.5 335h1.0M313 336.5h1.0M377.5 328.5h1.0M307 332.5h1.0M370.5 335.5h1.0M319 336h1.0M333.5 330.5h1.0M340.5 331h1.0M373 328.5h1.0M349 333.5h1.0M352.5 329h1.0M342 332.5h1.0M337.5 336h1.0M381.5 334h1.0M323 326.5h1.0M349 322h1.0M327.5 326h1.0" stroke="#000" stroke-width="1.0" fill="none"/>
<path d="M448.5 204h0.7M447 212.5h0.7M429.5 210.5h0.7M457 212.5h0.7M438 217h0.7M457 203h0.7M456.5 203.5h0.7M448.5 214.5h0.7M466 219.5h0.7M467.5 217.5h0.7M454.5 217.5h0.7M447 199h0.7M465 203.5h0.7M438 210.5h0.7M460.5 219h0.7M450.5 213h0.7M458 212h0.7M465 208h0.7M468 209.5h0.7M457.5 219.5h0.7M455 212h0.7M451 208.5h0.7M451.5 215.5h0.7M469 210h0.7M449 211.5h0.7M461 223.5h0.7M439.5 215h0.7M460.5 224h0.7M467 211h0.7M459 229.5h0.7M440.5 209.5h0.7M460.5 213h0.7M466 210.5h0.7M470 214.5h0.7M462 219h0.7M451.5 217h0.7M461 210.5h0.7M461.5 207.5h0.7M468.5 215h0.7M451 207.5h0.7M453 204.5h0.7M455.5 218h0.7M437.5 205.5h0.7M448 206.5h0.7M464.5 197h0.7M463.5 211.5h0.7M441.5 212h0.7M431 217h0.7M467 209.5h0.7M462.5 212h0.7M420.5 209.5h0.7M465 212h0.7M463 214.5h0.7M464 219h0.7M464.5 207h0.7M464 212.5h0.7M431 219h0.7M464.5 205.5h0.7M453.5 204.5h0.7M468 208h0.7M459.5 217h0.7M447 208.5h0.7M458 209.5h0.7M463 196h0.7M453 217h0.7M469 207h0.7M456.5 207h0.7M439.5 213h0.7M455.5 214h0.7M459.5 219.5h0.7M447.5 204.5h0.7M469.5 214h0.7M427 217h0.7M430.5 213h0.7M456 210h0.7M458 211.5h0.7M454.5 207.5h0.7M462 221h0.7M463 210.5h0.7M463 204h0.7M468 221h0.7M463.5 204h0.7M468.5 209h0.7M456.5 215.5h0.7M465.5 211h0.7M433.5 220h0.7M464.5 208.5h0.7M467.5 205h0.7M437 205h0.7M444.5 214.5h0.7M460 210.5h0.7M460 203.5h0.7M463 215h0.7M436 215.5h0.7M466.5 211.5h0.7M441 205.5h0.7M435 216h0.7M426.5 207h0.7M468.5 220.5h0.7M446.5 216.5h0.7M422.5 224h0.7M462 213h0.7M461 211.5h0.7M433.5 211.5h0.7M459.5 231.5h0.7M443.5 214h0.7M467 208.5h0.7M463.5 209h0.7M448.5 210h0.7M437 222h0.7M460 215h0.7M452 217.5h0.7M454.5 211.5h0.7M457.5 211h0.7M459 199.5h0.7M463.5 213h0.7M448.5 225h0.7M443 207h0.7M467.5 209.5h0.7M458 214.5h0.7M444.5 209.5h0.7M463 203.5h0.7M445 206.5h0.7M450 203.5h0.7M456 209h0.7M467.5 207h0.7M458.5 209.5h0.7M462 206.5h0.7M441.5 211.5h0.7M450 212.5h0.7M466.5 212.5h0.7M434.5 206.5h0.7M449.5 218h0.7M460 212.5h0.7M462 216h0.7M448 213h0.7M444 214.5h0.7M445 214h0.7M451 215.5h0.7M448 200.5h0.7M468 211.5h0.7M445.5 213.5h0.7M461.5 209.5h0.7M448.5 222h0.7M442.5 213h0.7M470 207h0.7M468 220.5h0.7M468 213.5h0.7M455 222.5h0.7M468.5 218.5h0.7M434 215.5h0.7M449.5 222h0.7M468 218.5h0.7M435 212.5h0.7M446.5 216h0.7M445 219h0.7M459.5 206.5h0.7M456.5 209h0.7M465.5 216h0.7M431.5 207h0.7M454 205.5h0.7M451 224h0.7M455.5 214.5h0.7M437 218.5h0.7M459.5 218.5h0.7M453.5 208h0.7M461.5 212h0.7M439 209h0.7M466 212.5h0.7M463.5 217h0.7M438.5 221.5h0.7M464 213h0.7M432 218h0.7M459.5 219h0.7M457 211h0.7M462 209h0.7M450.5 205h0.7M462.5 207h0.7M444 225h0.7M435.5 214.5h0.7M468 205h0.7M454.5 215.5h0.7M465 222h0.7M464 210h0.7M442 200h0.7M452 208h0.7M470 225.5h0.7M457 214.5h0.7M445.5 206h0.7M450.5 214h0.7M440 213h0.7M443 223h0.7M467.5 217h0.7M463.5 210.5h0.7M415 207h0.7M452.5 209h0.7M467 214.5h0.7M433.5 218.5h0.7M462.5 207.5h0.7M447.5 216h0.7M457.5 215h0.7M443.5 210h0.7M461.5 219.5h0.7M449 211h0.7M456.5 219h0.7M464 208.5h0.7M438 202.5h0.7M424.5 208h0.7M469 204h0.7M462 204.5h0.7M460 207.5h0.7M432.5 204.5h0.7M440.5 216h0.7M430 211.5h0.7M441 217h0.7M464.5 220h0.7M465.5 208h0.7M460 211.5h0.7M457.5 218.5h0.7M418.5 208.5h0.7M449.5 217.5h0.7M451.5 209.5h0.7M456 208h0.7M446.5 201.5h0.7M449.5 203.5h0.7M458.5 215.5h0.7M411.5 214.5h0.7M462 200h0.7M448 212h0.7M458.5 213h0.7M467.5 213.5h0.7M443 207.5h0.7M464.5 213.5h0.7M448.5 218h0.7M466 215h0.7M466 215.5h0.7M456 212.5h0.7M449 207h0.7M439.5 210.5h0.7M456.5 216.5h0.7M467.5 218h0.7M459.5 222h0.7M452.5 212.5h0.7M461.5 204h0.7M452 197h0.7M423.5 211.5h0.7M459 213.5h0.7M431 229h0.7M469 238.5h0.7M425 224.5h0.7M439.5 227.5h0.7M429 233.5h0.7M462.5 228.5h0.7M414 235h0.7M415 224h0.7M446 218h0.7M439 223.5h0.7M468 233.5h0.7M435.5 222.5h0.7M420.5 229.5h0.7M433 224h0.7M469 221.5h0.7M431 224h0.7M470 222h0.7M445 237h0.7M436.5 222h0.7M459 220h0.7M467 234.5h0.7M431 240.5h0.7M433.5 222.5h0.7M418.5 228.5h0.7M422 230.5h0.7M470 228h0.7M421 225.5h0.7M432.5 228h0.7M467.5 227.5h0.7M435.5 228.5h0.7M471.5 218h0.7M464 218h0.7M459 228h0.7M467.5 227h0.7M417 229.5h0.7M416 222.5h0.7M453 214h0.7M471.5 234.5h0.7M414.5 223h0.7M411 224.5h0.7M434 223.5h0.7M464.5 221h0.7M449 222.5h0.7M427.5 229h0.7M442.5 220h0.7M442.5 231.5h0.7M471 223h0.7M463 231h0.7M451.5 230h0.7M451.5 220h0.7M463 227h0.7M468.5 234.5h0.7M457.5 221h0.7M450.5 216h0.7M414 224.5h0.7M462.5 236.5h0.7M432 214h0.7M437 217.5h0.7M437.5 224.5h0.7M470.5 231h0.7M456.5 226h0.7M444 218.5h0.7M427 219h0.7M468.5 231h0.7M419 237h0.7M423 224.5h0.7M480.5 203h0.7M481 183h0.7M480 211.5h0.7M479.5 217h0.7M485 211h0.7M482.5 225h0.7M494 221h0.7M490 199.5h0.7M471 226h0.7M491 231.5h0.7M487 187.5h0.7M485 217.5h0.7M475.5 196.5h0.7M494 206h0.7M480 203.5h0.7M483.5 224h0.7M474.5 207.5h0.7M466.5 187h0.7M490.5 230.5h0.7M472 216.5h0.7M479 214h0.7M477.5 210.5h0.7M474 215.5h0.7M479 228.5h0.7M490.5 212.5h0.7M474 203h0.7M482.5 222h0.7M489.5 206.5h0.7M480.5 222.5h0.7M482.5 209.5h0.7M487 223h0.7M484.5 242.5h0.7M470 218.5h0.7M480.5 231h0.7M473.5 213h0.7M475 217h0.7M485 194.5h0.7M474.5 215h0.7M484 216h0.7M485.5 207h0.7M476 211h0.7M486.5 215.5h0.7M475 205h0.7M480 197.5h0.7M483.5 208.5h0.7M479 235h0.7M476 221.5h0.7M472.5 191h0.7M477.5 211h0.7M472 222h0.7M490 210h0.7M474.5 225h0.7M479 217.5h0.7M481.5 200.5h0.7M479.5 194.5h0.7M476.5 198.5h0.7M484.5 212.5h0.7M480.5 219.5h0.7M484.5 199.5h0.7M477.5 211.5h0.7M477.5 229h0.7M472.5 203.5h0.7M473 187h0.7M491 218h0.7M481.5 222h0.7M476 207h0.7M470 197h0.7M486.5 216h0.7M497.5 226.5h0.7M479 207.5h0.7M476.5 221h0.7M486.5 205h0.7M488 211.5h0.7M481.5 201h0.7M469 218.5h0.7M477 227h0.7M488 206h0.7M487.5 192h0.7M476.5 212h0.7M493 222h0.7M483 209h0.7M483.5 234.5h0.7M473.5 223.5h0.7M486 205h0.7M477.5 204.5h0.7M476.5 194.5h0.7M468.5 222h0.7M477.5 212h0.7M473 192.5h0.7M476 219.5h0.7M490.5 203h0.7M481.5 224h0.7M464.5 191.5h0.7M491.5 214h0.7M495.5 202h0.7M488.5 207.5h0.7M493.5 196.5h0.7M468.5 228h0.7M484.5 217h0.7M482.5 213h0.7M474 207.5h0.7M474 214.5h0.7M479 228h0.7M477 206.5h0.7M491 224.5h0.7M480 208.5h0.7M473.5 215h0.7M489.5 217.5h0.7M484.5 237h0.7M483.5 205.5h0.7M491 197.5h0.7M483 191.5h0.7M480 198.5h0.7M478.5 226h0.7M484.5 236.5h0.7M472.5 232h0.7M492 202h0.7M473.5 212h0.7M478 207.5h0.7M486.5 218h0.7M486 204.5h0.7M483 213.5h0.7M465.5 185.5h0.7M485.5 227.5h0.7M474 209h0.7M477.5 221.5h0.7M487 190h0.7M493 214.5h0.7M485 208.5h0.7M486.5 225h0.7M482 211.5h0.7M487.5 201.5h0.7M480 207.5h0.7M485 220.5h0.7M482.5 204h0.7M478.5 209.5h0.7M487 219h0.7M484.5 212h0.7M465 212.5h0.7M486 217.5h0.7M485 204.5h0.7M481 207h0.7M479.5 225.5h0.7M487.5 211h0.7M485.5 224h0.7M480 219h0.7M490 210.5h0.7M478.5 208.5h0.7M474.5 218.5h0.7M480.5 214.5h0.7M480 216.5h0.7M496 218.5h0.7M481.5 212.5h0.7M477 212h0.7M477 200h0.7M484.5 213h0.7M477 213.5h0.7M473 216h0.7M475 219h0.7M493 211h0.7M480.5 215.5h0.7M486.5 212.5h0.7M480.5 197h0.7M469.5 236h0.7M494.5 219h0.7M466 222h0.7M476.5 211.5h0.7M484 201h0.7M476 206.5h0.7M497 205.5h0.7M472.5 197.5h0.7M489 207.5h0.7M486 198.5h0.7M482.5 202h0.7M489.5 219.5h0.7M473.5 190h0.7M477 207h0.7M484.5 205h0.7M475.5 222.5h0.7M488.5 199.5h0.7M475 212h0.7M490 221h0.7M478 199.5h0.7M470.5 224h0.7M477.5 186.5h0.7M476 201h0.7M473.5 218.5h0.7M485.5 208.5h0.7M479.5 220h0.7M484 190.5h0.7M489.5 213.5h0.7M488.5 200.5h0.7M479 208h0.7M483.5 206h0.7M478.5 207h0.7M485 218h0.7M485 211.5h0.7M489.5 217h0.7M482.5 217h0.7M485 203.5h0.7M484.5 202.5h0.7M476.5 199.5h0.7M478.5 204.5h0.7M491 200.5h0.7M483 223h0.7M486 208.5h0.7M481 208h0.7M495 199h0.7M490.5 215.5h0.7M479 201.5h0.7M485 238.5h0.7M485 184.5h0.7M492 226.5h0.7M481 235.5h0.7M470.5 213h0.7M474 194h0.7M481.5 210.5h0.7M487.5 211.5h0.7M486.5 218.5h0.7M478.5 205.5h0.7M480.5 219h0.7M469 191.5h0.7M486.5 200.5h0.7M493 216.5h0.7M473.5 216h0.7M481.5 224.5h0.7M486 210.5h0.7M484.5 203.5h0.7M475.5 219h0.7M490 197.5h0.7M491.5 220h0.7M478.5 200h0.7" stroke="#000" stroke-width="0.7" stroke-opacity="0.5" fill="none"/>
<path d="M484.5 207.5h0.8M477.5 208.5h0.8M470.5 207h0.8M479.5 214.5h0.8M485.5 212h0.8M476.5 209h0.8M484.5 210.5h0.8M478.5 207.5h0.8M476 198h0.8M484 194.5h0.8M485.5 212.5h0.8M471 212h0.8M481.5 202h0.8M483 204h0.8M479.5 204.5h0.8M478.5 211.5h0.8M470.5 204h0.8M478.5 222h0.8M472.5 215.5h0.8M475 206h0.8M479 211h0.8M483.5 204h0.8M479 205h0.8M475 211h0.8M479.5 211.5h0.8M473 218h0.8M475 214h0.8M466.5 209.5h0.8M473 204h0.8M481.5 194h0.8M481.5 216.5h0.8M481 201h0.8M472.5 206h0.8M479.5 205h0.8M468 221h0.8M484 207h0.8M470 222h0.8M480 193.5h0.8M486 213.5h0.8M484.5 213h0.8M486 221.5h0.8M479 207h0.8M485 208h0.8M484 229h0.8M483.5 219.5h0.8M483 209h0.8M484.5 211h0.8M485 222h0.8M484.5 214.5h0.8M481.5 218h0.8M483 223.5h0.8M482 223h0.8M469.5 198h0.8M481 214h0.8M471 216h0.8M481 209.5h0.8M456.5 220h0.8M478.5 215.5h0.8M481 215h0.8M467.5 209h0.8M469 208.5h0.8M479.5 228h0.8M485 213h0.8M470.5 212h0.8M469.5 217.5h0.8M479 211.5h0.8M464 217h0.8M471 211h0.8M478.5 216.5h0.8M465.5 195.5h0.8M469.5 211h0.8M483 212.5h0.8M477 210.5h0.8M480.5 206h0.8M470.5 204.5h0.8M481 212.5h0.8M466.5 223.5h0.8M480 209.5h0.8M466 206h0.8M479 213h0.8M474 222.5h0.8M466.5 208.5h0.8M471 226h0.8M480.5 228.5h0.8M483 215.5h0.8M478 209h0.8M471.5 206.5h0.8M477 217.5h0.8M481.5 209.5h0.8M466 209.5h0.8M463 214h0.8M480 213h0.8M475 204h0.8M481.5 207h0.8M484 199h0.8M486 205.5h0.8M478 222h0.8M465 209h0.8M476 208.5h0.8M471 209h0.8M483.5 218.5h0.8M477 195h0.8M475 220.5h0.8M475.5 217.5h0.8M481 224.5h0.8M472 225h0.8M469 201.5h0.8M482.5 214h0.8M483 218h0.8M474 214h0.8M479.5 203h0.8M482.5 214.5h0.8M471 214.5h0.8M478 207.5h0.8M485 221h0.8M480 191h0.8M481.5 200.5h0.8M477 209h0.8M482.5 218.5h0.8M480.5 219h0.8M473.5 210h0.8M483 217h0.8M479 208.5h0.8M480 208h0.8M468 209h0.8M454 214.5h0.8M483.5 211h0.8M484.5 212h0.8M485 218.5h0.8M481 213h0.8M459.5 206h0.8M461 216.5h0.8M483.5 208h0.8M471.5 221h0.8M475.5 211.5h0.8M484 223.5h0.8M478 220.5h0.8M484 202.5h0.8M471 203.5h0.8M470.5 216.5h0.8M470.5 209h0.8M480 212h0.8M467 211h0.8M455.5 211.5h0.8M485.5 222h0.8M481 225.5h0.8M470 204.5h0.8M477.5 224.5h0.8M458.5 218.5h0.8M484.5 202.5h0.8M469.5 212h0.8M478.5 214.5h0.8M465.5 203.5h0.8M467.5 216.5h0.8M483 211.5h0.8M482.5 215.5h0.8M486 211.5h0.8M484 221.5h0.8M480 213.5h0.8M470.5 214h0.8M468 203.5h0.8M485.5 209h0.8M473 204.5h0.8M472.5 216h0.8M478.5 214h0.8M473 211h0.8M481.5 208h0.8M479 218.5h0.8M473.5 209.5h0.8M477.5 211.5h0.8M472 213h0.8M479.5 217.5h0.8M477 211h0.8M484.5 214h0.8M476 230.5h0.8M472 205h0.8M482.5 202.5h0.8M481 204.5h0.8M463 207.5h0.8M463 218h0.8M474.5 226.5h0.8M475 218h0.8M483 227.5h0.8M485.5 203.5h0.8M485 211h0.8M471.5 209h0.8M482 209h0.8M468.5 206h0.8M467.5 212.5h0.8M481 226h0.8M480 219h0.8M485.5 220.5h0.8M471.5 209.5h0.8M463 209.5h0.8M482 206.5h0.8M464.5 223h0.8M470.5 227h0.8M464.5 219h0.8M477 193.5h0.8M481 203h0.8M472 222.5h0.8M477 196.5h0.8M468.5 211h0.8M464.5 217.5h0.8M485 206.5h0.8M475 213h0.8M477.5 209.5h0.8M480 205.5h0.8M479 212.5h0.8M478 210.5h0.8M477 208.5h0.8M481 220h0.8M478.5 208.5h0.8M476.5 195.5h0.8M483.5 203h0.8M469 211.5h0.8M480.5 195.5h0.8M477.5 206.5h0.8M480.5 194.5h0.8M474.5 231h0.8M469.5 208h0.8M464.5 213.5h0.8M480 208.5h0.8M478.5 197h0.8M470.5 208.5h0.8M477.5 213h0.8M476.5 205.5h0.8M484.5 216h0.8M461.5 212.5h0.8M480 204h0.8M482 207.5h0.8M466.5 209h0.8M478.5 213h0.8M484.5 211.5h0.8M474.5 210h0.8M484 201h0.8M483.5 222.5h0.8M482.5 210.5h0.8M478.5 200.5h0.8M481.5 213.5h0.8M482 223.5h0.8M473 203h0.8M480.5 213h0.8M484.5 204.5h0.8M481 210.5h0.8M468.5 192h0.8M482 228.5h0.8M454.5 216.5h0.8M474 207h0.8M480.5 216.5h0.8M485.5 222.5h0.8M472 208.5h0.8M472 207h0.8M483 214.5h0.8M473 214h0.8M483 191.5h0.8M485 216h0.8M484.5 203h0.8M478 233.5h0.8M474 205h0.8M476.5 219h0.8M467 206.5h0.8M477.5 216h0.8M481.5 228h0.8M484.5 206.5h0.8M483.5 217.5h0.8M481.5 214h0.8M485.5 214.5h0.8M474 221.5h0.8M483.5 215.5h0.8M478 203.5h0.8M476.5 216.5h0.8M486 204.5h0.8M482 217h0.8M479 214.5h0.8M478 212h0.8M477.5 224h0.8M479 219.5h0.8M471.5 204h0.8M483 193h0.8M478.5 217h0.8M482 202h0.8M480 207h0.8M460 210h0.8M478.5 212.5h0.8M477 223h0.8M472.5 204.5h0.8M484 213h0.8M461.5 210.5h0.8M483.5 206.5h0.8M448.5 211h0.8M482.5 223h0.8M478 217h0.8M469.5 218h0.8M481.5 224.5h0.8M482 218.5h0.8M461 214h0.8M485.5 202h0.8M485 214.5h0.8M475.5 217h0.8M479 207.5h0.8M482.5 213.5h0.8M482.5 205.5h0.8M478.5 222.5h0.8M480.5 212h0.8M485.5 216.5h0.8M484 203.5h0.8M479.5 212.5h0.8M483.5 214h0.8M483 209.5h0.8M475 208h0.8M482.5 200.5h0.8M481.5 200h0.8M482 206h0.8M480 225.5h0.8M483.5 217h0.8M471 201.5h0.8M471 211.5h0.8M453.5 218.5h0.8M481 214.5h0.8M476.5 215.5h0.8M481.5 205.5h0.8M479 199h0.8M475.5 219.5h0.8M473 208h0.8M471.5 211h0.8M477.5 223h0.8M482 203h0.8M481.5 211.5h0.8M484 217h0.8M485.5 195h0.8M460 209h0.8M473.5 213h0.8M479.5 226.5h0.8M480 211.5h0.8M460.5 208.5h0.8M474.5 201.5h0.8M470 209.5h0.8M484.5 217h0.8M469 206h0.8M478 208h0.8M475 213.5h0.8M483 207.5h0.8M483 213.5h0.8M485 204.5h0.8M478 206.5h0.8M454.5 224.5h0.8M470 210.5h0.8M483.5 203.5h0.8M481 213.5h0.8M474 201h0.8M473 220h0.8M475 210.5h0.8M485.5 211h0.8M482.5 201h0.8M481.5 199.5h0.8M472.5 230.5h0.8M482.5 216h0.8M471.5 208.5h0.8M483 195.5h0.8M479.5 209h0.8M467 224h0.8M465.5 224h0.8M484.5 224.5h0.8M479.5 213.5h0.8M486 223h0.8M460 196.5h0.8M474.5 212h0.8M466.5 226.5h0.8M465.5 210h0.8M474.5 211h0.8M484.5 218h0.8M483 232h0.8M475.5 210.5h0.8M477.5 210h0.8M466 204h0.8M470 203h0.8M465.5 210.5h0.8M485.5 237h0.8M470.5 217h0.8M476.5 220h0.8M476 211h0.8M484.5 205.5h0.8M482 205h0.8M480.5 205h0.8M484.5 207h0.8M460.5 224h0.8M470 219h0.8M476.5 213.5h0.8M478.5 203.5h0.8M475 210h0.8M475 222.5h0.8M485.5 199h0.8M476 211.5h0.8M477 220.5h0.8M476 199h0.8M469.5 210h0.8M484 204h0.8M460 217h0.8M479 194h0.8M484 210h0.8M471 231h0.8M467 209.5h0.8M475 211.5h0.8M478 204h0.8M471 215h0.8M479.5 200.5h0.8M483.5 207.5h0.8M473.5 211.5h0.8M481.5 210.5h0.8M484.5 190.5h0.8M480 204.5h0.8M477.5 208h0.8M476.5 210.5h0.8M485.5 207h0.8M466 214h0.8M482 224.5h0.8M481 208.5h0.8M483.5 208.5h0.8M480 216h0.8M484 215.5h0.8M468 213.5h0.8M473.5 215.5h0.8M480.5 208h0.8M467 211.5h0.8M469.5 210.5h0.8M478.5 206.5h0.8M478 215h0.8M473 206.5h0.8M484 212h0.8M473 213.5h0.8M482.5 207h0.8M467.5 204h0.8M472.5 223.5h0.8M485 192.5h0.8M473 203.5h0.8M470.5 205.5h0.8M473.5 208.5h0.8M485 210.5h0.8M485 193.5h0.8M470 216.5h0.8M472 216.5h0.8M472.5 210h0.8M478.5 204h0.8M477.5 213.5h0.8M468 226h0.8M485 212.5h0.8M476 215h0.8M484 196.5h0.8M473 218.5h0.8M464 216.5h0.8M484 200h0.8M475 201.5h0.8M456.5 189h0.8M478.5 202.5h0.8M480 199h0.8M485 215.5h0.8M480.5 201.5h0.8M464.5 205.5h0.8M481.5 219.5h0.8M484.5 199h0.8M475 230.5h0.8M473.5 196.5h0.8M478.5 200h0.8M480.5 211.5h0.8M468 216.5h0.8M485.5 193h0.8M482 211.5h0.8M478 225h0.8M482.5 215h0.8M464 211h0.8M481 216.5h0.8M473.5 197h0.8M475 223h0.8M479 200.5h0.8M481 203.5h0.8M479 203h0.8M461 211h0.8M470.5 221h0.8M485 213.5h0.8M474 213h0.8M476.5 192.5h0.8M474 220h0.8M483.5 205h0.8M455.5 208h0.8M479.5 199h0.8M486 193h0.8M472.5 209.5h0.8M481.5 223.5h0.8M479.5 218.5h0.8M480.5 224.5h0.8M476 202h0.8M469 214h0.8M468.5 212.5h0.8M476 200.5h0.8M482.5 207.5h0.8M479 222h0.8M478 219h0.8M464 212.5h0.8M473.5 222h0.8M485.5 213h0.8M478.5 216h0.8M475.5 218h0.8M484.5 200.5h0.8M475 207.5h0.8M453.5 209.5h0.8M484 208h0.8M470.5 195.5h0.8M475 206.5h0.8M482.5 203h0.8M478.5 211h0.8M485.5 209.5h0.8M477 227h0.8M471 199.5h0.8M465.5 209h0.8M469 216h0.8M477.5 211h0.8M485.5 219h0.8M467 208.5h0.8M462 219h0.8M473.5 207.5h0.8M457.5 211.5h0.8M475 193.5h0.8M475 203h0.8M474 223.5h0.8M481 208h0.8M463.5 209h0.8M472.5 217h0.8M476 213.5h0.8M482 214.5h0.8M473.5 223h0.8M478 205h0.8M459.5 222.5h0.8M484.5 223.5h0.8M485.5 194.5h0.8M484.5 204h0.8M478.5 210.5h0.8M479 206.5h0.8M486 212h0.8M471.5 220h0.8M460.5 216h0.8M476.5 205h0.8M471 215.5h0.8M472 205.5h0.8M481 228h0.8M477.5 214h0.8M474.5 217.5h0.8M469.5 222.5h0.8M471 219.5h0.8M486 209h0.8M468.5 216h0.8M479 218h0.8M481 218h0.8M485 224.5h0.8M471.5 214.5h0.8M480 220.5h0.8M477 205.5h0.8M482 219h0.8M461.5 216.5h0.8M486 202.5h0.8M464 216h0.8M485 226.5h0.8M483 202.5h0.8M480 219.5h0.8M484 209.5h0.8M476.5 206h0.8M468.5 202.5h0.8M484.5 203.5h0.8M475.5 219h0.8M468.5 210.5h0.8M467 226.5h0.8M456 211h0.8M481 226.5h0.8M484 205h0.8M461 198.5h0.8M485.5 206.5h0.8M478.5 208h0.8M455 195h0.8M459 213h0.8M484 223h0.8M485 216.5h0.8M451.5 210.5h0.8M482 212h0.8M473.5 221.5h0.8M473.5 202h0.8M476 224.5h0.8M480 220h0.8M482.5 210h0.8M475 205h0.8M467.5 208h0.8M484 206h0.8M473.5 234.5h0.8M479 242h0.8M480.5 214.5h0.8M472 221.5h0.8M474 221h0.8M481.5 210h0.8M476 209h0.8M474 219.5h0.8M472.5 218h0.8M477.5 201.5h0.8M474 204.5h0.8M470.5 205h0.8M486 217h0.8M473 199h0.8M481 202.5h0.8M479.5 211h0.8M472.5 216.5h0.8M480.5 191.5h0.8M474.5 210.5h0.8M478.5 201h0.8M480 215h0.8M475.5 212h0.8M479 205.5h0.8M471 203h0.8M469 217.5h0.8M481 211.5h0.8M481.5 201h0.8M480 215.5h0.8M476.5 217.5h0.8M479.5 226h0.8M480.5 205.5h0.8M472.5 221.5h0.8M476 220.5h0.8M484 217.5h0.8M473 212.5h0.8M484.5 219h0.8M480.5 204h0.8M480.5 194h0.8M470.5 207.5h0.8M473 205h0.8M482.5 209h0.8M466 215.5h0.8M486 215h0.8M463.5 197h0.8M479.5 213h0.8M483.5 192.5h0.8M451 216.5h0.8M484 204.5h0.8M472 217h0.8M481 219h0.8M484.5 220.5h0.8M482.5 205h0.8M467 213h0.8M467.5 210.5h0.8M485 208.5h0.8M471 228h0.8M472.5 207.5h0.8M483 202h0.8M482 230h0.8M486 200.5h0.8M476.5 229h0.8M484 215h0.8M468 204.5h0.8M477 218h0.8M466.5 207h0.8M471 197.5h0.8M464 232.5h0.8M469.5 217h0.8M480 202h0.8M478 214h0.8M477 220h0.8M476.5 217h0.8M453.5 213.5h0.8M458.5 207.5h0.8M475 198h0.8M484.5 213.5h0.8M475.5 208.5h0.8M474 224.5h0.8M475.5 209.5h0.8M485 207h0.8M475 190h0.8M479 208h0.8M482.5 197.5h0.8M468.5 215.5h0.8M465 208.5h0.8M484.5 209h0.8M465.5 204h0.8M456 206.5h0.8M477.5 195.5h0.8M476 221.5h0.8M468.5 219.5h0.8M480.5 207.5h0.8M472 217.5h0.8M471.5 212h0.8M483.5 210.5h0.8M478 208.5h0.8M485.5 218h0.8M484.5 220h0.8M479.5 206h0.8M483 216.5h0.8M472.5 218.5h0.8M476 212.5h0.8M461.5 209.5h0.8M478 230h0.8M471 221.5h0.8M478.5 218h0.8M480.5 210.5h0.8M483 222h0.8M468.5 208.5h0.8M483.5 220.5h0.8M470 212.5h0.8M470 221h0.8M472 210.5h0.8M485 223h0.8M472.5 214.5h0.8M484.5 210h0.8M482 198h0.8M473.5 225h0.8M476.5 194.5h0.8M467.5 211.5h0.8M465 215.5h0.8M482.5 206.5h0.8M482.5 213h0.8M481.5 206.5h0.8M485 218h0.8M482.5 220.5h0.8M479 217.5h0.8M486 217.5h0.8M483 207h0.8M484 218.5h0.8M478.5 199.5h0.8M479.5 208.5h0.8M474 217.5h0.8M480.5 212.5h0.8M484.5 221.5h0.8M479.5 199.5h0.8M484.5 221h0.8M486 211h0.8M486 201.5h0.8M472.5 214h0.8M483.5 206h0.8M482.5 209.5h0.8M468.5 225h0.8M474 205.5h0.8M476.5 207h0.8M470.5 202.5h0.8M485.5 207.5h0.8M479.5 201.5h0.8M485.5 202.5h0.8M479.5 210h0.8M484.5 205h0.8M476.5 200.5h0.8M474 208h0.8M476 206.5h0.8M481.5 212h0.8M472.5 220.5h0.8M454.5 209.5h0.8M485.5 205.5h0.8M465.5 196.5h0.8M474 227h0.8M477.5 207h0.8M467.5 218.5h0.8M478.5 229h0.8M478 219.5h0.8M447 205h0.8M472.5 199.5h0.8M469.5 223h0.8M465 214h0.8M470 216h0.8M457 210h0.8M458.5 209h0.8M463.5 229h0.8M478.5 207h0.8M480 222h0.8M484 231.5h0.8M459.5 200.5h0.8M485 204h0.8M466 210.5h0.8M481.5 221.5h0.8M480 200.5h0.8M484 237h0.8M479.5 221h0.8M472.5 203.5h0.8M479 230h0.8M465.5 217h0.8M476 216.5h0.8M476.5 206.5h0.8M478 216.5h0.8M471.5 210h0.8M481.5 213h0.8M483 211h0.8M453 226.5h0.8M485.5 213.5h0.8M475 225h0.8M472 218.5h0.8M476 218.5h0.8M482.5 233h0.8M485 220h0.8M482 208h0.8M470 215h0.8M484 214h0.8M482.5 211.5h0.8M482.5 217h0.8M468.5 204h0.8M477 207.5h0.8M470 196.5h0.8M470 221.5h0.8M470.5 212.5h0.8M475.5 211h0.8M469.5 215h0.8M474 208.5h0.8M472.5 213h0.8M486 202h0.8M445 218.5h0.8M477 202.5h0.8M476 212h0.8M482 213.5h0.8M479 217h0.8M485.5 228h0.8M475.5 199h0.8M473.5 201.5h0.8M474 210.5h0.8M474.5 213h0.8M482.5 204h0.8M475.5 214.5h0.8M470 211h0.8M481 195.5h0.8M461.5 226h0.8M480.5 210h0.8M462 204h0.8M484.5 222.5h0.8M474.5 223.5h0.8M470.5 219.5h0.8M476.5 221.5h0.8M480 223.5h0.8M484.5 212.5h0.8M473.5 209h0.8M481.5 216h0.8M475 216h0.8M483 196.5h0.8M465.5 198h0.8M484 213.5h0.8M474 186h0.8M471.5 213.5h0.8M478.5 194.5h0.8M484.5 206h0.8M468 210.5h0.8M470 197.5h0.8M477.5 218h0.8M482.5 211h0.8M478.5 224h0.8M477.5 199h0.8M485 212h0.8M470 207h0.8M472 211.5h0.8M482.5 204.5h0.8M476 219.5h0.8M475 232h0.8M479 201.5h0.8M467.5 209.5h0.8M477.5 220h0.8M472.5 209h0.8M472.5 207h0.8M478 218h0.8M474.5 209h0.8M469.5 214.5h0.8M481 217.5h0.8M485 209h0.8M465 218.5h0.8M482 214h0.8M481.5 207.5h0.8M485.5 204h0.8M476 199.5h0.8M477 215h0.8M474.5 231.5h0.8M477 212.5h0.8M474 204h0.8M474 220.5h0.8M471.5 212.5h0.8M474.5 199h0.8M474.5 197.5h0.8M486 198.5h0.8M468.5 218h0.8M473.5 225.5h0.8M484 206.5h0.8M469 227h0.8M482.5 190h0.8M480 209h0.8M458 218h0.8M482.5 198.5h0.8M478 211h0.8M483 212h0.8M471 210h0.8M482 212.5h0.8M478.5 219h0.8M474.5 207h0.8M467 207.5h0.8M482 204.5h0.8M474.5 208h0.8M476 214.5h0.8M484.5 199.5h0.8M471.5 213h0.8M478 222.5h0.8M480.5 196.5h0.8M457 214.5h0.8M471 206h0.8M454.5 209h0.8M472.5 208.5h0.8M454 209h0.8M470 195h0.8M486 220h0.8M485.5 210h0.8M473.5 197.5h0.8M476 215.5h0.8M470.5 220.5h0.8M471.5 218h0.8M485 197.5h0.8M465.5 212h0.8M485 201.5h0.8M455.5 221h0.8M484 210.5h0.8M480 198.5h0.8M483.5 229.5h0.8M473.5 212h0.8M473 225.5h0.8M464 210.5h0.8M472.5 211h0.8M477 219h0.8M470 212h0.8M470.5 206.5h0.8M463 210h0.8M484.5 219.5h0.8M469.5 216h0.8M478 212.5h0.8M470.5 224.5h0.8M476.5 222h0.8M468.5 220.5h0.8M468 207.5h0.8M473 195.5h0.8M467 208h0.8M476.5 215h0.8M485 205.5h0.8M474 200h0.8M461 234h0.8M480 210h0.8M482.5 199.5h0.8M485 224h0.8M482 216h0.8M486 219h0.8M479.5 220.5h0.8M472.5 224h0.8M474.5 230h0.8M471.5 216h0.8M483.5 213.5h0.8M478.5 223.5h0.8M475 217h0.8M466 209h0.8M483 199.5h0.8M483 208h0.8M462.5 229h0.8M483 219.5h0.8M473 209h0.8M485.5 219.5h0.8M469 218h0.8M477 199h0.8M484.5 215h0.8M474.5 216h0.8M484 241.5h0.8M475 200.5h0.8M459.5 211.5h0.8M477.5 216.5h0.8M473.5 208h0.8M483.5 211.5h0.8M475 200h0.8M473 210.5h0.8M471 205.5h0.8M485.5 204.5h0.8M482.5 208.5h0.8M481 190h0.8M471.5 203h0.8M475 218.5h0.8M480 203.5h0.8M477.5 214.5h0.8M473 200.5h0.8M486 222.5h0.8M472.5 212.5h0.8M478 223.5h0.8M477 213.5h0.8M474 212h0.8M483.5 210h0.8M482.5 203.5h0.8M485 219.5h0.8M480 195h0.8M479.5 202.5h0.8M469 210h0.8M481.5 215.5h0.8M485.5 217h0.8M475.5 197.5h0.8M481 205h0.8M479.5 216.5h0.8M483.5 202.5h0.8M486 214h0.8M482 201.5h0.8M474 226h0.8M484 201.5h0.8M478 223h0.8M485.5 208.5h0.8M480.5 221h0.8M470 213.5h0.8M469.5 206.5h0.8M475.5 221.5h0.8M480.5 207h0.8M472.5 217.5h0.8M473.5 210.5h0.8M472 204.5h0.8M478.5 209.5h0.8M455 218h0.8M476 206h0.8M466 219.5h0.8M474 210h0.8M473.5 220.5h0.8M469 209h0.8M472 201h0.8M483 200h0.8M479 220.5h0.8M481.5 204h0.8M481 217h0.8M484 234.5h0.8M485.5 200h0.8M486 210h0.8M461 203h0.8M476.5 184.5h0.8M472 214.5h0.8M469.5 204h0.8M476 207h0.8M483.5 231.5h0.8M480 206.5h0.8M480 221.5h0.8M478 210h0.8M474.5 195h0.8M462.5 205.5h0.8M483.5 216.5h0.8M469 211h0.8M483.5 227h0.8M483 214h0.8M484 200.5h0.8M461.5 217.5h0.8M473.5 218.5h0.8M482 210.5h0.8M464.5 206.5h0.8M481 189.5h0.8M475.5 204h0.8M482.5 225.5h0.8M485.5 200.5h0.8M482 200h0.8M475.5 209h0.8M483 219h0.8M477.5 205h0.8M463.5 218h0.8M473 220.5h0.8M482 234.5h0.8M474.5 205.5h0.8M483 216h0.8M470.5 189.5h0.8M474 215h0.8M478 206h0.8M471.5 226.5h0.8M479.5 205.5h0.8M481.5 223h0.8M477.5 209h0.8M484 220.5h0.8M480.5 214h0.8M473 212h0.8M471 202.5h0.8M483 206.5h0.8M465 200.5h0.8M479.5 223.5h0.8M483.5 222h0.8M481 194h0.8M483 210.5h0.8M467.5 221.5h0.8M484.5 230.5h0.8M479 224h0.8M474.5 199.5h0.8M485 229.5h0.8M483 199h0.8M481 216h0.8M466.5 206.5h0.8M470.5 225h0.8M485 221.5h0.8M477 205h0.8M470.5 215h0.8M460.5 217h0.8M472 209.5h0.8M469 209.5h0.8M484 222h0.8M482.5 222.5h0.8M485 200.5h0.8M478.5 196.5h0.8M463.5 222h0.8M472 212h0.8M463 218.5h0.8M459.5 203h0.8M476.5 207.5h0.8M486 207h0.8M477 217h0.8M467 218h0.8M479.5 197.5h0.8M471.5 185.5h0.8M479.5 209.5h0.8M476 205.5h0.8M470.5 217.5h0.8M483.5 226h0.8M467 216h0.8M469 207h0.8M482.5 222h0.8M480.5 218.5h0.8M463.5 216h0.8M474.5 202.5h0.8M484 226h0.8M464 218h0.8M457 215.5h0.8M477.5 203h0.8M478.5 206h0.8M462.5 203.5h0.8M478 209.5h0.8M473 207.5h0.8M462.5 195h0.8M480 226h0.8M484 202h0.8M470 205h0.8M486 208.5h0.8M472 203h0.8M477.5 217h0.8M485 201h0.8M484.5 231h0.8M480.5 217h0.8M480.5 199h0.8M474.5 198.5h0.8M479.5 219.5h0.8M485 202h0.8M483.5 198.5h0.8M481.5 198h0.8M485 215h0.8M485 197h0.8M479 206h0.8M472 213.5h0.8M471 217h0.8M472 209h0.8M474.5 227.5h0.8M480.5 209.5h0.8M473 228h0.8M479.5 197h0.8M471 207h0.8M467.5 195h0.8M484 208.5h0.8M485.5 215.5h0.8M485.5 215h0.8M474 215.5h0.8M471 214h0.8M462 222.5h0.8M484.5 216.5h0.8M468.5 228h0.8M477.5 219.5h0.8M472 202h0.8M485.5 217.5h0.8M476.5 230h0.8M480.5 217.5h0.8M471.5 214h0.8M486 209.5h0.8M484.5 215.5h0.8M474 217h0.8M461.5 221.5h0.8M476.5 208h0.8M475.5 216.5h0.8M467.5 200.5h0.8M482.5 223.5h0.8M467.5 223.5h0.8M461 217h0.8M482 215.5h0.8M483 226.5h0.8M471.5 211.5h0.8M485.5 203h0.8M479.5 221.5h0.8M475 219h0.8M480.5 215h0.8M485 225.5h0.8M485 205h0.8M469.5 220h0.8M482 221.5h0.8M479 223h0.8M480.5 206.5h0.8M468 220h0.8M481 215.5h0.8M485.5 226.5h0.8M476 210h0.8M480 217.5h0.8M474 228h0.8M476 225.5h0.8M484.5 231.5h0.8M479.5 207.5h0.8M483 220.5h0.8M459.5 213h0.8M470.5 211.5h0.8M481.5 219h0.8M466.5 203h0.8M481 199.5h0.8M471.5 225.5h0.8M482 199.5h0.8M468 225h0.8M474.5 203.5h0.8M485 219h0.8M470 202h0.8M483.5 199.5h0.8M474 212.5h0.8M475 203.5h0.8M483.5 213h0.8M473.5 216h0.8M480 210.5h0.8M481 229h0.8M485 217h0.8M477.5 222.5h0.8M471 212.5h0.8M469 216.5h0.8M481 221.5h0.8M476 207.5h0.8M478.5 198h0.8M486 201h0.8M477 204h0.8M483.5 228.5h0.8M477.5 220.5h0.8M471 224h0.8M469.5 219.5h0.8M485 207.5h0.8M457 209h0.8M478 229h0.8M479 223.5h0.8M482 211h0.8M476.5 225.5h0.8M482.5 226h0.8M480 197.5h0.8M470.5 210h0.8M482 193.5h0.8M463.5 222.5h0.8M483.5 215h0.8M469 206.5h0.8M484 216h0.8M481.5 202.5h0.8M482.5 200h0.8M454.5 220.5h0.8M479.5 210.5h0.8M484.5 209.5h0.8M463.5 205h0.8M486 208h0.8M463.5 199.5h0.8M480.5 203h0.8M485.5 224.5h0.8M473.5 205.5h0.8M480 229.5h0.8M476.5 211.5h0.8M468 218.5h0.8M474.5 214h0.8M473 228.5h0.8M471.5 206h0.8M467.5 197h0.8M477 206h0.8M475.5 207.5h0.8M470 218.5h0.8M468.5 199.5h0.8M467.5 206.5h0.8M476.5 222.5h0.8M473 217.5h0.8M482 219.5h0.8M471 207.5h0.8M483.5 221.5h0.8M465.5 222h0.8M478.5 210h0.8M476 221h0.8M468.5 209h0.8M482.5 224h0.8M479 221h0.8M475.5 215h0.8M484.5 198h0.8M483 218.5h0.8M483 221.5h0.8M475.5 206.5h0.8M472 216h0.8M467.5 214h0.8M462 203h0.8M477.5 207.5h0.8M477 224h0.8M468.5 203h0.8M456 221.5h0.8M475.5 227h0.8M477.5 198.5h0.8M459 205.5h0.8M479.5 196h0.8M473 226h0.8M479.5 215h0.8M477 225.5h0.8M475 224.5h0.8M478 203h0.8M465 211h0.8M486 204h0.8M475.5 203h0.8M482 222.5h0.8M480 206h0.8M470 229h0.8M482 190h0.8M476.5 203h0.8M482 222h0.8M481 222h0.8M474 232.5h0.8M477.5 205.5h0.8M470 222.5h0.8M477 218.5h0.8M474 202h0.8M461 212h0.8M481 205.5h0.8M472.5 200.5h0.8M466 208.5h0.8M456.5 230.5h0.8M458 233h0.8M478.5 203h0.8M483.5 218h0.8M474.5 218.5h0.8M473 216.5h0.8M459.5 209.5h0.8M481.5 206h0.8M486 210.5h0.8M479 210.5h0.8M477.5 217.5h0.8M468 217.5h0.8M475.5 215.5h0.8M474 207.5h0.8M477 228.5h0.8M483.5 205.5h0.8M481 221h0.8M481 206h0.8M473 199.5h0.8M472.5 202.5h0.8M475.5 203.5h0.8M480 221h0.8M471 209.5h0.8M457.5 202.5h0.8M472 194h0.8M460 212h0.8M479.5 227.5h0.8M472 211h0.8M477.5 225.5h0.8M485.5 201h0.8M486 223.5h0.8M483.5 227.5h0.8M479 204h0.8M480 224h0.8M463.5 212.5h0.8M480 201.5h0.8M480 233h0.8M481.5 218.5h0.8M474.5 215.5h0.8M473.5 199h0.8M483.5 193h0.8M459.5 225h0.8M481 223h0.8M480.5 193h0.8M480 222.5h0.8M480.5 213.5h0.8M469 215h0.8M467 222.5h0.8M485.5 208h0.8M474.5 218h0.8M481.5 212.5h0.8M479 203.5h0.8M466.5 221.5h0.8M470.5 200h0.8M485.5 224h0.8M470.5 221.5h0.8M461 209.5h0.8M479.5 207h0.8M482 226h0.8M474 203.5h0.8M482 225h0.8M465.5 223.5h0.8M485.5 220h0.8M477.5 212h0.8M470 211.5h0.8M468 201.5h0.8M472.5 220h0.8M481.5 211h0.8M478.5 193.5h0.8M472.5 204h0.8M482.5 206h0.8M469 232h0.8M469.5 208.5h0.8M483.5 212.5h0.8M472.5 231.5h0.8M460.5 210h0.8M484.5 191h0.8M475.5 192h0.8M472 220h0.8M474 213.5h0.8M478 200h0.8M465.5 215h0.8M462 216h0.8M467.5 215.5h0.8M468.5 195h0.8M482 203.5h0.8M477 212h0.8M482.5 220h0.8M481.5 195h0.8M472.5 222h0.8M484.5 198.5h0.8M475 205.5h0.8M479 221.5h0.8M475.5 227.5h0.8M483 194h0.8M475.5 206h0.8M476.5 209.5h0.8M469.5 200.5h0.8M477.5 199.5h0.8M478.5 205.5h0.8M485.5 214h0.8M460.5 219h0.8M480 199.5h0.8M485.5 227.5h0.8M473.5 215h0.8M478.5 225h0.8M480 201h0.8M475.5 202.5h0.8M483 221h0.8M465.5 197.5h0.8M481.5 215h0.8M475 201h0.8M478.5 212h0.8M481 236h0.8M471 243h0.8M465.5 201h0.8M473.5 224.5h0.8M470 205.5h0.8M460.5 223.5h0.8M464.5 218h0.8M473 213h0.8M466.5 213h0.8M467 191.5h0.8M479.5 214h0.8M456 210h0.8M475.5 189h0.8M480 205h0.8M475 215.5h0.8M466 211.5h0.8M473.5 202.5h0.8M479.5 222.5h0.8M479.5 233.5h0.8M484 211.5h0.8M476.5 218h0.8M480.5 204.5h0.8M466.5 222.5h0.8M483 222.5h0.8M483.5 201h0.8M484 197h0.8M466 202h0.8M462 209.5h0.8M471.5 230.5h0.8M469 234.5h0.8M465.5 217.5h0.8M478 200.5h0.8M484.5 196h0.8M484.5 230h0.8M475 229h0.8M466 217.5h0.8M463 208h0.8M464.5 216h0.8M483.5 224.5h0.8M455.5 209h0.8M484.5 208h0.8M484.5 227h0.8M470 193h0.8M471 210.5h0.8M485.5 199.5h0.8M459.5 214h0.8M473.5 206.5h0.8M471 219h0.8M476.5 214h0.8M459.5 205.5h0.8M485.5 197h0.8M477 213h0.8M472 206.5h0.8M475 220h0.8M482.5 217.5h0.8M477 224.5h0.8M477 196h0.8M481 202h0.8M473 214.5h0.8M486 205h0.8M481 201.5h0.8M466.5 225.5h0.8M470 220h0.8M477 227.5h0.8M482.5 218h0.8M485.5 216h0.8M467.5 224h0.8M474 199h0.8M480 200h0.8M485.5 221h0.8M473.5 214h0.8M482.5 208h0.8M468.5 224.5h0.8M482 202.5h0.8M479.5 215.5h0.8M463 199.5h0.8M478.5 192h0.8M478.5 221h0.8M467 214h0.8M468 200.5h0.8M473.5 220h0.8M464.5 215.5h0.8M477 198h0.8M472.5 213.5h0.8M479 215.5h0.8M473.5 235h0.8M475.5 207h0.8M471.5 196.5h0.8M475 217.5h0.8M474 218h0.8M465.5 209.5h0.8M461 228.5h0.8M481.5 209h0.8M473.5 237.5h0.8M474 206h0.8M477.5 200h0.8M482 201h0.8M484 220h0.8M467.5 222h0.8M482 217.5h0.8M462.5 210.5h0.8M481 204h0.8M465 205h0.8M466.5 207.5h0.8M481.5 203h0.8M485.5 221.5h0.8M483.5 201.5h0.8M476 237h0.8M468.5 222h0.8M462.5 217h0.8M485 214h0.8M485.5 210.5h0.8M485 209.5h0.8M462 202.5h0.8M473.5 214.5h0.8M467 200.5h0.8M485.5 187.5h0.8M485 187h0.8M486 222h0.8M481 218.5h0.8M482 216.5h0.8M475 224h0.8M484 221h0.8M473.5 218h0.8M472.5 211.5h0.8M472.5 195h0.8M466.5 206h0.8M467.5 217.5h0.8M485 228h0.8M482 215h0.8M482.5 212.5h0.8M474.5 227h0.8M477 215.5h0.8M469 237h0.8M461 215h0.8M478 225.5h0.8M486 228h0.8M468 216h0.8M478 215.5h0.8M483.5 197.5h0.8M484 199.5h0.8M475 215h0.8M482 231h0.8M474 225.5h0.8M464.5 203.5h0.8M482 220h0.8M468.5 217.5h0.8M472.5 197.5h0.8M484.5 208.5h0.8M478.5 226.5h0.8M473.5 200h0.8M474 194.5h0.8M473.5 192.5h0.8M468 212.5h0.8M463 223.5h0.8M471.5 208h0.8M466.5 216h0.8M481.5 229h0.8M480 214.5h0.8M482.5 236.5h0.8M477 195.5h0.8M478.5 204.5h0.8M479 216h0.8M481.5 208.5h0.8M479.5 216h0.8M472 196h0.8M483.5 207h0.8M473.5 217h0.8M468.5 200.5h0.8M470 220.5h0.8M480 214h0.8M469.5 194h0.8M485.5 211.5h0.8M474 200.5h0.8M477 208h0.8M484 207.5h0.8M475 212h0.8M476.5 212h0.8M484.5 191.5h0.8M486 214.5h0.8M478 198h0.8M466 207.5h0.8M478 227h0.8M464 209h0.8M477.5 201h0.8M471 226.5h0.8M482.5 191h0.8M477.5 197h0.8M479.5 206.5h0.8M465 220.5h0.8M478 205.5h0.8M484 203h0.8M466.5 195.5h0.8M483 198.5h0.8M483.5 214.5h0.8M469.5 195.5h0.8M479.5 218h0.8M483.5 191h0.8M479.5 200h0.8M480.5 226.5h0.8M481.5 217h0.8M480.5 208.5h0.8M460.5 210.5h0.8M472 223h0.8M463 198.5h0.8M465 197h0.8M482.5 219h0.8M473.5 213.5h0.8M464.5 199.5h0.8M463.5 216.5h0.8M463 214.5h0.8M465.5 220h0.8M482 208.5h0.8M477.5 203.5h0.8M472 220.5h0.8M469 194h0.8M471 205h0.8M484 222.5h0.8M468 213h0.8M485 232h0.8M479 225.5h0.8M482 204h0.8M469.5 212.5h0.8M464 200.5h0.8M483 206h0.8M482 224h0.8M465 215h0.8M473 200h0.8M485 190.5h0.8M480.5 218h0.8M473.5 207h0.8M477 214.5h0.8M480 212.5h0.8M466 218h0.8M470.5 198h0.8M458.5 201h0.8M466 195.5h0.8M481 211h0.8M465 193h0.8M479 201h0.8M477 209.5h0.8M469 220.5h0.8M478.5 213.5h0.8M477.5 197.5h0.8M465 222.5h0.8M465.5 211.5h0.8M462 211.5h0.8M467 205h0.8M464 203h0.8M483.5 199h0.8" stroke="#000" stroke-width="0.8" stroke-opacity="0.8" fill="none"/>
<path d="M479.5 214h1.0M477 206h1.0M475 216h1.0M477.5 223.5h1.0M486 198.5h1.0M487.5 209h1.0M480.5 222h1.0M484 207.5h1.0M480.5 199.5h1.0M487 210h1.0M479.5 214.5h1.0M484 222h1.0M484 206.5h1.0M487.5 208.5h1.0M476 213h1.0M492 213h1.0M482.5 216h1.0M487 205h1.0M487 231h1.0M481.5 200.5h1.0M483 209h1.0M485 217h1.0M486.5 211h1.0M481 214.5h1.0M485.5 223h1.0M477 224h1.0M487 213.5h1.0M486 209.5h1.0M488.5 218h1.0M488 193h1.0M485.5 211.5h1.0M477.5 228h1.0M486.5 208.5h1.0M485.5 202.5h1.0M486 210.5h1.0M491.5 213h1.0M477 212h1.0M483 200h1.0M480.5 228h1.0M490 207.5h1.0M490.5 202.5h1.0M488.5 196.5h1.0M479 211h1.0M483 210.5h1.0M477.5 214.5h1.0M484.5 204h1.0M485.5 207.5h1.0M487 205.5h1.0M491 213.5h1.0M484.5 203h1.0M487 207.5h1.0M472 220h1.0M488 207h1.0M488 211h1.0M488.5 209h1.0M481.5 209.5h1.0M479 217h1.0M489.5 203.5h1.0M475 214h1.0M488 209h1.0M476.5 202h1.0M483 199.5h1.0M483 224h1.0M484 223h1.0M483 204.5h1.0M476 216.5h1.0M483.5 216h1.0M478 211.5h1.0M488 216.5h1.0M486 216.5h1.0M485 207h1.0M480.5 221.5h1.0M480.5 216.5h1.0M479.5 204.5h1.0M481.5 206.5h1.0M486.5 205.5h1.0M491.5 214.5h1.0M483 213.5h1.0M483 211h1.0M483.5 209.5h1.0M483.5 213h1.0M480 211h1.0M485 215.5h1.0M482.5 207h1.0M488 205h1.0M482.5 211.5h1.0M483 207.5h1.0M481.5 216.5h1.0M480 215h1.0M484.5 206h1.0M482.5 206h1.0M487.5 214h1.0M475.5 212h1.0M490.5 208.5h1.0M481 224h1.0M482.5 219.5h1.0M480 203h1.0M485.5 216h1.0M481.5 203h1.0M475.5 219h1.0M483.5 210.5h1.0M481.5 212h1.0M478 217h1.0M478.5 221h1.0M490 216.5h1.0M479.5 208.5h1.0M483 215h1.0M484.5 214h1.0M482 215.5h1.0M487 226.5h1.0M489 221.5h1.0M483.5 208h1.0M485.5 198.5h1.0M481 220.5h1.0M485 221.5h1.0M482 201.5h1.0M480 216h1.0M483.5 213.5h1.0M487 196h1.0M484.5 201.5h1.0M475.5 203.5h1.0M486 218.5h1.0M489.5 200.5h1.0M487 207h1.0M484 213.5h1.0M478.5 207h1.0M480 212.5h1.0M480 208h1.0M487 195h1.0M480.5 216h1.0M486 206.5h1.0M481 209.5h1.0M485 214h1.0M483.5 218.5h1.0M485.5 215h1.0M481.5 210.5h1.0M478 214h1.0M479 208.5h1.0M479 198h1.0M485.5 215.5h1.0M476 207h1.0M488.5 200h1.0M483.5 221.5h1.0M484.5 208.5h1.0M484 214h1.0M481 207.5h1.0M482.5 219h1.0M476 216h1.0M490.5 205.5h1.0M477 206.5h1.0M490 202.5h1.0M489.5 199.5h1.0M473.5 208h1.0M487.5 205h1.0M487 212h1.0M478 218.5h1.0M478.5 202h1.0M476.5 221.5h1.0M478.5 231.5h1.0M487 212.5h1.0M481.5 209h1.0M475 204h1.0M481 223h1.0M477.5 208h1.0M481.5 219h1.0M484.5 205h1.0M485 203h1.0M481 206.5h1.0M485 203.5h1.0M475.5 227h1.0M487.5 219.5h1.0M481.5 212.5h1.0M478 213.5h1.0M479.5 230h1.0M484 202h1.0M483.5 212h1.0M486.5 206.5h1.0M482 212h1.0M482.5 198h1.0M481 208.5h1.0M481 213h1.0M487 201.5h1.0M479.5 213h1.0M486.5 220.5h1.0M485 225.5h1.0M482.5 203.5h1.0M483 222h1.0M486 211.5h1.0M484.5 210h1.0M477.5 218h1.0M482 206h1.0M482.5 205h1.0M482.5 216.5h1.0M488.5 210.5h1.0M487 219.5h1.0M488.5 219h1.0M482 217.5h1.0M480.5 202.5h1.0M482 209.5h1.0M486.5 224.5h1.0M482 205.5h1.0M481 216h1.0M480.5 223.5h1.0M482.5 210h1.0M482.5 209h1.0M479.5 202h1.0M484.5 203.5h1.0M489 207.5h1.0M484 214.5h1.0M483 208h1.0M482 211h1.0M480.5 214h1.0M477.5 194h1.0M484 201h1.0M485 209h1.0M484 219h1.0M480 204.5h1.0M487 218h1.0M482.5 202.5h1.0M483.5 223.5h1.0M480.5 212.5h1.0M483 220h1.0M492.5 217h1.0M484.5 218h1.0M484.5 215.5h1.0M481.5 220.5h1.0M479.5 207.5h1.0M486 208h1.0M485.5 221h1.0M488 213.5h1.0M490.5 201h1.0M484.5 225h1.0M483 205.5h1.0M480 207h1.0M490 200h1.0M489 204h1.0M489 207h1.0M480 216.5h1.0M482.5 197h1.0M489.5 212h1.0M485 204.5h1.0M479 221h1.0M483 214.5h1.0M485.5 216.5h1.0M483 188.5h1.0M480.5 201.5h1.0M482 226.5h1.0M479 219h1.0M487 209.5h1.0M480 217.5h1.0M488.5 201h1.0M480 226.5h1.0M486 206h1.0M482 208.5h1.0M488 214.5h1.0M484 210h1.0M486.5 216.5h1.0M485 214.5h1.0M487.5 210h1.0M487 210.5h1.0M483.5 201h1.0M489 204.5h1.0M485 224.5h1.0M482.5 218.5h1.0M491 214h1.0M481.5 203.5h1.0M486.5 208h1.0M484 217.5h1.0M474.5 205h1.0M479.5 215h1.0M480.5 221h1.0M481 212h1.0M480.5 205.5h1.0M483 223h1.0M489 222h1.0M483 200.5h1.0M479.5 204h1.0M485 202.5h1.0M486 199.5h1.0M477 213.5h1.0M486 215h1.0M482.5 231.5h1.0M487 204h1.0M487 203.5h1.0M479 193h1.0M481 225h1.0M483.5 206h1.0M490.5 199h1.0M490 219h1.0M478.5 215.5h1.0M480.5 208.5h1.0M479.5 206h1.0M491 193h1.0M481 219h1.0M482 228.5h1.0M479.5 212h1.0M486.5 212h1.0M481.5 214h1.0M492 209h1.0M477 217h1.0M481 196.5h1.0M488.5 210h1.0M482 227h1.0M479.5 208h1.0M481 219.5h1.0M483.5 194.5h1.0M484.5 224.5h1.0M485.5 202h1.0M484.5 216h1.0M483.5 207.5h1.0M486 213.5h1.0M483.5 205.5h1.0M480.5 200.5h1.0M485 210.5h1.0M482 197h1.0M488.5 219.5h1.0M491 208h1.0M477 199h1.0M484.5 225.5h1.0M477 209h1.0M481 216.5h1.0M481 210.5h1.0M489 196h1.0M479 208h1.0M483.5 210h1.0M482.5 214h1.0M489.5 202h1.0M486.5 207.5h1.0M482.5 206.5h1.0M479.5 213.5h1.0M490.5 222h1.0M481.5 221.5h1.0M476 198h1.0M484 202.5h1.0M486.5 215h1.0M483.5 211h1.0M485.5 212h1.0M483.5 219h1.0M476 221.5h1.0M483.5 206.5h1.0M481.5 200h1.0M488 204.5h1.0M488 207.5h1.0M482.5 196h1.0M490 209.5h1.0M481.5 207.5h1.0M479.5 219.5h1.0M483.5 200.5h1.0M479 213h1.0M479 224.5h1.0M483 211.5h1.0M484.5 209.5h1.0M482 217h1.0M485 200h1.0M485 217.5h1.0M479.5 223.5h1.0M479 212h1.0M480.5 224.5h1.0M481 213.5h1.0M474 209h1.0M489 209.5h1.0M489 215.5h1.0M482 208h1.0M486.5 192.5h1.0M479 218.5h1.0M481 196h1.0M485.5 217h1.0M480 219.5h1.0M484 212h1.0M487.5 203.5h1.0M478.5 228.5h1.0M488 219h1.0M485.5 212.5h1.0M478.5 206.5h1.0M483 222.5h1.0M488 218h1.0M482.5 202h1.0M490 212.5h1.0M485.5 209.5h1.0M486.5 225h1.0M479 213.5h1.0M476 215h1.0M478 201.5h1.0M487 221.5h1.0M479.5 205h1.0M484.5 202h1.0M476.5 216h1.0M480 214.5h1.0M477.5 209.5h1.0M479 210.5h1.0M483.5 202.5h1.0M478.5 223.5h1.0M487.5 224h1.0M486 200.5h1.0M489.5 221h1.0M485.5 214.5h1.0M476.5 204h1.0M489.5 208.5h1.0M478 205h1.0M477 211.5h1.0M476 220.5h1.0M488.5 204h1.0M482.5 210.5h1.0M483.5 197h1.0M482 200.5h1.0M481.5 208h1.0M485.5 203.5h1.0M485.5 206.5h1.0M478 220h1.0M487 203h1.0M479.5 211h1.0M476.5 206.5h1.0M489 202.5h1.0M484 197.5h1.0M482 191h1.0M481.5 218h1.0M489.5 208h1.0M482 220.5h1.0M478.5 210.5h1.0M482.5 220.5h1.0M473.5 220h1.0M487.5 205.5h1.0M480.5 212h1.0M484.5 221.5h1.0M480.5 208h1.0M479 200h1.0M477.5 218.5h1.0M484.5 210.5h1.0M481 202h1.0M479.5 210h1.0M486 219h1.0M480.5 198.5h1.0M483 208.5h1.0M482.5 200h1.0M482.5 217.5h1.0M478 206.5h1.0M488.5 203.5h1.0M482.5 217h1.0M486 205.5h1.0M482 214h1.0M484 220h1.0M482.5 196.5h1.0M476 221h1.0M485 201.5h1.0M479.5 209.5h1.0M483.5 220.5h1.0M484.5 217h1.0M479 222.5h1.0M487 218.5h1.0M475.5 213h1.0M482.5 215.5h1.0M487.5 211.5h1.0M482 214.5h1.0M482.5 208h1.0M480.5 215.5h1.0M490.5 217.5h1.0M483.5 203h1.0M490 205h1.0M478 204h1.0M481 220h1.0M486 203.5h1.0M481.5 199h1.0M482 207.5h1.0M487 214h1.0M481 199h1.0M479.5 206.5h1.0M482.5 221.5h1.0M482.5 225.5h1.0M484.5 212.5h1.0M485.5 201h1.0M480 228.5h1.0M481 198.5h1.0M480 199h1.0M484.5 207h1.0M484 217h1.0M487 213h1.0M492.5 204h1.0M484.5 207.5h1.0M485.5 194.5h1.0M483 210h1.0M490 204.5h1.0M483 212h1.0M483.5 222h1.0M477.5 219h1.0M479.5 209h1.0M485 216.5h1.0M493 196.5h1.0M479.5 203h1.0M490 211.5h1.0M481.5 206h1.0M479.5 212.5h1.0M487.5 223h1.0M487.5 199.5h1.0M491 224.5h1.0M484 216h1.0M482 215h1.0M475.5 210.5h1.0M487 227h1.0M484.5 209h1.0M492.5 211.5h1.0M487 219h1.0M477 202h1.0M486.5 203h1.0M485.5 220.5h1.0M477 203h1.0M479 194.5h1.0M481.5 202h1.0M485.5 227.5h1.0M478.5 212h1.0M478 215h1.0M476.5 200.5h1.0M480.5 214.5h1.0M482 216h1.0M485.5 208h1.0M490 190.5h1.0M478 211h1.0M487.5 206h1.0M483 201h1.0M484.5 195.5h1.0M486 213h1.0M483.5 216.5h1.0M492 210.5h1.0M477 218.5h1.0M482.5 203h1.0M484.5 204.5h1.0M477.5 208.5h1.0M488 211.5h1.0M477 211h1.0M482.5 205.5h1.0M486 204.5h1.0M486 208.5h1.0M486 231.5h1.0M491 214.5h1.0M483.5 221h1.0M479 220h1.0M484 212.5h1.0M477.5 209h1.0M480 221h1.0M483 202.5h1.0M488.5 211h1.0M484 216.5h1.0M479 205.5h1.0M484.5 200h1.0M480.5 205h1.0M484.5 213h1.0M487.5 204.5h1.0M477 210.5h1.0M483.5 217.5h1.0M485.5 210.5h1.0M484 218h1.0M474.5 199h1.0M488.5 205.5h1.0M488 223h1.0M484.5 200.5h1.0M489.5 196h1.0M486 220.5h1.0M487.5 222.5h1.0M479.5 224h1.0M486.5 219.5h1.0M489.5 203h1.0M486 212.5h1.0M485 207.5h1.0M484 208h1.0M486 212h1.0M488.5 215h1.0M484 211.5h1.0M486 214.5h1.0M480.5 225.5h1.0M486 205h1.0M484 203.5h1.0M483 221.5h1.0M480.5 225h1.0M484 205.5h1.0M474.5 218.5h1.0M481 209h1.0M483.5 214.5h1.0M484.5 226.5h1.0M482.5 207.5h1.0M485 216h1.0M484 192.5h1.0M480.5 235h1.0M484 209h1.0M489.5 214h1.0M485 220.5h1.0M480.5 217.5h1.0M486.5 211.5h1.0M486.5 207h1.0M481 194h1.0M481.5 197h1.0M480.5 209.5h1.0M480 224h1.0M477.5 207.5h1.0M484 222.5h1.0M476 219.5h1.0M479 207h1.0M483 212.5h1.0M492 216.5h1.0M484 220.5h1.0M484 200.5h1.0M490 210.5h1.0M480.5 210.5h1.0M485.5 211h1.0M479.5 221.5h1.0M481.5 224.5h1.0M481 206h1.0M482 209h1.0M481 217.5h1.0M477.5 224.5h1.0M487 211.5h1.0M483 196h1.0M473.5 206.5h1.0M483 216.5h1.0M484 207h1.0M478.5 214.5h1.0M487.5 213.5h1.0M479.5 203.5h1.0M486.5 202h1.0M484 201.5h1.0M474 223.5h1.0M478 207.5h1.0M487.5 194.5h1.0M480 209h1.0M488.5 207.5h1.0M484.5 206.5h1.0M479 216.5h1.0M480 213h1.0M477.5 213.5h1.0M485 223.5h1.0M484 200h1.0M489.5 210.5h1.0M485.5 209h1.0M478 191.5h1.0M481 200h1.0M488.5 202.5h1.0M486.5 214.5h1.0M477.5 205h1.0M478 214.5h1.0M479.5 205.5h1.0M476.5 208.5h1.0M482.5 214.5h1.0M481.5 204.5h1.0M487 199.5h1.0M487 202.5h1.0M482 211.5h1.0M477 209.5h1.0M483 206.5h1.0M475.5 200.5h1.0M484.5 216.5h1.0M482 213.5h1.0M484 226h1.0M484 218.5h1.0M478.5 210h1.0M480 210.5h1.0M482.5 212h1.0M486.5 216h1.0M481.5 205h1.0M475 223.5h1.0M480.5 209h1.0M484.5 219h1.0M481 218.5h1.0M486.5 219h1.0M480 206h1.0M487.5 212.5h1.0M483 217.5h1.0M484 211h1.0M488.5 212h1.0M479.5 219h1.0M491 216.5h1.0M482 221.5h1.0M479 226h1.0M489 214.5h1.0M489 210h1.0M485 212.5h1.0M483.5 195.5h1.0M482.5 209.5h1.0M478.5 213.5h1.0M489 218.5h1.0M482.5 223.5h1.0M478 216.5h1.0M491 219h1.0M479 210h1.0M475 211h1.0M480 202h1.0M475 215.5h1.0M485 208h1.0M483 198h1.0M485.5 205h1.0M479 228.5h1.0M481 218h1.0M484 215h1.0M484 195h1.0M484.5 189h1.0M478.5 212.5h1.0M487 200h1.0M475 218.5h1.0M480 220h1.0M475 209h1.0M481.5 215.5h1.0M482.5 222h1.0M474.5 217h1.0M484.5 208h1.0M486.5 196h1.0M482.5 188.5h1.0M487.5 207.5h1.0M488 217.5h1.0M493 208h1.0M483.5 204h1.0M477 202.5h1.0M485.5 224h1.0M486.5 221h1.0M481.5 210h1.0M478 199h1.0M485 202h1.0M480 211.5h1.0M476 212.5h1.0M489 216h1.0M482.5 220h1.0M483.5 236h1.0M484 234.5h1.0M485.5 213h1.0M483.5 226.5h1.0M473 208.5h1.0M485 220h1.0M477.5 237h1.0M478 217.5h1.0M481.5 202.5h1.0M484.5 214.5h1.0M482 221h1.0M484 213h1.0M489.5 201.5h1.0M477.5 222.5h1.0M480.5 211h1.0M485 205.5h1.0M482.5 199h1.0M481 222h1.0M484.5 229h1.0M487.5 202h1.0M491 212.5h1.0M481 224.5h1.0M475.5 225h1.0M490 208h1.0M489.5 219.5h1.0M478 218h1.0M478.5 205.5h1.0M486 209h1.0M480 212h1.0M488 215.5h1.0M488 201h1.0M480 224.5h1.0M485.5 196h1.0M480 205.5h1.0M479.5 197.5h1.0M484 221h1.0M488 216h1.0M478 224.5h1.0M483 190.5h1.0M479.5 215.5h1.0M489 205.5h1.0M485.5 222.5h1.0M476 208h1.0M480.5 207h1.0M487.5 215h1.0M476 218h1.0M476 224.5h1.0M488 202.5h1.0M475.5 218.5h1.0M483.5 196.5h1.0M479.5 218.5h1.0M485.5 210h1.0M481 210h1.0M483.5 227.5h1.0M482 229h1.0M482 220h1.0M488.5 232h1.0M488.5 213.5h1.0M484.5 220.5h1.0M488 203h1.0M483.5 199h1.0M485.5 218.5h1.0M482.5 222.5h1.0M477.5 213h1.0M478 209h1.0M478.5 196.5h1.0M487.5 201.5h1.0M478 202h1.0M476 208.5h1.0M481 222.5h1.0M487 209h1.0M477.5 221.5h1.0M482 207h1.0M488.5 216h1.0M480 221.5h1.0M481 201.5h1.0M476.5 197.5h1.0M483 218h1.0M485.5 201.5h1.0M488 198.5h1.0M484.5 213.5h1.0M482 196h1.0M486.5 198.5h1.0M483.5 204.5h1.0M489.5 209.5h1.0M478 228.5h1.0M486.5 206h1.0M489.5 205.5h1.0M484.5 211h1.0M480.5 217h1.0M474 211h1.0M474 220.5h1.0M483 207h1.0M481 202.5h1.0M482.5 213h1.0M476 210h1.0M486 215.5h1.0M475.5 206.5h1.0M482.5 211h1.0M491 209h1.0M481 215.5h1.0M491 195h1.0M477 210h1.0M481 203.5h1.0M476 211h1.0M486 217h1.0M486 191h1.0M485 215h1.0M489.5 213.5h1.0M473.5 219.5h1.0M492 190h1.0M481 221h1.0M489 210.5h1.0M481 200.5h1.0M478 212h1.0M486.5 192h1.0M485.5 206h1.0M483 209.5h1.0M485.5 208.5h1.0M486 204h1.0M486 222h1.0M474.5 212h1.0M488.5 208h1.0M475.5 208h1.0M489.5 212.5h1.0M487.5 211h1.0M489.5 216h1.0M478.5 208h1.0M477.5 202h1.0M478.5 199.5h1.0M475 212h1.0M476.5 225h1.0M483.5 200h1.0M488 204h1.0M488 201.5h1.0M489.5 204.5h1.0M490 203.5h1.0M482 219.5h1.0M477 208h1.0M488.5 212.5h1.0M483.5 209h1.0M484.5 222h1.0M481 204.5h1.0M482 204.5h1.0M484 219.5h1.0M484.5 221h1.0M485 206h1.0M482 223.5h1.0M478 221h1.0M484.5 226h1.0M487.5 198.5h1.0M482.5 224.5h1.0M483.5 203.5h1.0M481.5 211h1.0M482 230h1.0M481.5 196.5h1.0M480.5 223h1.0M481 226.5h1.0M479 223h1.0M491.5 208h1.0M482 228h1.0M476.5 230.5h1.0M481.5 217h1.0M482.5 197.5h1.0M481.5 216h1.0M483 218.5h1.0M492.5 208h1.0M485 209.5h1.0M486 203h1.0M480.5 210h1.0M478 220.5h1.0M476 217h1.0M478.5 207.5h1.0M480.5 207.5h1.0M479 214.5h1.0M472.5 213.5h1.0M483 217h1.0M477 216.5h1.0M479 217.5h1.0M481.5 222.5h1.0M485.5 217.5h1.0M492 199h1.0M482 224.5h1.0M481.5 204h1.0M480.5 202h1.0M482 216.5h1.0M474.5 207h1.0M484.5 205.5h1.0M484.5 215h1.0M482 218.5h1.0M481.5 225h1.0M480.5 215h1.0M480 209.5h1.0M483.5 228h1.0M480 206.5h1.0M481.5 223.5h1.0M477.5 205.5h1.0M475.5 215h1.0M486.5 199h1.0M489 201h1.0M476.5 216.5h1.0M479 206h1.0M482.5 228.5h1.0M480.5 227.5h1.0M479.5 207h1.0M490 217.5h1.0M478 229.5h1.0M483.5 227h1.0M483.5 214h1.0M480.5 204h1.0M475 224h1.0M482.5 204h1.0M492 201h1.0M485 218h1.0M481 204h1.0M481 211h1.0M476.5 212h1.0M486 196.5h1.0M487.5 197.5h1.0M486 207h1.0M489.5 213h1.0M490 214.5h1.0M481.5 199.5h1.0M477.5 211h1.0M485.5 197.5h1.0M483 202h1.0M487 223.5h1.0M487 224h1.0M477.5 216h1.0M479 205h1.0M492.5 207h1.0M486.5 204h1.0M486.5 209.5h1.0M474.5 206.5h1.0M480 218h1.0M476 200.5h1.0M484.5 222.5h1.0M483 225h1.0M479.5 216.5h1.0M485 212h1.0M484 224.5h1.0M488.5 220h1.0M483.5 199.5h1.0M479.5 198.5h1.0M480.5 220h1.0M478 198h1.0M483.5 205h1.0M490 205.5h1.0M482 213h1.0M479.5 217h1.0M489 211h1.0M492 211h1.0M485 222.5h1.0M472.5 214.5h1.0M481 211.5h1.0M491 216h1.0M486 216h1.0M487 198h1.0M484.5 211.5h1.0M488 219.5h1.0M483.5 211.5h1.0M487.5 220.5h1.0M474.5 222h1.0M488.5 203h1.0M482.5 212.5h1.0M481.5 213.5h1.0M481.5 214.5h1.0M485 213.5h1.0M489 205h1.0M487 215h1.0M481.5 201.5h1.0M481.5 223h1.0M477.5 190.5h1.0M481.5 231h1.0M491 203h1.0M490 206h1.0M478.5 219.5h1.0M480.5 218h1.0M479 211.5h1.0M482 202.5h1.0M492 202.5h1.0M479.5 220.5h1.0M480.5 200h1.0M475 217h1.0M486.5 195h1.0M477.5 226h1.0M483 206h1.0M483 216h1.0M484 209.5h1.0M489 214h1.0M491 200.5h1.0M485 200.5h1.0M486 214h1.0M477.5 215.5h1.0M485 204h1.0M479 192h1.0M477 225h1.0M478.5 197h1.0M485.5 214h1.0M478 208h1.0M475.5 205h1.0M477 218h1.0M486.5 205h1.0M489 201.5h1.0M486.5 218.5h1.0M487.5 220h1.0M471.5 210.5h1.0M481.5 218.5h1.0M478 225h1.0M490 220.5h1.0M485.5 219h1.0M475 228h1.0M486 226h1.0M483.5 215.5h1.0M483 219h1.0M490.5 212.5h1.0M478.5 222h1.0M487 216h1.0M485 211.5h1.0M491 207h1.0M486.5 212.5h1.0M488 218.5h1.0M487 222h1.0M483 213h1.0M480.5 204.5h1.0M481 214h1.0M490 220h1.0M489 199h1.0M477.5 204.5h1.0M478.5 200h1.0M490.5 212h1.0M478.5 209.5h1.0M477.5 232h1.0M487.5 229.5h1.0M481 197h1.0M478 210.5h1.0M484 221.5h1.0M477.5 206h1.0M474.5 213.5h1.0M490.5 214h1.0M479 218h1.0M483.5 197.5h1.0M486.5 200h1.0M482 222h1.0M488.5 199h1.0M485.5 204h1.0M486.5 203.5h1.0M483 197.5h1.0M479.5 200.5h1.0M489 217h1.0M475 208h1.0M477 220.5h1.0M480 203.5h1.0M480 200.5h1.0M486 227.5h1.0M476.5 242.5h1.0M487.5 221h1.0M489 200.5h1.0M483 199h1.0M487 201h1.0M489 209h1.0M482.5 208.5h1.0M487 214.5h1.0M486.5 213h1.0M489 206h1.0M482 206.5h1.0M487.5 216h1.0M475 199.5h1.0M477.5 201.5h1.0M486 211h1.0M488 196h1.0M489 221h1.0M491 228h1.0M485 224h1.0M483 205h1.0M481 212.5h1.0M488 200.5h1.0M478.5 220.5h1.0M487.5 210.5h1.0M485.5 207h1.0M481.5 215h1.0M484.5 196h1.0M481.5 221h1.0M475.5 232.5h1.0M481.5 219.5h1.0M488.5 217.5h1.0M481 201h1.0M478 195.5h1.0M479 221.5h1.0M475 225h1.0M491 223h1.0M479.5 201.5h1.0M479.5 200h1.0M488.5 207h1.0M474.5 215.5h1.0M488 210h1.0M485.5 226.5h1.0M477.5 188.5h1.0M477 219h1.0M485 206.5h1.0M487.5 193.5h1.0M482 210h1.0M476 203.5h1.0M480.5 206.5h1.0M483.5 215h1.0M481 215h1.0M478 208.5h1.0M490 212h1.0M486 207.5h1.0M490.5 216h1.0M473.5 213h1.0M477.5 223h1.0M482 225h1.0M484.5 194.5h1.0M483.5 196h1.0M475 205.5h1.0M484.5 212h1.0M477.5 227.5h1.0M479.5 221h1.0M482.5 191h1.0M476 219h1.0M489 219.5h1.0M479 201.5h1.0M478.5 217h1.0M476 207.5h1.0M487 208h1.0M479 216h1.0M487.5 203h1.0M483 215.5h1.0M474.5 219.5h1.0M476.5 206h1.0M477.5 217.5h1.0M477.5 211.5h1.0M475 207.5h1.0M492 217h1.0M478.5 208.5h1.0M479 195h1.0M481 205h1.0M481 203h1.0M491 221h1.0M489 206.5h1.0M478.5 218h1.0M488.5 217h1.0M489 216.5h1.0M486 202h1.0M489.5 210h1.0M482.5 223h1.0M475.5 213.5h1.0M480.5 220.5h1.0M476.5 210.5h1.0M483 221h1.0M481 226h1.0M480 199.5h1.0M478 219.5h1.0M480 196h1.0M488 222h1.0M492 220.5h1.0M486 224h1.0M488.5 221.5h1.0M481.5 208.5h1.0M489 217.5h1.0M487 211h1.0M487 215.5h1.0M478 209.5h1.0M478.5 226h1.0M482 219h1.0M481.5 205.5h1.0M479.5 223h1.0M490 196.5h1.0M483 198.5h1.0M487.5 206.5h1.0M488.5 206.5h1.0M478 206h1.0M477 200.5h1.0M479 225h1.0M488.5 220.5h1.0M476.5 210h1.0M478 222.5h1.0M477 205h1.0M484 225.5h1.0M480.5 218.5h1.0M474.5 214h1.0M476.5 228.5h1.0M487 220h1.0M477.5 220.5h1.0M483 224.5h1.0M477.5 198h1.0M475.5 203h1.0M479.5 211.5h1.0M482 218h1.0M492.5 221h1.0M483 220.5h1.0M489 194h1.0M478.5 197.5h1.0M490 217h1.0M480.5 213.5h1.0M489.5 218.5h1.0M480.5 203.5h1.0M482 199h1.0M473.5 205.5h1.0M485 219.5h1.0M477.5 222h1.0M482 200h1.0M481 205.5h1.0M479 215h1.0M483.5 217h1.0M487.5 212h1.0M491 192.5h1.0M479 235.5h1.0M486.5 209h1.0M491 204.5h1.0M487 217.5h1.0M492.5 216h1.0M477.5 203h1.0M484.5 230h1.0M493 206h1.0M481 225.5h1.0M478.5 225.5h1.0M488.5 224h1.0M477.5 210.5h1.0M486.5 218h1.0M480 207.5h1.0M476.5 213h1.0M476.5 207h1.0M492.5 206.5h1.0M490.5 209.5h1.0M472.5 216h1.0M486.5 223.5h1.0M480 214h1.0M485 208.5h1.0M480.5 196.5h1.0M487.5 217.5h1.0M475 221h1.0M478 199.5h1.0M485 193h1.0M473.5 198.5h1.0M478.5 203.5h1.0M478 215.5h1.0M484.5 223h1.0M489 203.5h1.0M488 226h1.0M480 220.5h1.0M480.5 206h1.0M484.5 201h1.0M485 198.5h1.0M482.5 213.5h1.0M480 227.5h1.0M481 231.5h1.0M485.5 198h1.0M487 208.5h1.0M477.5 225h1.0M476.5 209.5h1.0M476 215.5h1.0M489.5 207h1.0M487.5 209.5h1.0M486.5 197h1.0M488.5 194.5h1.0M482 205h1.0M479.5 199.5h1.0M481 221.5h1.0M483 203h1.0M480 213.5h1.0M484 204.5h1.0M487.5 200h1.0M491.5 203.5h1.0M487.5 207h1.0M486 221.5h1.0M488 209.5h1.0M486.5 202.5h1.0M475.5 217.5h1.0M490.5 223.5h1.0M482 210.5h1.0M482.5 221h1.0M479 212.5h1.0M487.5 200.5h1.0M478.5 213h1.0M474.5 222.5h1.0M479.5 198h1.0M480.5 199h1.0M477.5 217h1.0M487.5 226h1.0M486.5 201h1.0M478.5 200.5h1.0M477 217.5h1.0M485.5 219.5h1.0M486 223h1.0M480 217h1.0M488 221.5h1.0M484 226.5h1.0M484 215.5h1.0M486.5 210h1.0M488 205.5h1.0M491 223.5h1.0M483 230h1.0M481 194.5h1.0M481 229h1.0M488.5 204.5h1.0M477 196.5h1.0M480.5 226h1.0M473.5 204.5h1.0M484 208.5h1.0M489 195h1.0M486.5 201.5h1.0M484.5 231h1.0M490.5 203h1.0M481 207h1.0M481.5 217.5h1.0M490.5 213h1.0M476 205.5h1.0M479.5 201h1.0M479.5 216h1.0M492.5 205.5h1.0M491 190.5h1.0M485.5 203h1.0M474.5 209h1.0M473 212.5h1.0M476 226h1.0M488.5 198h1.0M483 203.5h1.0M477 212.5h1.0M485.5 220h1.0M480.5 231.5h1.0M478.5 222.5h1.0M477.5 210h1.0M486.5 191h1.0M489.5 204h1.0M475 212.5h1.0M481 190h1.0M477 226h1.0M478 210h1.0M489.5 195h1.0M478.5 216h1.0M482 222.5h1.0M487.5 216.5h1.0M483 228h1.0M482.5 226.5h1.0M479 203h1.0M487.5 215.5h1.0M489.5 218h1.0M485 211h1.0M474 217.5h1.0M483 226.5h1.0M482 199.5h1.0M479 232.5h1.0M486 218h1.0M480 195.5h1.0M478.5 215h1.0M487.5 199h1.0M483.5 201.5h1.0M477.5 220h1.0M488 212.5h1.0M490.5 210h1.0M475.5 206h1.0M478.5 236.5h1.0M488 206h1.0M486.5 191.5h1.0M476.5 198.5h1.0M486.5 214h1.0M490 208.5h1.0M482 192.5h1.0M475 220.5h1.0M490.5 202h1.0M489.5 209h1.0M493.5 206.5h1.0M475.5 208.5h1.0M483.5 202h1.0M489.5 214.5h1.0M487.5 208h1.0M480 230.5h1.0M486 220h1.0M485.5 205.5h1.0M490.5 207h1.0M482 226h1.0M474.5 220h1.0M484 227.5h1.0M480 227h1.0M479.5 224.5h1.0M484 229h1.0M490.5 215h1.0M492 203.5h1.0M486.5 217h1.0M480 205h1.0M485.5 204.5h1.0M478.5 204.5h1.0M482 197.5h1.0M493.5 204h1.0M478.5 224.5h1.0M483.5 224h1.0M487.5 196.5h1.0M492.5 219.5h1.0M488 210.5h1.0M485 221h1.0M488 227h1.0M478.5 226.5h1.0M481.5 230.5h1.0M488.5 213h1.0M484 199h1.0M483 231.5h1.0M490.5 226.5h1.0M479.5 199h1.0M485 199h1.0M486 201.5h1.0M474 225h1.0M476 223.5h1.0M479 215.5h1.0M488.5 206h1.0M474.5 207.5h1.0M490.5 209h1.0M478.5 206h1.0M487.5 226.5h1.0M473.5 213.5h1.0M486.5 213.5h1.0M489.5 211h1.0M478.5 216.5h1.0M478 204.5h1.0M488.5 211.5h1.0M487 224.5h1.0M480.5 226.5h1.0M490.5 211h1.0M479.5 202.5h1.0M487.5 213h1.0M479.5 227h1.0M485.5 223.5h1.0M488 202h1.0M483 214h1.0M485.5 195.5h1.0M487 194.5h1.0M483.5 207h1.0M477 214h1.0M490 225h1.0M491 206h1.0M477.5 212.5h1.0M491.5 202h1.0M489 208h1.0M491 205.5h1.0M484 204h1.0M486 202.5h1.0M474 208.5h1.0M479 229.5h1.0M482.5 233h1.0M488 208h1.0M482.5 228h1.0M477.5 199.5h1.0M478.5 217.5h1.0M484.5 202.5h1.0M479.5 229h1.0M477.5 203.5h1.0M479.5 227.5h1.0M479 204.5h1.0M481.5 224h1.0M491 208.5h1.0M489 215h1.0M473.5 215h1.0M480 210h1.0M483.5 191h1.0M474.5 228h1.0M484.5 218.5h1.0M476.5 217.5h1.0M485.5 213.5h1.0M477 215.5h1.0M491.5 198h1.0M476.5 212.5h1.0M480.5 213h1.0M478 229h1.0M492 210h1.0M491 224h1.0M474 202.5h1.0M489 220h1.0M480.5 222.5h1.0M491 194.5h1.0M481.5 198h1.0M491.5 213.5h1.0M475.5 215.5h1.0M489.5 197h1.0M475.5 214.5h1.0M475.5 229h1.0M489 193.5h1.0M474.5 216.5h1.0M484 196h1.0M479 219.5h1.0M478 221.5h1.0M492 209.5h1.0M475 202h1.0M490.5 204h1.0M488.5 197h1.0M483.5 193h1.0M479 214h1.0M481 235h1.0M480 196.5h1.0M477 216h1.0M491 225h1.0M487 206.5h1.0M477 214.5h1.0M481 223.5h1.0M484.5 229.5h1.0M475.5 209h1.0M480 215.5h1.0M487 220.5h1.0M488.5 198.5h1.0M491 220h1.0M476 212h1.0M479 228h1.0M486 200h1.0M478 227h1.0M492.5 208.5h1.0M477.5 206.5h1.0M482.5 204.5h1.0M491.5 199h1.0M492.5 202.5h1.0M474.5 197h1.0M481.5 211.5h1.0M482 198.5h1.0M481.5 222h1.0M482.5 215h1.0M483 196.5h1.0M491 198h1.0M479.5 218h1.0M482.5 225h1.0M480 208.5h1.0M474 208h1.0M482.5 201.5h1.0M488.5 214.5h1.0M474 217h1.0M478 213h1.0M483.5 235h1.0M469.5 223h1.0M478.5 201.5h1.0M479 227.5h1.0M493 214h1.0M474.5 220.5h1.0M475 214.5h1.0M474 207.5h1.0M485 205h1.0M478 226.5h1.0M491 213h1.0M490 200.5h1.0M482 185h1.0M490.5 198.5h1.0M485.5 188h1.0M487 197.5h1.0M478.5 202.5h1.0M483 193.5h1.0M479 227h1.0M472.5 230.5h1.0M480 202.5h1.0M479.5 222h1.0M474 215h1.0M491.5 210h1.0M479 198.5h1.0M471.5 220.5h1.0M473.5 217.5h1.0M488 206.5h1.0M473.5 207h1.0M484 206h1.0M491.5 208.5h1.0M476.5 204.5h1.0M487.5 219h1.0M491.5 211.5h1.0M475.5 218h1.0M473.5 212.5h1.0M490.5 196h1.0M485 218.5h1.0M490.5 213.5h1.0M481.5 201h1.0M488 214h1.0M471 212.5h1.0M478 212.5h1.0M490.5 223h1.0M486.5 200.5h1.0M480.5 195.5h1.0M474.5 225h1.0M487.5 231.5h1.0M480 200h1.0M473.5 217h1.0M474 224h1.0M489 224h1.0M493.5 205h1.0M490.5 196.5h1.0M485.5 200.5h1.0M481.5 196h1.0M483.5 223h1.0M478.5 211.5h1.0M490 198.5h1.0M489.5 206.5h1.0M479 200.5h1.0M477 229h1.0M477 205.5h1.0M485 193.5h1.0M482 203.5h1.0M484.5 223.5h1.0M488 197h1.0M490.5 222.5h1.0M482 193h1.0M484 195.5h1.0M483 197h1.0M473 219h1.0M480 225.5h1.0M472 224h1.0M475 213h1.0M486 201h1.0M482.5 200.5h1.0M490 210h1.0M481 197.5h1.0M482 201h1.0M487 204.5h1.0M481.5 207h1.0M482.5 226h1.0M490.5 208h1.0M487 225.5h1.0M487.5 195h1.0M482 186h1.0M480 223.5h1.0M485.5 218h1.0M485 192.5h1.0M476.5 213.5h1.0M474 224.5h1.0M486 219.5h1.0M475 219.5h1.0M484.5 197.5h1.0M486.5 199.5h1.0M473 209.5h1.0M490 231h1.0M486 210h1.0M483.5 220h1.0M492.5 228h1.0M491.5 210.5h1.0M492 207.5h1.0M482 204h1.0M493.5 219.5h1.0M487.5 218h1.0M478.5 204h1.0M475.5 216h1.0M477.5 212h1.0M480 222.5h1.0M492 223h1.0M488 208.5h1.0M484.5 219.5h1.0M475.5 212.5h1.0M488 222.5h1.0M490.5 216.5h1.0M475.5 199.5h1.0M476 197.5h1.0M488 199h1.0M475 213.5h1.0M489 213.5h1.0M484.5 197h1.0M484.5 196.5h1.0M488 203.5h1.0M489 213h1.0M474.5 213h1.0M474.5 208h1.0M483.5 208.5h1.0M480.5 219.5h1.0M490 213h1.0M478.5 219h1.0M476.5 219h1.0M478 205.5h1.0M476 222h1.0M480.5 193.5h1.0M482 203h1.0M475.5 195.5h1.0M480.5 198h1.0M487.5 214.5h1.0M483.5 195h1.0M482 198h1.0M479 199.5h1.0M489 199.5h1.0M489.5 200h1.0M478.5 193.5h1.0M474.5 218h1.0M479.5 228h1.0M487 222.5h1.0M490.5 211.5h1.0M485.5 229h1.0M485 210h1.0M476 200h1.0M478.5 223h1.0M475 210h1.0M492.5 210.5h1.0M478 201h1.0M482.5 194.5h1.0M488.5 216.5h1.0M485 194h1.0M476 217.5h1.0M476.5 209h1.0M479 196h1.0M487 193h1.0M480 218.5h1.0M475.5 204h1.0M489.5 199h1.0M482 202h1.0M476.5 215h1.0M481.5 213h1.0M478 233h1.0M483.5 198h1.0M489.5 201h1.0M475.5 220.5h1.0M490.5 214.5h1.0M491.5 215.5h1.0M493 231h1.0M476.5 217h1.0M490 222h1.0M489.5 224h1.0M485 196.5h1.0M475 201h1.0M479 209h1.0M492 195.5h1.0M480.5 230.5h1.0M479.5 220h1.0M482.5 218h1.0M483 204h1.0M490 197.5h1.0M478 224h1.0M488 199.5h1.0M488.5 187h1.0M485.5 227h1.0M479 202h1.0M479.5 226h1.0M482.5 201h1.0M478.5 211h1.0M488.5 208.5h1.0M475.5 224.5h1.0M481 189h1.0M483.5 232h1.0M491 210h1.0M474 206h1.0M481.5 197.5h1.0M473 209h1.0M490.5 210.5h1.0M484.5 224h1.0M491.5 206.5h1.0M476 214.5h1.0M492.5 209h1.0M480 222h1.0M473 216h1.0M489.5 220.5h1.0M485.5 200h1.0M489 212.5h1.0M477 219.5h1.0M488 226.5h1.0M478 222h1.0M493 207h1.0M489 212h1.0M480.5 197.5h1.0M479 201h1.0M476 209.5h1.0M475.5 214h1.0M479 207.5h1.0M490.5 206h1.0M477 215h1.0M484 232.5h1.0M486 225h1.0M472.5 211.5h1.0M472.5 216.5h1.0M484.5 198h1.0M486.5 194.5h1.0M491 194h1.0M483.5 219.5h1.0M490 204h1.0M490 213.5h1.0M488 213h1.0" stroke="#000" stroke-width="1.0" fill="none"/>
<path d="M431 318.5h0.7M458.5 300h0.7M457.5 307h0.7M446 315h0.7M450.5 330h0.7M467.5 304.5h0.7M449 321h0.7M457.5 323.5h0.7M448.5 314h0.7M442.5 312h0.7M461 328h0.7M459 309h0.7M450.5 323.5h0.7M456 303h0.7M448 310.5h0.7M452 312h0.7M465.5 310h0.7M468 322.5h0.7M438 305h0.7M448.5 327.5h0.7M463 315.5h0.7M459 302h0.7M466.5 316h0.7M467.5 309.5h0.7M443 314.5h0.7M452.5 323h0.7M464 324.5h0.7M455.5 312h0.7M445.5 315h0.7M466 321.5h0.7M460.5 311.5h0.7M453 315h0.7M451 313.5h0.7M442.5 298.5h0.7M445 311.5h0.7M449 316.5h0.7M454 316h0.7M464 307h0.7M433 311.5h0.7M457 324h0.7M451 305.5h0.7M452 312.5h0.7M465 319.5h0.7M468 326h0.7M425 318h0.7M460 325h0.7M448.5 329h0.7M452 308.5h0.7M452.5 325h0.7M448.5 330h0.7M436.5 310h0.7M451 328.5h0.7M430.5 323.5h0.7M456 326h0.7M441 322.5h0.7M442.5 319.5h0.7M447 321.5h0.7M410 313h0.7M463.5 328h0.7M461 304h0.7M452 308h0.7M467 318h0.7M448.5 310h0.7M464 304.5h0.7M434.5 318.5h0.7M454.5 307.5h0.7M465 315h0.7M445.5 314h0.7M436.5 302.5h0.7M456.5 316h0.7M454.5 324h0.7M451 307h0.7M461 310h0.7M449.5 322.5h0.7M464.5 318.5h0.7M460.5 317.5h0.7M442 312h0.7M443 301.5h0.7M426 322.5h0.7M425.5 326h0.7M428.5 309.5h0.7M454.5 306.5h0.7M464.5 308.5h0.7M455.5 328h0.7M432.5 314.5h0.7M463.5 320.5h0.7M427.5 318.5h0.7M453 304h0.7M437 319.5h0.7M449 310.5h0.7M427.5 304h0.7M451.5 311h0.7M456 324.5h0.7M440.5 312.5h0.7M440.5 323.5h0.7M457 307.5h0.7M439 313.5h0.7M451.5 305h0.7M435.5 317h0.7M460.5 317h0.7M414.5 323h0.7M449 310h0.7M438 331h0.7M454 315.5h0.7M446 317.5h0.7M440 310h0.7M449 312.5h0.7M450.5 322h0.7M455 318.5h0.7M452 322.5h0.7M447 322.5h0.7M461.5 309h0.7M456 308h0.7M461 320.5h0.7M460 316.5h0.7M436.5 306.5h0.7M463 310.5h0.7M464.5 313.5h0.7M458 325h0.7M437.5 310h0.7M461.5 320.5h0.7M450.5 310.5h0.7M451.5 328.5h0.7M459.5 319.5h0.7M466.5 332h0.7M451 304.5h0.7M465 325h0.7M463.5 327.5h0.7M437 316h0.7M461.5 311h0.7M447.5 316h0.7M460 312h0.7M462.5 317h0.7M467 304h0.7M447 312.5h0.7M447 308h0.7M458.5 314.5h0.7M464 331h0.7M435 300h0.7M459.5 323.5h0.7M461 312h0.7M459 314h0.7M466 312.5h0.7M456 309.5h0.7M466 314h0.7M467.5 323h0.7M425.5 309.5h0.7M452.5 318h0.7M448 311.5h0.7M456 305h0.7M437.5 316h0.7M453.5 311h0.7M462.5 330h0.7M450.5 310h0.7M454 319.5h0.7M448.5 301h0.7M467 306.5h0.7M462 307.5h0.7M442.5 321h0.7M445.5 305h0.7M448 314h0.7M456 316h0.7M454.5 322h0.7M462.5 306h0.7M454 320.5h0.7M462.5 316h0.7M453.5 318h0.7M435 313.5h0.7M442 314.5h0.7M424.5 311.5h0.7M451.5 330h0.7M410 318.5h0.7M411 323.5h0.7M465 330h0.7M467.5 316h0.7M452 310.5h0.7M464.5 330h0.7M467.5 319h0.7M437.5 309h0.7M442 324h0.7M438 314.5h0.7M443.5 316h0.7M462 324h0.7M440.5 323h0.7M434 310.5h0.7M457 312h0.7M436 308h0.7M461.5 311.5h0.7M444 324.5h0.7M462.5 312.5h0.7M434.5 325h0.7M454 316.5h0.7M459.5 327.5h0.7M459 301h0.7M441.5 319.5h0.7M458 312.5h0.7M434 307.5h0.7M464 336h0.7M467.5 306h0.7M465.5 323h0.7M467.5 330.5h0.7M436 318h0.7M453 308.5h0.7M458 305.5h0.7M463.5 325h0.7M454 317.5h0.7M458.5 318.5h0.7M454.5 314.5h0.7M445.5 309h0.7M437.5 327h0.7M425.5 320.5h0.7M439.5 306.5h0.7M424 318h0.7M449 327h0.7M443.5 319h0.7M451.5 323.5h0.7M446.5 323h0.7M434.5 329h0.7M437 336.5h0.7M465.5 331.5h0.7M423.5 327h0.7M428.5 337.5h0.7M417.5 336.5h0.7M415.5 332h0.7M434.5 334h0.7M410 338.5h0.7M429.5 335.5h0.7M414.5 324.5h0.7M409.5 334h0.7M420.5 327h0.7M429 336h0.7M460 328h0.7M441 331.5h0.7M422.5 317.5h0.7M412 327.5h0.7M438.5 326h0.7M419.5 344h0.7M448 343.5h0.7M443 335h0.7M419 325.5h0.7M421 329.5h0.7M412.5 342.5h0.7M433.5 326h0.7M423 335h0.7M412 329.5h0.7M438.5 334.5h0.7M435 334.5h0.7M425.5 339.5h0.7M461.5 327.5h0.7M435 337.5h0.7M426 332h0.7M446 327.5h0.7M459 333.5h0.7M436.5 333h0.7M422 341h0.7M461.5 338.5h0.7M415.5 337.5h0.7M442 335.5h0.7M457.5 329h0.7M463.5 330.5h0.7M466.5 335h0.7M412.5 328.5h0.7M429.5 330h0.7M444.5 333h0.7M428 331h0.7M418 326.5h0.7M465.5 337.5h0.7M437 328.5h0.7M448 325h0.7M434 331h0.7M464.5 317.5h0.7M461.5 336.5h0.7M418.5 334h0.7M415 332h0.7M462 349.5h0.7M420.5 332h0.7M425 328.5h0.7M419 329.5h0.7M408 322h0.7M443.5 320h0.7M449 342.5h0.7M465.5 338.5h0.7M443 323.5h0.7M437.5 332h0.7M434.5 349h0.7M462 340h0.7M461.5 342h0.7M456 329.5h0.7M409 331h0.7M445 331h0.7M453 324.5h0.7M418 346.5h0.7M447 342.5h0.7M458 326.5h0.7M461.5 328.5h0.7M409.5 330.5h0.7M467 351h0.7M432.5 330h0.7M432.5 339h0.7M463 342h0.7M450 334.5h0.7M412 335h0.7M444.5 325h0.7M433 334.5h0.7M420.5 332.5h0.7M422 334h0.7M451.5 311.5h0.7M430 336h0.7M439 337h0.7M430 343.5h0.7M432 322h0.7M442.5 328h0.7M459 317.5h0.7M436 330.5h0.7M449 326.5h0.7M423.5 329.5h0.7M440.5 334.5h0.7M419.5 319h0.7M440.5 333h0.7M461 328.5h0.7M466 335h0.7M418.5 331h0.7M445.5 328.5h0.7M436.5 323.5h0.7M446 334h0.7M409 331.5h0.7M465 331h0.7M454 340h0.7M410 324.5h0.7M438.5 341h0.7M457 322.5h0.7M430 340.5h0.7M476.5 313.5h0.7M487.5 304.5h0.7M487 326h0.7M487.5 311h0.7M480 301h0.7M476.5 324h0.7M492 318.5h0.7M480.5 304h0.7M496 320h0.7M482 322.5h0.7M492.5 319h0.7M478.5 315.5h0.7M476 326h0.7M488.5 296h0.7M482 318.5h0.7M483 307h0.7M486 312h0.7M484.5 308h0.7M476 314.5h0.7M479 304h0.7M491 300.5h0.7M483.5 323.5h0.7M479.5 305.5h0.7M477.5 325.5h0.7M480 336.5h0.7M491.5 316h0.7M482.5 311.5h0.7M479.5 303.5h0.7M488.5 317.5h0.7M482 311h0.7M494.5 322h0.7M469 317.5h0.7M481.5 317.5h0.7M475 331h0.7M475.5 324.5h0.7M475.5 303h0.7M468.5 308h0.7M465 303.5h0.7M485 304.5h0.7M477.5 320h0.7M468.5 317h0.7M490.5 315.5h0.7M481.5 299h0.7M485.5 316.5h0.7M479.5 322.5h0.7M483 340.5h0.7M481 311.5h0.7M489 322.5h0.7M477.5 323h0.7M472 304h0.7M472 313.5h0.7M471.5 306h0.7M486.5 330.5h0.7M498 311h0.7M477 286.5h0.7M475 309h0.7M475 322h0.7M483.5 303.5h0.7M474 311.5h0.7M493 306h0.7M480.5 312.5h0.7M481 323.5h0.7M480.5 316.5h0.7M483 316h0.7M485.5 321h0.7M491 315.5h0.7M479.5 316h0.7M475.5 316.5h0.7M473.5 328.5h0.7M488.5 317h0.7M478 304.5h0.7M474 308h0.7M459 316h0.7M477 314.5h0.7M491.5 297.5h0.7M485 324h0.7M479.5 297h0.7M477 314h0.7M489.5 307h0.7M493.5 296.5h0.7M482 328h0.7M483 306.5h0.7M486.5 326.5h0.7M479 316.5h0.7M484 298.5h0.7M481 304h0.7M492 294.5h0.7M482.5 306h0.7M477 313.5h0.7M490.5 296h0.7M472.5 299h0.7M475.5 322h0.7M476 295h0.7M482 313h0.7M491 309.5h0.7M477.5 301h0.7M466 317h0.7M467 313h0.7M473.5 309h0.7M477 327h0.7M480 320h0.7M476 306h0.7M475.5 308h0.7M487 304.5h0.7M473.5 312.5h0.7M495.5 309h0.7M488.5 331.5h0.7M480.5 313h0.7M475.5 324h0.7M483 310.5h0.7M485.5 306h0.7M489.5 297h0.7M490 306.5h0.7M486.5 296.5h0.7M470.5 312.5h0.7M486.5 314.5h0.7M477.5 319h0.7M474.5 305.5h0.7M469.5 314h0.7M492 319h0.7M481.5 308.5h0.7M479 322.5h0.7M471 322.5h0.7M482 321h0.7M492 303.5h0.7M489.5 323h0.7M477 313h0.7M473 301.5h0.7M485.5 302.5h0.7M474 290h0.7M482 318h0.7M482.5 299.5h0.7M493.5 302.5h0.7M485.5 311h0.7M471 300.5h0.7M485 308h0.7M473.5 324h0.7M492.5 323.5h0.7M486.5 308h0.7M488 300h0.7M477 315.5h0.7M479 325.5h0.7M477.5 321h0.7M474 313.5h0.7M485.5 299h0.7M472 305h0.7M476 317h0.7M485.5 312.5h0.7M480 305.5h0.7M479 290h0.7M478.5 320.5h0.7M495.5 311h0.7M480 327.5h0.7M497.5 315h0.7M472 337h0.7M490.5 321.5h0.7M486 300.5h0.7M470.5 322h0.7M493.5 294h0.7M487.5 319.5h0.7M486.5 319.5h0.7M466.5 310.5h0.7M485 317.5h0.7M475 320h0.7M487.5 313.5h0.7M491 306h0.7M491.5 327.5h0.7M479 311h0.7M490 296.5h0.7M490.5 303h0.7M480 312h0.7M483.5 305h0.7M483 322h0.7M492.5 309h0.7M485 311h0.7M497 315.5h0.7M491 324.5h0.7M482.5 322h0.7M472.5 313.5h0.7M488.5 306h0.7M454.5 306h0.7M472.5 312h0.7M479 318.5h0.7M469 299.5h0.7M488.5 301h0.7M484.5 301.5h0.7M484 294h0.7M486.5 313h0.7M492.5 316h0.7M489 315h0.7M474.5 318.5h0.7M485 330.5h0.7M494.5 316h0.7M466.5 329.5h0.7M489 300h0.7M480 307.5h0.7M487 291.5h0.7M467 333h0.7M492 306.5h0.7M481.5 314.5h0.7M477.5 304h0.7M484.5 303h0.7M483 317.5h0.7M483 318.5h0.7M487.5 316.5h0.7M485 297.5h0.7M479.5 310.5h0.7M476.5 332h0.7M483.5 302.5h0.7M496.5 315h0.7M477 308h0.7M481 323h0.7M483.5 316.5h0.7M480 305h0.7M479.5 319h0.7M495.5 301h0.7M473 308h0.7M475 311h0.7M473.5 303.5h0.7M482 295h0.7M485.5 332h0.7M476.5 307.5h0.7M479.5 323.5h0.7M489.5 297.5h0.7M476.5 303h0.7M478 323.5h0.7M490.5 316.5h0.7M477 311h0.7M468.5 304.5h0.7M482 303.5h0.7M476.5 318h0.7M480 331.5h0.7M473 316.5h0.7M487.5 325.5h0.7M475 302.5h0.7M472.5 286.5h0.7M475.5 312h0.7M480 311h0.7M482 294h0.7" stroke="#000" stroke-width="0.7" stroke-opacity="0.5" fill="none"/>
<path d="M472.5 321h0.8M479.5 319h0.8M480.5 318h0.8M463 322.5h0.8M479.5 307.5h0.8M481 306.5h0.8M478 314h0.8M481 311.5h0.8M473.5 310.5h0.8M465 316h0.8M466.5 311.5h0.8M481.5 293h0.8M481.5 301.5h0.8M481.5 329h0.8M479.5 305h0.8M473.5 307.5h0.8M468.5 297.5h0.8M479 309h0.8M470.5 303h0.8M457.5 309.5h0.8M473 312.5h0.8M472 311h0.8M469.5 310h0.8M480.5 316.5h0.8M473 326h0.8M471.5 304.5h0.8M478 313h0.8M469 313h0.8M460.5 314.5h0.8M476 308.5h0.8M478 314.5h0.8M473 310h0.8M481.5 306.5h0.8M468 311h0.8M475 303.5h0.8M459.5 314h0.8M463.5 317.5h0.8M476 311h0.8M477 324h0.8M469.5 318h0.8M473.5 314h0.8M471.5 314.5h0.8M476 299h0.8M475 309.5h0.8M478 303h0.8M477 310h0.8M467.5 315h0.8M471 319.5h0.8M480.5 319.5h0.8M462 315h0.8M480.5 309h0.8M474 301.5h0.8M468 314h0.8M479 310.5h0.8M480.5 322h0.8M479.5 315h0.8M477.5 305.5h0.8M479.5 298h0.8M481 303.5h0.8M470.5 305h0.8M469 308h0.8M482 315h0.8M480 316.5h0.8M475 314.5h0.8M479 304.5h0.8M469.5 291.5h0.8M469.5 314.5h0.8M479 323.5h0.8M466 302h0.8M479.5 313.5h0.8M473.5 312h0.8M473 304h0.8M465 308h0.8M478.5 301.5h0.8M468.5 305h0.8M478.5 306.5h0.8M478 309h0.8M472 317h0.8M480 323h0.8M477 313.5h0.8M479.5 314.5h0.8M481 311h0.8M480.5 313.5h0.8M481 313.5h0.8M478.5 303.5h0.8M459 303.5h0.8M477 310.5h0.8M478.5 307.5h0.8M477 320h0.8M471 314.5h0.8M466.5 309.5h0.8M471.5 308.5h0.8M478.5 314.5h0.8M474.5 310.5h0.8M477.5 329.5h0.8M469 317.5h0.8M479.5 305.5h0.8M479 320h0.8M475.5 306h0.8M478 307.5h0.8M473 308h0.8M468.5 331.5h0.8M481 314.5h0.8M477 306.5h0.8M481.5 313h0.8M482 292h0.8M470.5 315h0.8M479.5 299.5h0.8M472 301.5h0.8M478 308.5h0.8M476 327h0.8M472 315.5h0.8M480.5 311h0.8M480.5 318.5h0.8M477.5 312.5h0.8M479 323h0.8M465.5 318h0.8M467 311h0.8M468 308h0.8M474 304h0.8M478.5 300.5h0.8M477.5 306h0.8M476.5 308.5h0.8M481.5 318h0.8M467.5 318h0.8M470 324h0.8M474.5 304.5h0.8M479 306.5h0.8M473 303.5h0.8M465 314h0.8M472 309h0.8M481.5 302h0.8M480.5 315h0.8M477 296h0.8M481.5 300.5h0.8M466.5 308.5h0.8M467.5 298h0.8M475.5 308h0.8M469 323.5h0.8M475 305h0.8M472 322h0.8M479.5 308h0.8M481 307.5h0.8M476 305.5h0.8M476.5 314.5h0.8M476.5 305h0.8M473 321.5h0.8M469 298h0.8M480 314.5h0.8M462 318.5h0.8M470 290h0.8M480.5 302.5h0.8M474.5 311h0.8M472.5 309h0.8M470.5 324h0.8M476 326h0.8M478 306.5h0.8M473 302.5h0.8M477.5 309.5h0.8M479 317.5h0.8M470.5 311.5h0.8M479 292.5h0.8M482 312h0.8M475 313.5h0.8M482 318.5h0.8M474 304.5h0.8M472.5 301.5h0.8M472 319h0.8M468 310h0.8M474.5 303h0.8M475 321h0.8M471 321h0.8M475.5 301.5h0.8M465.5 316.5h0.8M471 330h0.8M477.5 303h0.8M473 307h0.8M467 317.5h0.8M471 306.5h0.8M474.5 319h0.8M466.5 310h0.8M472.5 314.5h0.8M479.5 302h0.8M480 307h0.8M481 318.5h0.8M475 304h0.8M472.5 312.5h0.8M477 311.5h0.8M478 301.5h0.8M481.5 310h0.8M478 300h0.8M472 324h0.8M469 314.5h0.8M475.5 319.5h0.8M457 304.5h0.8M473 306h0.8M474.5 304h0.8M479.5 314h0.8M477.5 289h0.8M471.5 301h0.8M471.5 310h0.8M479.5 304.5h0.8M469 302.5h0.8M466.5 309h0.8M472 318h0.8M475 314h0.8M473.5 320.5h0.8M481 295.5h0.8M477 316h0.8M479 319.5h0.8M478.5 318h0.8M464 309h0.8M469.5 306h0.8M465 311.5h0.8M477.5 308h0.8M472 315h0.8M480.5 301h0.8M476.5 309.5h0.8M466.5 316.5h0.8M480 312.5h0.8M474 316h0.8M471 315h0.8M475 306h0.8M474 311h0.8M471 314h0.8M474.5 307h0.8M479.5 298.5h0.8M470.5 309h0.8M473.5 310h0.8M464.5 308.5h0.8M465.5 319h0.8M481.5 314h0.8M480 310.5h0.8M475.5 318.5h0.8M476 310h0.8M479 311h0.8M465 310.5h0.8M469.5 319h0.8M481.5 321.5h0.8M479.5 312h0.8M481.5 309.5h0.8M464 312.5h0.8M478 301h0.8M474.5 325.5h0.8M469 299.5h0.8M471 316h0.8M477.5 317h0.8M478.5 316.5h0.8M477 309h0.8M474.5 301.5h0.8M476.5 311h0.8M473 308.5h0.8M479.5 311.5h0.8M478.5 317h0.8M478 320.5h0.8M480 315.5h0.8M481 312.5h0.8M466.5 313.5h0.8M478 315.5h0.8M474.5 297.5h0.8M478 322.5h0.8M470 302h0.8M475 311h0.8M478 292h0.8M459.5 301.5h0.8M481 312h0.8M470.5 306h0.8M479.5 310.5h0.8M477 313h0.8M470 301.5h0.8M481 304h0.8M474.5 302h0.8M480 308.5h0.8M479 302.5h0.8M474.5 323h0.8M480 306.5h0.8M472 281.5h0.8M482 317.5h0.8M473 309h0.8M480 319.5h0.8M475 295h0.8M466.5 299h0.8M470.5 311h0.8M475.5 321h0.8M473 301h0.8M452.5 305.5h0.8M479 303h0.8M464.5 291h0.8M472 313.5h0.8M472.5 329.5h0.8M479 315.5h0.8M479.5 317.5h0.8M477 312h0.8M475 312.5h0.8M478.5 299h0.8M472.5 302.5h0.8M474.5 317.5h0.8M473 311.5h0.8M481.5 327.5h0.8M469.5 311h0.8M481.5 312h0.8M467.5 311.5h0.8M473 307.5h0.8M481 308.5h0.8M479 316h0.8M478.5 313.5h0.8M476 304.5h0.8M476.5 327h0.8M481.5 293.5h0.8M479 305h0.8M472 309.5h0.8M460.5 309.5h0.8M470.5 308.5h0.8M473 303h0.8M479.5 304h0.8M462 302.5h0.8M475 319h0.8M479.5 308.5h0.8M479 306h0.8M474 310h0.8M470.5 297.5h0.8M471 304h0.8M473 302h0.8M481.5 307.5h0.8M482 316.5h0.8M477 298.5h0.8M481 302.5h0.8M478.5 319.5h0.8M478.5 310.5h0.8M474.5 321.5h0.8M480.5 297h0.8M472 304h0.8M480 322h0.8M469 313.5h0.8M476 308h0.8M467.5 308.5h0.8M473 312h0.8M473 315h0.8M481 315h0.8M470.5 313h0.8M480 306h0.8M464.5 312h0.8M465.5 313h0.8M480 317.5h0.8M478.5 318.5h0.8M474.5 311.5h0.8M479 328h0.8M475 313h0.8M469.5 297.5h0.8M472 299.5h0.8M481.5 308.5h0.8M468 323.5h0.8M466 309h0.8M474 308.5h0.8M477 331h0.8M477 304h0.8M480.5 320.5h0.8M476.5 318.5h0.8M481.5 326.5h0.8M474 314h0.8M482 323h0.8M462.5 310.5h0.8M476 314h0.8M480 308h0.8M454.5 302.5h0.8M468 321.5h0.8M474.5 320h0.8M479 307.5h0.8M477.5 307h0.8M476.5 295h0.8M454.5 305h0.8M478 304.5h0.8M474.5 312.5h0.8M474.5 313.5h0.8M475.5 304.5h0.8M475 304.5h0.8M466.5 299.5h0.8M469 329h0.8M470.5 319.5h0.8M463 309h0.8M469 306.5h0.8M473.5 286h0.8M474.5 298h0.8M477.5 318h0.8M480 310h0.8M479.5 323.5h0.8M468 316.5h0.8M465.5 323.5h0.8M466 306h0.8M476.5 302h0.8M479 308.5h0.8M479.5 316.5h0.8M477.5 319.5h0.8M478.5 309.5h0.8M471 319h0.8M480 307.5h0.8M469.5 316.5h0.8M476.5 313.5h0.8M480 318.5h0.8M464.5 313.5h0.8M476.5 318h0.8M481 316h0.8M478.5 314h0.8M475.5 311.5h0.8M473.5 301.5h0.8M480 311.5h0.8M479.5 309.5h0.8M481.5 304.5h0.8M475 319.5h0.8M477 303h0.8M464.5 315h0.8M466 304.5h0.8M475.5 306.5h0.8M478.5 320.5h0.8M474.5 309h0.8M480.5 308.5h0.8M476 310.5h0.8M467 327h0.8M480.5 300h0.8M476 305h0.8M473.5 316.5h0.8M480 311h0.8M466 327h0.8M477.5 302.5h0.8M470 325h0.8M471.5 326.5h0.8M475 321.5h0.8M477.5 311h0.8M478.5 316h0.8M462 311h0.8M454.5 303h0.8M473.5 303.5h0.8M478.5 305.5h0.8M474.5 302.5h0.8M480.5 319h0.8M478 310h0.8M472.5 296h0.8M480.5 305h0.8M478 307h0.8M472.5 319h0.8M471 321.5h0.8M481 303h0.8M482 322h0.8M472.5 304h0.8M467 306h0.8M479 319h0.8M463 313.5h0.8M481 310.5h0.8M479 308h0.8M476 311.5h0.8M475.5 309h0.8M475.5 315h0.8M472 310h0.8M463.5 316h0.8M459 315h0.8M480.5 317.5h0.8M477 321h0.8M471.5 312.5h0.8M463 302h0.8M469.5 318.5h0.8M479 309.5h0.8M471.5 320.5h0.8M479.5 315.5h0.8M480.5 312h0.8M469.5 323.5h0.8M476 318h0.8M473.5 305h0.8M446.5 334h0.8M465 317h0.8M482 325h0.8M472 311.5h0.8M462 305.5h0.8M462.5 300h0.8M462 321h0.8M480.5 301.5h0.8M475.5 294.5h0.8M473 313.5h0.8M473 321h0.8M462 318h0.8M473.5 307h0.8M473.5 317.5h0.8M475 305.5h0.8M480 298.5h0.8M477 304.5h0.8M480 289.5h0.8M462.5 296.5h0.8M477.5 325h0.8M481 302h0.8M475 307.5h0.8M481.5 311h0.8M481.5 310.5h0.8M466.5 319h0.8M470.5 308h0.8M462 309.5h0.8M463.5 314h0.8M458.5 317h0.8M466 318.5h0.8M478.5 312.5h0.8M478.5 315h0.8M478.5 293.5h0.8M456 317.5h0.8M464.5 303h0.8M478.5 330.5h0.8M468 316h0.8M476.5 300h0.8M461.5 305.5h0.8M477.5 310.5h0.8M470 314.5h0.8M459.5 316.5h0.8M471 300h0.8M470.5 316h0.8M472 317.5h0.8M478 302h0.8M477 308h0.8M481 305.5h0.8M482 311.5h0.8M480.5 300.5h0.8M480 320h0.8M475 316.5h0.8M472.5 305h0.8M467 313.5h0.8M468 307.5h0.8M475.5 312h0.8M480.5 310.5h0.8M475.5 307h0.8M479 295h0.8M481 315.5h0.8M476.5 315h0.8M470.5 301h0.8M481.5 319h0.8M475.5 302.5h0.8M477 311h0.8M473 311h0.8M472.5 296.5h0.8M478 306h0.8M465.5 309h0.8M466.5 316h0.8M480.5 307.5h0.8M476.5 308h0.8M469 316.5h0.8M478.5 308.5h0.8M482 298.5h0.8M467 308h0.8M469 307h0.8M466.5 315h0.8M474.5 313h0.8M478 326.5h0.8M457.5 315.5h0.8M481.5 304h0.8M482 316h0.8M469 310h0.8M452 315.5h0.8M454.5 305.5h0.8M480 316h0.8M478.5 295.5h0.8M477 307.5h0.8M475 307h0.8M476 298h0.8M474.5 303.5h0.8M480 305h0.8M480 309h0.8M475 301.5h0.8M481 292.5h0.8M482 305h0.8M476 315.5h0.8M473.5 322.5h0.8M471 310h0.8M460.5 317.5h0.8M478.5 304h0.8M479.5 326.5h0.8M474 319h0.8M464.5 300.5h0.8M477 312.5h0.8M476.5 321.5h0.8M472 320.5h0.8M470.5 307.5h0.8M471.5 313.5h0.8M469.5 307.5h0.8M476.5 320.5h0.8M464.5 310.5h0.8M472.5 311h0.8M469.5 298h0.8M479 313.5h0.8M480 309.5h0.8M470 317.5h0.8M458 301.5h0.8M481 301.5h0.8M479.5 310h0.8M476.5 312.5h0.8M461.5 300.5h0.8M468.5 323h0.8M477 300.5h0.8M476.5 309h0.8M480.5 315.5h0.8M477.5 313h0.8M467.5 300.5h0.8M478.5 311h0.8M471 307.5h0.8M482 312.5h0.8M478 302.5h0.8M476.5 310h0.8M475.5 305h0.8M479.5 313h0.8M462 309h0.8M468 307h0.8M474.5 315.5h0.8M450.5 311.5h0.8M478 318h0.8M462.5 322.5h0.8M474 314.5h0.8M478.5 321.5h0.8M463 311h0.8M482 313.5h0.8M473.5 312.5h0.8M466 321.5h0.8M460 316.5h0.8M474.5 300.5h0.8M466 312h0.8M474.5 306h0.8M479 316.5h0.8M480.5 311.5h0.8M468.5 304.5h0.8M471 304.5h0.8M468.5 308h0.8M476.5 311.5h0.8M473.5 295.5h0.8M473.5 297h0.8M481 306h0.8M478.5 309h0.8M472.5 313.5h0.8M470 305h0.8M459.5 304h0.8M469.5 304h0.8M474.5 308h0.8M470.5 321.5h0.8M466 320h0.8M479.5 317h0.8M481 314h0.8M476.5 313h0.8M464 297.5h0.8M475.5 300.5h0.8M475.5 313h0.8M463.5 318h0.8M472.5 301h0.8M477 292h0.8M465.5 301h0.8M477 325.5h0.8M466.5 315.5h0.8M468 325.5h0.8M472.5 317.5h0.8M469.5 305.5h0.8M476.5 307.5h0.8M454.5 294h0.8M463 315h0.8M475 306.5h0.8M466 317.5h0.8M475 302.5h0.8M471.5 303.5h0.8M469.5 308h0.8M477.5 316.5h0.8M461 299h0.8M477 300h0.8M476 306h0.8M481 310h0.8M482 328.5h0.8M474 324.5h0.8M477 302.5h0.8M469 315.5h0.8M477 296.5h0.8M479.5 302.5h0.8M469.5 312h0.8M474 322.5h0.8M463 317h0.8M471.5 322h0.8M469.5 321.5h0.8M475 293h0.8M478.5 303h0.8M479 302h0.8M482 314.5h0.8M480.5 304.5h0.8M473.5 311.5h0.8M475 320h0.8M466.5 317h0.8M476 314.5h0.8M472.5 320h0.8M472 321h0.8M472 312h0.8M482 304.5h0.8M466 313.5h0.8M474 309.5h0.8M471.5 320h0.8M465.5 292h0.8M478.5 312h0.8M481 297h0.8M467.5 316h0.8M478.5 308h0.8M478.5 306h0.8M474.5 296h0.8M467 303h0.8M481.5 305.5h0.8M481 319h0.8M468 317h0.8M473.5 304h0.8M481.5 297h0.8M480.5 304h0.8M481.5 297.5h0.8M477 302h0.8M475.5 320.5h0.8M473.5 320h0.8M461.5 315.5h0.8M474 301h0.8M473 317.5h0.8M473 314h0.8M451.5 313h0.8M480 302.5h0.8M463.5 314.5h0.8M475.5 316h0.8M466.5 314.5h0.8M468 301.5h0.8M478.5 307h0.8M473.5 301h0.8M461.5 310h0.8M474.5 310h0.8M481.5 309h0.8M473.5 331h0.8M475.5 317.5h0.8M470.5 301.5h0.8M476.5 325h0.8M479 304h0.8M474 315h0.8M481 330h0.8M471 307h0.8M477.5 299h0.8M467.5 310h0.8M471.5 316h0.8M475.5 320h0.8M458.5 300.5h0.8M466.5 318.5h0.8M461 316.5h0.8M469.5 324h0.8M473 304.5h0.8M479.5 322h0.8M481.5 316.5h0.8M480 293.5h0.8M468 312.5h0.8M477.5 306.5h0.8M479.5 320.5h0.8M478.5 304.5h0.8M460.5 303.5h0.8M467 312.5h0.8M465.5 304h0.8M470 316.5h0.8M473.5 318h0.8M473.5 311h0.8M478.5 311.5h0.8M474 300h0.8M481.5 308h0.8M476.5 312h0.8M472 316h0.8M479 326h0.8M475 309h0.8M480.5 299.5h0.8M476 307h0.8M475.5 312.5h0.8M466.5 302h0.8M481.5 303h0.8M468.5 312h0.8M476 309.5h0.8M481.5 313.5h0.8M472.5 295h0.8M480.5 325h0.8M475 322.5h0.8M481.5 312.5h0.8M469.5 315.5h0.8M465.5 315.5h0.8M472.5 308.5h0.8M482 313h0.8M472.5 314h0.8M476 335.5h0.8M471.5 325.5h0.8M464.5 310h0.8M477.5 318.5h0.8M477.5 320.5h0.8M450 309h0.8M466.5 306.5h0.8M470 313.5h0.8M475 301h0.8M480.5 298h0.8M480.5 308h0.8M478 318.5h0.8M478 316h0.8M474 306.5h0.8M476 313.5h0.8M475.5 305.5h0.8M470.5 320.5h0.8M471 312h0.8M470 312h0.8M474 318.5h0.8M477.5 305h0.8M468 311.5h0.8M469 319.5h0.8M480.5 306h0.8M476.5 307h0.8M475.5 304h0.8M481 325.5h0.8M468.5 316.5h0.8M472.5 307.5h0.8M476.5 304.5h0.8M475 315h0.8M475.5 318h0.8M481.5 302.5h0.8M470.5 314h0.8M474 308h0.8M471.5 299h0.8M474 324h0.8M476 317h0.8M478.5 313h0.8M481.5 306h0.8M470 305.5h0.8M462 324.5h0.8M476.5 317h0.8M475.5 307.5h0.8M473 329.5h0.8M479 318.5h0.8M480 301.5h0.8M470 312.5h0.8M476 307.5h0.8M472 305.5h0.8M466 313h0.8M478.5 322.5h0.8M476 312h0.8M478 297h0.8M462 305h0.8M475.5 319h0.8M473.5 324.5h0.8M477 305h0.8M464.5 316.5h0.8M457.5 310h0.8M476 319h0.8M476 302.5h0.8M473.5 300.5h0.8M479 320.5h0.8M462 306.5h0.8M475 302h0.8M482 309h0.8M471.5 307.5h0.8M478 312h0.8M460 309h0.8M481 313h0.8M463 303h0.8M473.5 319h0.8M458.5 322h0.8M466 319.5h0.8M479.5 301h0.8M477.5 319h0.8M454 310.5h0.8M468.5 312.5h0.8M472 306h0.8M471.5 298h0.8M479 307h0.8M465.5 317.5h0.8M477 317.5h0.8M476.5 302.5h0.8M472 318.5h0.8M475 303h0.8M461.5 322h0.8M473.5 318.5h0.8M465 312h0.8M464 324.5h0.8M476 303h0.8M474.5 307.5h0.8M477 314.5h0.8M468.5 324.5h0.8M466.5 327.5h0.8M467.5 320h0.8M471 311.5h0.8M467.5 302.5h0.8M473 310.5h0.8M467 308.5h0.8M463 319h0.8M474.5 306.5h0.8M468.5 319.5h0.8M476.5 324.5h0.8M480 300h0.8M481.5 311.5h0.8M479 300h0.8M463 321.5h0.8M476 302h0.8M481.5 315.5h0.8M464 304.5h0.8M481.5 322h0.8M480 317h0.8M471.5 321.5h0.8M453.5 296.5h0.8M477.5 309h0.8M479 315h0.8M454 311.5h0.8M468.5 301h0.8M473 319.5h0.8M470 303.5h0.8M480 323.5h0.8" stroke="#000" stroke-width="0.8" stroke-opacity="0.8" fill="none"/>
<path d="M484 306h1.0M488.5 302h1.0M479.5 314h1.0M474 312.5h1.0M482.5 312h1.0M484.5 297.5h1.0M475.5 319h1.0M479.5 309.5h1.0M485.5 303h1.0M491.5 305.5h1.0M470 307.5h1.0M491.5 299.5h1.0M481 305h1.0M490.5 303.5h1.0M473 317h1.0M471.5 311.5h1.0M479 314.5h1.0M480 312.5h1.0M489 305.5h1.0M476 303.5h1.0M485 311.5h1.0M477 310h1.0M485.5 309h1.0M489.5 295h1.0M479.5 316.5h1.0M490 302.5h1.0M475 314.5h1.0M486 305h1.0M483.5 307h1.0M482.5 307h1.0M485.5 303.5h1.0M473.5 318.5h1.0M480 301h1.0M480.5 301.5h1.0M487 299.5h1.0M475 306h1.0M492 309h1.0M477.5 306h1.0M469.5 323.5h1.0M488.5 301h1.0M488.5 306h1.0M486 306h1.0M478 310h1.0M484 302.5h1.0M484 306.5h1.0M492 297h1.0M485.5 312.5h1.0M480.5 316.5h1.0M469.5 303.5h1.0M466 307h1.0M480 303.5h1.0M476 314h1.0M490.5 307.5h1.0M476 316h1.0M488 295.5h1.0M484 308h1.0M486.5 305h1.0M487.5 306h1.0M480.5 310.5h1.0M486.5 298.5h1.0M480 304h1.0M478.5 296.5h1.0M481 305.5h1.0M478.5 301.5h1.0M490.5 296.5h1.0M476 302h1.0M485 306.5h1.0M475.5 314.5h1.0M479.5 306.5h1.0M477.5 300h1.0M475.5 308h1.0M477.5 312h1.0M481.5 296.5h1.0M482.5 308h1.0M483 305h1.0M476.5 308h1.0M475.5 310h1.0M480 302h1.0M474.5 317.5h1.0M489.5 298.5h1.0M478.5 307.5h1.0M484.5 296h1.0M487.5 301.5h1.0M483 306h1.0M491 302h1.0M474 313.5h1.0M485 307.5h1.0M482.5 298.5h1.0M478 314h1.0M488 293.5h1.0M482.5 303.5h1.0M482.5 311.5h1.0M479 321h1.0M476.5 318.5h1.0M473.5 307.5h1.0M476.5 316.5h1.0M487.5 295.5h1.0M480 310.5h1.0M476.5 311h1.0M481 301.5h1.0M487.5 302.5h1.0M476.5 306.5h1.0M478.5 316.5h1.0M472.5 305h1.0M476 311.5h1.0M479.5 318h1.0M478.5 306h1.0M475 309.5h1.0M473.5 302h1.0M480.5 305.5h1.0M487 311.5h1.0M482.5 309.5h1.0M486.5 299.5h1.0M485.5 308h1.0M493 303h1.0M481.5 310.5h1.0M486.5 310.5h1.0M488.5 296h1.0M474.5 300h1.0M477 309h1.0M478.5 321h1.0M473 312h1.0M488 308h1.0M476.5 309h1.0M484 307h1.0M493.5 299h1.0M481 303.5h1.0M472.5 315h1.0M492.5 306.5h1.0M484.5 304h1.0M488.5 308h1.0M484 304.5h1.0M483 311.5h1.0M493.5 300h1.0M479 309.5h1.0M481.5 309h1.0M486 303.5h1.0M476 312.5h1.0M485 302h1.0M492 303h1.0M487 300.5h1.0M488.5 302.5h1.0M469 315h1.0M483 303.5h1.0M484 311.5h1.0M491 304.5h1.0M482 307h1.0M474 305h1.0M474 313h1.0M477.5 299.5h1.0M474.5 303.5h1.0M488 303.5h1.0M475.5 313.5h1.0M486 303h1.0M476.5 305.5h1.0M480 307.5h1.0M484.5 301.5h1.0M470.5 309.5h1.0M482.5 302.5h1.0M487.5 302h1.0M472 314.5h1.0M477 300.5h1.0M480 305h1.0M483 308.5h1.0M488.5 300h1.0M489 304.5h1.0M490 308.5h1.0M469.5 305h1.0M491 303.5h1.0M476.5 305h1.0M483.5 315.5h1.0M482.5 310h1.0M487.5 308.5h1.0M487 292.5h1.0M474 308h1.0M486 306.5h1.0M490.5 303h1.0M478 303h1.0M481.5 305.5h1.0M475.5 319.5h1.0M478 307.5h1.0M484.5 306h1.0M483.5 302h1.0M486 312h1.0M482.5 308.5h1.0M488 304h1.0M481.5 315h1.0M492.5 304h1.0M476 298h1.0M487 305.5h1.0M483 310h1.0M482 309.5h1.0M487 310h1.0M481 312h1.0M487 312h1.0M487.5 294.5h1.0M486 300h1.0M482.5 314h1.0M492 313.5h1.0M480.5 312h1.0M481 304.5h1.0M483.5 306.5h1.0M478 312h1.0M486.5 304.5h1.0M477.5 305h1.0M476.5 310h1.0M479 308.5h1.0M475.5 304h1.0M490 304h1.0M469 305.5h1.0M482 320h1.0M486 311h1.0M478.5 308h1.0M480.5 302.5h1.0M489.5 305.5h1.0M479 307h1.0M489.5 305h1.0M489.5 300.5h1.0M473.5 314.5h1.0M480.5 310h1.0M481.5 303h1.0M490 299h1.0M482.5 306.5h1.0M487.5 309.5h1.0M483.5 316h1.0M482 304h1.0M482 303h1.0M481.5 314.5h1.0M483 295h1.0M487.5 307h1.0M487 297.5h1.0M485 302.5h1.0M491 313.5h1.0M467 325.5h1.0M477.5 302.5h1.0M473.5 301.5h1.0M484.5 308.5h1.0M476.5 306h1.0M481 308.5h1.0M487.5 314.5h1.0M483 306.5h1.0M479 306.5h1.0M472.5 320h1.0M482 308.5h1.0M471 317.5h1.0M482 308h1.0M469.5 307.5h1.0M480.5 303h1.0M479 310.5h1.0M481 299h1.0M477.5 313.5h1.0M483 304h1.0M480.5 309.5h1.0M488 310.5h1.0M477.5 309h1.0M483.5 317h1.0M492.5 302h1.0M484.5 301h1.0M480 296h1.0M484 303h1.0M480.5 313h1.0M477.5 299h1.0M490.5 302h1.0M478 306h1.0M481 309.5h1.0M486 301h1.0M486.5 310h1.0M492 308h1.0M473.5 318h1.0M478 305.5h1.0M483 304.5h1.0M474 312h1.0M485 301h1.0M486 299.5h1.0M476.5 301h1.0M482 310h1.0M482 311.5h1.0M485.5 305h1.0M484.5 307h1.0M476.5 308.5h1.0M482 310.5h1.0M488 310h1.0M481.5 299.5h1.0M483 300h1.0M479 311.5h1.0M476 297h1.0M481 297.5h1.0M475 301.5h1.0M475.5 307.5h1.0M482 302.5h1.0M490.5 306.5h1.0M478 309.5h1.0M486 295h1.0M481.5 301h1.0M479.5 302.5h1.0M479 310h1.0M479.5 310h1.0M471 316.5h1.0M467.5 317.5h1.0M481 310h1.0M481 307h1.0M469.5 313.5h1.0M490.5 307h1.0M480 300.5h1.0M487 303h1.0M493.5 286.5h1.0M481 302.5h1.0M481.5 297.5h1.0M481.5 304.5h1.0M472 305.5h1.0M481 309h1.0M481 314.5h1.0M482 291h1.0M477 302h1.0M471.5 303.5h1.0M484.5 304.5h1.0M483 307.5h1.0M482 305.5h1.0M481.5 301.5h1.0M474.5 305.5h1.0M491.5 308h1.0M486 314.5h1.0M490.5 297h1.0M492.5 290.5h1.0M480 297h1.0M481 300.5h1.0M478 317h1.0M478.5 302h1.0M484 312.5h1.0M485.5 300h1.0M490 306.5h1.0M479 312.5h1.0M478 300h1.0M479 301h1.0M473.5 309h1.0M485 305h1.0M480.5 308.5h1.0M484 309.5h1.0M488 299h1.0M487 301h1.0M476 306h1.0M485.5 308.5h1.0M486 302h1.0M477 311.5h1.0M478 310.5h1.0M486.5 308.5h1.0M489.5 301h1.0M488 306h1.0M475.5 300h1.0M479 305.5h1.0M472 313h1.0M492.5 312h1.0M484.5 300h1.0M479.5 315.5h1.0M482 302h1.0M483.5 313.5h1.0M478.5 308.5h1.0M478.5 312h1.0M487 303.5h1.0M472.5 317h1.0M475 309h1.0M477.5 297h1.0M489 297.5h1.0M491.5 299h1.0M479.5 310.5h1.0M477 306.5h1.0M479.5 304h1.0M482.5 309h1.0M481.5 319h1.0M475.5 301.5h1.0M479.5 312h1.0M488.5 306.5h1.0M477.5 312.5h1.0M474.5 311.5h1.0M478 318h1.0M484 304h1.0M476 304h1.0M485 310h1.0M478.5 301h1.0M480 305.5h1.0M485 309h1.0M485.5 307.5h1.0M472.5 307h1.0M478.5 304h1.0M482 309h1.0M480.5 304h1.0M475 303h1.0M482 303.5h1.0M471.5 317.5h1.0M482 318h1.0M483.5 305.5h1.0M483.5 314h1.0M472.5 306h1.0M475.5 317h1.0M486.5 309.5h1.0M477.5 308h1.0M473.5 311h1.0M482.5 315h1.0M487 296h1.0M488.5 308.5h1.0M487.5 309h1.0M486 308.5h1.0M480 312h1.0M472 303.5h1.0M471 313.5h1.0M485.5 301.5h1.0M490.5 308h1.0M484.5 305.5h1.0M489 303h1.0M483 299h1.0M481 300h1.0M481.5 321h1.0M491.5 310.5h1.0M482.5 302h1.0M484 301h1.0M481.5 308h1.0M486.5 305.5h1.0M487.5 313.5h1.0M483.5 299h1.0M476 317h1.0M483.5 302.5h1.0M488.5 299.5h1.0M486 315h1.0M484.5 300.5h1.0M483 301.5h1.0M486.5 303.5h1.0M478.5 305h1.0M489 302.5h1.0M471.5 313h1.0M480.5 311.5h1.0M484.5 309h1.0M484.5 306.5h1.0M477.5 300.5h1.0M482 305h1.0M484 302h1.0M469 316h1.0M482 307.5h1.0M480.5 306.5h1.0M484 300h1.0M484 296h1.0M474 310h1.0M490 300.5h1.0M489 308.5h1.0M475 308h1.0M487.5 304.5h1.0M490.5 308.5h1.0M486.5 296.5h1.0M471.5 315.5h1.0M468 315.5h1.0M485.5 310h1.0M491 302.5h1.0M478 311.5h1.0M488.5 301.5h1.0M483 309h1.0M480 309.5h1.0M472.5 316.5h1.0M480.5 311h1.0M475 310.5h1.0M475.5 318h1.0M475 305.5h1.0M489 305h1.0M475 311.5h1.0M474 309.5h1.0M487 298h1.0M478.5 309.5h1.0M474.5 313h1.0M476 310h1.0M472 304.5h1.0M469 301.5h1.0M485.5 314h1.0M473 308h1.0M481.5 307.5h1.0M474.5 299.5h1.0M462.5 324h1.0M484 298.5h1.0M484 308.5h1.0M477.5 294.5h1.0M480.5 299.5h1.0M487 314h1.0M475 321h1.0M479.5 319.5h1.0M471 319.5h1.0M486.5 306h1.0M488.5 300.5h1.0M483.5 303.5h1.0M475.5 310.5h1.0M492.5 307.5h1.0M484.5 303h1.0M484.5 299h1.0M485.5 306.5h1.0M492 296.5h1.0M485 313h1.0M492 298.5h1.0M477.5 305.5h1.0M478 317.5h1.0M479 304h1.0M475 308.5h1.0M493.5 306.5h1.0M483 300.5h1.0M485.5 302.5h1.0M478 316.5h1.0M481 299.5h1.0M479 319h1.0M486.5 302h1.0M487 307.5h1.0M479.5 313h1.0M483.5 304h1.0M479 305h1.0M486 296.5h1.0M490 304.5h1.0M471.5 314.5h1.0M485 299.5h1.0M477 309.5h1.0M485 308.5h1.0M488 302h1.0M482 299.5h1.0M487.5 304h1.0M492 305.5h1.0M485 303.5h1.0M484.5 297h1.0M482 300h1.0M479 311h1.0M487 298.5h1.0M479.5 303h1.0M473.5 311.5h1.0M477 320.5h1.0M480.5 307.5h1.0M481.5 303.5h1.0M481 303h1.0M493 307.5h1.0M477.5 307.5h1.0M481.5 316h1.0M491 301h1.0M483.5 309h1.0M481.5 308.5h1.0M477 311h1.0M479.5 309h1.0M493 305h1.0M473 311h1.0M482.5 305.5h1.0M483.5 300h1.0M486 309h1.0M474.5 305h1.0M487 304h1.0M488 298h1.0M470.5 313.5h1.0M479 300.5h1.0M479 315.5h1.0M485 310.5h1.0M479.5 301.5h1.0M482.5 304.5h1.0M480.5 301h1.0M479 312h1.0M491 309h1.0M485 300h1.0M464.5 308h1.0M493 308h1.0M483.5 301.5h1.0M473 306h1.0M480.5 306h1.0M489.5 301.5h1.0M488 304.5h1.0M478 295.5h1.0M474.5 309h1.0M484 307.5h1.0M469 303h1.0M471.5 311h1.0M490 301h1.0M480.5 303.5h1.0M475.5 305.5h1.0M475.5 303h1.0M490.5 304.5h1.0M491.5 301.5h1.0M476.5 318h1.0M483.5 306h1.0M474.5 307.5h1.0M492.5 298h1.0M483.5 311.5h1.0M479.5 312.5h1.0M476 305h1.0M483 305.5h1.0M491 305.5h1.0M481 302h1.0M484 310.5h1.0M492 304.5h1.0M475 315h1.0M488 298.5h1.0M471 315h1.0M471 317h1.0M485 317.5h1.0M482 306.5h1.0M484 312h1.0M486 304h1.0M492 300h1.0M473.5 306.5h1.0M481.5 311h1.0M487 302.5h1.0M485 296.5h1.0M493 304.5h1.0M476.5 304h1.0M481 308h1.0M482 306h1.0M475 303.5h1.0M484 311h1.0M478.5 311h1.0M471 318.5h1.0M478 301.5h1.0M481 311.5h1.0M474.5 320.5h1.0M480.5 315.5h1.0M480 302.5h1.0M478 313.5h1.0M478.5 306.5h1.0M485 303h1.0M481.5 306h1.0M480 306h1.0M476 305.5h1.0M484.5 296.5h1.0M486.5 309h1.0M486 302.5h1.0M477.5 311.5h1.0M476 314.5h1.0M484 305h1.0M484.5 302.5h1.0M492 302h1.0M485.5 305.5h1.0M470 312h1.0M486 307h1.0M480.5 316h1.0M472.5 303.5h1.0M477.5 308.5h1.0M479 314h1.0M479.5 307.5h1.0M488 303h1.0M474.5 306.5h1.0M482.5 303h1.0M483.5 310h1.0M470.5 303.5h1.0M488 312.5h1.0M493.5 301h1.0M467 320.5h1.0M485.5 309.5h1.0M488.5 303.5h1.0M487 295.5h1.0M481 298.5h1.0M491 301.5h1.0M491.5 300.5h1.0M479.5 305h1.0M490.5 300h1.0M482 311h1.0M474.5 310.5h1.0M474 304.5h1.0M477 316h1.0M484.5 299.5h1.0M474.5 310h1.0M486 307.5h1.0M474.5 309.5h1.0M476.5 312h1.0M475.5 315.5h1.0M493 301.5h1.0M484.5 305h1.0M486.5 302.5h1.0M489.5 309h1.0M484.5 307.5h1.0M475.5 306.5h1.0M486 313h1.0M482 315h1.0M478 313h1.0M491 308h1.0M470.5 312.5h1.0M480 315.5h1.0M482 316.5h1.0M471.5 313.5h1.0M490 307.5h1.0M490.5 299.5h1.0M483 314h1.0M489.5 290h1.0M481.5 302h1.0M479.5 304.5h1.0M487 309h1.0M487 313h1.0M483 313h1.0M480.5 307h1.0M480.5 313.5h1.0M479.5 308.5h1.0M485.5 311.5h1.0M486.5 303h1.0M475.5 316h1.0M472.5 318h1.0M492.5 295h1.0M487 308h1.0M487 305h1.0M483.5 308.5h1.0M475.5 306h1.0M472 319.5h1.0M492 305h1.0M493.5 299.5h1.0M488 307h1.0M488.5 312.5h1.0M474 310.5h1.0M478.5 307h1.0M474 311.5h1.0M470 310h1.0M484.5 311h1.0M483 303h1.0M489.5 306.5h1.0M475 310h1.0M489 300.5h1.0M474.5 313.5h1.0M480 315h1.0M476 303h1.0M478 308.5h1.0M483.5 297.5h1.0M485.5 301h1.0M477 307h1.0M480 304.5h1.0M480 316h1.0M491 312.5h1.0M478.5 304.5h1.0M484 301.5h1.0M485 301.5h1.0M473.5 305h1.0M475 317h1.0M486.5 315h1.0M480.5 312.5h1.0M481.5 304h1.0M485.5 304.5h1.0M488 297.5h1.0M479 302h1.0M490 294.5h1.0M488.5 304.5h1.0M485 313.5h1.0M479 302.5h1.0M467 308.5h1.0M479 307.5h1.0M485 304h1.0M470 322.5h1.0M478.5 320h1.0M485.5 313h1.0M483 312h1.0M477.5 307h1.0M480 306.5h1.0M477.5 310h1.0M482.5 307.5h1.0M478.5 310.5h1.0M483.5 300.5h1.0M482.5 304h1.0M482.5 294h1.0M492 300.5h1.0M471.5 321h1.0M491 303h1.0M489 300h1.0M491 292.5h1.0M475.5 308.5h1.0M478.5 305.5h1.0M485 294h1.0M481 310.5h1.0M476.5 303.5h1.0M468.5 318h1.0M485 293.5h1.0M477 308h1.0M484 297.5h1.0M490 312.5h1.0M483.5 304.5h1.0M486 316.5h1.0M485 306h1.0M477 306h1.0M493.5 302.5h1.0M491 300h1.0M479 313h1.0M466.5 306.5h1.0M476 312h1.0M476.5 310.5h1.0M477.5 306.5h1.0M478.5 303h1.0M485.5 302h1.0M479 313.5h1.0M468 315h1.0M477.5 311h1.0M491 311h1.0M489.5 299h1.0M490.5 304h1.0M483.5 298.5h1.0M484 305.5h1.0M478 311h1.0M468.5 315h1.0M482.5 301.5h1.0M480.5 314h1.0M470.5 315.5h1.0M471.5 305.5h1.0M480.5 302h1.0M474.5 311h1.0M482.5 310.5h1.0M478 309h1.0M471 308h1.0M481.5 307h1.0M479 303h1.0M481.5 302.5h1.0M466.5 308h1.0M489 307.5h1.0M488.5 310h1.0M469.5 314.5h1.0M476 304.5h1.0M488 312h1.0M483 296.5h1.0M477 315.5h1.0M475 301h1.0M487 306.5h1.0M491 297h1.0M492.5 299.5h1.0M489 308h1.0M467.5 309.5h1.0M476.5 302.5h1.0M490 302h1.0M486.5 311.5h1.0M490 306h1.0M475 307.5h1.0M472 306h1.0M476.5 313h1.0M479.5 301h1.0M474 316.5h1.0M489.5 295.5h1.0M493.5 309h1.0M487.5 297.5h1.0M483 312.5h1.0M477.5 314.5h1.0M483.5 305h1.0M470.5 313h1.0M481 298h1.0M487.5 300h1.0M485 299h1.0M485 304.5h1.0M479.5 307h1.0M475 313h1.0M466.5 325.5h1.0M482 301.5h1.0M492 295h1.0M485.5 307h1.0M484.5 319.5h1.0M485.5 300.5h1.0M484.5 311.5h1.0M474 314h1.0M474 306.5h1.0M483 315h1.0M494 296.5h1.0M483.5 318h1.0M480.5 317h1.0M472.5 310.5h1.0M487.5 298h1.0M474 305.5h1.0M478 305h1.0M476 307h1.0M469.5 306.5h1.0M471.5 308h1.0M487.5 306.5h1.0M477 300h1.0M485.5 311h1.0M477 303.5h1.0M483.5 310.5h1.0M477 312h1.0M491.5 306.5h1.0M487.5 311h1.0M482.5 301h1.0M484.5 298.5h1.0M493 291h1.0M477 313.5h1.0M493.5 302h1.0M475 305h1.0M486 298h1.0M480 309h1.0M487.5 300.5h1.0M491 298.5h1.0M482.5 312.5h1.0M481 306h1.0M487 304.5h1.0M485.5 310.5h1.0M489.5 307.5h1.0M480.5 298h1.0M481.5 309.5h1.0M492.5 308.5h1.0M478.5 314h1.0M483 298h1.0M486 300.5h1.0M486.5 307h1.0M484.5 302h1.0M486.5 307.5h1.0M480.5 319h1.0M473.5 310h1.0M480.5 297h1.0M478 299h1.0M483 302h1.0M486.5 301.5h1.0M479.5 300.5h1.0M478 308h1.0M479.5 306h1.0M478 302.5h1.0M469 306h1.0M461 306h1.0M491.5 301h1.0M490 297.5h1.0M474.5 308h1.0M474.5 312h1.0M491 308.5h1.0M481.5 315.5h1.0M477 298h1.0M483 316.5h1.0M487.5 299h1.0M491.5 300h1.0M487.5 301h1.0M481.5 313.5h1.0M484 300.5h1.0M467.5 307.5h1.0M480 307h1.0M483 297h1.0M478.5 313h1.0M476.5 304.5h1.0M478.5 313.5h1.0M485 291.5h1.0M491 299.5h1.0M478 315.5h1.0M487.5 303.5h1.0M480 301.5h1.0M482.5 311h1.0M478 307h1.0M477 316.5h1.0M476 308.5h1.0M479 298.5h1.0M478.5 309h1.0M477 303h1.0M470 314h1.0M476.5 309.5h1.0M478.5 297.5h1.0M484.5 298h1.0M490.5 298.5h1.0M489.5 293.5h1.0M470 312.5h1.0M491.5 297.5h1.0M485 297.5h1.0M470 314.5h1.0M485 312h1.0M482.5 299h1.0M483 302.5h1.0M475 300h1.0M480 311h1.0M490 296h1.0M477 318h1.0M475.5 299.5h1.0M479 300h1.0M487 299h1.0M479 316.5h1.0M481 301h1.0M480.5 304.5h1.0M478.5 316h1.0M490.5 298h1.0M480.5 293.5h1.0M467.5 311.5h1.0M476.5 319h1.0M485 314.5h1.0M478.5 298.5h1.0M484 303.5h1.0M487 301.5h1.0M483.5 308h1.0M471 320h1.0M471.5 321.5h1.0M480 313.5h1.0M492 301.5h1.0M479 319.5h1.0M471 310h1.0M484 298h1.0M482.5 299.5h1.0M474.5 318h1.0M488 296.5h1.0M490 298h1.0M470.5 314h1.0M481.5 312.5h1.0M483.5 307.5h1.0M473 299h1.0M488.5 307h1.0M484 299h1.0M476 308h1.0M469 319h1.0M485 307h1.0M492 312.5h1.0M487.5 303h1.0M471.5 320h1.0M487 300h1.0M475 311h1.0M481 317h1.0M479.5 314.5h1.0M473 307.5h1.0M479 309h1.0M484.5 312.5h1.0M477 312.5h1.0M485 309.5h1.0M473.5 297h1.0M477 304.5h1.0M481.5 313h1.0M469 316.5h1.0M478.5 311.5h1.0M471 306.5h1.0M470 313.5h1.0M476 299h1.0M471 314h1.0M485.5 294.5h1.0M484 313h1.0M477.5 315h1.0M480 299h1.0M483.5 299.5h1.0M481 304h1.0M480 308.5h1.0M475.5 302.5h1.0M480 299.5h1.0M493 310.5h1.0M481.5 312h1.0M480.5 299h1.0M481.5 310h1.0M481.5 300.5h1.0M484.5 310.5h1.0M479.5 308h1.0M491.5 291h1.0M465.5 301h1.0M482 313.5h1.0M476 324h1.0M487 308.5h1.0M475 295h1.0M478 312.5h1.0M488.5 297.5h1.0M470 311h1.0M470.5 310h1.0M479 308h1.0M481 295h1.0M476 311h1.0M482 312h1.0M486 310h1.0M488.5 303h1.0M487 302h1.0M476.5 312.5h1.0M491 304h1.0M489.5 304.5h1.0M474.5 317h1.0M468 312h1.0M485.5 299.5h1.0M477 296h1.0M487.5 308h1.0M471 309h1.0M488 313h1.0M479 317h1.0M492.5 295.5h1.0M474.5 304.5h1.0M475.5 304.5h1.0M483 294h1.0M472 311.5h1.0M489 295.5h1.0M485 308h1.0M487 296.5h1.0M471 307h1.0M475 315.5h1.0M482 296h1.0M470 308.5h1.0M477.5 301.5h1.0M488.5 298h1.0M476.5 295.5h1.0M492.5 297.5h1.0M471.5 307.5h1.0M468.5 311.5h1.0M481 314h1.0M482.5 315.5h1.0M478.5 310h1.0M483.5 303h1.0M482.5 314.5h1.0M471 313h1.0M483.5 295.5h1.0M471 308.5h1.0M486.5 301h1.0M479 299.5h1.0M475.5 307h1.0M474.5 306h1.0M491 305h1.0M474.5 303h1.0M464.5 299.5h1.0M481 306.5h1.0M483 309.5h1.0M472 307h1.0M488 308.5h1.0M486.5 316.5h1.0M488 302.5h1.0M473 315.5h1.0M488.5 299h1.0M485.5 312h1.0M481.5 320h1.0M490 303h1.0M475.5 311.5h1.0M478.5 312.5h1.0M476.5 307h1.0M465 315h1.0M488 307.5h1.0M476 319h1.0M472.5 312h1.0M488.5 305.5h1.0M483 313.5h1.0M481 313.5h1.0M478 304.5h1.0M491.5 294h1.0M473 314h1.0M488 301h1.0M481 296h1.0M471.5 308.5h1.0M471 305.5h1.0M484.5 303.5h1.0M477 302.5h1.0M491 306.5h1.0M468.5 311h1.0M490.5 295.5h1.0M484.5 310h1.0M476.5 298h1.0M470.5 307.5h1.0M489.5 311.5h1.0M474 308.5h1.0M473.5 313h1.0M488.5 304h1.0M488 294.5h1.0M473.5 306h1.0M481.5 306.5h1.0M477 310.5h1.0M474.5 308.5h1.0M468 309.5h1.0M490.5 306h1.0M481 313h1.0M492.5 309.5h1.0M472 307.5h1.0M473.5 307h1.0M473 300.5h1.0M494 299.5h1.0M487.5 295h1.0M487 291h1.0M477.5 301h1.0M476.5 307.5h1.0M489.5 299.5h1.0M470.5 305h1.0M483.5 301h1.0M467.5 310.5h1.0M469.5 315h1.0M488.5 307.5h1.0M491 299h1.0M483.5 298h1.0M479 296.5h1.0M478 316h1.0M473 301.5h1.0M476.5 303h1.0M482 300.5h1.0M486 298.5h1.0M479.5 297.5h1.0M471 305h1.0M472 304h1.0M467 312.5h1.0M472.5 309.5h1.0M481 319h1.0M479.5 311.5h1.0M476 306.5h1.0M469 314h1.0M466.5 314h1.0M478 301h1.0M484 310h1.0M484 299.5h1.0M475 304.5h1.0M492.5 301.5h1.0M477.5 303h1.0M489 299.5h1.0M474 300.5h1.0M474 306h1.0M473.5 317.5h1.0M489 288.5h1.0M479.5 298h1.0M483 320.5h1.0M490 305h1.0M484 314h1.0M490 299.5h1.0M472.5 311.5h1.0M476 310.5h1.0M489 303.5h1.0M486.5 308h1.0M486 292.5h1.0M488.5 295h1.0M474.5 314.5h1.0M469.5 310.5h1.0M486.5 300.5h1.0M490 309.5h1.0M463 317.5h1.0M471 316h1.0M486.5 304h1.0M476 307.5h1.0M487 316h1.0M487 310.5h1.0M485 295h1.0M478.5 294h1.0M489.5 303.5h1.0M480 311.5h1.0M474.5 304h1.0M485 300.5h1.0M483.5 309.5h1.0M481 307.5h1.0M491 296h1.0M472.5 310h1.0M486.5 312h1.0M484.5 309.5h1.0M491.5 303.5h1.0M489.5 297.5h1.0M469.5 311.5h1.0M486 305.5h1.0M488.5 310.5h1.0M488 299.5h1.0M481 311h1.0M474 319.5h1.0M479.5 313.5h1.0M489 310h1.0M473 309.5h1.0M473.5 312.5h1.0M481 315.5h1.0M479.5 305.5h1.0M491 312h1.0M471.5 301.5h1.0M480.5 300h1.0M493 301h1.0M486 304.5h1.0M482 295h1.0M478 303.5h1.0M485 305.5h1.0M476 321.5h1.0M486.5 313.5h1.0M475 313.5h1.0M476.5 311.5h1.0M471.5 309.5h1.0M468.5 309h1.0M492.5 310h1.0M479 306h1.0M469.5 311h1.0M472 306.5h1.0M478 314.5h1.0M483.5 296.5h1.0M473.5 303.5h1.0M483 310.5h1.0M493 299.5h1.0M472.5 313h1.0M476 309.5h1.0M472 314h1.0M472.5 313.5h1.0M478.5 315h1.0M475.5 313h1.0M485.5 297.5h1.0M476.5 314h1.0M484.5 313h1.0M485.5 297h1.0M477.5 316.5h1.0M464.5 310h1.0M474 317.5h1.0M473 312.5h1.0M488 291.5h1.0M485.5 304h1.0M493 312.5h1.0M465.5 313h1.0M476.5 317.5h1.0M480.5 308h1.0M487.5 312h1.0M467.5 312.5h1.0M486.5 311h1.0M486 308h1.0M472 308.5h1.0M480 300h1.0M485.5 306h1.0M484 314.5h1.0M482.5 296.5h1.0M473 306.5h1.0M477 315h1.0M492.5 301h1.0M474 301.5h1.0M490.5 309h1.0M475 306.5h1.0M478.5 318h1.0M476.5 316h1.0M479.5 311h1.0M485 296h1.0M483.5 317.5h1.0M470.5 310.5h1.0M475 307h1.0M477.5 303.5h1.0M482.5 306h1.0M475.5 309.5h1.0M472.5 311h1.0M475.5 299h1.0M489.5 302h1.0M467.5 311h1.0M475.5 311h1.0M485.5 314.5h1.0M492.5 300.5h1.0M486 309.5h1.0M490.5 294.5h1.0M492 301h1.0M489 304h1.0M477.5 310.5h1.0M481.5 305h1.0M481 317.5h1.0M486 299h1.0M490.5 310h1.0M483.5 314.5h1.0M490 311h1.0M483 298.5h1.0M483.5 312h1.0M470.5 316h1.0M475.5 298h1.0M486.5 312.5h1.0M473 304h1.0M472.5 307.5h1.0M487 306h1.0M480 303h1.0M472.5 300h1.0M482 304.5h1.0M484 309h1.0M477 305h1.0M482.5 300h1.0M469.5 312h1.0M477 299.5h1.0M473.5 315h1.0M475 302h1.0M467 311.5h1.0M486 310.5h1.0M487 291.5h1.0M474 309h1.0M483 317.5h1.0M487.5 310.5h1.0M473 322h1.0M476 309h1.0M489 302h1.0M480.5 296h1.0M477.5 309.5h1.0M489 295h1.0M473 316.5h1.0M480 308h1.0M468.5 316.5h1.0M484 317h1.0M472 302.5h1.0M473 313.5h1.0M483 308h1.0M468.5 312.5h1.0M478 300.5h1.0M471.5 310h1.0M467.5 308.5h1.0M490 301.5h1.0M472 324.5h1.0M480 314h1.0M477 318.5h1.0M483 301h1.0M488.5 295.5h1.0M474.5 312.5h1.0M490 298.5h1.0M477 314.5h1.0M480.5 292.5h1.0M479 297.5h1.0M471 304.5h1.0M480 314.5h1.0M485 298.5h1.0M470 306h1.0M470.5 321.5h1.0M475.5 314h1.0M481.5 299h1.0M469 312h1.0M468 319.5h1.0M470 310.5h1.0M466 312h1.0M473.5 308.5h1.0M486 301.5h1.0M480.5 296.5h1.0M479.5 316h1.0M475 299h1.0M491 300.5h1.0M479 303.5h1.0M466 305h1.0M482 294.5h1.0M489 289.5h1.0M476.5 301.5h1.0M482.5 305h1.0M491 309.5h1.0M490 307h1.0M492 304h1.0M478.5 303.5h1.0M484.5 316h1.0M471.5 310.5h1.0M489.5 310h1.0M492.5 297h1.0M465 319.5h1.0M492.5 310.5h1.0M473 302h1.0M489.5 298h1.0M478.5 297h1.0M483.5 313h1.0M470 318.5h1.0M473.5 308h1.0M473.5 309.5h1.0M468 316.5h1.0M474 311h1.0M481.5 298.5h1.0M468.5 314h1.0M490 293h1.0M480 310h1.0M491 310h1.0M478.5 317h1.0M483.5 311h1.0M482 314.5h1.0M472.5 302.5h1.0M488.5 298.5h1.0M477.5 302h1.0M487.5 305.5h1.0M491.5 304.5h1.0M481 295.5h1.0M480 293.5h1.0M494 311.5h1.0M473.5 313.5h1.0M479 316h1.0M467.5 319h1.0M477.5 313h1.0M489.5 300h1.0M491 306h1.0M480.5 318h1.0M474.5 319h1.0M488 291h1.0M483 311h1.0M482 320.5h1.0M475.5 315h1.0M471.5 309h1.0M472.5 322.5h1.0M465 316.5h1.0M492 299h1.0M493.5 290h1.0M484.5 308h1.0M493.5 313h1.0M491.5 311.5h1.0M483 297.5h1.0M485 297h1.0M473 311.5h1.0M472 313.5h1.0M489 298h1.0M489.5 304h1.0M467.5 316h1.0M478 315h1.0M464.5 307h1.0M484 316h1.0M479 301.5h1.0M471 310.5h1.0M484 297h1.0M474 315.5h1.0M474.5 315.5h1.0M473 314.5h1.0M487.5 313h1.0M469.5 313h1.0M488 296h1.0M493 295.5h1.0M486.5 295h1.0M475 298.5h1.0M475.5 316.5h1.0M490 312h1.0M476 315.5h1.0M475 318h1.0M486 295.5h1.0M466 320h1.0M477 305.5h1.0M473 302.5h1.0M486 297.5h1.0M480.5 309h1.0M493.5 312h1.0M488.5 296.5h1.0M477 301.5h1.0M488.5 318h1.0M482 312.5h1.0M488.5 312h1.0M488.5 305h1.0M465 314h1.0M476.5 315.5h1.0M482.5 294.5h1.0M476 317.5h1.0M479.5 302h1.0M478 302h1.0M484.5 312h1.0M472 320.5h1.0M472 318.5h1.0M476 321h1.0M472.5 308h1.0M491.5 305h1.0M473 319.5h1.0M485.5 316.5h1.0M477.5 297.5h1.0M473 309h1.0M465 314.5h1.0M473 310h1.0M487.5 305h1.0M482 319.5h1.0M472 310h1.0M486.5 298h1.0M475.5 312h1.0M476.5 313.5h1.0M470.5 308h1.0M478.5 299.5h1.0M481.5 296h1.0M488.5 309h1.0M485.5 299h1.0M480.5 314.5h1.0M475.5 321h1.0M472 308h1.0M469 308h1.0M478 296.5h1.0M478.5 319.5h1.0M466 304h1.0M475.5 302h1.0M483 325h1.0M489.5 333h1.0M486.5 321.5h1.0M481.5 334.5h1.0M480 339h1.0M487 330.5h1.0M485 319.5h1.0M488 335.5h1.0M482.5 328.5h1.0M482.5 332.5h1.0M488.5 334h1.0M480.5 332.5h1.0M483 323h1.0M481.5 322h1.0M484 329h1.0M489 330.5h1.0M485.5 321.5h1.0M485.5 331h1.0M484.5 326h1.0M487.5 339.5h1.0M484 331.5h1.0M485.5 319h1.0M482.5 324h1.0M484.5 335h1.0M482.5 320h1.0M488 324.5h1.0M481 318h1.0M491 333h1.0M479.5 329h1.0M487 333.5h1.0M482.5 331h1.0M486 330.5h1.0M486 327.5h1.0M482.5 334h1.0M488 334h1.0M483 331.5h1.0M483 326.5h1.0M485.5 337h1.0M485 320h1.0M489 316h1.0M481 320.5h1.0M484.5 324.5h1.0M491 315h1.0M484.5 329h1.0M492 324.5h1.0M478 333.5h1.0M488 336.5h1.0M485 324h1.0M484 332.5h1.0M490 321.5h1.0M486 315.5h1.0M483 330.5h1.0M481.5 329h1.0M489.5 326h1.0M483.5 326.5h1.0M488.5 335h1.0M481.5 323.5h1.0M485 329.5h1.0M489 324h1.0M492.5 325h1.0M481 328.5h1.0M489 320.5h1.0M483 339.5h1.0M481.5 318h1.0M482 325h1.0M481.5 328.5h1.0M482 319h1.0M484.5 334.5h1.0M485 315.5h1.0M487.5 322.5h1.0M483 332h1.0M483.5 331h1.0M483.5 323h1.0M488.5 322h1.0M488 323.5h1.0M482.5 335.5h1.0M474 324.5h1.0M477.5 330.5h1.0M486.5 336h1.0M486 323.5h1.0M480 325.5h1.0M484.5 325h1.0M486 329.5h1.0M488.5 328.5h1.0M490 324.5h1.0M482 328.5h1.0M493 336.5h1.0M484 332h1.0M488 333.5h1.0M487 325h1.0M485 328h1.0M480 316.5h1.0M489.5 323h1.0M481.5 326h1.0M490 323.5h1.0M481 337.5h1.0M485 331h1.0M485 326h1.0M494 323.5h1.0M485.5 325.5h1.0M488.5 322.5h1.0M480 336.5h1.0M485 327h1.0M486.5 337.5h1.0M479.5 330.5h1.0M479 330.5h1.0M485 333.5h1.0M491.5 321.5h1.0M488.5 316h1.0M478.5 317.5h1.0M481 319.5h1.0M486 347h1.0M476.5 324h1.0M481 335h1.0M485.5 329.5h1.0M482 330.5h1.0M489.5 324h1.0M484.5 328h1.0M483.5 320.5h1.0M489.5 324.5h1.0M483.5 334h1.0M486 339h1.0M486.5 337h1.0M487 325.5h1.0M485.5 334h1.0M485 323.5h1.0M482 330h1.0M480 323.5h1.0M482 331h1.0M487 322.5h1.0M479.5 330h1.0M492 322.5h1.0M488.5 326.5h1.0M481 316.5h1.0M481 333.5h1.0M484 333.5h1.0M492.5 323h1.0M479 336h1.0M482 325.5h1.0M483.5 329.5h1.0M485.5 318.5h1.0M486.5 326h1.0M486.5 325.5h1.0M487.5 346h1.0M484.5 338.5h1.0M485 330h1.0M487 335.5h1.0M484 325h1.0M479 332.5h1.0M485 325h1.0M492 325.5h1.0M480.5 327.5h1.0M486 324.5h1.0M486.5 321h1.0M495 332.5h1.0M484 327h1.0M485.5 331.5h1.0M480.5 329.5h1.0M485 332.5h1.0M487 322h1.0M485.5 330h1.0M482.5 327h1.0M484.5 327h1.0M485 324.5h1.0M485 334h1.0M483 335h1.0M483.5 331.5h1.0M479 324.5h1.0M484 316.5h1.0M486 320h1.0M487.5 330.5h1.0M479.5 331.5h1.0M491 327.5h1.0M492.5 328.5h1.0M485 329h1.0M480 320h1.0M485.5 316h1.0M483.5 335h1.0M483.5 332h1.0M485.5 323h1.0M480 328.5h1.0M479 331.5h1.0M488.5 329.5h1.0M481.5 333h1.0M487.5 329.5h1.0M487 328.5h1.0M487.5 324.5h1.0M485.5 330.5h1.0M483 328h1.0M480.5 330.5h1.0M486 323h1.0M486.5 326.5h1.0M484.5 330h1.0M485 318h1.0M488 342h1.0M483 332.5h1.0M486.5 329h1.0M482 318.5h1.0M482.5 322.5h1.0M488 326.5h1.0M482.5 339.5h1.0M486 328h1.0M489 334.5h1.0M478 329.5h1.0M489 329.5h1.0M483.5 327h1.0M482 328h1.0M488 325.5h1.0M484.5 316.5h1.0M483.5 327.5h1.0M489.5 332.5h1.0M480.5 321.5h1.0M491 322h1.0M491.5 322h1.0M490.5 316h1.0M484 328h1.0M479.5 320.5h1.0M487.5 323.5h1.0M488.5 324.5h1.0M493.5 327.5h1.0M486.5 318h1.0M486 325.5h1.0M483.5 330h1.0M480 334.5h1.0M477.5 329.5h1.0M485 322.5h1.0M480 330.5h1.0M492 329h1.0M486.5 314.5h1.0M479 327h1.0M487.5 320h1.0M483 318.5h1.0M485.5 329h1.0M488.5 326h1.0M481.5 327h1.0M482 322.5h1.0M484 322.5h1.0M489 331h1.0M488.5 327.5h1.0M488 324h1.0M479.5 329.5h1.0M482 333.5h1.0M484 342h1.0M481 324.5h1.0M473 320.5h1.0M486.5 342h1.0M487 324h1.0M485.5 328.5h1.0M480.5 330h1.0M479 323h1.0M477.5 324.5h1.0M484 323.5h1.0M479 325.5h1.0M486 343h1.0M485.5 323.5h1.0M485.5 324h1.0M479.5 317h1.0M486 317.5h1.0M488 317h1.0M480.5 333h1.0M479 329h1.0M481.5 331h1.0M481.5 334h1.0M487.5 317.5h1.0M486 330h1.0M484 329.5h1.0M490 328h1.0M481.5 326.5h1.0M483.5 318.5h1.0M484.5 320.5h1.0M481.5 323h1.0M479.5 328h1.0M484 333h1.0M484 315h1.0M488.5 311h1.0M487.5 327h1.0M482 343h1.0M486.5 338.5h1.0M487.5 331h1.0M486.5 334h1.0M475.5 333h1.0M483 327.5h1.0M486 326h1.0M489 328.5h1.0M488.5 319h1.0M486 322h1.0M489.5 330h1.0M485 323h1.0M481 318.5h1.0M482 337.5h1.0M484 334h1.0M480.5 324h1.0M482.5 325.5h1.0M477.5 331.5h1.0M488.5 327h1.0M478.5 331h1.0M476.5 333.5h1.0M486.5 331.5h1.0M478.5 333h1.0M485 321h1.0M486 335.5h1.0M484.5 325.5h1.0M481 322.5h1.0M486.5 315.5h1.0M488 325h1.0M486 326.5h1.0M488.5 320.5h1.0M483.5 322h1.0M487.5 324h1.0M485.5 327h1.0M484.5 330.5h1.0M477.5 320h1.0M485.5 334.5h1.0M484 328.5h1.0M479 333.5h1.0M482.5 327.5h1.0M481 330h1.0M480 324.5h1.0M490 329.5h1.0M483 321h1.0M487 319h1.0M492 330.5h1.0M475 325h1.0M481.5 336h1.0M484 320.5h1.0M480.5 323h1.0M491.5 320h1.0M489.5 335h1.0M482.5 326h1.0M485 325.5h1.0M480 329h1.0M486.5 328.5h1.0M489 325h1.0M482 317.5h1.0M483 321.5h1.0M488 320.5h1.0M491 321.5h1.0M484.5 338h1.0M486.5 328h1.0M482.5 316.5h1.0M482 340h1.0M484.5 331.5h1.0M484 322h1.0M481.5 332h1.0M480.5 324.5h1.0M485 320.5h1.0M488.5 332h1.0M487.5 337.5h1.0M487.5 332h1.0M479 341h1.0M492 323.5h1.0M483 322h1.0M485 327.5h1.0M485.5 317h1.0M486.5 330h1.0M487.5 331.5h1.0M483 327h1.0M488.5 330.5h1.0M487 336.5h1.0M476 326.5h1.0M482.5 329.5h1.0M476 323.5h1.0M484.5 323h1.0M483 333.5h1.0M478.5 326h1.0M483.5 322.5h1.0M480 334h1.0M484.5 324h1.0M485 326.5h1.0M484.5 323.5h1.0M490 330h1.0M484.5 340h1.0M477 333h1.0M481 329h1.0M481 322h1.0M489.5 335.5h1.0M485.5 326.5h1.0M487.5 328h1.0M483 324.5h1.0M483.5 324h1.0M484 326h1.0M489.5 341h1.0M482 317h1.0M488 339h1.0M486 324h1.0M483 330h1.0M482 331.5h1.0M480 339.5h1.0M474.5 336h1.0M484.5 336.5h1.0M485.5 333h1.0M484.5 321.5h1.0M490.5 322.5h1.0M482.5 341.5h1.0M481.5 318.5h1.0M481.5 330.5h1.0M478.5 335h1.0M488 318.5h1.0M478 328.5h1.0M492 326.5h1.0M489 330h1.0M483.5 334.5h1.0M481.5 327.5h1.0M486.5 341h1.0M488.5 334.5h1.0M486 333.5h1.0M486.5 324.5h1.0M494 325h1.0M484 318.5h1.0M492 320.5h1.0M487.5 325h1.0M487 323.5h1.0M487.5 328.5h1.0M482.5 319.5h1.0M486.5 324h1.0M489 323.5h1.0M482.5 321.5h1.0M480 321.5h1.0M490 325h1.0M485 316h1.0M492 327h1.0M487 321.5h1.0M481 320h1.0M492.5 321.5h1.0M489 329h1.0M484.5 322.5h1.0M486 328.5h1.0M482 329.5h1.0M489.5 322h1.0M491.5 338.5h1.0M482.5 318.5h1.0M482.5 320.5h1.0M481.5 335.5h1.0M483 338.5h1.0M480.5 325h1.0M486 339.5h1.0M487 327.5h1.0M485.5 318h1.0M484 324h1.0M483.5 321.5h1.0M477.5 322.5h1.0M479 336.5h1.0M486.5 333h1.0M490.5 331.5h1.0M480 337.5h1.0M482 326h1.0M483 334.5h1.0M487.5 341.5h1.0M487.5 327.5h1.0M483 319h1.0M484 330h1.0M484 324.5h1.0M480 329.5h1.0M488.5 330h1.0M487 336h1.0M481.5 325.5h1.0M484.5 344h1.0M476 329.5h1.0M477.5 322h1.0M484.5 333h1.0M488 337.5h1.0M484 335.5h1.0M483.5 324.5h1.0M482 327.5h1.0M488.5 317h1.0M477.5 324h1.0M491.5 328.5h1.0M480.5 322.5h1.0M479 326.5h1.0M477.5 326h1.0M482 326.5h1.0M483 322.5h1.0M470.5 325.5h1.0M482.5 333.5h1.0M484.5 337.5h1.0M482 334.5h1.0M479 329.5h1.0M489 321h1.0M492.5 335h1.0M490.5 332h1.0M478.5 328h1.0M481.5 324.5h1.0M482.5 339h1.0M486.5 320.5h1.0M475.5 322h1.0M493.5 324.5h1.0M485 335h1.0M478 329h1.0M483.5 325h1.0M483 342h1.0M487 323h1.0M485 328.5h1.0M489 331.5h1.0M479.5 326.5h1.0M484 336.5h1.0M487.5 326h1.0M481.5 339.5h1.0M482.5 325h1.0M480.5 326.5h1.0M486 322.5h1.0M483 323.5h1.0M480 333h1.0M477 322h1.0M477.5 329h1.0M490 320h1.0M482.5 322h1.0M482 338h1.0M481 330.5h1.0M483.5 316.5h1.0M491.5 341.5h1.0M486.5 323.5h1.0M491 330.5h1.0M487.5 338.5h1.0M480.5 320.5h1.0M489 318h1.0M487.5 322h1.0M480 331h1.0M486 335h1.0M490 326h1.0M483 328.5h1.0M484.5 329.5h1.0M482 324.5h1.0M483.5 323.5h1.0M489.5 325.5h1.0M484 318h1.0M487 330h1.0M478 330h1.0M488.5 329h1.0M486.5 319h1.0M482.5 330.5h1.0M481.5 317h1.0M484 335h1.0M479.5 332.5h1.0M477.5 333h1.0M486 327h1.0M478.5 322.5h1.0M484.5 328.5h1.0M485.5 321h1.0M478.5 322h1.0M483.5 333.5h1.0M492 328.5h1.0M488.5 336.5h1.0M490 334h1.0M486 311.5h1.0M483.5 336h1.0M476.5 322.5h1.0M488 319.5h1.0M481.5 320.5h1.0M480.5 335.5h1.0M490 331.5h1.0M491 320.5h1.0M487.5 321h1.0M485 322h1.0M485 341.5h1.0M484 325.5h1.0M483.5 328h1.0M480 342.5h1.0M482.5 329h1.0M479 344h1.0M485.5 328h1.0M481 331h1.0M488 332.5h1.0M482 321.5h1.0M484.5 321h1.0M483 337.5h1.0M477.5 333.5h1.0M489.5 331h1.0M489.5 329h1.0M486 314h1.0M481 323h1.0M487 327h1.0M485 321.5h1.0M490.5 321h1.0M487 329.5h1.0M492.5 324h1.0M491.5 325.5h1.0M482 321h1.0M482.5 340.5h1.0M485.5 332h1.0M481 332h1.0M481 321.5h1.0M482 323h1.0M480 324h1.0M482 327h1.0M477.5 336.5h1.0M481 312.5h1.0M492 341.5h1.0M484.5 327.5h1.0M487 328h1.0M481 334h1.0M484 339.5h1.0M483 336.5h1.0M488.5 335.5h1.0M491.5 332.5h1.0M486.5 318.5h1.0M480.5 327h1.0M485 332h1.0M484.5 322h1.0M476 324.5h1.0M482.5 336h1.0M482 322h1.0M482.5 333h1.0M481 324h1.0M486 320.5h1.0M474.5 337h1.0M482.5 313.5h1.0M486.5 334.5h1.0M486 340.5h1.0M484.5 326.5h1.0M488.5 324h1.0M481.5 325h1.0M490.5 330.5h1.0M482 323.5h1.0M483.5 339h1.0M477.5 325h1.0M477.5 326.5h1.0M491.5 325h1.0M485 311h1.0M496 335.5h1.0M493.5 323.5h1.0M482 332h1.0M487 326h1.0M475 324.5h1.0M481 325.5h1.0M493.5 317.5h1.0M484 334.5h1.0M478 328h1.0M479.5 321.5h1.0M486.5 322h1.0M484.5 317h1.0M478.5 329h1.0M480 323h1.0M482 334h1.0M484.5 335.5h1.0M478.5 326.5h1.0M481 329.5h1.0M491 332h1.0M480.5 331.5h1.0M479.5 325.5h1.0M481.5 329.5h1.0M488 322h1.0M478.5 328.5h1.0M482.5 330h1.0M476.5 327h1.0M485.5 335.5h1.0M490.5 328.5h1.0M482.5 328h1.0M478.5 336h1.0M485 331.5h1.0M484 330.5h1.0M490 316h1.0M487 333h1.0M478.5 325h1.0M487 331.5h1.0M488 330h1.0M483.5 333h1.0M479 328.5h1.0M480 313h1.0M492 323h1.0M491 324h1.0M482.5 343.5h1.0M493 328h1.0M484.5 320h1.0M485.5 322h1.0M488.5 323h1.0M483.5 319h1.0M481 321h1.0M491 325.5h1.0M486 331h1.0M489.5 315.5h1.0M484 326.5h1.0M481 338h1.0M478 326h1.0M479 327.5h1.0M480.5 325.5h1.0M482.5 332h1.0M483 325.5h1.0M486.5 343.5h1.0M485.5 322.5h1.0M480 338h1.0M484.5 332h1.0M482.5 324.5h1.0M483.5 325.5h1.0M486.5 317h1.0M487 332h1.0M484 321.5h1.0M489.5 328.5h1.0M485 338h1.0M479 322h1.0M494.5 328h1.0M477.5 327h1.0M489.5 334h1.0M479 317.5h1.0M485.5 332.5h1.0M486 337h1.0M488 328.5h1.0M488 329.5h1.0M488 335h1.0M487.5 334h1.0M486.5 331h1.0M486 329h1.0M488.5 325.5h1.0M478 335h1.0M484 319.5h1.0M483 329h1.0M485 337.5h1.0M486.5 338h1.0M479.5 333.5h1.0M485.5 325h1.0M489 319.5h1.0M487.5 335h1.0M489 314h1.0M490.5 325h1.0M481.5 317.5h1.0M490.5 329.5h1.0M481.5 332.5h1.0M485 340h1.0M485.5 315.5h1.0M480 330h1.0M484 337.5h1.0M490.5 320h1.0M479 326h1.0M478 337h1.0M480 326.5h1.0M480.5 339h1.0M490 331h1.0M476.5 320.5h1.0M486.5 316h1.0M480 327.5h1.0M483.5 315h1.0M482.5 331.5h1.0M489 340h1.0M492.5 326.5h1.0M478.5 324.5h1.0M480 325h1.0M481 331.5h1.0M484 339h1.0M489 325.5h1.0M481 327h1.0M487.5 319h1.0M476 330h1.0M486.5 327h1.0M483 335.5h1.0M482.5 326.5h1.0M485 330.5h1.0M479 318.5h1.0M483.5 335.5h1.0M489.5 323.5h1.0M488.5 331.5h1.0M488 321h1.0M478 324h1.0M487.5 333.5h1.0M488 326h1.0M492 337.5h1.0M486.5 325h1.0M481.5 322.5h1.0M482 337h1.0M488 332h1.0M489.5 321.5h1.0M487.5 333h1.0M478 322.5h1.0M479 324h1.0M483 319.5h1.0M485.5 339h1.0M487 335h1.0M482.5 336.5h1.0M481 326h1.0M480.5 322h1.0M486 318.5h1.0M480.5 315h1.0M498 314.5h1.0M488 313.5h1.0M493.5 319.5h1.0M488.5 321.5h1.0M482.5 317.5h1.0M484 321h1.0M487.5 316h1.0M473.5 325h1.0M484.5 315.5h1.0M484.5 314h1.0M483.5 326h1.0M487 317.5h1.0M491 320h1.0M478 327h1.0M479 321.5h1.0M489.5 317.5h1.0M480 319.5h1.0M484.5 318h1.0M491 310.5h1.0M476 323h1.0M482.5 318h1.0M485 316.5h1.0M476 319.5h1.0M486 313.5h1.0M492 315h1.0M482.5 323h1.0M489 322h1.0M478.5 314.5h1.0M492.5 315.5h1.0M485.5 319.5h1.0M489 319h1.0M487 320.5h1.0M476.5 320h1.0M485.5 315h1.0M485 319h1.0M485 317h1.0M486 318h1.0M477.5 319.5h1.0M476 313.5h1.0M480 319h1.0M490 320.5h1.0M478 318.5h1.0M487.5 320.5h1.0M478 319.5h1.0M491.5 323h1.0M491 319.5h1.0M489 314.5h1.0M493 320.5h1.0M487 315h1.0M485.5 320h1.0M492 318.5h1.0M492.5 311.5h1.0M488.5 320h1.0M488 315h1.0M487.5 314h1.0M488.5 323.5h1.0M487.5 321.5h1.0M489 323h1.0M487 319.5h1.0M489 318.5h1.0M476 318h1.0M481.5 314h1.0M488.5 315h1.0M490 321h1.0M493 320h1.0M492.5 317.5h1.0M484.5 313.5h1.0M486 319h1.0M490.5 318.5h1.0M488.5 317.5h1.0M489 317h1.0M486 321h1.0M487.5 316.5h1.0M486.5 323h1.0M487 315.5h1.0M492 322h1.0M487.5 319.5h1.0M490 319.5h1.0M488 317.5h1.0M484.5 318.5h1.0M492.5 319.5h1.0M478 321h1.0M476.5 315h1.0M475 314h1.0M475.5 320h1.0M473.5 319h1.0M483 315.5h1.0M488.5 314.5h1.0M481 316h1.0M480 317.5h1.0M488 320h1.0M493.5 314.5h1.0M475 320h1.0M488.5 316.5h1.0M486.5 314h1.0M479 320.5h1.0M489.5 316.5h1.0M482 314h1.0M492.5 319h1.0M477 317h1.0M482.5 321h1.0M482 315.5h1.0M484.5 317.5h1.0M480.5 317.5h1.0M472 317.5h1.0M488 321.5h1.0M478 325.5h1.0M483.5 320h1.0M492 319h1.0M475 316h1.0M489.5 316h1.0M484 320h1.0M494.5 321.5h1.0M495 310.5h1.0M487 318h1.0M473.5 320.5h1.0M483.5 319.5h1.0M487 317h1.0M480.5 318.5h1.0M484.5 319h1.0M481 315h1.0M491.5 324h1.0M494.5 324h1.0M483.5 321h1.0M490 318h1.0M485 315h1.0M497 314.5h1.0M483 314.5h1.0M490.5 310.5h1.0M479.5 317.5h1.0M491.5 319.5h1.0M484 323h1.0M490.5 319.5h1.0M474 316h1.0M482 316h1.0M483 317h1.0M483 320h1.0M488 319h1.0M485.5 326h1.0M491 317h1.0M489.5 320.5h1.0M481.5 316.5h1.0M489.5 317h1.0M482.5 317h1.0M475.5 309h1.0M492 316h1.0M494 310.5h1.0M490.5 325.5h1.0M489.5 315h1.0M478.5 320.5h1.0M491.5 316h1.0M492.5 311h1.0M475.5 323.5h1.0M488 314.5h1.0M490 319h1.0M479.5 315h1.0M490.5 322h1.0M474 318h1.0M484 319h1.0M491.5 315h1.0M490.5 318h1.0M487 321h1.0M490 316.5h1.0M475 319.5h1.0M482.5 319h1.0M485 314h1.0M494.5 324.5h1.0M476.5 322h1.0M489 315.5h1.0M484 313.5h1.0M486.5 322.5h1.0M476.5 326h1.0M478.5 318.5h1.0M479.5 319h1.0M480 320.5h1.0M488 316h1.0M477.5 320.5h1.0M474.5 326h1.0M480 326h1.0M487 312.5h1.0M485.5 320.5h1.0M496.5 322h1.0M474 315h1.0M479 322.5h1.0M479.5 322h1.0M484.5 315h1.0M473.5 323h1.0M487.5 318h1.0M477 314h1.0M491 318h1.0M490.5 321.5h1.0M488.5 315.5h1.0M491 317.5h1.0M477 323.5h1.0M490 322h1.0M477.5 318h1.0M475.5 322.5h1.0M482.5 313h1.0M486 316h1.0M485 312.5h1.0M488.5 318.5h1.0M490 317h1.0M484 317.5h1.0M474 321h1.0" stroke="#000" stroke-width="1.0" fill="none"/>
<rect x="298.25" y="149.5" width="96.25" height="95.5" fill="none" stroke="#222" stroke-width="1.35"/>
<path d="M298.25 245.7v2.2M305.49 245.7v1.1M309.73 245.7v1.1M312.74 245.7v1.1M315.07 245.7v1.1M316.97 245.7v1.1M318.59 245.7v1.1M319.98 245.7v1.1M321.21 245.7v1.1M322.31 245.7v2.2M329.56 245.7v1.1M333.79 245.7v1.1M336.8 245.7v1.1M339.13 245.7v1.1M341.04 245.7v1.1M342.65 245.7v1.1M344.04 245.7v1.1M345.27 245.7v1.1M346.38 245.7v2.2M353.62 245.7v1.1M357.86 245.7v1.1M360.86 245.7v1.1M363.19 245.7v1.1M365.1 245.7v1.1M366.71 245.7v1.1M368.11 245.7v1.1M369.34 245.7v1.1M370.44 245.7v2.2M377.68 245.7v1.1M381.92 245.7v1.1M384.92 245.7v1.1M387.26 245.7v1.1M389.16 245.7v1.1M390.77 245.7v1.1M392.17 245.7v1.1M393.4 245.7v1.1M394.5 245.7v2.2" stroke="#444" stroke-width="0.5" fill="none"/>
<path d="M297.55 245h-2.2M297.55 237.81h-1.1M297.55 233.61h-1.1M297.55 230.63h-1.1M297.55 228.31h-1.1M297.55 226.42h-1.1M297.55 224.82h-1.1M297.55 223.44h-1.1M297.55 222.22h-1.1M297.55 221.12h-2.2M297.55 213.94h-1.1M297.55 209.73h-1.1M297.55 206.75h-1.1M297.55 204.44h-1.1M297.55 202.55h-1.1M297.55 200.95h-1.1M297.55 199.56h-1.1M297.55 198.34h-1.1M297.55 197.25h-2.2M297.55 190.06h-1.1M297.55 185.86h-1.1M297.55 182.88h-1.1M297.55 180.56h-1.1M297.55 178.67h-1.1M297.55 177.07h-1.1M297.55 175.69h-1.1M297.55 174.47h-1.1M297.55 173.38h-2.2M297.55 166.19h-1.1M297.55 161.98h-1.1M297.55 159h-1.1M297.55 156.69h-1.1M297.55 154.8h-1.1M297.55 153.2h-1.1M297.55 151.81h-1.1M297.55 150.59h-1.1M297.55 149.5h-2.2" stroke="#444" stroke-width="0.5" fill="none"/>
<text x="298.55" y="255.1" font-size="6.7" class="s" text-anchor="middle" fill="#111">1</text>
<text x="295.65" y="248.6" font-size="8.1" class="s" text-anchor="end" fill="#111">1</text>
<text x="322.61" y="255.1" font-size="6.7" class="s" text-anchor="middle" fill="#111">10</text>
<text x="295.65" y="224.72" font-size="8.1" class="s" text-anchor="end" fill="#111">10</text>
<text x="346.68" y="255.1" font-size="6.7" class="s" text-anchor="middle" fill="#111">100</text>
<text x="295.65" y="200.85" font-size="8.1" class="s" text-anchor="end" fill="#111">100</text>
<text x="370.74" y="255.1" font-size="6.7" class="s" text-anchor="middle" fill="#111">1000</text>
<text x="295.65" y="176.97" font-size="8.1" class="s" text-anchor="end" fill="#111">1000</text>
<text x="394.8" y="255.1" font-size="6.7" class="s" text-anchor="middle" fill="#111">10000</text>
<text x="295.65" y="153.1" font-size="8.1" class="s" text-anchor="end" fill="#111">10000</text>
<rect x="404.25" y="149.5" width="95.75" height="95.5" fill="none" stroke="#222" stroke-width="1.35"/>
<path d="M404.25 245.7v2.2M411.46 245.7v1.1M415.67 245.7v1.1M418.66 245.7v1.1M420.98 245.7v1.1M422.88 245.7v1.1M424.48 245.7v1.1M425.87 245.7v1.1M427.09 245.7v1.1M428.19 245.7v2.2M435.39 245.7v1.1M439.61 245.7v1.1M442.6 245.7v1.1M444.92 245.7v1.1M446.81 245.7v1.1M448.42 245.7v1.1M449.81 245.7v1.1M451.03 245.7v1.1M452.12 245.7v2.2M459.33 245.7v1.1M463.55 245.7v1.1M466.54 245.7v1.1M468.86 245.7v1.1M470.75 245.7v1.1M472.35 245.7v1.1M473.74 245.7v1.1M474.97 245.7v1.1M476.06 245.7v2.2M483.27 245.7v1.1M487.48 245.7v1.1M490.47 245.7v1.1M492.79 245.7v1.1M494.69 245.7v1.1M496.29 245.7v1.1M497.68 245.7v1.1M498.9 245.7v1.1M500 245.7v2.2" stroke="#444" stroke-width="0.5" fill="none"/>
<path d="M403.55 245h-2.2M403.55 237.81h-1.1M403.55 233.61h-1.1M403.55 230.63h-1.1M403.55 228.31h-1.1M403.55 226.42h-1.1M403.55 224.82h-1.1M403.55 223.44h-1.1M403.55 222.22h-1.1M403.55 221.12h-2.2M403.55 213.94h-1.1M403.55 209.73h-1.1M403.55 206.75h-1.1M403.55 204.44h-1.1M403.55 202.55h-1.1M403.55 200.95h-1.1M403.55 199.56h-1.1M403.55 198.34h-1.1M403.55 197.25h-2.2M403.55 190.06h-1.1M403.55 185.86h-1.1M403.55 182.88h-1.1M403.55 180.56h-1.1M403.55 178.67h-1.1M403.55 177.07h-1.1M403.55 175.69h-1.1M403.55 174.47h-1.1M403.55 173.38h-2.2M403.55 166.19h-1.1M403.55 161.98h-1.1M403.55 159h-1.1M403.55 156.69h-1.1M403.55 154.8h-1.1M403.55 153.2h-1.1M403.55 151.81h-1.1M403.55 150.59h-1.1M403.55 149.5h-2.2" stroke="#444" stroke-width="0.5" fill="none"/>
<text x="404.55" y="255.1" font-size="6.7" class="s" text-anchor="middle" fill="#111">1</text>
<text x="428.49" y="255.1" font-size="6.7" class="s" text-anchor="middle" fill="#111">10</text>
<text x="452.43" y="255.1" font-size="6.7" class="s" text-anchor="middle" fill="#111">100</text>
<text x="476.36" y="255.1" font-size="6.7" class="s" text-anchor="middle" fill="#111">1000</text>
<text x="500.3" y="255.1" font-size="6.7" class="s" text-anchor="middle" fill="#111">10000</text>
<rect x="298.25" y="257" width="96.25" height="95.5" fill="none" stroke="#222" stroke-width="1.35"/>
<path d="M298.25 353.2v2.2M305.49 353.2v1.1M309.73 353.2v1.1M312.74 353.2v1.1M315.07 353.2v1.1M316.97 353.2v1.1M318.59 353.2v1.1M319.98 353.2v1.1M321.21 353.2v1.1M322.31 353.2v2.2M329.56 353.2v1.1M333.79 353.2v1.1M336.8 353.2v1.1M339.13 353.2v1.1M341.04 353.2v1.1M342.65 353.2v1.1M344.04 353.2v1.1M345.27 353.2v1.1M346.38 353.2v2.2M353.62 353.2v1.1M357.86 353.2v1.1M360.86 353.2v1.1M363.19 353.2v1.1M365.1 353.2v1.1M366.71 353.2v1.1M368.11 353.2v1.1M369.34 353.2v1.1M370.44 353.2v2.2M377.68 353.2v1.1M381.92 353.2v1.1M384.92 353.2v1.1M387.26 353.2v1.1M389.16 353.2v1.1M390.77 353.2v1.1M392.17 353.2v1.1M393.4 353.2v1.1M394.5 353.2v2.2" stroke="#444" stroke-width="0.5" fill="none"/>
<path d="M297.55 352.5h-2.2M297.55 345.31h-1.1M297.55 341.11h-1.1M297.55 338.13h-1.1M297.55 335.81h-1.1M297.55 333.92h-1.1M297.55 332.32h-1.1M297.55 330.94h-1.1M297.55 329.72h-1.1M297.55 328.62h-2.2M297.55 321.44h-1.1M297.55 317.23h-1.1M297.55 314.25h-1.1M297.55 311.94h-1.1M297.55 310.05h-1.1M297.55 308.45h-1.1M297.55 307.06h-1.1M297.55 305.84h-1.1M297.55 304.75h-2.2M297.55 297.56h-1.1M297.55 293.36h-1.1M297.55 290.38h-1.1M297.55 288.06h-1.1M297.55 286.17h-1.1M297.55 284.57h-1.1M297.55 283.19h-1.1M297.55 281.97h-1.1M297.55 280.88h-2.2M297.55 273.69h-1.1M297.55 269.48h-1.1M297.55 266.5h-1.1M297.55 264.19h-1.1M297.55 262.3h-1.1M297.55 260.7h-1.1M297.55 259.31h-1.1M297.55 258.09h-1.1M297.55 257h-2.2" stroke="#444" stroke-width="0.5" fill="none"/>
<text x="298.55" y="362.6" font-size="6.7" class="s" text-anchor="middle" fill="#111">1</text>
<text x="295.65" y="356.1" font-size="8.1" class="s" text-anchor="end" fill="#111">1</text>
<text x="322.61" y="362.6" font-size="6.7" class="s" text-anchor="middle" fill="#111">10</text>
<text x="295.65" y="332.23" font-size="8.1" class="s" text-anchor="end" fill="#111">10</text>
<text x="346.68" y="362.6" font-size="6.7" class="s" text-anchor="middle" fill="#111">100</text>
<text x="295.65" y="308.35" font-size="8.1" class="s" text-anchor="end" fill="#111">100</text>
<text x="370.74" y="362.6" font-size="6.7" class="s" text-anchor="middle" fill="#111">1000</text>
<text x="295.65" y="284.48" font-size="8.1" class="s" text-anchor="end" fill="#111">1000</text>
<text x="394.8" y="362.6" font-size="6.7" class="s" text-anchor="middle" fill="#111">10000</text>
<text x="295.65" y="260.6" font-size="8.1" class="s" text-anchor="end" fill="#111">10000</text>
<rect x="404.25" y="257" width="95.75" height="95.5" fill="none" stroke="#222" stroke-width="1.35"/>
<path d="M404.25 353.2v2.2M411.46 353.2v1.1M415.67 353.2v1.1M418.66 353.2v1.1M420.98 353.2v1.1M422.88 353.2v1.1M424.48 353.2v1.1M425.87 353.2v1.1M427.09 353.2v1.1M428.19 353.2v2.2M435.39 353.2v1.1M439.61 353.2v1.1M442.6 353.2v1.1M444.92 353.2v1.1M446.81 353.2v1.1M448.42 353.2v1.1M449.81 353.2v1.1M451.03 353.2v1.1M452.12 353.2v2.2M459.33 353.2v1.1M463.55 353.2v1.1M466.54 353.2v1.1M468.86 353.2v1.1M470.75 353.2v1.1M472.35 353.2v1.1M473.74 353.2v1.1M474.97 353.2v1.1M476.06 353.2v2.2M483.27 353.2v1.1M487.48 353.2v1.1M490.47 353.2v1.1M492.79 353.2v1.1M494.69 353.2v1.1M496.29 353.2v1.1M497.68 353.2v1.1M498.9 353.2v1.1M500 353.2v2.2" stroke="#444" stroke-width="0.5" fill="none"/>
<path d="M403.55 352.5h-2.2M403.55 345.31h-1.1M403.55 341.11h-1.1M403.55 338.13h-1.1M403.55 335.81h-1.1M403.55 333.92h-1.1M403.55 332.32h-1.1M403.55 330.94h-1.1M403.55 329.72h-1.1M403.55 328.62h-2.2M403.55 321.44h-1.1M403.55 317.23h-1.1M403.55 314.25h-1.1M403.55 311.94h-1.1M403.55 310.05h-1.1M403.55 308.45h-1.1M403.55 307.06h-1.1M403.55 305.84h-1.1M403.55 304.75h-2.2M403.55 297.56h-1.1M403.55 293.36h-1.1M403.55 290.38h-1.1M403.55 288.06h-1.1M403.55 286.17h-1.1M403.55 284.57h-1.1M403.55 283.19h-1.1M403.55 281.97h-1.1M403.55 280.88h-2.2M403.55 273.69h-1.1M403.55 269.48h-1.1M403.55 266.5h-1.1M403.55 264.19h-1.1M403.55 262.3h-1.1M403.55 260.7h-1.1M403.55 259.31h-1.1M403.55 258.09h-1.1M403.55 257h-2.2" stroke="#444" stroke-width="0.5" fill="none"/>
<text x="404.55" y="362.6" font-size="6.7" class="s" text-anchor="middle" fill="#111">1</text>
<text x="428.49" y="362.6" font-size="6.7" class="s" text-anchor="middle" fill="#111">10</text>
<text x="452.43" y="362.6" font-size="6.7" class="s" text-anchor="middle" fill="#111">100</text>
<text x="476.36" y="362.6" font-size="6.7" class="s" text-anchor="middle" fill="#111">1000</text>
<text x="500.3" y="362.6" font-size="6.7" class="s" text-anchor="middle" fill="#111">10000</text>
<rect x="299.85" y="151" width="14.13" height="8.6" fill="#fff"/>
<text x="300.45" y="158.4" font-size="9.3" font-weight="bold" text-anchor="start" fill="#111">2.2</text>
<rect x="379.37" y="151" width="14.13" height="8.6" fill="#fff"/>
<text x="392.9" y="158.4" font-size="9.3" font-weight="bold" text-anchor="end" fill="#111">0.9</text>
<rect x="299.85" y="235" width="19.3" height="8.6" fill="#fff"/>
<text x="300.45" y="242.4" font-size="9.3" font-weight="bold" text-anchor="start" fill="#111">45.8</text>
<rect x="374.2" y="235" width="19.3" height="8.6" fill="#fff"/>
<text x="392.9" y="242.4" font-size="9.3" font-weight="bold" text-anchor="end" fill="#111">51.1</text>
<rect x="405.85" y="151" width="14.13" height="8.6" fill="#fff"/>
<text x="406.45" y="158.4" font-size="9.3" font-weight="bold" text-anchor="start" fill="#111">0.9</text>
<rect x="479.7" y="151" width="19.3" height="8.6" fill="#fff"/>
<text x="498.4" y="158.4" font-size="9.3" font-weight="bold" text-anchor="end" fill="#111">76.8</text>
<rect x="405.85" y="235" width="14.13" height="8.6" fill="#fff"/>
<text x="406.45" y="242.4" font-size="9.3" font-weight="bold" text-anchor="start" fill="#111">0.5</text>
<rect x="479.7" y="235" width="19.3" height="8.6" fill="#fff"/>
<text x="498.4" y="242.4" font-size="9.3" font-weight="bold" text-anchor="end" fill="#111">21.8</text>
<rect x="299.85" y="258.5" width="14.13" height="8.6" fill="#fff"/>
<text x="300.45" y="265.9" font-size="9.3" font-weight="bold" text-anchor="start" fill="#111">5.0</text>
<rect x="379.37" y="258.5" width="14.13" height="8.6" fill="#fff"/>
<text x="392.9" y="265.9" font-size="9.3" font-weight="bold" text-anchor="end" fill="#111">8.7</text>
<rect x="299.85" y="342.5" width="19.3" height="8.6" fill="#fff"/>
<text x="300.45" y="349.9" font-size="9.3" font-weight="bold" text-anchor="start" fill="#111">42.3</text>
<rect x="374.2" y="342.5" width="19.3" height="8.6" fill="#fff"/>
<text x="392.9" y="349.9" font-size="9.3" font-weight="bold" text-anchor="end" fill="#111">44.0</text>
<rect x="405.85" y="258.5" width="14.13" height="8.6" fill="#fff"/>
<text x="406.45" y="265.9" font-size="9.3" font-weight="bold" text-anchor="start" fill="#111">0.6</text>
<rect x="479.7" y="258.5" width="19.3" height="8.6" fill="#fff"/>
<text x="498.4" y="265.9" font-size="9.3" font-weight="bold" text-anchor="end" fill="#111">84.8</text>
<rect x="405.85" y="342.5" width="14.13" height="8.6" fill="#fff"/>
<text x="406.45" y="349.9" font-size="9.3" font-weight="bold" text-anchor="start" fill="#111">0.9</text>
<rect x="479.7" y="342.5" width="19.3" height="8.6" fill="#fff"/>
<text x="498.4" y="349.9" font-size="9.3" font-weight="bold" text-anchor="end" fill="#111">13.7</text>
<text x="281.3" y="204" font-size="8.5" text-anchor="middle" font-weight="bold" transform="rotate(-90 281.3 204)" fill="#111">CCR7</text>
<text x="281.3" y="306" font-size="8.5" text-anchor="middle" font-weight="bold" transform="rotate(-90 281.3 306)" fill="#111">CD27</text>
<text x="306.5" y="255.3" font-size="9" text-anchor="middle" font-weight="bold" fill="#111">v</text>
<text x="510" y="255.3" font-size="9" font-weight="bold" fill="#111">vi</text>
<text x="298.5" y="372" font-size="9" font-weight="bold" fill="#111">CD62L</text>
<line x1="332" y1="368" x2="488" y2="368" stroke="#555" stroke-width="0.9"/>
<path d="M492 368L485.5 365.6V370.4Z" fill="#111"/>
</g>
<g id="D">
<text x="270.5" y="405.3" font-size="17" font-weight="bold" fill="#000">D</text>
<line x1="302.5" y1="411.5" x2="302.5" y2="538" stroke="#333" stroke-width="0.8"/>
<line x1="302.5" y1="538" x2="507.5" y2="538" stroke="#333" stroke-width="0.8"/>
<line x1="299.9" y1="538" x2="302.5" y2="538" stroke="#333" stroke-width="0.6"/>
<line x1="301.1" y1="529.65" x2="302.5" y2="529.65" stroke="#333" stroke-width="0.6"/>
<line x1="299.9" y1="521.3" x2="302.5" y2="521.3" stroke="#333" stroke-width="0.6"/>
<line x1="301.1" y1="512.95" x2="302.5" y2="512.95" stroke="#333" stroke-width="0.6"/>
<line x1="299.9" y1="504.6" x2="302.5" y2="504.6" stroke="#333" stroke-width="0.6"/>
<line x1="301.1" y1="496.25" x2="302.5" y2="496.25" stroke="#333" stroke-width="0.6"/>
<line x1="299.9" y1="487.9" x2="302.5" y2="487.9" stroke="#333" stroke-width="0.6"/>
<line x1="301.1" y1="479.55" x2="302.5" y2="479.55" stroke="#333" stroke-width="0.6"/>
<line x1="299.9" y1="471.2" x2="302.5" y2="471.2" stroke="#333" stroke-width="0.6"/>
<line x1="301.1" y1="462.85" x2="302.5" y2="462.85" stroke="#333" stroke-width="0.6"/>
<line x1="299.9" y1="454.5" x2="302.5" y2="454.5" stroke="#333" stroke-width="0.6"/>
<line x1="301.1" y1="446.15" x2="302.5" y2="446.15" stroke="#333" stroke-width="0.6"/>
<line x1="299.9" y1="437.8" x2="302.5" y2="437.8" stroke="#333" stroke-width="0.6"/>
<line x1="301.1" y1="429.45" x2="302.5" y2="429.45" stroke="#333" stroke-width="0.6"/>
<line x1="299.9" y1="421.1" x2="302.5" y2="421.1" stroke="#333" stroke-width="0.6"/>
<text x="299" y="540.9" font-size="8" class="s" text-anchor="end" fill="#111">0</text>
<text x="299" y="524.2" font-size="8" class="s" text-anchor="end" fill="#111">20</text>
<text x="299" y="507.5" font-size="8" class="s" text-anchor="end" fill="#111">40</text>
<text x="299" y="490.8" font-size="8" class="s" text-anchor="end" fill="#111">60</text>
<text x="299" y="474.1" font-size="8" class="s" text-anchor="end" fill="#111">80</text>
<text x="299" y="457.4" font-size="8" class="s" text-anchor="end" fill="#111">100</text>
<text x="299" y="440.7" font-size="8" class="s" text-anchor="end" fill="#111">120</text>
<text x="299" y="424" font-size="8" class="s" text-anchor="end" fill="#111">140</text>
<line x1="473.25" y1="411" x2="473.25" y2="538" stroke="#555" stroke-width="0.8"/>
<line x1="308.97" y1="454.5" x2="308.97" y2="450" stroke="#444" stroke-width="0.6"/>
<line x1="307.67" y1="450" x2="310.27" y2="450" stroke="#444" stroke-width="0.6"/>
<rect x="306.2" y="454.5" width="5.55" height="83.5" fill="#fff" stroke="#333" stroke-width="0.6"/>
<line x1="314.52" y1="454.5" x2="314.52" y2="451" stroke="#444" stroke-width="0.6"/>
<line x1="313.22" y1="451" x2="315.82" y2="451" stroke="#444" stroke-width="0.6"/>
<rect x="311.75" y="454.5" width="5.55" height="83.5" fill="#e2e2e2" stroke="#333" stroke-width="0.6"/>
<line x1="320.07" y1="454.5" x2="320.07" y2="442" stroke="#444" stroke-width="0.6"/>
<line x1="318.77" y1="442" x2="321.38" y2="442" stroke="#444" stroke-width="0.6"/>
<rect x="317.3" y="454.5" width="5.55" height="83.5" fill="#7d7d7d" stroke="#333" stroke-width="0.6"/>
<line x1="331.67" y1="525" x2="331.67" y2="523.3" stroke="#444" stroke-width="0.6"/>
<line x1="330.37" y1="523.3" x2="332.97" y2="523.3" stroke="#444" stroke-width="0.6"/>
<rect x="328.9" y="525" width="5.55" height="13" fill="#fff" stroke="#333" stroke-width="0.6"/>
<line x1="337.22" y1="537" x2="337.22" y2="536.6" stroke="#444" stroke-width="0.6"/>
<line x1="335.92" y1="536.6" x2="338.52" y2="536.6" stroke="#444" stroke-width="0.6"/>
<rect x="334.45" y="537" width="5.55" height="1" fill="#e2e2e2" stroke="#333" stroke-width="0.6"/>
<line x1="342.77" y1="535.8" x2="342.77" y2="535.2" stroke="#444" stroke-width="0.6"/>
<line x1="341.47" y1="535.2" x2="344.07" y2="535.2" stroke="#444" stroke-width="0.6"/>
<rect x="340" y="535.8" width="5.55" height="2.2" fill="#7d7d7d" stroke="#333" stroke-width="0.6"/>
<line x1="354.67" y1="460" x2="354.67" y2="454" stroke="#444" stroke-width="0.6"/>
<line x1="353.37" y1="454" x2="355.97" y2="454" stroke="#444" stroke-width="0.6"/>
<rect x="351.9" y="460" width="5.55" height="78" fill="#fff" stroke="#333" stroke-width="0.6"/>
<line x1="360.22" y1="483" x2="360.22" y2="480" stroke="#444" stroke-width="0.6"/>
<line x1="358.92" y1="480" x2="361.52" y2="480" stroke="#444" stroke-width="0.6"/>
<rect x="357.45" y="483" width="5.55" height="55" fill="#e2e2e2" stroke="#333" stroke-width="0.6"/>
<line x1="365.77" y1="489.5" x2="365.77" y2="484.5" stroke="#444" stroke-width="0.6"/>
<line x1="364.47" y1="484.5" x2="367.07" y2="484.5" stroke="#444" stroke-width="0.6"/>
<rect x="363" y="489.5" width="5.55" height="48.5" fill="#7d7d7d" stroke="#333" stroke-width="0.6"/>
<line x1="377.17" y1="470" x2="377.17" y2="465.5" stroke="#444" stroke-width="0.6"/>
<line x1="375.87" y1="465.5" x2="378.47" y2="465.5" stroke="#444" stroke-width="0.6"/>
<rect x="374.4" y="470" width="5.55" height="68" fill="#fff" stroke="#333" stroke-width="0.6"/>
<line x1="382.72" y1="490.5" x2="382.72" y2="488.5" stroke="#444" stroke-width="0.6"/>
<line x1="381.42" y1="488.5" x2="384.02" y2="488.5" stroke="#444" stroke-width="0.6"/>
<rect x="379.95" y="490.5" width="5.55" height="47.5" fill="#e2e2e2" stroke="#333" stroke-width="0.6"/>
<line x1="388.27" y1="491" x2="388.27" y2="486" stroke="#444" stroke-width="0.6"/>
<line x1="386.97" y1="486" x2="389.57" y2="486" stroke="#444" stroke-width="0.6"/>
<rect x="385.5" y="491" width="5.55" height="47" fill="#7d7d7d" stroke="#333" stroke-width="0.6"/>
<line x1="400.17" y1="470.5" x2="400.17" y2="470" stroke="#444" stroke-width="0.6"/>
<line x1="398.87" y1="470" x2="401.47" y2="470" stroke="#444" stroke-width="0.6"/>
<rect x="397.4" y="470.5" width="5.55" height="67.5" fill="#fff" stroke="#333" stroke-width="0.6"/>
<line x1="405.72" y1="495" x2="405.72" y2="492.5" stroke="#444" stroke-width="0.6"/>
<line x1="404.42" y1="492.5" x2="407.02" y2="492.5" stroke="#444" stroke-width="0.6"/>
<rect x="402.95" y="495" width="5.55" height="43" fill="#e2e2e2" stroke="#333" stroke-width="0.6"/>
<line x1="411.27" y1="501.2" x2="411.27" y2="497" stroke="#444" stroke-width="0.6"/>
<line x1="409.97" y1="497" x2="412.57" y2="497" stroke="#444" stroke-width="0.6"/>
<rect x="408.5" y="501.2" width="5.55" height="36.8" fill="#7d7d7d" stroke="#333" stroke-width="0.6"/>
<line x1="422.47" y1="475.5" x2="422.47" y2="472.5" stroke="#444" stroke-width="0.6"/>
<line x1="421.17" y1="472.5" x2="423.77" y2="472.5" stroke="#444" stroke-width="0.6"/>
<rect x="419.7" y="475.5" width="5.55" height="62.5" fill="#fff" stroke="#333" stroke-width="0.6"/>
<line x1="428.02" y1="497" x2="428.02" y2="496.2" stroke="#444" stroke-width="0.6"/>
<line x1="426.72" y1="496.2" x2="429.32" y2="496.2" stroke="#444" stroke-width="0.6"/>
<rect x="425.25" y="497" width="5.55" height="41" fill="#e2e2e2" stroke="#333" stroke-width="0.6"/>
<line x1="433.57" y1="515" x2="433.57" y2="510.7" stroke="#444" stroke-width="0.6"/>
<line x1="432.27" y1="510.7" x2="434.88" y2="510.7" stroke="#444" stroke-width="0.6"/>
<rect x="430.8" y="515" width="5.55" height="23" fill="#7d7d7d" stroke="#333" stroke-width="0.6"/>
<line x1="445.38" y1="484.5" x2="445.38" y2="482.5" stroke="#444" stroke-width="0.6"/>
<line x1="444.07" y1="482.5" x2="446.68" y2="482.5" stroke="#444" stroke-width="0.6"/>
<rect x="442.6" y="484.5" width="5.55" height="53.5" fill="#fff" stroke="#333" stroke-width="0.6"/>
<line x1="450.93" y1="507" x2="450.93" y2="505" stroke="#444" stroke-width="0.6"/>
<line x1="449.62" y1="505" x2="452.23" y2="505" stroke="#444" stroke-width="0.6"/>
<rect x="448.15" y="507" width="5.55" height="31" fill="#e2e2e2" stroke="#333" stroke-width="0.6"/>
<line x1="456.48" y1="521.2" x2="456.48" y2="518.2" stroke="#444" stroke-width="0.6"/>
<line x1="455.18" y1="518.2" x2="457.78" y2="518.2" stroke="#444" stroke-width="0.6"/>
<rect x="453.7" y="521.2" width="5.55" height="16.8" fill="#7d7d7d" stroke="#333" stroke-width="0.6"/>
<line x1="490.97" y1="441.2" x2="490.97" y2="437.5" stroke="#444" stroke-width="0.6"/>
<line x1="489.67" y1="437.5" x2="492.27" y2="437.5" stroke="#444" stroke-width="0.6"/>
<rect x="488.2" y="441.2" width="5.55" height="96.8" fill="#fff" stroke="#333" stroke-width="0.6"/>
<line x1="496.52" y1="437.5" x2="496.52" y2="429" stroke="#444" stroke-width="0.6"/>
<line x1="495.22" y1="429" x2="497.82" y2="429" stroke="#444" stroke-width="0.6"/>
<rect x="493.75" y="437.5" width="5.55" height="100.5" fill="#e2e2e2" stroke="#333" stroke-width="0.6"/>
<line x1="502.07" y1="419.2" x2="502.07" y2="415" stroke="#444" stroke-width="0.6"/>
<line x1="500.77" y1="415" x2="503.38" y2="415" stroke="#444" stroke-width="0.6"/>
<rect x="499.3" y="419.2" width="5.55" height="118.8" fill="#7d7d7d" stroke="#333" stroke-width="0.6"/>
<text x="314.2" y="547.6" font-size="7.6" class="s" text-anchor="middle" fill="#111">Tresp</text>
<text x="337.5" y="547.6" font-size="7.6" class="s" text-anchor="middle" fill="#111">CD25hi</text>
<text x="360.2" y="547.6" font-size="7.6" class="s" text-anchor="middle" fill="#111">1:16</text>
<text x="381.5" y="547.6" font-size="7.6" class="s" text-anchor="middle" fill="#111">1:8</text>
<text x="403.8" y="547.6" font-size="7.6" class="s" text-anchor="middle" fill="#111">1:4</text>
<text x="427.5" y="547.6" font-size="7.6" class="s" text-anchor="middle" fill="#111">1:2</text>
<text x="450.3" y="547.6" font-size="7.6" class="s" text-anchor="middle" fill="#111">1:1</text>
<text x="495.5" y="547.6" font-size="7.6" class="s" text-anchor="middle" fill="#111">1:1</text>
<text x="416.3" y="560.6" font-size="7.6" class="s" text-anchor="middle" fill="#111">Ratio CD25hi: Tresp</text>
<text x="473.3" y="560.6" font-size="7.6" class="s" fill="#111">CD25<tspan dy="-2.6" font-size="5.5">—</tspan><tspan dy="2.6">: Tresp</tspan></text>
<rect x="443.8" y="418" width="4.2" height="4" fill="#fff" stroke="#333" stroke-width="0.6"/>
<text x="452" y="422.9" font-size="8" class="s" fill="#111">d0</text>
<rect x="443.8" y="432" width="4.2" height="4" fill="#e2e2e2" stroke="#333" stroke-width="0.6"/>
<text x="452" y="436.9" font-size="8" class="s" fill="#111">d15</text>
<rect x="443.8" y="446.2" width="4.2" height="4" fill="#7d7d7d" stroke="#333" stroke-width="0.6"/>
<text x="452" y="451.1" font-size="8" class="s" fill="#111">d24</text>
<text x="279.5" y="471" font-size="9.4" text-anchor="middle" transform="rotate(-90 279.5 471)" fill="#111"><tspan dy="-3" font-size="6.5">3</tspan><tspan dy="3">H-TdR uptake (% of control)</tspan></text>
</g>
</svg>
</div></body></html>
